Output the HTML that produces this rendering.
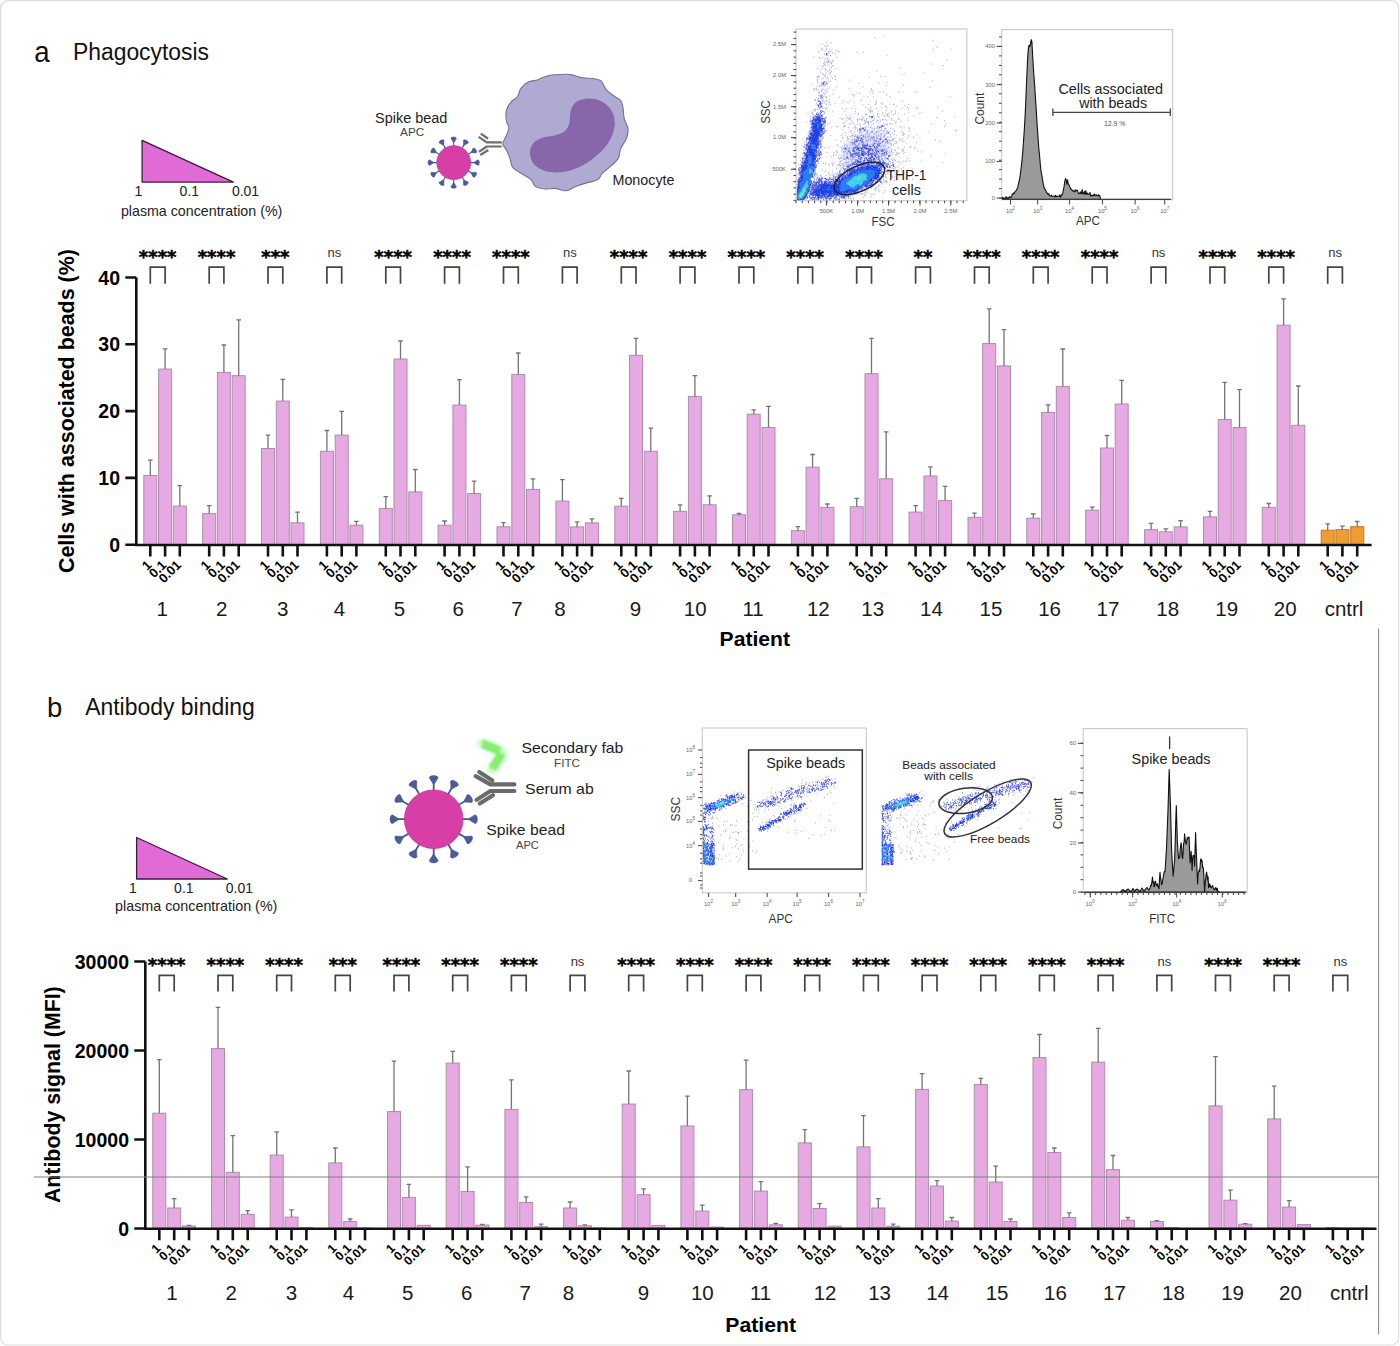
<!DOCTYPE html><html><head><meta charset="utf-8"><title>Figure</title><style>html,body{margin:0;padding:0;background:#fff;}svg{display:block;}text{font-family:"Liberation Sans", sans-serif;}</style></head><body>
<svg width="1400" height="1346" viewBox="0 0 1400 1346">
<rect x="0" y="0" width="1400" height="1346" fill="#fff"/>
<rect x="0.6" y="0.6" width="1398.2" height="1344.4" rx="7.5" fill="#fff" stroke="#dedede" stroke-width="1.2"/>
<text x="34.2" y="61.8" font-size="29.5" fill="#111" textLength="15.4" lengthAdjust="spacingAndGlyphs">a</text>
<text x="73" y="59.7" font-size="23.3" fill="#111" textLength="136" lengthAdjust="spacingAndGlyphs">Phagocytosis</text>
<text x="47" y="716.7" font-size="27.5" fill="#111">b</text>
<text x="85.2" y="715.1" font-size="23.3" fill="#111" textLength="169.6" lengthAdjust="spacingAndGlyphs">Antibody binding</text>
<path d="M142.1 140.3L233.4 182.1H142.1Z" fill="#e06ad6" stroke="#3c1a3c" stroke-width="1.3" stroke-linejoin="round"/>
<text x="134.6" y="196.4" font-size="14" fill="#222">1</text>
<text x="179.6" y="196.4" font-size="14" fill="#222">0.1</text>
<text x="231.9" y="196.4" font-size="14" fill="#222">0.01</text>
<text x="120.9" y="215.5" font-size="14.2" fill="#222" textLength="161.4" lengthAdjust="spacingAndGlyphs">plasma concentration (%)</text>
<path d="M136.6 837.5L227.3 879H136.6Z" fill="#e06ad6" stroke="#3c1a3c" stroke-width="1.3" stroke-linejoin="round"/>
<text x="129.1" y="892.9" font-size="14" fill="#222">1</text>
<text x="174.1" y="892.9" font-size="14" fill="#222">0.1</text>
<text x="225.8" y="892.9" font-size="14" fill="#222">0.01</text>
<text x="115.1" y="910.9" font-size="14.2" fill="#222" textLength="162.3" lengthAdjust="spacingAndGlyphs">plasma concentration (%)</text>
<rect x="143.8" y="475.5" width="13" height="69.2" fill="#e6a9e1" stroke="#ad8dad" stroke-width="1"/>
<path d="M150.3 475.5V460.1M148 460.1H152.6" stroke="#747474" stroke-width="1.3" fill="none"/>
<rect x="158.6" y="369.1" width="13" height="175.6" fill="#e6a9e1" stroke="#ad8dad" stroke-width="1"/>
<path d="M165.1 369.1V348.8M162.8 348.8H167.4" stroke="#747474" stroke-width="1.3" fill="none"/>
<rect x="173.3" y="506.1" width="13" height="38.6" fill="#e6a9e1" stroke="#ad8dad" stroke-width="1"/>
<path d="M179.8 506.1V485.7M177.5 485.7H182.1" stroke="#747474" stroke-width="1.3" fill="none"/>
<rect x="202.7" y="513.6" width="13" height="31.1" fill="#e6a9e1" stroke="#ad8dad" stroke-width="1"/>
<path d="M209.2 513.6V505.6M206.9 505.6H211.5" stroke="#747474" stroke-width="1.3" fill="none"/>
<rect x="217.4" y="372.4" width="13" height="172.3" fill="#e6a9e1" stroke="#ad8dad" stroke-width="1"/>
<path d="M223.9 372.4V345.0M221.6 345.0H226.2" stroke="#747474" stroke-width="1.3" fill="none"/>
<rect x="232.2" y="375.7" width="13" height="169.0" fill="#e6a9e1" stroke="#ad8dad" stroke-width="1"/>
<path d="M238.7 375.7V319.9M236.4 319.9H241" stroke="#747474" stroke-width="1.3" fill="none"/>
<rect x="261.5" y="448.5" width="13" height="96.2" fill="#e6a9e1" stroke="#ad8dad" stroke-width="1"/>
<path d="M268 448.5V435.1M265.7 435.1H270.3" stroke="#747474" stroke-width="1.3" fill="none"/>
<rect x="276.3" y="401.1" width="13" height="143.6" fill="#e6a9e1" stroke="#ad8dad" stroke-width="1"/>
<path d="M282.8 401.1V379.3M280.5 379.3H285.1" stroke="#747474" stroke-width="1.3" fill="none"/>
<rect x="291" y="522.8" width="13" height="21.9" fill="#e6a9e1" stroke="#ad8dad" stroke-width="1"/>
<path d="M297.5 522.8V512.1M295.2 512.1H299.8" stroke="#747474" stroke-width="1.3" fill="none"/>
<rect x="320.4" y="451.3" width="13" height="93.4" fill="#e6a9e1" stroke="#ad8dad" stroke-width="1"/>
<path d="M326.9 451.3V430.5M324.6 430.5H329.2" stroke="#747474" stroke-width="1.3" fill="none"/>
<rect x="335.2" y="435.1" width="13" height="109.6" fill="#e6a9e1" stroke="#ad8dad" stroke-width="1"/>
<path d="M341.7 435.1V411.4M339.4 411.4H344" stroke="#747474" stroke-width="1.3" fill="none"/>
<rect x="349.9" y="525.2" width="13" height="19.5" fill="#e6a9e1" stroke="#ad8dad" stroke-width="1"/>
<path d="M356.4 525.2V521.3M354.1 521.3H358.7" stroke="#747474" stroke-width="1.3" fill="none"/>
<rect x="379.3" y="508.4" width="13" height="36.3" fill="#e6a9e1" stroke="#ad8dad" stroke-width="1"/>
<path d="M385.8 508.4V496.6M383.5 496.6H388.1" stroke="#747474" stroke-width="1.3" fill="none"/>
<rect x="394" y="359.0" width="13" height="185.7" fill="#e6a9e1" stroke="#ad8dad" stroke-width="1"/>
<path d="M400.5 359.0V341.0M398.2 341.0H402.8" stroke="#747474" stroke-width="1.3" fill="none"/>
<rect x="408.8" y="491.9" width="13" height="52.8" fill="#e6a9e1" stroke="#ad8dad" stroke-width="1"/>
<path d="M415.3 491.9V469.5M413 469.5H417.6" stroke="#747474" stroke-width="1.3" fill="none"/>
<rect x="438.1" y="525.2" width="13" height="19.5" fill="#e6a9e1" stroke="#ad8dad" stroke-width="1"/>
<path d="M444.6 525.2V521.0M442.3 521.0H446.9" stroke="#747474" stroke-width="1.3" fill="none"/>
<rect x="452.9" y="405.1" width="13" height="139.6" fill="#e6a9e1" stroke="#ad8dad" stroke-width="1"/>
<path d="M459.4 405.1V379.7M457.1 379.7H461.7" stroke="#747474" stroke-width="1.3" fill="none"/>
<rect x="467.6" y="493.5" width="13" height="51.2" fill="#e6a9e1" stroke="#ad8dad" stroke-width="1"/>
<path d="M474.1 493.5V481.1M471.8 481.1H476.4" stroke="#747474" stroke-width="1.3" fill="none"/>
<rect x="497" y="526.8" width="13" height="17.9" fill="#e6a9e1" stroke="#ad8dad" stroke-width="1"/>
<path d="M503.5 526.8V522.6M501.2 522.6H505.8" stroke="#747474" stroke-width="1.3" fill="none"/>
<rect x="511.8" y="374.5" width="13" height="170.2" fill="#e6a9e1" stroke="#ad8dad" stroke-width="1"/>
<path d="M518.3 374.5V353.0M516 353.0H520.6" stroke="#747474" stroke-width="1.3" fill="none"/>
<rect x="526.5" y="489.4" width="13" height="55.3" fill="#e6a9e1" stroke="#ad8dad" stroke-width="1"/>
<path d="M533 489.4V478.8M530.7 478.8H535.3" stroke="#747474" stroke-width="1.3" fill="none"/>
<rect x="555.9" y="501.1" width="13" height="43.6" fill="#e6a9e1" stroke="#ad8dad" stroke-width="1"/>
<path d="M562.4 501.1V479.6M560.1 479.6H564.7" stroke="#747474" stroke-width="1.3" fill="none"/>
<rect x="570.6" y="526.9" width="13" height="17.8" fill="#e6a9e1" stroke="#ad8dad" stroke-width="1"/>
<path d="M577.1 526.9V521.9M574.8 521.9H579.4" stroke="#747474" stroke-width="1.3" fill="none"/>
<rect x="585.4" y="522.9" width="13" height="21.8" fill="#e6a9e1" stroke="#ad8dad" stroke-width="1"/>
<path d="M591.9 522.9V518.8M589.6 518.8H594.2" stroke="#747474" stroke-width="1.3" fill="none"/>
<rect x="614.8" y="506.2" width="13" height="38.5" fill="#e6a9e1" stroke="#ad8dad" stroke-width="1"/>
<path d="M621.3 506.2V498.3M619 498.3H623.6" stroke="#747474" stroke-width="1.3" fill="none"/>
<rect x="629.5" y="355.3" width="13" height="189.4" fill="#e6a9e1" stroke="#ad8dad" stroke-width="1"/>
<path d="M636 355.3V338.3M633.7 338.3H638.3" stroke="#747474" stroke-width="1.3" fill="none"/>
<rect x="644.3" y="451.3" width="13" height="93.4" fill="#e6a9e1" stroke="#ad8dad" stroke-width="1"/>
<path d="M650.8 451.3V428.1M648.5 428.1H653.1" stroke="#747474" stroke-width="1.3" fill="none"/>
<rect x="673.6" y="511.3" width="13" height="33.4" fill="#e6a9e1" stroke="#ad8dad" stroke-width="1"/>
<path d="M680.1 511.3V504.8M677.8 504.8H682.4" stroke="#747474" stroke-width="1.3" fill="none"/>
<rect x="688.4" y="396.4" width="13" height="148.3" fill="#e6a9e1" stroke="#ad8dad" stroke-width="1"/>
<path d="M694.9 396.4V375.7M692.6 375.7H697.2" stroke="#747474" stroke-width="1.3" fill="none"/>
<rect x="703.1" y="504.8" width="13" height="39.9" fill="#e6a9e1" stroke="#ad8dad" stroke-width="1"/>
<path d="M709.6 504.8V495.9M707.3 495.9H711.9" stroke="#747474" stroke-width="1.3" fill="none"/>
<rect x="732.5" y="514.8" width="13" height="29.9" fill="#e6a9e1" stroke="#ad8dad" stroke-width="1"/>
<path d="M739 514.8V513.5M736.7 513.5H741.3" stroke="#747474" stroke-width="1.3" fill="none"/>
<rect x="747.2" y="414.2" width="13" height="130.5" fill="#e6a9e1" stroke="#ad8dad" stroke-width="1"/>
<path d="M753.8 414.2V409.8M751.5 409.8H756" stroke="#747474" stroke-width="1.3" fill="none"/>
<rect x="762" y="427.4" width="13" height="117.3" fill="#e6a9e1" stroke="#ad8dad" stroke-width="1"/>
<path d="M768.5 427.4V406.4M766.2 406.4H770.8" stroke="#747474" stroke-width="1.3" fill="none"/>
<rect x="791.4" y="530.7" width="13" height="14.0" fill="#e6a9e1" stroke="#ad8dad" stroke-width="1"/>
<path d="M797.9 530.7V526.7M795.6 526.7H800.2" stroke="#747474" stroke-width="1.3" fill="none"/>
<rect x="806.1" y="467.2" width="13" height="77.5" fill="#e6a9e1" stroke="#ad8dad" stroke-width="1"/>
<path d="M812.6 467.2V454.5M810.3 454.5H814.9" stroke="#747474" stroke-width="1.3" fill="none"/>
<rect x="820.9" y="507.4" width="13" height="37.3" fill="#e6a9e1" stroke="#ad8dad" stroke-width="1"/>
<path d="M827.4 507.4V504.0M825.1 504.0H829.7" stroke="#747474" stroke-width="1.3" fill="none"/>
<rect x="850.2" y="506.7" width="13" height="38.0" fill="#e6a9e1" stroke="#ad8dad" stroke-width="1"/>
<path d="M856.7 506.7V498.3M854.4 498.3H859" stroke="#747474" stroke-width="1.3" fill="none"/>
<rect x="865" y="373.7" width="13" height="171.0" fill="#e6a9e1" stroke="#ad8dad" stroke-width="1"/>
<path d="M871.5 373.7V338.3M869.2 338.3H873.8" stroke="#747474" stroke-width="1.3" fill="none"/>
<rect x="879.7" y="478.8" width="13" height="65.9" fill="#e6a9e1" stroke="#ad8dad" stroke-width="1"/>
<path d="M886.2 478.8V431.8M883.9 431.8H888.5" stroke="#747474" stroke-width="1.3" fill="none"/>
<rect x="909.1" y="512.1" width="13" height="32.6" fill="#e6a9e1" stroke="#ad8dad" stroke-width="1"/>
<path d="M915.6 512.1V505.6M913.3 505.6H917.9" stroke="#747474" stroke-width="1.3" fill="none"/>
<rect x="923.9" y="476.0" width="13" height="68.7" fill="#e6a9e1" stroke="#ad8dad" stroke-width="1"/>
<path d="M930.4 476.0V466.8M928.1 466.8H932.7" stroke="#747474" stroke-width="1.3" fill="none"/>
<rect x="938.6" y="500.6" width="13" height="44.1" fill="#e6a9e1" stroke="#ad8dad" stroke-width="1"/>
<path d="M945.1 500.6V486.3M942.8 486.3H947.4" stroke="#747474" stroke-width="1.3" fill="none"/>
<rect x="968" y="517.3" width="13" height="27.4" fill="#e6a9e1" stroke="#ad8dad" stroke-width="1"/>
<path d="M974.5 517.3V513.2M972.2 513.2H976.8" stroke="#747474" stroke-width="1.3" fill="none"/>
<rect x="982.7" y="343.6" width="13" height="201.1" fill="#e6a9e1" stroke="#ad8dad" stroke-width="1"/>
<path d="M989.2 343.6V308.9M986.9 308.9H991.5" stroke="#747474" stroke-width="1.3" fill="none"/>
<rect x="997.5" y="365.9" width="13" height="178.8" fill="#e6a9e1" stroke="#ad8dad" stroke-width="1"/>
<path d="M1004 365.9V329.6M1001.7 329.6H1006.3" stroke="#747474" stroke-width="1.3" fill="none"/>
<rect x="1026.8" y="518.2" width="13" height="26.5" fill="#e6a9e1" stroke="#ad8dad" stroke-width="1"/>
<path d="M1033.3 518.2V514.0M1031 514.0H1035.6" stroke="#747474" stroke-width="1.3" fill="none"/>
<rect x="1041.6" y="412.4" width="13" height="132.3" fill="#e6a9e1" stroke="#ad8dad" stroke-width="1"/>
<path d="M1048.1 412.4V404.9M1045.8 404.9H1050.4" stroke="#747474" stroke-width="1.3" fill="none"/>
<rect x="1056.3" y="386.4" width="13" height="158.3" fill="#e6a9e1" stroke="#ad8dad" stroke-width="1"/>
<path d="M1062.8 386.4V349.0M1060.5 349.0H1065.1" stroke="#747474" stroke-width="1.3" fill="none"/>
<rect x="1085.7" y="510.2" width="13" height="34.5" fill="#e6a9e1" stroke="#ad8dad" stroke-width="1"/>
<path d="M1092.2 510.2V507.1M1089.9 507.1H1094.5" stroke="#747474" stroke-width="1.3" fill="none"/>
<rect x="1100.5" y="448.0" width="13" height="96.7" fill="#e6a9e1" stroke="#ad8dad" stroke-width="1"/>
<path d="M1107 448.0V435.5M1104.7 435.5H1109.3" stroke="#747474" stroke-width="1.3" fill="none"/>
<rect x="1115.2" y="404.0" width="13" height="140.7" fill="#e6a9e1" stroke="#ad8dad" stroke-width="1"/>
<path d="M1121.7 404.0V380.4M1119.4 380.4H1124" stroke="#747474" stroke-width="1.3" fill="none"/>
<rect x="1144.6" y="529.7" width="13" height="15.0" fill="#e6a9e1" stroke="#ad8dad" stroke-width="1"/>
<path d="M1151.1 529.7V523.4M1148.8 523.4H1153.4" stroke="#747474" stroke-width="1.3" fill="none"/>
<rect x="1159.3" y="531.8" width="13" height="12.9" fill="#e6a9e1" stroke="#ad8dad" stroke-width="1"/>
<path d="M1165.8 531.8V528.8M1163.5 528.8H1168.1" stroke="#747474" stroke-width="1.3" fill="none"/>
<rect x="1174.1" y="526.9" width="13" height="17.8" fill="#e6a9e1" stroke="#ad8dad" stroke-width="1"/>
<path d="M1180.6 526.9V520.7M1178.3 520.7H1182.9" stroke="#747474" stroke-width="1.3" fill="none"/>
<rect x="1203.5" y="516.9" width="13" height="27.8" fill="#e6a9e1" stroke="#ad8dad" stroke-width="1"/>
<path d="M1210 516.9V511.3M1207.7 511.3H1212.3" stroke="#747474" stroke-width="1.3" fill="none"/>
<rect x="1218.2" y="419.5" width="13" height="125.2" fill="#e6a9e1" stroke="#ad8dad" stroke-width="1"/>
<path d="M1224.7 419.5V382.4M1222.4 382.4H1227" stroke="#747474" stroke-width="1.3" fill="none"/>
<rect x="1233" y="427.6" width="13" height="117.1" fill="#e6a9e1" stroke="#ad8dad" stroke-width="1"/>
<path d="M1239.5 427.6V389.7M1237.2 389.7H1241.8" stroke="#747474" stroke-width="1.3" fill="none"/>
<rect x="1262.3" y="507.4" width="13" height="37.3" fill="#e6a9e1" stroke="#ad8dad" stroke-width="1"/>
<path d="M1268.8 507.4V503.5M1266.5 503.5H1271.1" stroke="#747474" stroke-width="1.3" fill="none"/>
<rect x="1277.1" y="325.2" width="13" height="219.5" fill="#e6a9e1" stroke="#ad8dad" stroke-width="1"/>
<path d="M1283.6 325.2V298.9M1281.3 298.9H1285.9" stroke="#747474" stroke-width="1.3" fill="none"/>
<rect x="1291.8" y="425.3" width="13" height="119.4" fill="#e6a9e1" stroke="#ad8dad" stroke-width="1"/>
<path d="M1298.3 425.3V386.0M1296 386.0H1300.6" stroke="#747474" stroke-width="1.3" fill="none"/>
<rect x="1321.2" y="530.2" width="13" height="14.5" fill="#ef9c33" stroke="#c47a22" stroke-width="1"/>
<path d="M1327.7 530.2V523.8M1325.4 523.8H1330" stroke="#747474" stroke-width="1.3" fill="none"/>
<rect x="1335.9" y="529.6" width="13" height="15.1" fill="#ef9c33" stroke="#c47a22" stroke-width="1"/>
<path d="M1342.4 529.6V526.1M1340.1 526.1H1344.7" stroke="#747474" stroke-width="1.3" fill="none"/>
<rect x="1350.7" y="526.7" width="13" height="18.0" fill="#ef9c33" stroke="#c47a22" stroke-width="1"/>
<path d="M1357.2 526.7V521.5M1354.9 521.5H1359.5" stroke="#747474" stroke-width="1.3" fill="none"/>
<path d="M136.3 277.5V546.2M135.1 545H1371.6" stroke="#111" stroke-width="2.6" fill="none"/>
<text x="120" y="551.7" font-size="19.5" font-weight="bold" text-anchor="end">0</text>
<text x="120" y="484.9" font-size="19.5" font-weight="bold" text-anchor="end">10</text>
<text x="120" y="418.1" font-size="19.5" font-weight="bold" text-anchor="end">20</text>
<text x="120" y="351.3" font-size="19.5" font-weight="bold" text-anchor="end">30</text>
<text x="120" y="284.5" font-size="19.5" font-weight="bold" text-anchor="end">40</text>
<path d="M125.3 544.7H136.3M125.3 477.9H136.3M125.3 411.1H136.3M125.3 344.3H136.3M125.3 277.5H136.3M150.3 544.7V556.5M165.1 544.7V556.5M179.8 544.7V556.5M209.2 544.7V556.5M223.9 544.7V556.5M238.7 544.7V556.5M268 544.7V556.5M282.8 544.7V556.5M297.5 544.7V556.5M326.9 544.7V556.5M341.7 544.7V556.5M356.4 544.7V556.5M385.8 544.7V556.5M400.5 544.7V556.5M415.3 544.7V556.5M444.6 544.7V556.5M459.4 544.7V556.5M474.1 544.7V556.5M503.5 544.7V556.5M518.3 544.7V556.5M533 544.7V556.5M562.4 544.7V556.5M577.1 544.7V556.5M591.9 544.7V556.5M621.3 544.7V556.5M636 544.7V556.5M650.8 544.7V556.5M680.1 544.7V556.5M694.9 544.7V556.5M709.6 544.7V556.5M739 544.7V556.5M753.8 544.7V556.5M768.5 544.7V556.5M797.9 544.7V556.5M812.6 544.7V556.5M827.4 544.7V556.5M856.7 544.7V556.5M871.5 544.7V556.5M886.2 544.7V556.5M915.6 544.7V556.5M930.4 544.7V556.5M945.1 544.7V556.5M974.5 544.7V556.5M989.2 544.7V556.5M1004 544.7V556.5M1033.3 544.7V556.5M1048.1 544.7V556.5M1062.8 544.7V556.5M1092.2 544.7V556.5M1107 544.7V556.5M1121.7 544.7V556.5M1151.1 544.7V556.5M1165.8 544.7V556.5M1180.6 544.7V556.5M1210 544.7V556.5M1224.7 544.7V556.5M1239.5 544.7V556.5M1268.8 544.7V556.5M1283.6 544.7V556.5M1298.3 544.7V556.5M1327.7 544.7V556.5M1342.4 544.7V556.5M1357.2 544.7V556.5" stroke="#111" stroke-width="2.6" fill="none"/>
<text transform="translate(152.3 565.8) rotate(-45)" font-size="13" font-weight="bold" text-anchor="end">1</text>
<text transform="translate(167.1 565.8) rotate(-45)" font-size="13" font-weight="bold" text-anchor="end">0.1</text>
<text transform="translate(181.8 565.8) rotate(-45)" font-size="13" font-weight="bold" text-anchor="end">0.01</text>
<text transform="translate(211.2 565.8) rotate(-45)" font-size="13" font-weight="bold" text-anchor="end">1</text>
<text transform="translate(225.9 565.8) rotate(-45)" font-size="13" font-weight="bold" text-anchor="end">0.1</text>
<text transform="translate(240.7 565.8) rotate(-45)" font-size="13" font-weight="bold" text-anchor="end">0.01</text>
<text transform="translate(270 565.8) rotate(-45)" font-size="13" font-weight="bold" text-anchor="end">1</text>
<text transform="translate(284.8 565.8) rotate(-45)" font-size="13" font-weight="bold" text-anchor="end">0.1</text>
<text transform="translate(299.5 565.8) rotate(-45)" font-size="13" font-weight="bold" text-anchor="end">0.01</text>
<text transform="translate(328.9 565.8) rotate(-45)" font-size="13" font-weight="bold" text-anchor="end">1</text>
<text transform="translate(343.7 565.8) rotate(-45)" font-size="13" font-weight="bold" text-anchor="end">0.1</text>
<text transform="translate(358.4 565.8) rotate(-45)" font-size="13" font-weight="bold" text-anchor="end">0.01</text>
<text transform="translate(387.8 565.8) rotate(-45)" font-size="13" font-weight="bold" text-anchor="end">1</text>
<text transform="translate(402.5 565.8) rotate(-45)" font-size="13" font-weight="bold" text-anchor="end">0.1</text>
<text transform="translate(417.3 565.8) rotate(-45)" font-size="13" font-weight="bold" text-anchor="end">0.01</text>
<text transform="translate(446.6 565.8) rotate(-45)" font-size="13" font-weight="bold" text-anchor="end">1</text>
<text transform="translate(461.4 565.8) rotate(-45)" font-size="13" font-weight="bold" text-anchor="end">0.1</text>
<text transform="translate(476.1 565.8) rotate(-45)" font-size="13" font-weight="bold" text-anchor="end">0.01</text>
<text transform="translate(505.5 565.8) rotate(-45)" font-size="13" font-weight="bold" text-anchor="end">1</text>
<text transform="translate(520.3 565.8) rotate(-45)" font-size="13" font-weight="bold" text-anchor="end">0.1</text>
<text transform="translate(535 565.8) rotate(-45)" font-size="13" font-weight="bold" text-anchor="end">0.01</text>
<text transform="translate(564.4 565.8) rotate(-45)" font-size="13" font-weight="bold" text-anchor="end">1</text>
<text transform="translate(579.1 565.8) rotate(-45)" font-size="13" font-weight="bold" text-anchor="end">0.1</text>
<text transform="translate(593.9 565.8) rotate(-45)" font-size="13" font-weight="bold" text-anchor="end">0.01</text>
<text transform="translate(623.3 565.8) rotate(-45)" font-size="13" font-weight="bold" text-anchor="end">1</text>
<text transform="translate(638 565.8) rotate(-45)" font-size="13" font-weight="bold" text-anchor="end">0.1</text>
<text transform="translate(652.8 565.8) rotate(-45)" font-size="13" font-weight="bold" text-anchor="end">0.01</text>
<text transform="translate(682.1 565.8) rotate(-45)" font-size="13" font-weight="bold" text-anchor="end">1</text>
<text transform="translate(696.9 565.8) rotate(-45)" font-size="13" font-weight="bold" text-anchor="end">0.1</text>
<text transform="translate(711.6 565.8) rotate(-45)" font-size="13" font-weight="bold" text-anchor="end">0.01</text>
<text transform="translate(741 565.8) rotate(-45)" font-size="13" font-weight="bold" text-anchor="end">1</text>
<text transform="translate(755.8 565.8) rotate(-45)" font-size="13" font-weight="bold" text-anchor="end">0.1</text>
<text transform="translate(770.5 565.8) rotate(-45)" font-size="13" font-weight="bold" text-anchor="end">0.01</text>
<text transform="translate(799.9 565.8) rotate(-45)" font-size="13" font-weight="bold" text-anchor="end">1</text>
<text transform="translate(814.6 565.8) rotate(-45)" font-size="13" font-weight="bold" text-anchor="end">0.1</text>
<text transform="translate(829.4 565.8) rotate(-45)" font-size="13" font-weight="bold" text-anchor="end">0.01</text>
<text transform="translate(858.7 565.8) rotate(-45)" font-size="13" font-weight="bold" text-anchor="end">1</text>
<text transform="translate(873.5 565.8) rotate(-45)" font-size="13" font-weight="bold" text-anchor="end">0.1</text>
<text transform="translate(888.2 565.8) rotate(-45)" font-size="13" font-weight="bold" text-anchor="end">0.01</text>
<text transform="translate(917.6 565.8) rotate(-45)" font-size="13" font-weight="bold" text-anchor="end">1</text>
<text transform="translate(932.4 565.8) rotate(-45)" font-size="13" font-weight="bold" text-anchor="end">0.1</text>
<text transform="translate(947.1 565.8) rotate(-45)" font-size="13" font-weight="bold" text-anchor="end">0.01</text>
<text transform="translate(976.5 565.8) rotate(-45)" font-size="13" font-weight="bold" text-anchor="end">1</text>
<text transform="translate(991.2 565.8) rotate(-45)" font-size="13" font-weight="bold" text-anchor="end">0.1</text>
<text transform="translate(1006 565.8) rotate(-45)" font-size="13" font-weight="bold" text-anchor="end">0.01</text>
<text transform="translate(1035.3 565.8) rotate(-45)" font-size="13" font-weight="bold" text-anchor="end">1</text>
<text transform="translate(1050.1 565.8) rotate(-45)" font-size="13" font-weight="bold" text-anchor="end">0.1</text>
<text transform="translate(1064.8 565.8) rotate(-45)" font-size="13" font-weight="bold" text-anchor="end">0.01</text>
<text transform="translate(1094.2 565.8) rotate(-45)" font-size="13" font-weight="bold" text-anchor="end">1</text>
<text transform="translate(1109 565.8) rotate(-45)" font-size="13" font-weight="bold" text-anchor="end">0.1</text>
<text transform="translate(1123.7 565.8) rotate(-45)" font-size="13" font-weight="bold" text-anchor="end">0.01</text>
<text transform="translate(1153.1 565.8) rotate(-45)" font-size="13" font-weight="bold" text-anchor="end">1</text>
<text transform="translate(1167.8 565.8) rotate(-45)" font-size="13" font-weight="bold" text-anchor="end">0.1</text>
<text transform="translate(1182.6 565.8) rotate(-45)" font-size="13" font-weight="bold" text-anchor="end">0.01</text>
<text transform="translate(1212 565.8) rotate(-45)" font-size="13" font-weight="bold" text-anchor="end">1</text>
<text transform="translate(1226.7 565.8) rotate(-45)" font-size="13" font-weight="bold" text-anchor="end">0.1</text>
<text transform="translate(1241.5 565.8) rotate(-45)" font-size="13" font-weight="bold" text-anchor="end">0.01</text>
<text transform="translate(1270.8 565.8) rotate(-45)" font-size="13" font-weight="bold" text-anchor="end">1</text>
<text transform="translate(1285.6 565.8) rotate(-45)" font-size="13" font-weight="bold" text-anchor="end">0.1</text>
<text transform="translate(1300.3 565.8) rotate(-45)" font-size="13" font-weight="bold" text-anchor="end">0.01</text>
<text transform="translate(1329.7 565.8) rotate(-45)" font-size="13" font-weight="bold" text-anchor="end">1</text>
<text transform="translate(1344.4 565.8) rotate(-45)" font-size="13" font-weight="bold" text-anchor="end">0.1</text>
<text transform="translate(1359.2 565.8) rotate(-45)" font-size="13" font-weight="bold" text-anchor="end">0.01</text>
<text x="162.3" y="616.3" font-size="20.5" text-anchor="middle" fill="#1a1a1a">1</text>
<text x="221.7" y="616.3" font-size="20.5" text-anchor="middle" fill="#1a1a1a">2</text>
<text x="282.6" y="616.3" font-size="20.5" text-anchor="middle" fill="#1a1a1a">3</text>
<text x="339.5" y="616.3" font-size="20.5" text-anchor="middle" fill="#1a1a1a">4</text>
<text x="399.4" y="616.3" font-size="20.5" text-anchor="middle" fill="#1a1a1a">5</text>
<text x="458.3" y="616.3" font-size="20.5" text-anchor="middle" fill="#1a1a1a">6</text>
<text x="516.9" y="616.3" font-size="20.5" text-anchor="middle" fill="#1a1a1a">7</text>
<text x="560" y="616.3" font-size="20.5" text-anchor="middle" fill="#1a1a1a">8</text>
<text x="635.4" y="616.3" font-size="20.5" text-anchor="middle" fill="#1a1a1a">9</text>
<text x="695.2" y="616.3" font-size="20.5" text-anchor="middle" fill="#1a1a1a">10</text>
<text x="753.1" y="616.3" font-size="20.5" text-anchor="middle" fill="#1a1a1a">11</text>
<text x="818.3" y="616.3" font-size="20.5" text-anchor="middle" fill="#1a1a1a">12</text>
<text x="872.7" y="616.3" font-size="20.5" text-anchor="middle" fill="#1a1a1a">13</text>
<text x="931.5" y="616.3" font-size="20.5" text-anchor="middle" fill="#1a1a1a">14</text>
<text x="990.9" y="616.3" font-size="20.5" text-anchor="middle" fill="#1a1a1a">15</text>
<text x="1049.6" y="616.3" font-size="20.5" text-anchor="middle" fill="#1a1a1a">16</text>
<text x="1108" y="616.3" font-size="20.5" text-anchor="middle" fill="#1a1a1a">17</text>
<text x="1167.7" y="616.3" font-size="20.5" text-anchor="middle" fill="#1a1a1a">18</text>
<text x="1226.7" y="616.3" font-size="20.5" text-anchor="middle" fill="#1a1a1a">19</text>
<text x="1285.2" y="616.3" font-size="20.5" text-anchor="middle" fill="#1a1a1a">20</text>
<text x="1344" y="616.3" font-size="20.5" text-anchor="middle" fill="#1a1a1a">cntrl</text>
<text x="157.7" y="262.6" font-size="18" font-weight="bold" text-anchor="middle" stroke="#000" stroke-width="0.5" style="font-family:&quot;DejaVu Sans&quot;,sans-serif">****</text>
<text x="216.5" y="262.6" font-size="18" font-weight="bold" text-anchor="middle" stroke="#000" stroke-width="0.5" style="font-family:&quot;DejaVu Sans&quot;,sans-serif">****</text>
<text x="275.4" y="262.6" font-size="18" font-weight="bold" text-anchor="middle" stroke="#000" stroke-width="0.5" style="font-family:&quot;DejaVu Sans&quot;,sans-serif">***</text>
<text x="334.3" y="257.4" font-size="13" text-anchor="middle" fill="#333">ns</text>
<text x="393.2" y="262.6" font-size="18" font-weight="bold" text-anchor="middle" stroke="#000" stroke-width="0.5" style="font-family:&quot;DejaVu Sans&quot;,sans-serif">****</text>
<text x="452" y="262.6" font-size="18" font-weight="bold" text-anchor="middle" stroke="#000" stroke-width="0.5" style="font-family:&quot;DejaVu Sans&quot;,sans-serif">****</text>
<text x="510.9" y="262.6" font-size="18" font-weight="bold" text-anchor="middle" stroke="#000" stroke-width="0.5" style="font-family:&quot;DejaVu Sans&quot;,sans-serif">****</text>
<text x="569.8" y="257.4" font-size="13" text-anchor="middle" fill="#333">ns</text>
<text x="628.6" y="262.6" font-size="18" font-weight="bold" text-anchor="middle" stroke="#000" stroke-width="0.5" style="font-family:&quot;DejaVu Sans&quot;,sans-serif">****</text>
<text x="687.5" y="262.6" font-size="18" font-weight="bold" text-anchor="middle" stroke="#000" stroke-width="0.5" style="font-family:&quot;DejaVu Sans&quot;,sans-serif">****</text>
<text x="746.4" y="262.6" font-size="18" font-weight="bold" text-anchor="middle" stroke="#000" stroke-width="0.5" style="font-family:&quot;DejaVu Sans&quot;,sans-serif">****</text>
<text x="805.2" y="262.6" font-size="18" font-weight="bold" text-anchor="middle" stroke="#000" stroke-width="0.5" style="font-family:&quot;DejaVu Sans&quot;,sans-serif">****</text>
<text x="864.1" y="262.6" font-size="18" font-weight="bold" text-anchor="middle" stroke="#000" stroke-width="0.5" style="font-family:&quot;DejaVu Sans&quot;,sans-serif">****</text>
<text x="923" y="262.6" font-size="18" font-weight="bold" text-anchor="middle" stroke="#000" stroke-width="0.5" style="font-family:&quot;DejaVu Sans&quot;,sans-serif">**</text>
<text x="981.9" y="262.6" font-size="18" font-weight="bold" text-anchor="middle" stroke="#000" stroke-width="0.5" style="font-family:&quot;DejaVu Sans&quot;,sans-serif">****</text>
<text x="1040.7" y="262.6" font-size="18" font-weight="bold" text-anchor="middle" stroke="#000" stroke-width="0.5" style="font-family:&quot;DejaVu Sans&quot;,sans-serif">****</text>
<text x="1099.6" y="262.6" font-size="18" font-weight="bold" text-anchor="middle" stroke="#000" stroke-width="0.5" style="font-family:&quot;DejaVu Sans&quot;,sans-serif">****</text>
<text x="1158.5" y="257.4" font-size="13" text-anchor="middle" fill="#333">ns</text>
<text x="1217.3" y="262.6" font-size="18" font-weight="bold" text-anchor="middle" stroke="#000" stroke-width="0.5" style="font-family:&quot;DejaVu Sans&quot;,sans-serif">****</text>
<text x="1276.2" y="262.6" font-size="18" font-weight="bold" text-anchor="middle" stroke="#000" stroke-width="0.5" style="font-family:&quot;DejaVu Sans&quot;,sans-serif">****</text>
<text x="1335.1" y="257.4" font-size="13" text-anchor="middle" fill="#333">ns</text>
<path d="M150.3 283.7V267.2H165.1V283.7M209.2 283.7V267.2H223.9V283.7M268 283.7V267.2H282.8V283.7M326.9 283.7V267.2H341.7V283.7M385.8 283.7V267.2H400.5V283.7M444.6 283.7V267.2H459.4V283.7M503.5 283.7V267.2H518.3V283.7M562.4 283.7V267.2H577.1V283.7M621.3 283.7V267.2H636V283.7M680.1 283.7V267.2H694.9V283.7M739 283.7V267.2H753.8V283.7M797.9 283.7V267.2H812.6V283.7M856.7 283.7V267.2H871.5V283.7M915.6 283.7V267.2H930.4V283.7M974.5 283.7V267.2H989.2V283.7M1033.3 283.7V267.2H1048.1V283.7M1092.2 283.7V267.2H1107V283.7M1151.1 283.7V267.2H1165.8V283.7M1210 283.7V267.2H1224.7V283.7M1268.8 283.7V267.2H1283.6V283.7M1327.7 283.7V267.2H1342.4V283.7" stroke="#444" stroke-width="1.7" fill="none"/>
<rect x="152.8" y="1113.2" width="13" height="115.3" fill="#e6a9e1" stroke="#ad8dad" stroke-width="1"/>
<path d="M159.3 1113.2V1059.7M157 1059.7H161.6" stroke="#747474" stroke-width="1.3" fill="none"/>
<rect x="167.7" y="1208.0" width="13" height="20.5" fill="#e6a9e1" stroke="#ad8dad" stroke-width="1"/>
<path d="M174.2 1208.0V1198.7M171.8 1198.7H176.5" stroke="#747474" stroke-width="1.3" fill="none"/>
<rect x="182.5" y="1226.0" width="13" height="2.5" fill="#e6a9e1" stroke="#ad8dad" stroke-width="1"/>
<path d="M189 1226.0V1225.3M186.7 1225.3H191.3" stroke="#747474" stroke-width="1.3" fill="none"/>
<rect x="211.5" y="1048.6" width="13" height="179.9" fill="#e6a9e1" stroke="#ad8dad" stroke-width="1"/>
<path d="M218 1048.6V1007.3M215.7 1007.3H220.3" stroke="#747474" stroke-width="1.3" fill="none"/>
<rect x="226.3" y="1172.3" width="13" height="56.2" fill="#e6a9e1" stroke="#ad8dad" stroke-width="1"/>
<path d="M232.8 1172.3V1135.6M230.5 1135.6H235.1" stroke="#747474" stroke-width="1.3" fill="none"/>
<rect x="241.2" y="1214.3" width="13" height="14.2" fill="#e6a9e1" stroke="#ad8dad" stroke-width="1"/>
<path d="M247.7 1214.3V1210.6M245.4 1210.6H250" stroke="#747474" stroke-width="1.3" fill="none"/>
<rect x="270.2" y="1155.1" width="13" height="73.4" fill="#e6a9e1" stroke="#ad8dad" stroke-width="1"/>
<path d="M276.7 1155.1V1131.9M274.4 1131.9H279" stroke="#747474" stroke-width="1.3" fill="none"/>
<rect x="285" y="1217.1" width="13" height="11.4" fill="#e6a9e1" stroke="#ad8dad" stroke-width="1"/>
<path d="M291.5 1217.1V1209.8M289.2 1209.8H293.8" stroke="#747474" stroke-width="1.3" fill="none"/>
<rect x="299.9" y="1227.6" width="13" height="0.9" fill="#e6a9e1" stroke="#ad8dad" stroke-width="1"/>
<rect x="328.8" y="1162.9" width="13" height="65.6" fill="#e6a9e1" stroke="#ad8dad" stroke-width="1"/>
<path d="M335.3 1162.9V1148.0M333 1148.0H337.6" stroke="#747474" stroke-width="1.3" fill="none"/>
<rect x="343.7" y="1221.5" width="13" height="7.0" fill="#e6a9e1" stroke="#ad8dad" stroke-width="1"/>
<path d="M350.2 1221.5V1219.0M347.9 1219.0H352.5" stroke="#747474" stroke-width="1.3" fill="none"/>
<rect x="358.5" y="1228.0" width="13" height="0.5" fill="#e6a9e1" stroke="#ad8dad" stroke-width="1"/>
<rect x="387.5" y="1111.6" width="13" height="116.9" fill="#e6a9e1" stroke="#ad8dad" stroke-width="1"/>
<path d="M394 1111.6V1061.2M391.7 1061.2H396.3" stroke="#747474" stroke-width="1.3" fill="none"/>
<rect x="402.4" y="1197.4" width="13" height="31.1" fill="#e6a9e1" stroke="#ad8dad" stroke-width="1"/>
<path d="M408.9 1197.4V1184.4M406.6 1184.4H411.2" stroke="#747474" stroke-width="1.3" fill="none"/>
<rect x="417.2" y="1225.3" width="13" height="3.2" fill="#e6a9e1" stroke="#ad8dad" stroke-width="1"/>
<rect x="446.2" y="1063.1" width="13" height="165.4" fill="#e6a9e1" stroke="#ad8dad" stroke-width="1"/>
<path d="M452.7 1063.1V1051.4M450.4 1051.4H455" stroke="#747474" stroke-width="1.3" fill="none"/>
<rect x="461.1" y="1191.4" width="13" height="37.1" fill="#e6a9e1" stroke="#ad8dad" stroke-width="1"/>
<path d="M467.6 1191.4V1166.8M465.2 1166.8H469.9" stroke="#747474" stroke-width="1.3" fill="none"/>
<rect x="475.9" y="1225.1" width="13" height="3.4" fill="#e6a9e1" stroke="#ad8dad" stroke-width="1"/>
<path d="M482.4 1225.1V1224.5M480.1 1224.5H484.7" stroke="#747474" stroke-width="1.3" fill="none"/>
<rect x="504.9" y="1109.4" width="13" height="119.1" fill="#e6a9e1" stroke="#ad8dad" stroke-width="1"/>
<path d="M511.4 1109.4V1079.9M509.1 1079.9H513.7" stroke="#747474" stroke-width="1.3" fill="none"/>
<rect x="519.7" y="1202.4" width="13" height="26.1" fill="#e6a9e1" stroke="#ad8dad" stroke-width="1"/>
<path d="M526.2 1202.4V1196.9M523.9 1196.9H528.5" stroke="#747474" stroke-width="1.3" fill="none"/>
<rect x="534.6" y="1226.7" width="13" height="1.8" fill="#e6a9e1" stroke="#ad8dad" stroke-width="1"/>
<path d="M541.1 1226.7V1224.2M538.8 1224.2H543.4" stroke="#747474" stroke-width="1.3" fill="none"/>
<rect x="563.6" y="1208.0" width="13" height="20.5" fill="#e6a9e1" stroke="#ad8dad" stroke-width="1"/>
<path d="M570.1 1208.0V1202.0M567.8 1202.0H572.4" stroke="#747474" stroke-width="1.3" fill="none"/>
<rect x="578.4" y="1225.8" width="13" height="2.7" fill="#e6a9e1" stroke="#ad8dad" stroke-width="1"/>
<path d="M584.9 1225.8V1224.9M582.6 1224.9H587.2" stroke="#747474" stroke-width="1.3" fill="none"/>
<rect x="593.3" y="1228.1" width="13" height="0.4" fill="#e6a9e1" stroke="#ad8dad" stroke-width="1"/>
<rect x="622.2" y="1104.1" width="13" height="124.4" fill="#e6a9e1" stroke="#ad8dad" stroke-width="1"/>
<path d="M628.7 1104.1V1071.0M626.4 1071.0H631" stroke="#747474" stroke-width="1.3" fill="none"/>
<rect x="637.1" y="1194.7" width="13" height="33.8" fill="#e6a9e1" stroke="#ad8dad" stroke-width="1"/>
<path d="M643.6 1194.7V1188.9M641.3 1188.9H645.9" stroke="#747474" stroke-width="1.3" fill="none"/>
<rect x="651.9" y="1225.4" width="13" height="3.1" fill="#e6a9e1" stroke="#ad8dad" stroke-width="1"/>
<rect x="680.9" y="1126.0" width="13" height="102.5" fill="#e6a9e1" stroke="#ad8dad" stroke-width="1"/>
<path d="M687.4 1126.0V1096.1M685.1 1096.1H689.7" stroke="#747474" stroke-width="1.3" fill="none"/>
<rect x="695.8" y="1211.1" width="13" height="17.4" fill="#e6a9e1" stroke="#ad8dad" stroke-width="1"/>
<path d="M702.3 1211.1V1205.1M700 1205.1H704.6" stroke="#747474" stroke-width="1.3" fill="none"/>
<rect x="710.6" y="1227.1" width="13" height="1.4" fill="#e6a9e1" stroke="#ad8dad" stroke-width="1"/>
<rect x="739.6" y="1089.7" width="13" height="138.8" fill="#e6a9e1" stroke="#ad8dad" stroke-width="1"/>
<path d="M746.1 1089.7V1060.1M743.8 1060.1H748.4" stroke="#747474" stroke-width="1.3" fill="none"/>
<rect x="754.4" y="1191.1" width="13" height="37.4" fill="#e6a9e1" stroke="#ad8dad" stroke-width="1"/>
<path d="M760.9 1191.1V1181.6M758.6 1181.6H763.2" stroke="#747474" stroke-width="1.3" fill="none"/>
<rect x="769.3" y="1224.8" width="13" height="3.7" fill="#e6a9e1" stroke="#ad8dad" stroke-width="1"/>
<path d="M775.8 1224.8V1223.3M773.5 1223.3H778.1" stroke="#747474" stroke-width="1.3" fill="none"/>
<rect x="798.3" y="1142.9" width="13" height="85.6" fill="#e6a9e1" stroke="#ad8dad" stroke-width="1"/>
<path d="M804.8 1142.9V1129.7M802.5 1129.7H807.1" stroke="#747474" stroke-width="1.3" fill="none"/>
<rect x="813.1" y="1208.5" width="13" height="20.0" fill="#e6a9e1" stroke="#ad8dad" stroke-width="1"/>
<path d="M819.6 1208.5V1203.6M817.3 1203.6H821.9" stroke="#747474" stroke-width="1.3" fill="none"/>
<rect x="828" y="1226.2" width="13" height="2.3" fill="#e6a9e1" stroke="#ad8dad" stroke-width="1"/>
<rect x="857" y="1146.9" width="13" height="81.6" fill="#e6a9e1" stroke="#ad8dad" stroke-width="1"/>
<path d="M863.5 1146.9V1115.6M861.2 1115.6H865.8" stroke="#747474" stroke-width="1.3" fill="none"/>
<rect x="871.8" y="1208.0" width="13" height="20.5" fill="#e6a9e1" stroke="#ad8dad" stroke-width="1"/>
<path d="M878.3 1208.0V1198.7M876 1198.7H880.6" stroke="#747474" stroke-width="1.3" fill="none"/>
<rect x="886.7" y="1226.2" width="13" height="2.3" fill="#e6a9e1" stroke="#ad8dad" stroke-width="1"/>
<path d="M893.2 1226.2V1224.2M890.9 1224.2H895.5" stroke="#747474" stroke-width="1.3" fill="none"/>
<rect x="915.6" y="1089.4" width="13" height="139.1" fill="#e6a9e1" stroke="#ad8dad" stroke-width="1"/>
<path d="M922.1 1089.4V1073.6M919.8 1073.6H924.4" stroke="#747474" stroke-width="1.3" fill="none"/>
<rect x="930.5" y="1186.0" width="13" height="42.5" fill="#e6a9e1" stroke="#ad8dad" stroke-width="1"/>
<path d="M937 1186.0V1180.7M934.7 1180.7H939.3" stroke="#747474" stroke-width="1.3" fill="none"/>
<rect x="945.3" y="1221.1" width="13" height="7.4" fill="#e6a9e1" stroke="#ad8dad" stroke-width="1"/>
<path d="M951.8 1221.1V1217.5M949.5 1217.5H954.1" stroke="#747474" stroke-width="1.3" fill="none"/>
<rect x="974.3" y="1084.6" width="13" height="143.9" fill="#e6a9e1" stroke="#ad8dad" stroke-width="1"/>
<path d="M980.8 1084.6V1078.3M978.5 1078.3H983.1" stroke="#747474" stroke-width="1.3" fill="none"/>
<rect x="989.2" y="1182.0" width="13" height="46.5" fill="#e6a9e1" stroke="#ad8dad" stroke-width="1"/>
<path d="M995.7 1182.0V1166.2M993.4 1166.2H998" stroke="#747474" stroke-width="1.3" fill="none"/>
<rect x="1004" y="1221.5" width="13" height="7.0" fill="#e6a9e1" stroke="#ad8dad" stroke-width="1"/>
<path d="M1010.5 1221.5V1219.0M1008.2 1219.0H1012.8" stroke="#747474" stroke-width="1.3" fill="none"/>
<rect x="1033" y="1057.6" width="13" height="170.9" fill="#e6a9e1" stroke="#ad8dad" stroke-width="1"/>
<path d="M1039.5 1057.6V1034.5M1037.2 1034.5H1041.8" stroke="#747474" stroke-width="1.3" fill="none"/>
<rect x="1047.8" y="1152.5" width="13" height="76.0" fill="#e6a9e1" stroke="#ad8dad" stroke-width="1"/>
<path d="M1054.3 1152.5V1148.0M1052 1148.0H1056.6" stroke="#747474" stroke-width="1.3" fill="none"/>
<rect x="1062.7" y="1217.5" width="13" height="11.0" fill="#e6a9e1" stroke="#ad8dad" stroke-width="1"/>
<path d="M1069.2 1217.5V1212.9M1066.9 1212.9H1071.5" stroke="#747474" stroke-width="1.3" fill="none"/>
<rect x="1091.7" y="1062.2" width="13" height="166.3" fill="#e6a9e1" stroke="#ad8dad" stroke-width="1"/>
<path d="M1098.2 1062.2V1028.4M1095.9 1028.4H1100.5" stroke="#747474" stroke-width="1.3" fill="none"/>
<rect x="1106.5" y="1169.6" width="13" height="58.9" fill="#e6a9e1" stroke="#ad8dad" stroke-width="1"/>
<path d="M1113 1169.6V1155.5M1110.7 1155.5H1115.3" stroke="#747474" stroke-width="1.3" fill="none"/>
<rect x="1121.4" y="1220.2" width="13" height="8.3" fill="#e6a9e1" stroke="#ad8dad" stroke-width="1"/>
<path d="M1127.9 1220.2V1217.5M1125.6 1217.5H1130.2" stroke="#747474" stroke-width="1.3" fill="none"/>
<rect x="1150.4" y="1221.5" width="13" height="7.0" fill="#e6a9e1" stroke="#ad8dad" stroke-width="1"/>
<path d="M1156.9 1221.5V1220.7M1154.6 1220.7H1159.2" stroke="#747474" stroke-width="1.3" fill="none"/>
<rect x="1165.2" y="1227.6" width="13" height="0.9" fill="#e6a9e1" stroke="#ad8dad" stroke-width="1"/>
<rect x="1209" y="1105.9" width="13" height="122.6" fill="#e6a9e1" stroke="#ad8dad" stroke-width="1"/>
<path d="M1215.5 1105.9V1056.7M1213.2 1056.7H1217.8" stroke="#747474" stroke-width="1.3" fill="none"/>
<rect x="1223.9" y="1200.2" width="13" height="28.3" fill="#e6a9e1" stroke="#ad8dad" stroke-width="1"/>
<path d="M1230.4 1200.2V1190.2M1228.1 1190.2H1232.7" stroke="#747474" stroke-width="1.3" fill="none"/>
<rect x="1238.7" y="1224.2" width="13" height="4.3" fill="#e6a9e1" stroke="#ad8dad" stroke-width="1"/>
<path d="M1245.2 1224.2V1223.6M1242.9 1223.6H1247.5" stroke="#747474" stroke-width="1.3" fill="none"/>
<rect x="1267.7" y="1118.9" width="13" height="109.6" fill="#e6a9e1" stroke="#ad8dad" stroke-width="1"/>
<path d="M1274.2 1118.9V1086.1M1271.9 1086.1H1276.5" stroke="#747474" stroke-width="1.3" fill="none"/>
<rect x="1282.6" y="1207.1" width="13" height="21.4" fill="#e6a9e1" stroke="#ad8dad" stroke-width="1"/>
<path d="M1289.1 1207.1V1200.6M1286.8 1200.6H1291.4" stroke="#747474" stroke-width="1.3" fill="none"/>
<rect x="1297.4" y="1224.6" width="13" height="3.9" fill="#e6a9e1" stroke="#ad8dad" stroke-width="1"/>
<rect x="1326.4" y="1227.6" width="13" height="0.9" fill="#e6a9e1" stroke="#ad8dad" stroke-width="1"/>
<rect x="1341.2" y="1228.1" width="13" height="0.4" fill="#e6a9e1" stroke="#ad8dad" stroke-width="1"/>
<rect x="1356.1" y="1228.1" width="13" height="0.4" fill="#e6a9e1" stroke="#ad8dad" stroke-width="1"/>
<path d="M145.3 961.5V1230M144.1 1228.8H1376.5" stroke="#111" stroke-width="2.6" fill="none"/>
<text x="129" y="1235.5" font-size="19.5" font-weight="bold" text-anchor="end">0</text>
<text x="129" y="1146.5" font-size="19.5" font-weight="bold" text-anchor="end">10000</text>
<text x="129" y="1057.5" font-size="19.5" font-weight="bold" text-anchor="end">20000</text>
<text x="129" y="968.5" font-size="19.5" font-weight="bold" text-anchor="end">30000</text>
<path d="M134.3 1228.5H145.3M134.3 1139.5H145.3M134.3 1050.5H145.3M134.3 961.5H145.3M159.3 1228.5V1240.3M174.2 1228.5V1240.3M189 1228.5V1240.3M218 1228.5V1240.3M232.8 1228.5V1240.3M247.7 1228.5V1240.3M276.7 1228.5V1240.3M291.5 1228.5V1240.3M306.4 1228.5V1240.3M335.3 1228.5V1240.3M350.2 1228.5V1240.3M365 1228.5V1240.3M394 1228.5V1240.3M408.9 1228.5V1240.3M423.7 1228.5V1240.3M452.7 1228.5V1240.3M467.6 1228.5V1240.3M482.4 1228.5V1240.3M511.4 1228.5V1240.3M526.2 1228.5V1240.3M541.1 1228.5V1240.3M570.1 1228.5V1240.3M584.9 1228.5V1240.3M599.8 1228.5V1240.3M628.7 1228.5V1240.3M643.6 1228.5V1240.3M658.4 1228.5V1240.3M687.4 1228.5V1240.3M702.3 1228.5V1240.3M717.1 1228.5V1240.3M746.1 1228.5V1240.3M760.9 1228.5V1240.3M775.8 1228.5V1240.3M804.8 1228.5V1240.3M819.6 1228.5V1240.3M834.5 1228.5V1240.3M863.5 1228.5V1240.3M878.3 1228.5V1240.3M893.2 1228.5V1240.3M922.1 1228.5V1240.3M937 1228.5V1240.3M951.8 1228.5V1240.3M980.8 1228.5V1240.3M995.7 1228.5V1240.3M1010.5 1228.5V1240.3M1039.5 1228.5V1240.3M1054.3 1228.5V1240.3M1069.2 1228.5V1240.3M1098.2 1228.5V1240.3M1113 1228.5V1240.3M1127.9 1228.5V1240.3M1156.9 1228.5V1240.3M1171.7 1228.5V1240.3M1186.6 1228.5V1240.3M1215.5 1228.5V1240.3M1230.4 1228.5V1240.3M1245.2 1228.5V1240.3M1274.2 1228.5V1240.3M1289.1 1228.5V1240.3M1303.9 1228.5V1240.3M1332.9 1228.5V1240.3M1347.7 1228.5V1240.3M1362.6 1228.5V1240.3" stroke="#111" stroke-width="2.6" fill="none"/>
<text transform="translate(161.3 1249) rotate(-45)" font-size="12.4" font-weight="bold" text-anchor="end">1</text>
<text transform="translate(176.2 1249) rotate(-45)" font-size="12.4" font-weight="bold" text-anchor="end">0.1</text>
<text transform="translate(191 1249) rotate(-45)" font-size="12.4" font-weight="bold" text-anchor="end">0.01</text>
<text transform="translate(220 1249) rotate(-45)" font-size="12.4" font-weight="bold" text-anchor="end">1</text>
<text transform="translate(234.8 1249) rotate(-45)" font-size="12.4" font-weight="bold" text-anchor="end">0.1</text>
<text transform="translate(249.7 1249) rotate(-45)" font-size="12.4" font-weight="bold" text-anchor="end">0.01</text>
<text transform="translate(278.7 1249) rotate(-45)" font-size="12.4" font-weight="bold" text-anchor="end">1</text>
<text transform="translate(293.5 1249) rotate(-45)" font-size="12.4" font-weight="bold" text-anchor="end">0.1</text>
<text transform="translate(308.4 1249) rotate(-45)" font-size="12.4" font-weight="bold" text-anchor="end">0.01</text>
<text transform="translate(337.3 1249) rotate(-45)" font-size="12.4" font-weight="bold" text-anchor="end">1</text>
<text transform="translate(352.2 1249) rotate(-45)" font-size="12.4" font-weight="bold" text-anchor="end">0.1</text>
<text transform="translate(367 1249) rotate(-45)" font-size="12.4" font-weight="bold" text-anchor="end">0.01</text>
<text transform="translate(396 1249) rotate(-45)" font-size="12.4" font-weight="bold" text-anchor="end">1</text>
<text transform="translate(410.9 1249) rotate(-45)" font-size="12.4" font-weight="bold" text-anchor="end">0.1</text>
<text transform="translate(425.7 1249) rotate(-45)" font-size="12.4" font-weight="bold" text-anchor="end">0.01</text>
<text transform="translate(454.7 1249) rotate(-45)" font-size="12.4" font-weight="bold" text-anchor="end">1</text>
<text transform="translate(469.6 1249) rotate(-45)" font-size="12.4" font-weight="bold" text-anchor="end">0.1</text>
<text transform="translate(484.4 1249) rotate(-45)" font-size="12.4" font-weight="bold" text-anchor="end">0.01</text>
<text transform="translate(513.4 1249) rotate(-45)" font-size="12.4" font-weight="bold" text-anchor="end">1</text>
<text transform="translate(528.2 1249) rotate(-45)" font-size="12.4" font-weight="bold" text-anchor="end">0.1</text>
<text transform="translate(543.1 1249) rotate(-45)" font-size="12.4" font-weight="bold" text-anchor="end">0.01</text>
<text transform="translate(572.1 1249) rotate(-45)" font-size="12.4" font-weight="bold" text-anchor="end">1</text>
<text transform="translate(586.9 1249) rotate(-45)" font-size="12.4" font-weight="bold" text-anchor="end">0.1</text>
<text transform="translate(601.8 1249) rotate(-45)" font-size="12.4" font-weight="bold" text-anchor="end">0.01</text>
<text transform="translate(630.7 1249) rotate(-45)" font-size="12.4" font-weight="bold" text-anchor="end">1</text>
<text transform="translate(645.6 1249) rotate(-45)" font-size="12.4" font-weight="bold" text-anchor="end">0.1</text>
<text transform="translate(660.4 1249) rotate(-45)" font-size="12.4" font-weight="bold" text-anchor="end">0.01</text>
<text transform="translate(689.4 1249) rotate(-45)" font-size="12.4" font-weight="bold" text-anchor="end">1</text>
<text transform="translate(704.3 1249) rotate(-45)" font-size="12.4" font-weight="bold" text-anchor="end">0.1</text>
<text transform="translate(719.1 1249) rotate(-45)" font-size="12.4" font-weight="bold" text-anchor="end">0.01</text>
<text transform="translate(748.1 1249) rotate(-45)" font-size="12.4" font-weight="bold" text-anchor="end">1</text>
<text transform="translate(762.9 1249) rotate(-45)" font-size="12.4" font-weight="bold" text-anchor="end">0.1</text>
<text transform="translate(777.8 1249) rotate(-45)" font-size="12.4" font-weight="bold" text-anchor="end">0.01</text>
<text transform="translate(806.8 1249) rotate(-45)" font-size="12.4" font-weight="bold" text-anchor="end">1</text>
<text transform="translate(821.6 1249) rotate(-45)" font-size="12.4" font-weight="bold" text-anchor="end">0.1</text>
<text transform="translate(836.5 1249) rotate(-45)" font-size="12.4" font-weight="bold" text-anchor="end">0.01</text>
<text transform="translate(865.5 1249) rotate(-45)" font-size="12.4" font-weight="bold" text-anchor="end">1</text>
<text transform="translate(880.3 1249) rotate(-45)" font-size="12.4" font-weight="bold" text-anchor="end">0.1</text>
<text transform="translate(895.2 1249) rotate(-45)" font-size="12.4" font-weight="bold" text-anchor="end">0.01</text>
<text transform="translate(924.1 1249) rotate(-45)" font-size="12.4" font-weight="bold" text-anchor="end">1</text>
<text transform="translate(939 1249) rotate(-45)" font-size="12.4" font-weight="bold" text-anchor="end">0.1</text>
<text transform="translate(953.8 1249) rotate(-45)" font-size="12.4" font-weight="bold" text-anchor="end">0.01</text>
<text transform="translate(982.8 1249) rotate(-45)" font-size="12.4" font-weight="bold" text-anchor="end">1</text>
<text transform="translate(997.7 1249) rotate(-45)" font-size="12.4" font-weight="bold" text-anchor="end">0.1</text>
<text transform="translate(1012.5 1249) rotate(-45)" font-size="12.4" font-weight="bold" text-anchor="end">0.01</text>
<text transform="translate(1041.5 1249) rotate(-45)" font-size="12.4" font-weight="bold" text-anchor="end">1</text>
<text transform="translate(1056.3 1249) rotate(-45)" font-size="12.4" font-weight="bold" text-anchor="end">0.1</text>
<text transform="translate(1071.2 1249) rotate(-45)" font-size="12.4" font-weight="bold" text-anchor="end">0.01</text>
<text transform="translate(1100.2 1249) rotate(-45)" font-size="12.4" font-weight="bold" text-anchor="end">1</text>
<text transform="translate(1115 1249) rotate(-45)" font-size="12.4" font-weight="bold" text-anchor="end">0.1</text>
<text transform="translate(1129.9 1249) rotate(-45)" font-size="12.4" font-weight="bold" text-anchor="end">0.01</text>
<text transform="translate(1158.9 1249) rotate(-45)" font-size="12.4" font-weight="bold" text-anchor="end">1</text>
<text transform="translate(1173.7 1249) rotate(-45)" font-size="12.4" font-weight="bold" text-anchor="end">0.1</text>
<text transform="translate(1188.6 1249) rotate(-45)" font-size="12.4" font-weight="bold" text-anchor="end">0.01</text>
<text transform="translate(1217.5 1249) rotate(-45)" font-size="12.4" font-weight="bold" text-anchor="end">1</text>
<text transform="translate(1232.4 1249) rotate(-45)" font-size="12.4" font-weight="bold" text-anchor="end">0.1</text>
<text transform="translate(1247.2 1249) rotate(-45)" font-size="12.4" font-weight="bold" text-anchor="end">0.01</text>
<text transform="translate(1276.2 1249) rotate(-45)" font-size="12.4" font-weight="bold" text-anchor="end">1</text>
<text transform="translate(1291.1 1249) rotate(-45)" font-size="12.4" font-weight="bold" text-anchor="end">0.1</text>
<text transform="translate(1305.9 1249) rotate(-45)" font-size="12.4" font-weight="bold" text-anchor="end">0.01</text>
<text transform="translate(1334.9 1249) rotate(-45)" font-size="12.4" font-weight="bold" text-anchor="end">1</text>
<text transform="translate(1349.7 1249) rotate(-45)" font-size="12.4" font-weight="bold" text-anchor="end">0.1</text>
<text transform="translate(1364.6 1249) rotate(-45)" font-size="12.4" font-weight="bold" text-anchor="end">0.01</text>
<text x="172" y="1299.5" font-size="20.5" text-anchor="middle" fill="#1a1a1a">1</text>
<text x="231.1" y="1299.5" font-size="20.5" text-anchor="middle" fill="#1a1a1a">2</text>
<text x="291.4" y="1299.5" font-size="20.5" text-anchor="middle" fill="#1a1a1a">3</text>
<text x="348.4" y="1299.5" font-size="20.5" text-anchor="middle" fill="#1a1a1a">4</text>
<text x="407.7" y="1299.5" font-size="20.5" text-anchor="middle" fill="#1a1a1a">5</text>
<text x="466.8" y="1299.5" font-size="20.5" text-anchor="middle" fill="#1a1a1a">6</text>
<text x="525.1" y="1299.5" font-size="20.5" text-anchor="middle" fill="#1a1a1a">7</text>
<text x="568.4" y="1299.5" font-size="20.5" text-anchor="middle" fill="#1a1a1a">8</text>
<text x="643.4" y="1299.5" font-size="20.5" text-anchor="middle" fill="#1a1a1a">9</text>
<text x="702.3" y="1299.5" font-size="20.5" text-anchor="middle" fill="#1a1a1a">10</text>
<text x="760.6" y="1299.5" font-size="20.5" text-anchor="middle" fill="#1a1a1a">11</text>
<text x="825.1" y="1299.5" font-size="20.5" text-anchor="middle" fill="#1a1a1a">12</text>
<text x="879.6" y="1299.5" font-size="20.5" text-anchor="middle" fill="#1a1a1a">13</text>
<text x="937.6" y="1299.5" font-size="20.5" text-anchor="middle" fill="#1a1a1a">14</text>
<text x="997.1" y="1299.5" font-size="20.5" text-anchor="middle" fill="#1a1a1a">15</text>
<text x="1055.4" y="1299.5" font-size="20.5" text-anchor="middle" fill="#1a1a1a">16</text>
<text x="1114.4" y="1299.5" font-size="20.5" text-anchor="middle" fill="#1a1a1a">17</text>
<text x="1173.5" y="1299.5" font-size="20.5" text-anchor="middle" fill="#1a1a1a">18</text>
<text x="1232.6" y="1299.5" font-size="20.5" text-anchor="middle" fill="#1a1a1a">19</text>
<text x="1290.5" y="1299.5" font-size="20.5" text-anchor="middle" fill="#1a1a1a">20</text>
<text x="1349.3" y="1299.5" font-size="20.5" text-anchor="middle" fill="#1a1a1a">cntrl</text>
<text x="166.7" y="971" font-size="18" font-weight="bold" text-anchor="middle" stroke="#000" stroke-width="0.5" style="font-family:&quot;DejaVu Sans&quot;,sans-serif">****</text>
<text x="225.4" y="971" font-size="18" font-weight="bold" text-anchor="middle" stroke="#000" stroke-width="0.5" style="font-family:&quot;DejaVu Sans&quot;,sans-serif">****</text>
<text x="284.1" y="971" font-size="18" font-weight="bold" text-anchor="middle" stroke="#000" stroke-width="0.5" style="font-family:&quot;DejaVu Sans&quot;,sans-serif">****</text>
<text x="342.8" y="971" font-size="18" font-weight="bold" text-anchor="middle" stroke="#000" stroke-width="0.5" style="font-family:&quot;DejaVu Sans&quot;,sans-serif">***</text>
<text x="401.4" y="971" font-size="18" font-weight="bold" text-anchor="middle" stroke="#000" stroke-width="0.5" style="font-family:&quot;DejaVu Sans&quot;,sans-serif">****</text>
<text x="460.1" y="971" font-size="18" font-weight="bold" text-anchor="middle" stroke="#000" stroke-width="0.5" style="font-family:&quot;DejaVu Sans&quot;,sans-serif">****</text>
<text x="518.8" y="971" font-size="18" font-weight="bold" text-anchor="middle" stroke="#000" stroke-width="0.5" style="font-family:&quot;DejaVu Sans&quot;,sans-serif">****</text>
<text x="577.5" y="965.8" font-size="13" text-anchor="middle" fill="#333">ns</text>
<text x="636.2" y="971" font-size="18" font-weight="bold" text-anchor="middle" stroke="#000" stroke-width="0.5" style="font-family:&quot;DejaVu Sans&quot;,sans-serif">****</text>
<text x="694.8" y="971" font-size="18" font-weight="bold" text-anchor="middle" stroke="#000" stroke-width="0.5" style="font-family:&quot;DejaVu Sans&quot;,sans-serif">****</text>
<text x="753.5" y="971" font-size="18" font-weight="bold" text-anchor="middle" stroke="#000" stroke-width="0.5" style="font-family:&quot;DejaVu Sans&quot;,sans-serif">****</text>
<text x="812.2" y="971" font-size="18" font-weight="bold" text-anchor="middle" stroke="#000" stroke-width="0.5" style="font-family:&quot;DejaVu Sans&quot;,sans-serif">****</text>
<text x="870.9" y="971" font-size="18" font-weight="bold" text-anchor="middle" stroke="#000" stroke-width="0.5" style="font-family:&quot;DejaVu Sans&quot;,sans-serif">****</text>
<text x="929.6" y="971" font-size="18" font-weight="bold" text-anchor="middle" stroke="#000" stroke-width="0.5" style="font-family:&quot;DejaVu Sans&quot;,sans-serif">****</text>
<text x="988.2" y="971" font-size="18" font-weight="bold" text-anchor="middle" stroke="#000" stroke-width="0.5" style="font-family:&quot;DejaVu Sans&quot;,sans-serif">****</text>
<text x="1046.9" y="971" font-size="18" font-weight="bold" text-anchor="middle" stroke="#000" stroke-width="0.5" style="font-family:&quot;DejaVu Sans&quot;,sans-serif">****</text>
<text x="1105.6" y="971" font-size="18" font-weight="bold" text-anchor="middle" stroke="#000" stroke-width="0.5" style="font-family:&quot;DejaVu Sans&quot;,sans-serif">****</text>
<text x="1164.3" y="965.8" font-size="13" text-anchor="middle" fill="#333">ns</text>
<text x="1223" y="971" font-size="18" font-weight="bold" text-anchor="middle" stroke="#000" stroke-width="0.5" style="font-family:&quot;DejaVu Sans&quot;,sans-serif">****</text>
<text x="1281.6" y="971" font-size="18" font-weight="bold" text-anchor="middle" stroke="#000" stroke-width="0.5" style="font-family:&quot;DejaVu Sans&quot;,sans-serif">****</text>
<text x="1340.3" y="965.8" font-size="13" text-anchor="middle" fill="#333">ns</text>
<path d="M159.3 991.5V975.4H174.2V991.5M218 991.5V975.4H232.8V991.5M276.7 991.5V975.4H291.5V991.5M335.3 991.5V975.4H350.2V991.5M394 991.5V975.4H408.9V991.5M452.7 991.5V975.4H467.6V991.5M511.4 991.5V975.4H526.2V991.5M570.1 991.5V975.4H584.9V991.5M628.7 991.5V975.4H643.6V991.5M687.4 991.5V975.4H702.3V991.5M746.1 991.5V975.4H760.9V991.5M804.8 991.5V975.4H819.6V991.5M863.5 991.5V975.4H878.3V991.5M922.1 991.5V975.4H937V991.5M980.8 991.5V975.4H995.7V991.5M1039.5 991.5V975.4H1054.3V991.5M1098.2 991.5V975.4H1113V991.5M1156.9 991.5V975.4H1171.7V991.5M1215.5 991.5V975.4H1230.4V991.5M1274.2 991.5V975.4H1289.1V991.5M1332.9 991.5V975.4H1347.7V991.5" stroke="#444" stroke-width="1.7" fill="none"/>
<text transform="translate(74 573.1) rotate(-90)" font-size="21.5" font-weight="bold" textLength="324" lengthAdjust="spacingAndGlyphs">Cells with associated beads (%)</text>
<text transform="translate(60 1203.1) rotate(-90)" font-size="21.5" font-weight="bold" textLength="216.8" lengthAdjust="spacingAndGlyphs">Antibody signal (MFI)</text>
<text x="719.6" y="646" font-size="21" font-weight="bold" textLength="70.4" lengthAdjust="spacingAndGlyphs">Patient</text>
<text x="725.3" y="1332.2" font-size="21" font-weight="bold" textLength="70.8" lengthAdjust="spacingAndGlyphs">Patient</text>
<path d="M34 1177H1378.6M1378.6 628.5V1334.4" stroke="#808080" stroke-width="1" fill="none"/>
<text x="375" y="122.7" font-size="14.5" fill="#222" textLength="72.4" lengthAdjust="spacingAndGlyphs">Spike bead</text>
<text x="400" y="135.8" font-size="11.5" fill="#444" textLength="24.4" lengthAdjust="spacingAndGlyphs">APC</text>
<path d="M453.7 146.2L453.7 140.4M461.9 148.4L464.8 143.4M467.9 154.4L472.9 151.5M470.1 162.6L475.9 162.6M467.9 170.8L472.9 173.7M461.9 176.8L464.8 181.8M453.7 179.0L453.7 184.8M445.5 176.8L442.6 181.8M439.5 170.8L434.5 173.7M437.3 162.6L431.5 162.6M439.5 154.4L434.5 151.5M445.5 148.4L442.6 143.4" stroke="#48598f" stroke-width="1.1" fill="none"/>
<path d="M454.3 142.0L456.5 138.3Q456.2 136.9 453.7 136.9Q451.2 136.9 450.9 138.3L453.1 142.0ZM464.5 145.1L468.3 143.0Q468.7 141.6 466.6 140.3Q464.4 139.1 463.4 140.2L463.5 144.5ZM471.8 152.8L476.1 152.9Q477.2 151.9 476.0 149.8Q474.7 147.6 473.3 148.0L471.2 151.8ZM474.3 163.2L478.0 165.4Q479.4 165.1 479.4 162.6Q479.4 160.1 478.0 159.8L474.3 162.0ZM471.2 173.4L473.3 177.2Q474.7 177.6 476.0 175.4Q477.2 173.3 476.1 172.3L471.8 172.4ZM463.5 180.7L463.4 185.0Q464.4 186.1 466.6 184.9Q468.7 183.6 468.3 182.2L464.5 180.1ZM453.1 183.2L450.9 186.9Q451.2 188.3 453.7 188.3Q456.2 188.3 456.5 186.9L454.3 183.2ZM442.9 180.1L439.1 182.2Q438.7 183.6 440.8 184.9Q443.0 186.1 444.0 185.0L443.9 180.7ZM435.6 172.4L431.3 172.3Q430.2 173.3 431.4 175.5Q432.7 177.6 434.1 177.2L436.2 173.4ZM433.1 162.0L429.4 159.8Q428.0 160.1 428.0 162.6Q428.0 165.1 429.4 165.4L433.1 163.2ZM436.2 151.8L434.1 148.0Q432.7 147.6 431.4 149.8Q430.2 151.9 431.3 152.9L435.6 152.8ZM443.9 144.5L444.0 140.2Q443.0 139.1 440.8 140.3Q438.7 141.6 439.1 143.0L442.9 145.1Z" fill="#4a5c9a" stroke="#43558e" stroke-width="0.5" stroke-linejoin="round"/>
<circle cx="453.7" cy="162.6" r="16.9" fill="#d73fa7" stroke="#c2338f" stroke-width="0.8"/>
<path d="M501.8 142.3H486.8L478.6 136.8M501.8 146.5H486.8L478.9 151.8" stroke="#6e6e6e" stroke-width="2.2" fill="none" stroke-linejoin="round"/>
<path d="M480.8 133.6L488.1 138.7M480.3 154.9L488.3 149.9" stroke="#6e6e6e" stroke-width="2.3" fill="none"/>
<path d="M566.1 74.3C562.2 74.4 553.6 74.6 548.9 75.5C544.2 76.4 541.4 78.6 538.0 79.7C534.6 80.8 531.1 80.7 528.3 82.1C525.5 83.5 522.8 85.8 521.0 88.2C519.2 90.6 519.0 94.5 517.4 96.7C515.8 98.9 513.1 99.4 511.3 101.6C509.5 103.8 507.2 106.9 506.4 110.1C505.6 113.3 506.0 118.0 506.4 121.0C506.8 124.0 509.1 125.5 508.9 128.3C508.7 131.1 506.2 135.4 505.2 138.0C504.2 140.6 502.6 142.1 502.8 144.1C503.0 146.1 505.2 147.7 506.4 150.1C507.6 152.5 509.0 155.8 510.0 158.6C511.0 161.4 510.7 164.7 512.5 167.1C514.3 169.5 518.0 171.2 521.0 173.2C524.0 175.2 528.3 177.1 530.7 179.3C533.1 181.5 533.2 185.0 535.6 186.6C538.0 188.2 542.1 188.7 545.3 189.0C548.5 189.3 551.6 188.1 555.0 188.4C558.4 188.7 562.5 191.1 565.9 190.8C569.3 190.5 572.1 187.9 575.6 186.6C579.1 185.3 583.0 184.0 586.6 182.9C590.2 181.8 594.9 181.5 597.5 179.9C600.1 178.3 600.4 175.3 602.4 173.2C604.4 171.1 607.0 169.5 609.6 167.1C612.2 164.7 616.3 161.6 618.1 158.6C619.9 155.6 619.2 152.3 620.6 148.9C622.0 145.5 625.4 141.4 626.6 138.0C627.8 134.6 628.3 131.5 627.9 128.3C627.5 125.1 625.0 122.0 624.2 118.6C623.4 115.1 623.6 110.6 623.0 107.6C622.4 104.6 622.2 102.4 620.6 100.4C619.0 98.4 615.7 97.3 613.3 95.5C610.9 93.7 608.0 91.8 606.0 89.4C604.0 87.0 603.3 82.7 601.1 80.9C598.9 79.1 595.6 79.0 592.6 78.5C589.6 78.0 586.3 78.5 582.9 77.9C579.5 77.3 574.8 75.5 572.0 74.9C569.2 74.3 570.0 74.2 566.1 74.3Z" fill="#aeaad2" stroke="#776e9c" stroke-width="1.1"/>
<path d="M589.6 98.5C604 98.3 615.5 110 614.8 124C614 138 605 149 595 157C584 166 571 172.3 557 172.4C542 172.5 530.5 166 530 153.5C529.6 143 537 137.8 549.5 136.2C559.5 135 566.5 132.5 569 124.5C571 117 568.5 110 574.5 103.5C578.5 99.8 584 98.6 589.6 98.5Z" fill="#8767a9"/>
<text x="612.5" y="185" font-size="14.3" fill="#222" textLength="62" lengthAdjust="spacingAndGlyphs">Monocyte</text>
<path d="M433.7 790.8L433.7 781.3M447.9 794.6L452.7 786.3M458.3 805.0L466.6 800.2M462.1 819.2L471.6 819.2M458.3 833.4L466.6 838.2M447.9 843.8L452.7 852.1M433.7 847.6L433.7 857.1M419.5 843.8L414.7 852.1M409.1 833.4L400.8 838.2M405.3 819.2L395.8 819.2M409.1 805.0L400.8 800.2M419.5 794.6L414.7 786.3" stroke="#48598f" stroke-width="1.8" fill="none"/>
<path d="M434.3 783.9L438.2 777.8Q437.7 775.5 433.7 775.5Q429.7 775.5 429.2 777.8L433.1 783.9ZM451.9 788.9L458.3 785.6Q459.0 783.4 455.6 781.4Q452.1 779.3 450.5 781.1L450.9 788.3ZM464.6 802.0L471.8 802.4Q473.6 800.8 471.5 797.4Q469.5 793.9 467.3 794.6L464.0 801.0ZM469.0 819.8L475.1 823.7Q477.4 823.2 477.4 819.2Q477.4 815.2 475.1 814.7L469.0 818.6ZM464.0 837.4L467.3 843.8Q469.5 844.5 471.5 841.1Q473.6 837.6 471.8 836.0L464.6 836.4ZM450.9 850.1L450.5 857.3Q452.1 859.1 455.6 857.0Q459.0 855.0 458.3 852.8L451.9 849.5ZM433.1 854.5L429.2 860.6Q429.7 862.9 433.7 862.9Q437.7 862.9 438.2 860.6L434.3 854.5ZM415.5 849.5L409.1 852.8Q408.4 855.0 411.8 857.0Q415.3 859.1 416.9 857.3L416.5 850.1ZM402.8 836.4L395.6 836.0Q393.8 837.6 395.9 841.1Q397.9 844.5 400.1 843.8L403.4 837.4ZM398.4 818.6L392.3 814.7Q390.0 815.2 390.0 819.2Q390.0 823.2 392.3 823.7L398.4 819.8ZM403.4 801.0L400.1 794.6Q397.9 793.9 395.9 797.4Q393.8 800.8 395.6 802.4L402.8 802.0ZM416.5 788.3L416.9 781.1Q415.3 779.3 411.8 781.4Q408.4 783.4 409.1 785.6L415.5 788.9Z" fill="#4a5c9a" stroke="#43558e" stroke-width="0.5" stroke-linejoin="round"/>
<circle cx="433.7" cy="819.2" r="29.3" fill="#d73fa7" stroke="#c2338f" stroke-width="0.8"/>
<path d="M514.4 784.4H490.3L475.7 776.1M514.4 791H490.3L476.6 799.9" stroke="#6b6b6b" stroke-width="4.1" fill="none" stroke-linejoin="round" stroke-linecap="round"/>
<path d="M479.2 772L492.4 780.5M479.8 803.6L493 795.2" stroke="#6b6b6b" stroke-width="4.1" fill="none" stroke-linecap="round"/>
<g filter="url(#glow2)" opacity="0.55"><path d="M482 743.5L500.5 751M502.5 755L492 769.5" stroke="#8ff27f" stroke-width="9" stroke-linecap="round" fill="none"/></g>
<g filter="url(#glow)"><path d="M482.5 741.5L500.5 748.8M482 746L499.5 753M503.3 754.5L494.3 769.5M499.5 753L490.5 767.5" stroke="#7eee66" stroke-width="3.8" stroke-linecap="butt" fill="none"/></g>
<text x="521.5" y="753.1" font-size="14.5" fill="#222" textLength="101.9" lengthAdjust="spacingAndGlyphs">Secondary fab</text>
<text x="554" y="766.9" font-size="10.5" fill="#444" textLength="26" lengthAdjust="spacingAndGlyphs">FITC</text>
<text x="525.1" y="794.3" font-size="14.5" fill="#222" textLength="68.6" lengthAdjust="spacingAndGlyphs">Serum ab</text>
<text x="486.3" y="835.4" font-size="14.5" fill="#222" textLength="78.6" lengthAdjust="spacingAndGlyphs">Spike bead</text>
<text x="516" y="849.1" font-size="10.5" fill="#444" textLength="22.9" lengthAdjust="spacingAndGlyphs">APC</text>
<rect x="796" y="29" width="170.9" height="171.7" fill="#fff" stroke="#c4c4c4" stroke-width="1"/>
<clipPath id="cp1"><rect x="796.5" y="29.5" width="170" height="170.8"/></clipPath>
<g clip-path="url(#cp1)"><g filter="url(#bl3)"><ellipse cx="866" cy="152" rx="26" ry="20" transform="rotate(-35 866 152)" fill="#6f7ae6" opacity="0.22"/><path d="M799 198.5L804.5 180L810 158L814.5 138L818 120" stroke="#2447e6" stroke-width="7" stroke-linecap="round" fill="none" opacity="0.75"/><ellipse cx="824" cy="190" rx="15" ry="6.5" transform="rotate(-8 824 190)" fill="#2447e6" opacity="0.6"/><ellipse cx="857" cy="180" rx="22" ry="9" transform="rotate(-26 857 180)" fill="#2447e6" opacity="0.8"/></g><g filter="url(#bl2)"><ellipse cx="855.5" cy="181" rx="11" ry="4" transform="rotate(-26 855.5 181)" fill="#4fd6f4" opacity="0.85"/><path d="M798.5 197.5L803 186L807.5 171" stroke="#4fe0d8" stroke-width="2.2" stroke-linecap="round" fill="none" opacity="0.8"/></g></g>
<path d="M820.4 157.8h.9M816.3 165.2h.9M818.2 163.1h.9M817.6 163.4h.9M820.2 157.4h.9M797.6 174.3h.9M824.5 124.4h.9M823.2 137.6h.9M802.4 139.0h.9M805.9 140.5h.9M820.7 155.7h.9M821.2 153.7h.9M802.2 153.5h.9M798.3 164.7h.9M804.5 141.9h.9M822.5 138.3h.9M810.2 118.7h.9M827.4 123.9h.9M819.3 148.4h.9M808.6 132.0h.9M821.4 146.6h.9M809.8 131.0h.9M821.0 147.6h.9M821.3 141.7h.9M807.8 135.6h.9M806.4 122.0h.9M798.9 175.5h.9M801.3 158.1h.9M800.1 160.4h.9M805.8 143.9h.9M824.2 130.5h.9M814.5 176.4h.9M803.4 150.1h.9M810.9 126.3h.9M821.4 146.9h.9M822.2 136.4h.9M806.1 142.8h.9M821.3 140.1h.9M825.3 130.6h.9M803.9 144.5h.9M815.7 174.5h.9M810.1 120.9h.9M809.2 130.3h.9M803.0 146.9h.9M822.1 139.2h.9M821.8 149.6h.9M825.0 125.3h.9M816.0 113.6h.9M827.8 59.8h.9M822.7 93.6h.9M828.3 61.1h.9M830.3 51.5h.9M824.4 89.8h.9M823.1 65.5h.9M828.2 102.5h.9M826.0 104.4h.9M819.5 95.6h.9M821.7 74.2h.9M816.6 78.0h.9M814.6 99.6h.9M827.5 60.8h.9M825.8 100.6h.9M819.0 107.4h.9M817.4 112.0h.9M832.9 60.6h.9M819.9 85.7h.9M814.2 100.0h.9M817.6 100.0h.9M830.1 55.4h.9M811.9 112.1h.9M811.9 116.8h.9M818.7 86.7h.9M825.3 69.9h.9M827.2 58.4h.9M830.1 72.8h.9M823.9 54.3h.9M821.8 44.5h.9M824.7 103.7h.9M826.9 76.8h.9M819.5 96.7h.9M826.4 58.6h.9M822.8 92.7h.9M817.3 109.5h.9M824.0 113.6h.9M835.0 53.5h.9M822.6 86.0h.9M830.2 104.6h.9M826.2 42.5h.9M834.8 76.6h.9M820.6 90.9h.9M818.2 95.3h.9M822.8 78.1h.9M814.4 115.8h.9M822.2 89.0h.9M825.5 108.6h.9M824.3 60.0h.9M829.3 74.1h.9M829.1 68.0h.9M827.0 83.4h.9M822.2 108.5h.9M820.9 82.9h.9M822.1 100.4h.9M824.4 51.0h.9M827.9 51.9h.9M824.7 108.0h.9M829.6 51.4h.9M825.7 61.6h.9M818.7 112.7h.9M816.6 112.9h.9M825.7 73.0h.9M832.3 61.1h.9M818.4 92.1h.9M815.6 88.6h.9M813.5 57.0h.9M835.4 68.5h.9M822.5 110.7h.9M816.9 76.8h.9M828.4 61.8h.9M825.0 69.1h.9M826.8 62.8h.9M829.1 102.7h.9M833.7 90.0h.9M825.4 117.4h.9M830.9 67.1h.9M838.1 51.6h.9M830.4 62.2h.9M829.6 72.4h.9M826.8 83.3h.9M835.4 50.7h.9M821.6 48.2h.9M810.0 116.6h.9M815.7 105.0h.9M815.1 100.4h.9M822.6 73.7h.9M823.2 63.5h.9M830.4 61.1h.9M827.5 45.3h.9M821.1 110.6h.9M813.0 115.2h.9M832.2 78.3h.9M825.5 117.7h.9M826.1 108.0h.9M820.7 102.0h.9M826.1 97.0h.9M824.3 45.8h.9M820.0 110.5h.9M826.5 90.5h.9M822.8 96.4h.9M826.1 97.8h.9M807.5 113.8h.9M825.0 65.3h.9M821.1 98.9h.9M832.2 65.5h.9M824.6 58.0h.9M818.9 57.9h.9M829.9 55.4h.9M820.7 69.5h.9M836.7 51.0h.9M822.1 66.6h.9M832.9 65.9h.9M825.9 54.9h.9M824.8 74.9h.9M825.5 61.5h.9M811.6 83.7h.9M816.8 68.2h.9M822.1 57.5h.9M827.8 78.5h.9M826.8 89.1h.9M821.9 84.0h.9M823.4 74.7h.9M826.0 81.8h.9M830.6 76.5h.9M822.4 101.5h.9M818.9 84.8h.9M826.8 71.2h.9M817.1 99.0h.9M824.2 86.0h.9M817.8 92.6h.9M821.0 85.6h.9M829.6 70.0h.9M819.1 92.2h.9M828.8 95.9h.9M825.9 101.3h.9M816.8 81.1h.9M826.8 78.7h.9M824.8 77.4h.9M824.5 64.7h.9M811.9 114.1h.9M820.3 58.7h.9M817.9 76.5h.9M830.7 63.9h.9M827.5 54.9h.9M824.0 93.8h.9M826.4 92.6h.9M832.0 53.1h.9M817.7 109.7h.9M822.4 99.8h.9M822.6 98.5h.9M819.4 109.6h.9M828.9 49.4h.9M825.2 84.6h.9M816.1 103.2h.9M821.3 91.2h.9M826.1 48.2h.9M809.6 121.1h.9M825.9 49.9h.9M830.9 71.3h.9M814.0 110.9h.9M818.8 76.3h.9M817.3 79.6h.9M827.7 81.1h.9M814.3 89.6h.9M812.7 109.6h.9M821.8 49.6h.9M836.3 87.1h.9M831.3 63.1h.9M834.4 75.9h.9M831.6 49.9h.9M831.0 67.5h.9M830.0 81.1h.9M832.6 93.9h.9M824.0 62.4h.9M816.0 89.7h.9M826.1 46.4h.9M812.9 90.0h.9M815.0 110.1h.9M816.6 86.7h.9M822.5 114.2h.9M821.4 90.3h.9M828.4 105.6h.9M824.4 85.8h.9M822.3 103.4h.9M817.5 89.3h.9M824.3 81.6h.9M811.8 112.9h.9M823.6 68.5h.9M830.7 42.8h.9M821.5 79.0h.9M824.8 91.5h.9M821.5 82.2h.9M822.4 100.4h.9M836.5 57.1h.9M820.0 72.2h.9M818.2 98.3h.9M824.7 96.9h.9M815.3 109.1h.9M829.1 88.1h.9M827.6 65.1h.9M820.7 49.2h.9M822.5 89.4h.9M824.1 112.1h.9M820.2 94.9h.9M817.4 82.3h.9M818.1 51.6h.9M824.5 75.9h.9M828.8 100.0h.9M828.5 70.5h.9M823.7 102.1h.9M825.6 81.7h.9M825.2 118.4h.9M819.3 108.6h.9M823.9 64.1h.9M827.8 62.3h.9M813.7 88.3h.9M828.6 52.9h.9M815.8 199.3h.9M816.5 178.4h.9M817.3 176.7h.9M806.3 199.0h.9M834.3 174.6h.9M817.5 177.7h.9M813.8 179.3h.9M833.4 199.3h.9M815.7 179.4h.9M817.2 175.1h.9M836.5 199.1h.9M810.5 199.4h.9M830.7 177.5h.9M832.7 173.1h.9M809.7 198.8h.9M815.7 173.3h.9M826.4 199.6h.9M828.2 172.2h.9M816.7 177.2h.9M823.4 199.6h.9M821.5 176.8h.9M829.0 177.1h.9M820.8 176.2h.9M813.9 178.1h.9M862.4 189.2h.9M879.4 185.4h.9M885.4 176.6h.9M849.8 197.9h.9M837.2 199.1h.9M880.5 179.6h.9M839.1 199.1h.9M828.2 199.2h.9M864.2 189.2h.9M890.5 174.2h.9M885.8 158.2h.9M872.2 186.3h.9M867.6 189.5h.9M829.8 199.5h.9M827.3 178.0h.9M841.4 167.8h.9M842.0 170.7h.9M856.3 194.3h.9M831.8 175.1h.9M854.4 194.5h.9M864.6 190.0h.9M883.3 180.5h.9M836.2 168.9h.9M853.0 198.7h.9M878.0 186.9h.9M841.4 199.0h.9M847.7 164.2h.9M871.1 187.6h.9M905.0 161.1h.9M848.1 198.2h.9M860.0 191.1h.9M894.5 176.9h.9M845.6 199.3h.9M841.4 158.5h.9M878.0 185.0h.9M894.5 150.2h.9M864.3 192.9h.9M878.1 155.5h.9M822.9 199.4h.9M880.3 178.1h.9M891.5 171.1h.9M878.5 191.6h.9M891.6 176.0h.9M881.5 159.0h.9M883.3 179.1h.9M870.4 196.9h.9M898.5 170.4h.9M823.2 163.5h.9M852.2 159.4h.9M886.3 172.0h.9M847.7 198.3h.9M877.0 182.6h.9M840.2 166.1h.9M875.4 188.3h.9M885.8 180.5h.9M889.8 181.1h.9M870.7 194.0h.9M875.7 187.3h.9M873.1 184.2h.9M897.0 166.9h.9M861.3 190.2h.9M886.4 178.1h.9M878.8 153.5h.9M886.1 171.0h.9M825.6 175.6h.9M871.7 195.0h.9M863.9 195.3h.9M837.0 174.9h.9M890.6 165.2h.9M829.6 174.4h.9M835.9 168.0h.9M842.8 167.6h.9M879.2 158.3h.9M859.7 194.3h.9M837.1 165.0h.9M850.6 198.7h.9M885.2 174.9h.9M877.9 186.9h.9M883.6 182.4h.9M894.8 167.4h.9M878.5 189.6h.9M887.1 172.0h.9M885.4 181.3h.9M889.3 161.2h.9M887.3 169.5h.9M898.7 179.0h.9M906.7 161.4h.9M850.3 198.9h.9M899.6 163.6h.9M892.5 161.8h.9M893.8 180.6h.9M841.2 173.6h.9M839.1 164.6h.9M839.5 170.5h.9M858.0 191.2h.9M873.7 193.6h.9M865.3 193.0h.9M901.7 162.2h.9M889.4 169.9h.9M832.0 178.0h.9M898.6 161.7h.9M892.3 167.6h.9M886.0 182.7h.9M875.2 182.7h.9M897.3 161.8h.9M835.4 199.3h.9M894.0 170.4h.9M896.3 172.4h.9M893.0 158.2h.9M889.4 154.9h.9M897.3 153.3h.9M888.3 160.1h.9M833.6 152.8h.9M891.6 137.5h.9M846.8 154.6h.9M861.8 144.0h.9M841.7 119.1h.9M844.9 162.1h.9M848.2 138.9h.9M893.9 159.9h.9M890.9 145.3h.9M843.3 159.4h.9M837.0 126.6h.9M836.9 173.3h.9M894.6 174.2h.9M910.3 146.4h.9M890.8 144.2h.9M887.1 140.9h.9M900.8 169.8h.9M911.7 168.2h.9M873.2 137.0h.9M851.0 161.1h.9M846.2 162.6h.9M883.6 140.3h.9M888.4 162.2h.9M861.5 193.5h.9M825.0 163.9h.9M887.1 151.5h.9M872.1 143.8h.9M892.7 114.6h.9M884.8 159.0h.9M884.3 149.5h.9M852.5 145.6h.9M866.5 134.1h.9M871.6 132.1h.9M845.2 159.3h.9M864.9 137.3h.9M879.3 131.7h.9M850.3 144.0h.9M884.7 155.2h.9M896.0 152.7h.9M862.9 139.9h.9M881.1 142.5h.9M844.5 151.9h.9M843.9 165.3h.9M860.1 132.1h.9M876.9 131.3h.9M869.5 137.4h.9M866.7 192.7h.9M846.2 149.5h.9M889.7 191.6h.9M866.8 137.1h.9M846.7 139.8h.9M881.4 182.1h.9M864.7 143.1h.9M828.0 174.0h.9M880.5 183.1h.9M874.9 187.9h.9M841.0 164.9h.9M879.6 125.2h.9M879.4 156.8h.9M883.6 156.1h.9M836.0 173.5h.9M881.2 128.9h.9M897.5 148.0h.9M887.2 171.5h.9M902.7 153.2h.9M845.3 151.1h.9M889.3 184.9h.9M903.2 161.2h.9M851.2 142.3h.9M889.2 140.3h.9M851.8 144.7h.9M892.3 139.7h.9M837.5 165.4h.9M865.8 140.9h.9M846.2 144.8h.9M841.3 151.3h.9M891.3 170.9h.9M847.5 162.4h.9M899.0 153.0h.9M897.9 153.7h.9M840.0 161.4h.9M906.9 158.4h.9M851.7 147.8h.9M869.8 127.4h.9M895.4 143.8h.9M842.3 138.8h.9M899.0 175.8h.9M871.7 139.9h.9M832.8 154.7h.9M857.4 131.1h.9M846.8 137.9h.9M843.4 172.0h.9M890.2 143.1h.9M881.4 146.1h.9M842.5 146.6h.9M887.6 139.5h.9M843.8 154.6h.9M889.7 123.8h.9M884.2 190.5h.9M854.5 136.3h.9M881.9 119.6h.9M880.7 135.2h.9M839.8 163.4h.9M895.5 155.5h.9M881.6 155.2h.9M862.9 197.3h.9M841.6 158.4h.9M880.3 179.8h.9M878.4 149.1h.9M899.3 156.7h.9M885.6 132.7h.9M895.0 160.4h.9M902.8 135.4h.9M893.8 131.3h.9M852.7 197.2h.9M885.1 128.6h.9M856.8 138.6h.9M858.0 158.1h.9M854.2 156.9h.9M884.6 157.1h.9M861.7 135.6h.9M843.1 127.0h.9M887.5 136.9h.9M889.3 147.3h.9M890.1 128.2h.9M842.4 149.3h.9M849.3 163.8h.9M880.5 134.2h.9M843.1 155.0h.9M844.4 158.2h.9M866.0 131.1h.9M864.5 157.6h.9M888.2 147.7h.9M878.1 141.4h.9M885.4 176.2h.9M860.8 143.8h.9M888.3 132.6h.9M854.9 159.7h.9M867.5 140.3h.9M891.1 151.1h.9M842.4 118.9h.9M842.6 163.3h.9M867.8 135.7h.9M883.0 155.6h.9M884.7 180.9h.9M873.2 142.0h.9M895.4 154.6h.9M887.5 133.4h.9M891.3 154.2h.9M896.2 142.4h.9M873.2 123.9h.9M841.8 149.0h.9M877.1 120.4h.9M859.0 144.4h.9M845.9 156.8h.9M851.4 161.2h.9M842.5 166.2h.9M861.4 194.5h.9M890.9 150.6h.9M879.7 153.7h.9M844.2 158.8h.9M831.4 127.6h.9M868.3 139.9h.9M839.7 158.7h.9M899.5 138.8h.9M896.1 135.7h.9M866.6 140.6h.9M865.1 191.2h.9M884.3 128.8h.9M892.4 160.3h.9M868.8 124.6h.9M855.0 127.4h.9M886.4 148.9h.9M860.0 125.3h.9M847.0 154.2h.9M909.1 130.8h.9M864.0 120.4h.9M894.4 138.4h.9M847.3 150.9h.9M888.2 163.7h.9M888.8 131.7h.9M890.7 168.2h.9M912.1 178.8h.9M876.1 131.7h.9M883.2 160.6h.9M875.4 190.5h.9M860.7 134.6h.9M860.6 134.9h.9M844.1 146.3h.9M878.0 111.0h.9M858.5 136.7h.9M859.4 147.0h.9M865.6 126.8h.9M829.0 164.6h.9M871.4 122.6h.9M868.9 117.6h.9M886.0 151.2h.9M836.9 144.4h.9M895.5 141.3h.9M824.8 171.3h.9M832.0 165.3h.9M829.7 175.7h.9M882.6 134.0h.9M900.6 168.2h.9M872.5 128.7h.9M876.9 126.2h.9M868.4 138.6h.9M840.7 155.7h.9M885.5 173.7h.9M831.9 165.7h.9M851.6 135.6h.9M838.6 172.5h.9M872.5 186.2h.9M839.2 166.2h.9M863.6 131.1h.9M880.7 144.0h.9M857.2 129.9h.9M826.6 152.3h.9M828.5 164.7h.9M850.8 136.7h.9M862.9 136.2h.9M885.0 119.5h.9M855.0 144.8h.9M849.5 147.9h.9M831.6 163.2h.9M892.1 163.1h.9M870.6 132.3h.9M836.2 151.9h.9M869.1 133.6h.9M874.0 129.3h.9M848.0 161.8h.9M867.5 121.5h.9M871.5 130.9h.9M899.5 141.0h.9M893.6 120.7h.9M892.9 168.7h.9M832.1 163.0h.9M876.9 126.6h.9M883.8 147.4h.9M879.6 146.6h.9M846.8 146.6h.9M844.7 125.5h.9M852.5 159.3h.9M840.9 141.2h.9M865.0 195.1h.9M867.9 121.7h.9M867.6 126.6h.9M880.7 133.5h.9M847.0 137.3h.9M886.9 181.9h.9M887.3 174.1h.9M880.4 130.1h.9M886.4 149.9h.9M889.9 161.2h.9M835.8 154.5h.9M887.5 142.1h.9M840.7 147.3h.9M832.2 171.0h.9M902.9 149.2h.9M883.3 136.5h.9M868.6 110.4h.9M835.5 140.0h.9M898.6 171.5h.9M875.9 188.0h.9M893.9 171.0h.9M867.0 142.8h.9M850.3 142.6h.9M880.1 138.0h.9M850.8 131.4h.9M859.6 135.9h.9M866.1 114.4h.9M841.5 119.0h.9M843.9 150.1h.9M879.8 149.4h.9M846.1 152.6h.9M891.5 149.6h.9M857.7 119.0h.9M865.8 141.4h.9M890.0 136.7h.9M878.3 135.1h.9M888.5 172.5h.9M866.6 188.5h.9M882.2 184.0h.9M897.4 147.2h.9M837.5 164.3h.9M840.5 141.4h.9M842.4 164.6h.9M821.3 169.2h.9M843.4 172.6h.9M833.1 155.6h.9M850.7 160.0h.9M865.5 136.8h.9M848.0 158.8h.9M870.7 127.8h.9M884.9 134.8h.9M894.2 150.2h.9M854.9 111.6h.9M847.4 136.7h.9M890.0 134.6h.9M845.6 164.5h.9M865.0 138.8h.9M849.5 147.7h.9M866.4 190.9h.9M886.7 154.1h.9M820.1 175.3h.9M847.5 148.9h.9M834.5 163.0h.9M837.2 152.3h.9M840.3 168.9h.9M894.0 134.5h.9M836.3 151.0h.9M849.9 159.2h.9M892.0 162.0h.9M853.4 158.2h.9M852.7 157.3h.9M904.5 152.5h.9M901.7 135.2h.9M890.2 162.9h.9M839.2 159.0h.9M869.7 109.2h.9M851.8 166.4h.9M878.8 141.4h.9M840.4 135.2h.9M882.8 192.9h.9M859.6 93.3h.9M852.7 135.5h.9M895.9 186.9h.9M854.5 125.6h.9M878.6 116.9h.9M843.0 152.5h.9M843.2 166.4h.9M873.7 134.2h.9M908.5 127.6h.9M851.9 148.6h.9M862.3 193.6h.9M842.1 134.7h.9M843.6 126.1h.9M883.7 130.6h.9M885.6 155.1h.9M891.5 140.2h.9M846.9 153.3h.9M854.1 139.6h.9M878.3 122.7h.9M890.6 171.6h.9M900.3 139.8h.9M855.3 129.4h.9M853.6 134.0h.9M847.8 141.7h.9M863.6 127.6h.9M885.0 150.9h.9M843.8 143.7h.9M828.4 147.9h.9M840.3 157.5h.9M886.6 142.2h.9M881.8 141.3h.9M880.8 130.5h.9M903.6 141.1h.9M901.5 149.3h.9M884.9 146.2h.9M859.6 142.0h.9M870.7 144.7h.9M884.9 176.6h.9M892.2 177.1h.9M837.9 157.9h.9M902.1 141.2h.9M899.3 118.9h.9M895.8 180.5h.9M851.9 150.0h.9M870.2 121.5h.9M839.4 158.3h.9M880.4 148.7h.9M894.5 168.9h.9M838.8 161.8h.9M885.4 138.6h.9M874.9 182.2h.9M865.3 128.0h.9M885.0 143.2h.9M896.6 154.4h.9M875.8 135.9h.9M895.4 150.6h.9M876.8 137.8h.9M892.4 128.8h.9M850.8 131.7h.9M869.9 140.9h.9M854.4 144.1h.9M877.2 148.1h.9M888.9 152.1h.9M848.4 148.4h.9M888.1 159.2h.9M858.2 143.8h.9M855.1 156.6h.9M857.7 193.1h.9M861.0 137.9h.9M844.8 135.2h.9M850.4 136.5h.9M876.0 138.3h.9M838.7 155.0h.9M876.7 141.3h.9M870.0 139.1h.9M886.2 94.8h.9M886.4 120.4h.9M849.2 117.7h.9M858.1 113.9h.9M884.3 126.1h.9M849.6 80.1h.9M879.7 120.1h.9M880.1 138.5h.9M878.5 82.8h.9M882.8 131.2h.9M898.3 92.5h.9M883.0 123.0h.9M870.0 111.2h.9M874.8 132.8h.9M852.6 123.0h.9M885.3 106.1h.9M864.9 123.1h.9M830.4 135.6h.9M842.5 100.5h.9M870.1 112.1h.9M876.0 101.1h.9M920.7 112.2h.9M860.6 132.6h.9M890.6 110.9h.9M878.0 116.8h.9M903.6 140.7h.9M869.5 111.3h.9M870.4 120.0h.9M885.7 110.6h.9M862.9 135.2h.9M876.2 121.9h.9M858.9 123.6h.9M914.2 147.2h.9M867.2 130.5h.9M895.6 121.5h.9M891.5 123.9h.9M869.1 77.2h.9M881.3 158.2h.9M852.1 133.5h.9M878.4 129.7h.9M888.9 117.6h.9M853.5 127.9h.9M876.9 114.2h.9M888.6 142.9h.9M883.3 132.0h.9M871.5 111.0h.9M874.6 104.4h.9M884.2 144.9h.9M853.7 102.7h.9M861.5 99.2h.9M862.3 120.0h.9M895.0 113.3h.9M887.1 143.2h.9M856.8 124.3h.9M873.3 116.0h.9M884.1 135.1h.9M874.3 128.2h.9M892.7 105.0h.9M857.2 114.7h.9M869.8 100.7h.9M893.7 104.4h.9M894.1 130.8h.9M870.6 118.0h.9M899.8 126.7h.9M882.6 145.7h.9M873.9 137.0h.9M895.8 106.1h.9M880.5 102.9h.9M897.3 118.1h.9M842.3 137.3h.9M868.9 117.1h.9M859.8 125.7h.9M894.9 110.9h.9M856.8 119.2h.9M845.6 115.1h.9M885.5 113.3h.9M826.2 130.9h.9M859.3 130.6h.9M882.6 113.8h.9M893.7 143.2h.9M887.1 115.8h.9M864.5 121.1h.9M824.4 147.6h.9M904.2 146.8h.9M838.5 97.3h.9M895.9 142.5h.9M875.6 103.8h.9M871.3 125.2h.9M855.8 128.0h.9M878.3 131.2h.9M920.8 151.8h.9M891.2 159.3h.9M883.3 115.6h.9M886.8 131.3h.9M901.6 131.1h.9M874.1 189.5h.9M891.9 139.3h.9M895.4 123.0h.9M829.4 122.7h.9M870.5 107.3h.9M886.7 82.5h.9M876.8 115.7h.9M850.0 118.3h.9M885.6 128.3h.9M843.1 123.4h.9M893.0 144.9h.9M894.9 123.0h.9M884.5 116.0h.9M862.4 104.6h.9M881.1 107.5h.9M851.4 140.0h.9M850.9 122.3h.9M886.3 124.2h.9M931.0 124.1h.9M867.4 96.7h.9M866.4 118.5h.9M877.5 120.6h.9M853.8 123.6h.9M885.9 133.4h.9M857.0 121.4h.9M862.3 130.5h.9M839.6 118.1h.9M855.3 135.1h.9M877.8 135.8h.9M884.9 171.2h.9M851.5 120.1h.9M890.7 119.9h.9M877.6 127.2h.9M887.2 114.4h.9M878.9 139.0h.9M865.1 107.4h.9M866.7 115.0h.9M871.8 120.7h.9M907.4 137.8h.9M879.5 92.0h.9M886.4 115.2h.9M895.1 113.2h.9M869.2 135.6h.9M903.3 85.4h.9M882.4 112.3h.9M908.3 112.5h.9M867.5 108.6h.9M859.3 119.0h.9M885.7 141.8h.9M883.2 91.9h.9M859.8 131.4h.9M900.4 121.4h.9M862.3 117.1h.9M904.5 114.0h.9M853.4 96.2h.9M927.7 131.2h.9M887.3 154.2h.9M881.7 104.4h.9M844.3 122.1h.9M869.6 116.4h.9M854.0 136.6h.9M872.7 116.2h.9M902.1 138.6h.9M852.0 139.5h.9M883.7 141.5h.9M876.6 139.4h.9M859.2 119.6h.9M851.3 108.2h.9M854.0 139.3h.9M848.7 132.2h.9M889.4 96.6h.9M883.9 129.0h.9M865.4 122.4h.9M849.4 119.8h.9M913.5 115.9h.9M844.4 144.9h.9M873.0 120.3h.9M903.0 133.0h.9M876.5 136.8h.9M859.0 132.6h.9M872.0 91.5h.9M877.1 113.6h.9M876.4 128.1h.9M875.7 102.6h.9M849.7 100.7h.9M886.2 107.7h.9M884.2 136.7h.9M835.6 126.5h.9M907.4 120.7h.9M850.3 130.9h.9M862.2 86.8h.9M902.7 167.7h.9M852.1 94.7h.9M901.6 151.4h.9M875.9 132.9h.9M868.0 123.5h.9M870.3 144.5h.9M868.0 136.6h.9M872.8 93.5h.9M856.6 93.0h.9M902.9 150.8h.9M871.2 110.3h.9M860.4 100.8h.9M908.5 135.8h.9M891.5 154.1h.9M863.5 96.2h.9M875.8 108.6h.9M844.4 126.6h.9M854.0 131.5h.9M878.1 126.3h.9M865.8 119.9h.9M866.9 132.9h.9M854.3 113.9h.9M868.7 116.4h.9M910.0 147.3h.9M897.8 119.5h.9M882.6 119.6h.9M887.0 124.6h.9M861.8 119.2h.9M872.1 131.6h.9M849.2 118.8h.9M891.3 118.7h.9M830.5 156.6h.9M842.5 129.5h.9M888.9 124.0h.9M865.1 114.3h.9M884.7 124.4h.9M853.8 106.2h.9M860.9 119.9h.9M844.4 111.2h.9M841.2 160.6h.9M901.2 127.9h.9M901.9 132.8h.9M909.0 128.4h.9M846.2 118.5h.9M879.8 120.8h.9M844.8 132.9h.9M861.5 127.5h.9M903.7 126.8h.9M846.1 120.7h.9M916.1 108.5h.9M866.7 131.9h.9M864.3 123.1h.9M890.8 112.2h.9M857.4 120.2h.9M855.3 108.9h.9M890.1 140.9h.9M872.8 96.8h.9M864.7 134.9h.9M892.0 133.5h.9M841.8 103.0h.9M886.2 130.6h.9M844.6 102.0h.9M876.3 143.2h.9M881.1 156.2h.9M907.2 119.0h.9M880.4 136.8h.9M940.1 141.1h.9M893.2 104.2h.9M849.1 123.7h.9M865.6 121.4h.9M873.8 118.7h.9M885.6 85.3h.9M862.7 117.9h.9M849.7 115.8h.9M888.4 113.4h.9M871.9 111.1h.9M847.6 102.3h.9M901.8 108.2h.9M863.5 124.4h.9M881.9 103.2h.9M843.5 151.5h.9M873.8 118.9h.9M868.3 104.4h.9M848.2 127.6h.9M846.2 108.9h.9M849.7 124.7h.9M849.3 149.3h.9M867.6 131.0h.9M901.2 75.0h.9M846.9 117.3h.9M888.4 115.8h.9M861.4 119.4h.9M887.1 124.2h.9M833.1 152.2h.9M949.9 96.5h.9M889.5 104.2h.9M905.4 143.0h.9M932.2 80.8h.9M851.2 136.0h.9M899.9 68.0h.9M862.8 52.4h.9M907.1 107.5h.9M842.2 108.1h.9M845.7 163.2h.9M943.0 65.5h.9M916.2 91.5h.9M848.0 118.7h.9M956.2 129.6h.9M954.6 116.8h.9M932.5 49.4h.9M839.4 52.2h.9M930.2 155.8h.9M853.6 94.6h.9M943.8 126.3h.9M932.5 40.3h.9M908.0 104.3h.9M907.8 109.4h.9M934.8 139.6h.9M843.6 156.5h.9M893.1 139.0h.9M858.5 83.3h.9M887.6 169.5h.9M954.8 131.0h.9M870.9 90.1h.9M858.8 143.4h.9M913.0 137.1h.9M883.7 35.7h.9M876.4 71.1h.9M880.6 76.6h.9M835.1 79.3h.9M903.7 73.9h.9M916.7 135.0h.9M877.1 128.2h.9M869.7 92.0h.9M937.0 47.5h.9M901.7 101.4h.9M930.7 64.1h.9M916.9 107.6h.9M944.8 153.2h.9M937.5 107.1h.9M884.3 76.5h.9M919.5 138.2h.9M914.4 148.6h.9M834.9 103.4h.9M923.7 73.1h.9M950.5 49.4h.9M886.4 55.2h.9M915.9 142.4h.9M890.3 152.1h.9M903.7 134.1h.9M871.2 88.8h.9M881.2 159.6h.9M921.0 161.0h.9M942.1 111.4h.9M833.1 164.1h.9M945.3 123.9h.9M874.5 37.6h.9M909.4 160.6h.9M856.8 52.1h.9M942.4 162.5h.9M918.6 113.3h.9M904.6 105.6h.9M892.4 152.5h.9M847.3 145.7h.9M892.7 140.3h.9M946.5 59.9h.9M837.8 146.5h.9M832.0 111.7h.9M849.0 88.2h.9M917.6 151.1h.9M929.5 87.3h.9M944.0 120.6h.9M936.3 117.6h.9" stroke="#7c80dc" stroke-width="1.15" stroke-opacity="0.7" fill="none"/>
<path d="M799.2 167.8h.9M806.3 196.6h.9M800.6 170.3h.9M824.5 120.1h.9M821.1 130.3h.9M805.2 197.7h.9M804.7 154.6h.9M811.0 141.3h.9M815.2 158.2h.9M821.9 118.4h.9M818.2 144.5h.9M801.6 162.6h.9M814.1 170.1h.9M798.8 173.7h.9M818.0 138.7h.9M810.9 134.8h.9M811.6 121.4h.9M803.6 153.3h.9M813.9 122.8h.9M816.3 150.4h.9M814.4 171.4h.9M809.7 131.7h.9M815.0 165.0h.9M813.9 117.6h.9M819.1 158.4h.9M806.0 196.4h.9M814.2 162.4h.9M814.3 167.8h.9M803.9 160.8h.9M804.8 158.5h.9M823.7 119.9h.9M806.5 149.6h.9M799.2 170.8h.9M798.9 178.4h.9M823.7 126.3h.9M797.7 183.0h.9M807.3 138.5h.9M813.7 120.3h.9M820.2 123.6h.9M811.8 124.1h.9M813.6 175.4h.9M813.0 128.9h.9M812.3 121.0h.9M814.5 173.0h.9M822.8 128.7h.9M815.4 160.2h.9M816.6 154.5h.9M815.0 166.8h.9M801.0 165.7h.9M805.5 145.1h.9M812.2 128.0h.9M816.1 160.6h.9M812.4 131.6h.9M797.3 186.8h.9M804.3 153.0h.9M818.9 150.2h.9M806.6 147.2h.9M800.4 164.6h.9M809.5 141.8h.9M807.2 144.8h.9M805.5 147.8h.9M824.2 120.9h.9M807.6 143.6h.9M817.8 151.3h.9M798.3 169.1h.9M815.7 164.8h.9M807.1 145.3h.9M814.8 168.8h.9M820.8 137.1h.9M800.6 170.4h.9M813.2 120.2h.9M801.7 165.6h.9M819.8 154.7h.9M808.0 142.4h.9M799.5 171.7h.9M806.9 152.0h.9M817.7 160.0h.9M820.6 135.6h.9M819.6 141.0h.9M815.1 159.2h.9M816.9 155.7h.9M805.8 153.7h.9M804.3 155.5h.9M804.2 158.5h.9M812.8 129.0h.9M823.4 128.1h.9M818.7 154.5h.9M825.0 120.9h.9M803.6 152.7h.9M803.4 199.5h.9M814.6 173.6h.9M806.1 145.3h.9M812.3 130.8h.9M808.8 139.4h.9M812.5 130.3h.9M815.0 163.5h.9M798.1 169.9h.9M819.8 147.7h.9M810.6 121.1h.9M811.4 132.8h.9M803.5 156.9h.9M800.0 175.7h.9M799.5 170.2h.9M817.9 145.3h.9M806.4 152.6h.9M821.7 124.0h.9M809.9 136.9h.9M816.4 160.5h.9M818.1 147.8h.9M823.7 131.4h.9M813.5 122.2h.9M811.4 127.4h.9M811.9 129.3h.9M807.1 197.5h.9M801.6 165.7h.9M810.6 132.7h.9M812.8 129.9h.9M818.3 155.6h.9M820.8 153.8h.9M818.1 142.3h.9M802.5 159.0h.9M818.5 149.8h.9M807.7 142.0h.9M809.0 187.6h.9M818.9 158.6h.9M818.4 140.4h.9M809.4 136.9h.9M807.6 139.2h.9M812.5 126.3h.9M818.4 140.1h.9M804.5 154.0h.9M800.5 172.4h.9M805.8 147.7h.9M808.9 140.4h.9M798.8 177.9h.9M819.1 155.8h.9M809.4 141.7h.9M799.5 168.0h.9M822.2 124.6h.9M810.4 187.1h.9M824.7 122.5h.9M815.1 161.9h.9M806.0 148.8h.9M821.3 118.1h.9M812.2 176.7h.9M821.3 135.3h.9M817.0 161.5h.9M823.6 129.0h.9M818.0 146.0h.9M815.4 167.3h.9M821.4 132.3h.9M815.9 157.2h.9M813.1 171.9h.9M809.1 133.9h.9M810.4 134.0h.9M801.8 163.7h.9M797.5 182.1h.9M812.2 128.6h.9M798.9 178.0h.9M815.2 158.1h.9M816.3 151.9h.9M808.8 142.7h.9M823.7 122.5h.9M820.5 133.8h.9M813.4 119.8h.9M804.7 159.0h.9M817.7 152.9h.9M805.7 152.9h.9M822.4 131.3h.9M822.4 128.9h.9M820.5 151.9h.9M812.1 127.6h.9M821.4 120.3h.9M822.2 132.8h.9M799.4 172.4h.9M806.8 146.5h.9M809.4 140.6h.9M812.2 176.5h.9M812.7 119.1h.9M815.0 151.6h.9M809.8 133.4h.9M823.1 133.3h.9M814.9 162.2h.9M812.0 122.8h.9M797.9 186.1h.9M806.2 138.4h.9M813.9 181.7h.9M819.6 154.0h.9M800.1 173.6h.9M797.0 184.7h.9M812.1 126.2h.9M816.3 152.4h.9M818.7 153.1h.9M812.8 177.4h.9M808.7 137.4h.9M797.6 180.1h.9M801.4 162.4h.9M799.9 174.3h.9M820.5 146.3h.9M820.9 134.6h.9M823.5 118.7h.9M814.3 174.4h.9M808.3 143.8h.9M808.6 191.4h.9M819.7 151.9h.9M824.3 122.9h.9M798.8 169.7h.9M810.6 127.9h.9M820.6 144.7h.9M804.1 146.8h.9M808.4 135.8h.9M799.2 173.1h.9M821.1 131.0h.9M819.4 142.1h.9M816.1 160.8h.9M802.3 161.6h.9M812.4 131.0h.9M797.4 181.0h.9M823.1 133.5h.9M818.2 141.5h.9M800.2 171.7h.9M802.8 159.0h.9M805.5 145.3h.9M811.6 130.2h.9M818.3 154.5h.9M822.2 130.4h.9M819.2 158.4h.9M801.0 175.0h.9M823.5 122.4h.9M818.5 145.0h.9M805.5 148.8h.9M815.7 167.5h.9M822.9 127.7h.9M818.5 153.9h.9M806.6 146.1h.9M806.2 138.0h.9M802.2 159.3h.9M810.6 122.7h.9M820.4 143.5h.9M819.3 136.4h.9M802.8 160.8h.9M812.3 121.9h.9M813.5 184.1h.9M818.8 159.0h.9M819.8 151.6h.9M821.6 177.6h.9M799.1 167.8h.9M820.0 141.6h.9M800.3 168.1h.9M806.2 195.2h.9M823.7 121.9h.9M802.5 163.5h.9M815.6 166.3h.9M815.9 151.1h.9M812.0 120.2h.9M820.4 152.4h.9M816.2 155.8h.9M811.0 132.6h.9M800.0 178.1h.9M823.7 128.3h.9M812.9 120.6h.9M806.3 144.6h.9M812.0 126.7h.9M804.2 154.1h.9M798.6 173.3h.9M820.1 152.4h.9M820.0 136.4h.9M806.6 153.2h.9M807.3 137.9h.9M801.4 165.5h.9M823.2 123.7h.9M804.1 153.0h.9M819.1 143.8h.9M817.9 145.6h.9M811.9 128.6h.9M811.8 123.2h.9M817.7 158.2h.9M815.4 161.5h.9M803.0 199.4h.9M821.4 134.9h.9M800.3 172.2h.9M817.4 161.4h.9M811.3 130.4h.9M806.2 147.7h.9M815.1 157.5h.9M815.2 152.0h.9M816.5 180.1h.9M806.5 196.5h.9M807.9 138.7h.9M806.9 152.5h.9M800.9 167.2h.9M820.6 135.6h.9M806.8 151.5h.9M805.5 149.6h.9M824.8 121.8h.9M822.2 134.2h.9M806.2 139.7h.9M802.8 162.7h.9M820.2 144.1h.9M798.0 179.1h.9M820.8 135.5h.9M803.4 152.2h.9M814.9 167.3h.9M816.7 152.7h.9M809.9 134.3h.9M819.6 139.7h.9M802.3 158.0h.9M797.9 183.4h.9M821.2 135.2h.9M818.0 105.9h.9M817.9 101.1h.9M826.7 53.7h.9M813.1 117.3h.9M820.6 116.5h.9M820.6 112.4h.9M822.2 83.9h.9M819.2 117.8h.9M817.5 104.8h.9M820.2 114.4h.9M821.3 115.2h.9M823.3 84.0h.9M816.4 116.9h.9M819.9 103.8h.9M820.3 118.0h.9M815.2 116.1h.9M822.6 118.5h.9M820.5 105.9h.9M818.2 114.4h.9M820.4 104.3h.9M818.9 115.8h.9M813.4 118.7h.9M822.9 82.3h.9M821.4 95.5h.9M822.2 111.4h.9M823.4 82.7h.9M816.2 114.0h.9M821.8 119.3h.9M817.3 116.7h.9M820.4 97.8h.9M821.2 106.6h.9M817.8 116.9h.9M821.3 121.2h.9M820.3 104.7h.9M822.6 111.7h.9M826.3 55.0h.9M823.4 85.0h.9M813.4 118.0h.9M820.1 102.3h.9M826.3 53.8h.9M820.5 103.3h.9M818.2 106.8h.9M817.0 115.0h.9M819.8 113.6h.9M818.9 101.1h.9M817.5 114.2h.9M817.6 104.9h.9M813.8 119.2h.9M823.2 83.5h.9M821.6 95.2h.9M820.1 107.1h.9M820.7 118.4h.9M824.3 82.0h.9M821.4 106.8h.9M822.9 121.4h.9M818.6 105.0h.9M815.7 116.9h.9M816.5 116.5h.9M825.8 53.6h.9M820.6 106.4h.9M821.0 112.2h.9M819.4 116.8h.9M825.7 53.4h.9M819.5 101.6h.9M824.7 118.0h.9M817.8 105.5h.9M822.3 121.3h.9M819.0 103.7h.9M816.2 114.3h.9M821.8 97.4h.9M820.7 96.4h.9M819.6 103.5h.9M820.3 111.2h.9M817.8 101.4h.9M823.1 123.4h.9M821.3 106.3h.9M818.2 115.0h.9M822.0 115.8h.9M820.5 112.2h.9M820.6 115.4h.9M820.1 117.5h.9M825.9 83.6h.9M826.0 179.6h.9M818.2 179.8h.9M819.7 184.3h.9M813.9 190.5h.9M816.6 187.3h.9M811.7 195.2h.9M820.2 184.6h.9M828.0 182.6h.9M835.4 195.3h.9M813.7 185.3h.9M815.0 195.7h.9M831.6 179.8h.9M826.3 195.7h.9M823.8 181.6h.9M823.1 197.1h.9M820.9 197.1h.9M817.5 185.2h.9M825.0 196.7h.9M820.5 179.2h.9M810.3 194.1h.9M817.1 197.8h.9M814.1 185.8h.9M833.3 178.2h.9M832.7 196.6h.9M818.1 198.2h.9M831.8 196.6h.9M834.3 197.3h.9M814.8 182.8h.9M821.3 183.8h.9M806.2 196.7h.9M834.3 197.3h.9M846.3 174.6h.9M829.7 179.1h.9M808.9 195.8h.9M809.7 197.6h.9M818.5 184.5h.9M807.0 197.8h.9M814.5 187.7h.9M833.1 195.6h.9M844.7 195.4h.9M829.6 183.3h.9M807.3 193.2h.9M821.0 182.6h.9M835.6 178.7h.9M812.6 192.3h.9M816.1 187.1h.9M827.5 197.1h.9M817.0 187.8h.9M811.6 189.3h.9M828.9 198.5h.9M820.9 179.4h.9M816.4 188.8h.9M820.8 184.5h.9M810.7 193.5h.9M824.2 196.6h.9M811.2 188.6h.9M806.5 194.7h.9M820.4 198.2h.9M812.5 189.4h.9M809.8 192.1h.9M816.1 184.6h.9M818.4 182.6h.9M812.5 195.7h.9M818.0 199.5h.9M811.5 185.9h.9M820.3 179.3h.9M813.6 181.0h.9M820.2 196.4h.9M832.1 195.8h.9M820.4 196.0h.9M813.0 185.7h.9M808.4 193.0h.9M810.6 193.9h.9M822.3 182.1h.9M816.0 183.7h.9M821.4 196.9h.9M836.2 197.0h.9M828.9 182.1h.9M814.3 194.7h.9M818.9 181.2h.9M821.0 180.6h.9M830.4 197.4h.9M838.8 199.0h.9M816.7 182.0h.9M827.5 197.3h.9M849.7 193.7h.9M809.6 193.9h.9M813.0 181.6h.9M820.8 183.5h.9M814.6 185.9h.9M833.8 198.6h.9M819.1 180.1h.9M816.5 181.7h.9M831.1 198.2h.9M813.2 188.1h.9M813.5 181.8h.9M821.5 196.6h.9M813.7 185.3h.9M830.1 182.0h.9M821.3 195.8h.9M810.9 194.5h.9M840.5 196.6h.9M810.9 193.1h.9M811.7 186.2h.9M821.8 196.1h.9M812.3 186.4h.9M824.8 197.9h.9M841.7 197.3h.9M809.3 196.8h.9M814.4 194.2h.9M838.9 175.3h.9M812.8 182.2h.9M830.5 198.0h.9M828.9 182.7h.9M815.8 195.3h.9M812.2 199.3h.9M821.7 195.4h.9M831.1 181.6h.9M811.8 187.1h.9M815.8 187.3h.9M810.6 193.4h.9M813.7 199.6h.9M820.7 179.0h.9M820.6 180.5h.9M829.4 183.7h.9M814.5 187.7h.9M814.0 197.9h.9M819.1 180.6h.9M810.4 187.5h.9M810.2 187.3h.9M820.7 194.8h.9M825.2 197.0h.9M813.9 198.9h.9M819.9 181.1h.9M812.1 197.6h.9M812.1 190.0h.9M834.5 177.1h.9M830.0 198.6h.9M814.7 185.0h.9M829.4 178.2h.9M826.1 179.3h.9M818.3 181.5h.9M812.0 195.2h.9M815.7 187.9h.9M807.1 193.6h.9M819.0 179.1h.9M830.4 182.5h.9M811.3 190.9h.9M835.5 197.5h.9M833.2 176.1h.9M817.6 198.8h.9M818.1 183.7h.9M812.3 187.9h.9M821.7 183.3h.9M821.8 178.5h.9M832.4 182.1h.9M840.9 196.1h.9M815.5 182.8h.9M812.2 192.5h.9M836.1 195.0h.9M816.5 182.4h.9M833.1 176.0h.9M810.8 197.8h.9M814.3 183.0h.9M819.3 197.1h.9M812.4 187.7h.9M823.9 196.7h.9M813.7 190.5h.9M815.0 197.6h.9M839.8 174.4h.9M813.3 194.2h.9M811.3 189.0h.9M830.2 182.5h.9M819.2 178.3h.9M825.3 182.5h.9M819.5 184.5h.9M832.3 179.5h.9M818.5 178.4h.9M818.1 180.6h.9M812.9 187.6h.9M832.4 181.5h.9M815.1 184.3h.9M824.7 178.8h.9M824.7 196.7h.9M825.3 181.1h.9M830.9 179.4h.9M824.2 181.6h.9M842.3 196.3h.9M831.9 183.5h.9M815.7 184.6h.9M817.8 199.1h.9M813.5 199.4h.9M822.7 199.0h.9M826.6 198.7h.9M820.7 198.4h.9M813.7 190.2h.9M825.0 198.0h.9M808.6 191.1h.9M818.9 180.3h.9M812.8 197.4h.9M826.0 197.2h.9M815.8 198.9h.9M817.8 182.7h.9M809.2 196.7h.9M819.7 197.3h.9M816.1 183.6h.9M811.7 187.1h.9M824.8 178.3h.9M815.3 184.8h.9M812.9 184.7h.9M814.7 195.3h.9M818.7 182.7h.9M815.7 182.1h.9M839.0 199.0h.9M818.3 199.0h.9M821.0 181.8h.9M816.0 187.4h.9M814.7 187.0h.9M810.3 191.1h.9M818.9 182.4h.9M834.7 179.3h.9M826.2 181.5h.9M813.4 195.5h.9M813.5 197.7h.9M825.0 182.2h.9M809.2 189.4h.9M812.2 197.5h.9M813.1 181.6h.9M816.2 185.3h.9M827.7 180.4h.9M812.1 183.5h.9M820.7 178.7h.9M813.5 188.8h.9M811.1 182.5h.9M833.2 182.8h.9M810.4 194.6h.9M833.3 182.6h.9M814.2 186.3h.9M819.1 181.8h.9M819.0 182.3h.9M821.7 179.0h.9M815.3 196.2h.9M831.7 183.7h.9M811.0 198.4h.9M824.3 178.2h.9M851.1 192.5h.9M871.5 183.1h.9M834.7 180.6h.9M851.1 192.0h.9M882.2 163.8h.9M877.4 168.0h.9M838.3 174.8h.9M857.9 165.7h.9M821.9 197.5h.9M882.3 175.7h.9M839.2 196.8h.9M865.1 167.0h.9M843.9 175.6h.9M872.8 181.3h.9M855.9 192.5h.9M848.9 170.5h.9M857.6 166.4h.9M836.6 176.9h.9M882.7 165.4h.9M880.4 164.3h.9M853.0 193.5h.9M869.5 183.2h.9M839.5 195.2h.9M882.2 176.3h.9M847.0 172.0h.9M875.3 179.3h.9M850.5 170.3h.9M880.6 173.5h.9M849.9 192.7h.9M861.6 166.3h.9M861.6 188.0h.9M852.9 192.6h.9M873.5 180.2h.9M843.5 197.4h.9M844.0 198.1h.9M883.4 172.5h.9M880.3 167.6h.9M880.0 170.0h.9M870.4 184.1h.9M871.9 165.9h.9M872.1 182.3h.9M848.4 195.3h.9M827.7 197.7h.9M841.1 195.6h.9M843.0 175.5h.9M858.9 167.8h.9M838.4 199.5h.9M862.1 186.3h.9M879.7 162.0h.9M850.3 192.9h.9M880.2 166.3h.9M868.1 186.1h.9M866.9 165.5h.9M862.3 186.7h.9M879.7 167.3h.9M847.6 174.4h.9M873.6 179.2h.9M848.4 193.5h.9M860.6 188.7h.9M835.7 179.8h.9M857.5 189.6h.9M836.0 195.8h.9M842.9 196.3h.9M848.3 193.6h.9M834.2 182.8h.9M881.4 166.6h.9M849.8 195.1h.9M878.5 166.0h.9M855.1 192.1h.9M864.0 186.0h.9M871.0 183.5h.9M893.0 166.3h.9M880.1 170.8h.9M868.9 185.3h.9M870.7 184.6h.9M874.6 161.5h.9M870.7 163.5h.9M880.5 176.0h.9M832.6 196.4h.9M853.8 192.0h.9M842.0 178.0h.9M877.0 181.4h.9M864.1 167.8h.9M865.4 186.8h.9M866.1 186.1h.9M866.4 163.7h.9M870.7 165.9h.9M841.8 177.0h.9M877.1 179.5h.9M849.7 194.2h.9M881.0 164.7h.9M849.4 193.2h.9M878.0 167.7h.9M870.8 183.3h.9M848.2 192.1h.9M888.7 167.7h.9M843.8 195.2h.9M853.6 193.2h.9M845.2 175.9h.9M851.6 169.9h.9M850.1 193.0h.9M869.2 164.4h.9M843.0 196.9h.9M883.2 167.6h.9M820.2 196.3h.9M872.5 165.7h.9M861.2 188.0h.9M848.7 193.1h.9M846.7 171.1h.9M872.5 165.4h.9M875.4 165.5h.9M858.4 189.3h.9M844.3 195.3h.9M846.7 175.3h.9M887.5 164.1h.9M879.5 167.0h.9M835.4 196.2h.9M869.8 184.9h.9M842.6 174.3h.9M854.4 192.1h.9M840.7 196.1h.9M856.3 163.7h.9M854.6 192.6h.9M878.3 161.9h.9M847.0 169.3h.9M882.1 163.4h.9M875.1 150.3h.9M873.0 145.5h.9M854.1 164.1h.9M867.0 164.8h.9M857.2 168.9h.9M839.5 178.2h.9M860.1 161.5h.9M882.6 172.1h.9M846.2 171.0h.9M871.9 184.5h.9M883.8 163.8h.9M836.6 179.9h.9M879.2 177.8h.9M876.6 147.7h.9M879.4 181.7h.9M825.0 178.5h.9M872.3 165.9h.9M833.9 198.2h.9M880.7 165.1h.9M849.4 194.1h.9M881.4 154.9h.9M881.2 171.9h.9M861.5 164.4h.9M877.8 179.7h.9M887.1 165.8h.9M855.0 162.6h.9M849.9 165.7h.9M887.1 158.9h.9M833.3 177.8h.9M817.2 197.6h.9M868.7 185.1h.9M855.2 169.4h.9M843.7 174.7h.9M842.2 196.1h.9M838.0 175.3h.9M867.7 186.0h.9M826.7 179.9h.9M866.3 187.1h.9M844.9 173.0h.9M817.5 182.6h.9M834.6 179.3h.9M880.3 162.3h.9M841.6 174.8h.9M831.0 196.1h.9M870.3 157.1h.9M848.7 169.7h.9M863.6 164.8h.9M837.9 176.3h.9M837.1 195.3h.9M847.2 167.1h.9M839.6 173.3h.9M855.6 164.8h.9M860.7 165.6h.9M866.9 162.4h.9M832.1 184.4h.9M871.5 185.9h.9M850.2 164.7h.9M848.3 196.9h.9M871.9 157.3h.9M847.2 195.8h.9M844.4 196.0h.9M863.9 160.8h.9M885.1 162.8h.9M829.1 198.8h.9M846.1 170.3h.9M857.3 191.9h.9M883.0 176.3h.9M846.4 166.4h.9M881.9 176.8h.9M846.3 166.6h.9M878.8 178.3h.9M827.6 182.1h.9M833.1 179.8h.9M848.2 196.6h.9M853.3 168.9h.9M873.3 160.4h.9M866.8 159.5h.9M877.6 178.1h.9M844.5 170.1h.9M812.1 184.7h.9M870.5 160.4h.9M842.7 198.4h.9M846.6 195.4h.9M893.0 164.3h.9M848.3 171.7h.9M850.9 170.5h.9M884.1 168.7h.9M880.0 164.2h.9M844.5 197.8h.9M829.3 181.2h.9M880.9 174.1h.9M873.7 163.8h.9M882.7 174.1h.9M883.2 165.1h.9M886.1 166.0h.9M875.0 181.9h.9M850.6 165.2h.9M857.7 168.7h.9M852.5 169.9h.9M829.7 196.6h.9M845.4 173.4h.9M862.6 164.1h.9M879.8 161.2h.9M880.0 181.5h.9M856.5 161.6h.9M847.0 173.8h.9M872.1 163.0h.9M872.4 162.8h.9M871.3 184.2h.9M850.0 171.1h.9M878.2 177.2h.9M859.9 159.9h.9M863.1 162.9h.9M860.4 157.5h.9M860.3 164.7h.9M840.7 174.3h.9M866.9 155.2h.9M878.6 156.1h.9M852.7 169.3h.9M830.0 183.1h.9M868.1 149.7h.9M868.3 160.8h.9M863.2 165.3h.9M844.2 196.4h.9M883.7 162.5h.9M866.8 159.6h.9M880.6 182.4h.9M844.3 197.6h.9M825.3 198.4h.9M867.9 163.3h.9M844.1 171.0h.9M835.6 176.2h.9M847.3 174.7h.9M854.0 168.2h.9M857.5 168.4h.9M829.2 178.7h.9M871.8 184.7h.9M869.6 146.6h.9M886.4 163.5h.9M839.6 171.4h.9M884.4 167.7h.9M821.4 181.3h.9M853.7 163.3h.9M856.9 168.4h.9M876.1 164.6h.9M851.4 192.1h.9M837.5 178.0h.9M817.8 197.5h.9M855.1 154.7h.9M844.3 169.1h.9M840.8 197.5h.9M833.4 181.0h.9M835.5 198.9h.9M884.1 168.9h.9M849.6 171.3h.9M863.5 160.5h.9M859.9 167.7h.9M867.3 164.9h.9M870.6 164.9h.9M841.4 176.4h.9M875.6 179.1h.9M845.4 168.9h.9M843.3 176.2h.9M870.1 158.2h.9M829.3 196.5h.9M885.1 168.1h.9M878.1 177.1h.9M856.0 163.5h.9M842.6 176.1h.9M833.5 181.9h.9M843.0 168.8h.9M882.9 174.2h.9M849.3 171.7h.9M825.7 198.9h.9M867.3 186.5h.9M866.1 162.5h.9M838.8 177.6h.9M876.1 165.7h.9M851.8 194.6h.9M867.9 161.6h.9M846.6 158.1h.9M844.2 172.9h.9M885.6 165.8h.9M883.5 163.5h.9M883.1 164.2h.9M881.4 169.9h.9M884.2 172.2h.9M885.9 166.7h.9M862.6 151.6h.9M871.7 163.4h.9M835.4 179.7h.9M846.1 196.7h.9M829.9 182.6h.9M868.3 185.7h.9M883.0 172.8h.9M889.3 167.2h.9M851.1 193.9h.9M847.1 193.0h.9M839.1 175.1h.9M877.4 179.7h.9M875.9 179.3h.9M877.8 158.6h.9M847.3 173.0h.9M876.8 180.8h.9M852.8 192.8h.9M867.0 160.3h.9M866.7 151.7h.9M850.0 153.3h.9M852.8 154.8h.9M888.3 155.7h.9M874.0 152.8h.9M874.2 155.9h.9M873.8 154.9h.9M878.4 163.1h.9M851.6 168.1h.9M879.0 160.0h.9M862.1 163.3h.9M855.8 139.6h.9M862.2 163.5h.9M850.4 156.8h.9M875.9 157.1h.9M868.3 154.6h.9M857.6 160.7h.9M853.3 153.3h.9M867.9 160.3h.9M868.3 150.9h.9M854.4 153.3h.9M858.2 148.9h.9M855.8 153.9h.9M858.4 161.9h.9M852.1 164.7h.9M868.0 163.8h.9M859.1 152.7h.9M876.2 146.6h.9M880.7 150.6h.9M859.3 128.5h.9M871.3 156.8h.9M866.5 162.0h.9M861.2 141.9h.9M857.9 150.4h.9M853.6 156.7h.9M882.5 126.1h.9M857.6 156.1h.9M876.0 162.8h.9M873.3 164.2h.9M871.7 138.2h.9M855.3 152.7h.9M868.6 148.9h.9M856.0 160.1h.9M864.9 153.2h.9M882.6 162.6h.9M867.6 154.2h.9M859.1 162.0h.9M864.2 130.2h.9M848.8 168.1h.9M854.2 154.3h.9M876.8 154.8h.9M860.4 162.4h.9M860.3 130.0h.9M863.3 145.4h.9M863.3 155.9h.9M847.5 157.9h.9M857.0 162.1h.9M875.9 148.6h.9M889.5 155.9h.9M871.6 137.8h.9M856.5 146.9h.9M869.0 164.7h.9M875.5 140.9h.9M882.9 162.3h.9M863.4 153.4h.9M873.2 157.7h.9M852.5 169.5h.9M878.0 151.1h.9M870.2 154.1h.9M868.0 156.1h.9M874.1 147.0h.9M875.1 161.2h.9M871.5 153.3h.9M857.8 148.6h.9M858.4 165.7h.9M851.7 163.1h.9M866.2 159.7h.9M878.3 143.7h.9M878.4 145.3h.9M869.3 146.1h.9M863.2 147.4h.9M882.9 162.3h.9M858.2 158.2h.9M869.8 185.3h.9M863.5 163.8h.9M855.5 145.4h.9M852.5 143.7h.9M862.8 145.6h.9M847.5 168.8h.9M861.9 155.2h.9M877.6 159.7h.9M859.3 155.7h.9M892.9 165.2h.9M883.6 149.3h.9M886.3 163.8h.9M864.4 147.9h.9M865.7 145.1h.9M856.5 137.4h.9M864.0 152.3h.9M871.5 153.2h.9M854.6 169.4h.9M870.1 149.2h.9M858.2 162.9h.9M860.9 138.1h.9M884.2 154.5h.9M866.2 158.5h.9M858.7 157.0h.9M857.9 153.2h.9M868.9 160.5h.9M877.4 157.4h.9M854.0 149.8h.9M882.3 153.6h.9M848.0 166.8h.9M860.5 164.1h.9M867.8 152.5h.9M858.1 165.1h.9M860.3 139.8h.9M872.2 162.5h.9M885.8 152.4h.9M859.3 155.8h.9M872.7 151.0h.9M872.8 159.5h.9M876.8 163.8h.9M876.8 151.5h.9M858.1 167.2h.9M871.8 155.4h.9M858.0 156.3h.9M880.1 161.4h.9M873.8 143.1h.9M864.4 145.4h.9M868.7 158.4h.9M864.1 148.3h.9M880.5 166.5h.9M871.6 160.1h.9M868.8 149.6h.9M877.0 178.2h.9M850.1 155.4h.9M860.4 147.8h.9M860.7 157.8h.9M859.4 129.0h.9M878.5 156.9h.9M852.0 163.9h.9M839.5 171.8h.9M856.0 152.7h.9M867.9 151.0h.9M875.3 155.4h.9M859.3 129.9h.9M867.3 144.7h.9M866.2 157.7h.9M866.9 144.4h.9M872.4 153.9h.9M865.1 165.1h.9M878.2 152.2h.9M871.0 160.7h.9M874.8 161.1h.9M862.2 148.3h.9M844.5 169.0h.9M862.4 153.5h.9M877.1 165.8h.9M868.3 162.6h.9M881.2 125.8h.9M859.0 150.6h.9M876.6 153.4h.9M854.4 151.3h.9M868.6 152.0h.9M882.4 141.4h.9M876.1 162.6h.9M864.3 159.2h.9M844.5 169.1h.9M873.5 139.0h.9M857.7 153.7h.9M860.0 160.0h.9M880.1 163.7h.9M887.9 164.5h.9M881.5 126.2h.9M882.0 160.0h.9M872.6 149.6h.9M876.8 150.4h.9M850.4 171.7h.9M851.9 169.0h.9M859.6 156.0h.9M880.5 181.7h.9M883.2 150.9h.9M865.8 153.3h.9M862.2 162.6h.9M868.4 164.2h.9M870.5 159.7h.9M887.9 132.9h.9M844.8 148.7h.9M875.5 153.7h.9M855.1 147.8h.9M882.2 150.1h.9M852.5 150.1h.9M885.4 165.1h.9M853.6 153.4h.9M858.7 148.7h.9M866.8 148.2h.9M871.4 150.0h.9M849.5 152.8h.9M845.6 195.2h.9M849.9 153.2h.9M877.4 166.6h.9M862.1 166.3h.9M876.5 153.1h.9M876.7 166.6h.9M880.7 169.4h.9M857.2 140.3h.9M847.1 157.0h.9M874.6 165.8h.9M857.4 162.3h.9M865.8 148.8h.9M860.7 161.3h.9M871.2 157.1h.9M853.7 161.7h.9M876.0 148.9h.9M856.4 146.8h.9M868.3 151.8h.9M872.7 154.0h.9M874.8 162.3h.9M865.5 146.6h.9M869.6 152.8h.9M861.3 142.2h.9M886.8 167.3h.9M862.7 149.7h.9M852.4 168.9h.9M872.8 153.2h.9M857.9 161.9h.9M883.0 162.6h.9M863.1 128.3h.9M869.4 158.1h.9M853.1 167.5h.9M881.9 175.7h.9M860.6 165.5h.9M875.8 148.6h.9M874.3 146.2h.9M856.6 149.3h.9M863.3 164.6h.9M874.6 161.9h.9M857.4 136.2h.9M874.1 158.6h.9M874.6 147.6h.9M889.1 166.1h.9M851.4 164.7h.9M825.3 178.9h.9M882.7 153.4h.9M881.7 153.5h.9M856.2 141.2h.9M874.5 159.3h.9M863.7 165.9h.9M855.9 166.7h.9M857.2 160.0h.9M859.0 154.2h.9M863.5 136.7h.9M859.1 156.5h.9M846.2 170.8h.9M892.7 165.5h.9M845.7 148.4h.9M862.8 142.2h.9M844.9 149.0h.9M856.5 150.7h.9M847.7 165.0h.9M864.8 167.1h.9M865.2 145.3h.9M872.2 145.6h.9M867.3 161.7h.9M853.3 162.9h.9M877.9 161.5h.9M871.7 182.4h.9M861.6 157.7h.9M852.6 142.2h.9M889.0 155.2h.9M857.5 165.7h.9M880.9 168.1h.9M874.5 149.5h.9M862.0 152.8h.9M862.7 155.4h.9M852.5 151.4h.9M851.9 154.5h.9M864.6 186.1h.9M854.2 147.6h.9M870.8 153.6h.9M857.7 152.3h.9M859.5 158.7h.9M861.9 147.5h.9M865.9 147.8h.9M856.6 154.1h.9M848.4 166.9h.9M861.5 139.7h.9M868.7 146.3h.9M865.0 154.4h.9M892.6 164.5h.9M854.6 142.0h.9M885.8 153.6h.9M860.4 155.7h.9M871.2 161.0h.9M857.2 148.5h.9M859.1 162.6h.9M877.2 146.8h.9M854.1 141.2h.9M850.5 154.2h.9M856.4 155.5h.9M864.0 164.2h.9M880.0 143.2h.9M885.4 164.8h.9M873.4 159.3h.9M859.3 138.1h.9M862.7 149.3h.9M863.5 151.1h.9M853.9 147.2h.9M861.5 189.2h.9M846.5 171.4h.9M862.1 153.8h.9M834.4 181.7h.9M866.2 145.7h.9M863.6 151.8h.9M875.4 141.0h.9M871.9 156.4h.9M880.4 139.5h.9M857.7 153.5h.9M863.8 146.1h.9M861.0 153.2h.9M853.1 163.8h.9M865.7 164.0h.9M861.0 163.9h.9M878.3 151.9h.9M865.5 146.0h.9M867.7 151.8h.9M851.6 155.7h.9M867.7 122.4h.9M871.4 137.1h.9M888.1 156.6h.9M863.9 162.2h.9M872.4 146.0h.9M839.2 171.7h.9M852.7 151.3h.9M869.7 153.3h.9M867.6 154.6h.9M870.7 159.8h.9M860.6 159.2h.9M849.8 169.9h.9M865.6 157.7h.9M863.7 130.0h.9M878.4 150.9h.9M854.4 164.6h.9M847.6 174.5h.9M863.3 153.3h.9M857.9 140.0h.9M856.2 164.2h.9M861.9 148.1h.9M880.2 173.0h.9M857.0 164.3h.9M854.9 162.1h.9M869.6 160.0h.9M861.0 151.9h.9M864.1 145.0h.9M854.3 151.6h.9M858.8 147.7h.9M887.2 166.3h.9M871.2 148.6h.9M859.3 159.0h.9M884.4 152.4h.9M851.2 169.9h.9M872.0 156.2h.9M861.3 153.5h.9M870.5 146.5h.9M857.1 167.2h.9M857.5 136.1h.9M859.8 150.5h.9M882.8 161.8h.9M857.9 147.8h.9M864.8 153.2h.9M869.5 161.5h.9M873.0 144.9h.9M865.7 162.7h.9M856.7 147.1h.9M893.4 166.4h.9M862.1 141.1h.9M844.9 148.1h.9M872.5 152.0h.9M870.2 147.8h.9M886.3 158.5h.9M881.5 149.7h.9M854.9 160.1h.9M879.8 181.4h.9M870.8 158.7h.9M882.0 162.5h.9M850.4 156.9h.9M883.9 152.9h.9M882.3 171.5h.9M864.5 154.3h.9M849.6 151.9h.9M852.9 164.2h.9M835.0 177.7h.9M866.7 159.6h.9M862.2 146.4h.9M857.8 160.9h.9M858.0 138.7h.9M866.9 155.2h.9M873.7 139.0h.9M876.4 162.6h.9M876.7 164.4h.9M852.1 156.8h.9M868.7 151.4h.9M862.0 144.7h.9M864.7 147.6h.9M854.6 167.1h.9M865.4 153.9h.9M857.0 166.9h.9M877.6 158.1h.9M860.7 162.7h.9M853.6 150.8h.9M871.3 154.5h.9M860.8 149.8h.9M873.8 140.7h.9M891.2 165.5h.9M871.7 150.3h.9M850.5 170.1h.9M856.9 146.2h.9M846.5 157.2h.9M876.0 152.2h.9M859.2 152.4h.9M861.8 150.0h.9M880.6 173.4h.9M859.9 162.1h.9M858.7 165.4h.9M857.8 145.2h.9M828.3 179.3h.9M877.7 145.3h.9M881.1 168.1h.9M861.0 163.6h.9M876.7 151.5h.9M871.5 165.6h.9M851.5 167.5h.9M847.6 166.1h.9M862.8 143.9h.9M882.2 166.8h.9M854.3 144.0h.9M867.0 152.4h.9M872.0 157.0h.9M861.4 164.8h.9M877.8 163.7h.9M860.9 149.4h.9M875.1 156.3h.9M839.8 176.6h.9M855.0 147.2h.9M870.0 149.7h.9M869.3 150.9h.9M823.8 132.6h.9M864.9 148.9h.9M883.2 165.7h.9M849.1 166.0h.9M858.1 149.3h.9M870.8 161.8h.9M855.0 160.2h.9M855.1 162.6h.9M888.5 156.5h.9M817.2 159.2h.9M861.4 187.4h.9M875.2 154.3h.9M874.3 143.9h.9M861.7 147.5h.9M883.9 152.2h.9M883.9 173.2h.9M869.3 149.6h.9M850.7 155.7h.9M877.2 181.6h.9M880.0 139.4h.9M859.0 154.4h.9M865.2 147.6h.9M861.8 151.3h.9M861.1 148.3h.9M850.8 170.2h.9M856.5 161.9h.9M875.8 141.4h.9M848.6 150.5h.9M861.9 155.3h.9M849.9 169.4h.9M857.7 154.9h.9M877.9 159.1h.9M853.5 150.1h.9M847.3 157.9h.9M863.6 155.5h.9M879.8 163.1h.9M886.0 139.0h.9M861.8 138.4h.9M887.0 158.6h.9M868.6 155.2h.9M867.0 160.1h.9M873.7 161.4h.9M856.4 153.1h.9M863.6 151.8h.9M876.0 163.3h.9M878.6 142.2h.9M881.2 166.5h.9M861.7 141.8h.9M857.2 160.9h.9M869.0 158.6h.9M871.2 155.3h.9M873.1 158.2h.9M841.7 177.4h.9M856.9 147.5h.9M877.1 145.0h.9M867.2 144.0h.9M864.0 147.0h.9M872.4 182.8h.9M849.0 172.9h.9M868.0 158.7h.9M863.9 166.7h.9M872.7 153.4h.9M867.6 148.4h.9M853.1 148.3h.9M863.0 161.2h.9M870.4 186.4h.9M873.2 158.1h.9M889.7 166.8h.9M875.9 164.3h.9M876.9 144.1h.9M873.7 147.6h.9M870.5 158.3h.9M864.8 154.2h.9M856.4 147.6h.9M855.6 169.6h.9M871.1 160.6h.9M865.0 153.7h.9M866.7 149.0h.9M866.8 149.6h.9M857.2 141.5h.9M872.1 149.6h.9M852.5 142.9h.9M875.8 158.1h.9M874.7 143.5h.9M882.1 150.6h.9M885.7 139.6h.9M882.3 126.4h.9M866.9 145.8h.9M864.8 129.3h.9M864.2 158.4h.9M855.9 141.8h.9M878.8 161.3h.9M864.2 130.5h.9M870.5 161.1h.9M857.0 149.1h.9M851.7 155.0h.9M882.4 125.2h.9M885.7 139.2h.9M884.1 162.7h.9M871.9 117.6h.9M860.8 128.8h.9M862.0 128.3h.9M881.5 166.3h.9M871.1 117.2h.9M871.0 156.2h.9M881.9 150.8h.9M856.0 149.1h.9M879.3 145.9h.9M873.7 140.7h.9M886.8 141.4h.9M867.6 122.3h.9M887.6 132.6h.9M857.4 137.5h.9M854.1 142.7h.9M846.9 158.0h.9M843.5 148.5h.9M873.0 137.1h.9M871.5 137.8h.9M860.6 140.4h.9M881.7 165.4h.9M879.5 139.4h.9M864.5 160.6h.9M849.7 168.8h.9M849.2 152.0h.9M882.1 141.9h.9M878.3 145.3h.9M871.0 116.5h.9M879.0 127.8h.9M872.4 153.7h.9M879.1 144.0h.9M863.0 128.6h.9M869.5 154.5h.9M880.5 127.5h.9M881.2 151.5h.9M859.6 140.6h.9M868.7 148.5h.9M879.6 127.0h.9M810.7 124.1h.9M884.8 139.2h.9M869.8 150.6h.9M887.6 158.7h.9M855.4 140.9h.9M881.8 125.7h.9M859.3 150.3h.9M872.0 116.6h.9M858.3 161.1h.9M883.5 162.1h.9M875.6 151.4h.9M867.1 145.6h.9M874.5 155.1h.9M848.2 151.3h.9M851.7 153.8h.9M863.3 136.3h.9M868.1 153.5h.9" stroke="#4a55e0" stroke-width="1.15" stroke-opacity="1" fill="none"/>
<path d="M802.4 168.4h.9M797.4 188.9h.9M816.7 141.0h.9M809.5 151.7h.9M805.6 162.1h.9M808.4 152.3h.9M811.2 149.3h.9M809.3 183.6h.9M816.6 122.4h.9M811.3 152.9h.9M815.4 144.3h.9M805.0 195.2h.9M798.5 188.8h.9M814.0 155.1h.9M811.7 143.3h.9M797.3 189.8h.9M812.7 124.3h.9M816.3 134.2h.9M808.2 187.2h.9M811.9 152.3h.9M815.0 147.3h.9M812.5 158.2h.9M812.1 161.3h.9M810.2 148.6h.9M813.2 130.9h.9M818.7 128.1h.9M817.2 138.0h.9M806.9 157.2h.9M812.4 151.8h.9M814.1 127.3h.9M813.5 133.4h.9M818.9 127.0h.9M811.8 162.3h.9M815.3 146.9h.9M798.5 188.6h.9M816.4 122.0h.9M809.4 146.9h.9M816.0 140.2h.9M805.6 155.9h.9M813.2 152.3h.9M810.6 153.7h.9M815.4 139.5h.9M816.4 125.5h.9M801.3 166.0h.9M812.9 156.4h.9M809.6 184.1h.9M815.8 141.1h.9M815.3 141.4h.9M807.2 160.1h.9M816.1 148.5h.9M819.1 125.8h.9M807.9 162.8h.9M817.1 134.2h.9M819.5 134.0h.9M811.0 162.4h.9M807.4 165.2h.9M810.2 138.2h.9M812.3 155.2h.9M816.2 141.4h.9M816.0 147.6h.9M810.1 164.6h.9M807.7 152.4h.9M814.9 131.2h.9M819.0 135.0h.9M817.6 132.2h.9M809.1 138.1h.9M818.0 128.5h.9M812.4 150.6h.9M806.4 164.0h.9M819.2 120.6h.9M803.7 165.8h.9M812.2 134.9h.9M806.4 156.5h.9M815.3 139.2h.9M820.0 127.9h.9M813.9 140.1h.9M815.7 147.3h.9M808.9 152.8h.9M815.3 123.8h.9M807.0 150.9h.9M811.1 174.6h.9M813.0 142.0h.9M813.0 164.5h.9M801.5 171.7h.9M801.9 199.2h.9M814.3 159.2h.9M811.6 165.2h.9M808.6 151.8h.9M803.6 197.6h.9M810.9 153.7h.9M813.4 128.7h.9M809.9 153.6h.9M811.6 150.3h.9M816.0 132.3h.9M803.0 178.1h.9M812.3 164.0h.9M815.6 132.1h.9M803.6 163.7h.9M804.0 196.3h.9M820.4 131.4h.9M802.0 165.4h.9M815.7 146.5h.9M811.1 133.1h.9M818.2 134.7h.9M814.5 122.2h.9M797.6 190.9h.9M818.1 123.2h.9M805.6 163.3h.9M816.4 119.7h.9M813.0 136.6h.9M813.9 154.0h.9M812.6 166.1h.9M817.2 138.1h.9M816.0 148.5h.9M813.2 137.5h.9M815.9 139.5h.9M798.7 181.6h.9M814.5 136.2h.9M818.5 119.5h.9M814.0 149.8h.9M813.6 135.3h.9M801.2 171.4h.9M815.1 140.4h.9M802.8 167.8h.9M811.3 137.7h.9M798.0 199.2h.9M814.1 154.3h.9M814.0 159.7h.9M817.8 141.0h.9M811.2 155.9h.9M798.4 183.8h.9M806.5 160.0h.9M809.0 189.1h.9M809.3 155.4h.9M809.2 147.1h.9M816.7 139.1h.9M811.7 162.4h.9M803.0 169.9h.9M812.0 135.4h.9M813.4 158.6h.9M810.0 181.0h.9M815.6 126.9h.9M807.1 166.0h.9M809.3 148.7h.9M805.9 193.5h.9M814.1 149.8h.9M815.4 142.4h.9M817.3 142.0h.9M819.7 124.8h.9M817.4 128.3h.9M818.4 126.8h.9M812.4 137.7h.9M817.3 132.0h.9M809.5 150.6h.9M815.1 131.6h.9M815.9 147.9h.9M799.8 182.8h.9M801.5 172.0h.9M815.2 125.7h.9M802.3 170.1h.9M817.0 130.0h.9M807.3 166.7h.9M814.4 127.0h.9M807.0 159.4h.9M812.3 149.5h.9M811.4 162.4h.9M810.7 163.6h.9M816.4 143.8h.9M797.5 187.0h.9M814.6 139.0h.9M813.0 166.5h.9M804.2 167.1h.9M814.2 141.3h.9M807.6 155.2h.9M815.2 145.8h.9M818.4 117.1h.9M800.0 181.8h.9M814.2 157.0h.9M814.4 153.7h.9M815.4 146.7h.9M810.4 137.8h.9M799.7 187.5h.9M812.6 169.9h.9M816.4 135.4h.9M812.0 149.2h.9M812.1 137.7h.9M798.0 199.3h.9M812.3 141.9h.9M800.4 181.7h.9M800.6 176.3h.9M816.0 125.3h.9M817.6 131.1h.9M804.3 164.8h.9M810.0 139.7h.9M817.4 135.0h.9M818.1 129.1h.9M806.9 167.2h.9M818.9 123.4h.9M798.1 185.6h.9M805.6 159.7h.9M818.1 136.0h.9M810.5 143.8h.9M818.2 122.5h.9M805.6 155.6h.9M809.0 164.7h.9M811.3 135.7h.9M816.8 140.7h.9M811.8 152.7h.9M820.9 125.3h.9M803.9 170.6h.9M802.5 175.7h.9M805.3 162.5h.9M817.2 142.2h.9M816.7 129.0h.9M812.8 162.8h.9M820.0 124.2h.9M801.8 169.2h.9M809.1 151.0h.9M813.7 137.8h.9M817.2 135.7h.9M820.9 129.3h.9M812.6 150.3h.9M809.0 155.5h.9M815.5 130.1h.9M805.4 166.7h.9M811.3 162.2h.9M813.1 134.9h.9M813.6 149.6h.9M814.9 149.9h.9M812.3 156.6h.9M819.0 128.6h.9M806.5 164.9h.9M813.4 133.5h.9M808.1 152.7h.9M813.6 165.1h.9M802.8 168.4h.9M819.0 128.7h.9M817.6 118.9h.9M816.7 145.0h.9M816.2 141.3h.9M816.3 132.2h.9M797.1 191.6h.9M811.7 155.3h.9M819.1 124.0h.9M815.3 130.6h.9M810.9 151.5h.9M799.4 180.9h.9M814.3 124.5h.9M810.8 146.7h.9M809.7 143.1h.9M810.7 147.4h.9M811.6 176.4h.9M817.5 135.0h.9M810.9 144.6h.9M816.8 129.8h.9M807.2 154.9h.9M812.8 123.1h.9M813.6 159.2h.9M798.9 188.2h.9M813.1 144.5h.9M800.7 176.9h.9M803.2 168.8h.9M816.9 123.7h.9M815.0 149.7h.9M809.1 187.0h.9M799.5 179.4h.9M820.2 130.2h.9M811.2 164.4h.9M801.7 177.3h.9M801.6 178.0h.9M804.9 162.8h.9M801.8 180.4h.9M812.7 144.0h.9M813.6 157.3h.9M807.5 155.4h.9M812.9 134.7h.9M813.3 138.0h.9M815.9 134.4h.9M812.9 143.6h.9M807.9 146.8h.9M818.9 121.2h.9M801.9 176.3h.9M803.7 197.7h.9M809.7 151.2h.9M811.7 160.0h.9M815.6 149.6h.9M804.7 166.0h.9M812.0 137.6h.9M812.4 150.5h.9M810.2 144.9h.9M807.7 148.3h.9M804.5 169.5h.9M815.8 144.8h.9M806.2 159.4h.9M810.6 151.1h.9M813.6 142.4h.9M799.7 186.5h.9M816.9 144.9h.9M807.8 161.6h.9M815.3 125.0h.9M816.0 146.6h.9M812.6 165.3h.9M798.9 188.8h.9M811.5 162.1h.9M802.3 173.8h.9M816.0 133.6h.9M803.0 164.7h.9M813.1 134.0h.9M810.1 154.8h.9M819.3 120.6h.9M805.7 166.6h.9M812.5 140.0h.9M813.5 144.3h.9M810.4 144.3h.9M799.4 187.6h.9M814.5 126.3h.9M803.8 162.8h.9M812.9 123.4h.9M812.8 135.3h.9M812.4 143.2h.9M807.5 157.6h.9M805.5 162.9h.9M817.2 133.4h.9M816.8 133.4h.9M811.4 164.8h.9M801.1 176.9h.9M813.1 127.4h.9M806.7 157.6h.9M814.0 153.4h.9M812.7 172.4h.9M804.7 166.8h.9M811.7 135.4h.9M815.1 137.1h.9M813.6 139.5h.9M820.7 128.3h.9M821.0 127.5h.9M819.7 120.5h.9M816.4 120.7h.9M815.2 137.8h.9M814.7 158.8h.9M805.3 167.8h.9M808.7 148.8h.9M815.1 149.0h.9M819.1 126.2h.9M812.2 143.3h.9M813.8 162.5h.9M804.2 167.7h.9M816.1 132.2h.9M815.8 120.0h.9M815.5 142.9h.9M810.0 149.6h.9M809.9 150.7h.9M808.9 150.1h.9M805.0 165.8h.9M819.8 122.8h.9M801.4 172.8h.9M818.3 120.3h.9M811.4 149.1h.9M814.7 124.7h.9M820.7 129.6h.9M816.6 135.4h.9M808.4 154.3h.9M810.6 143.4h.9M807.8 146.9h.9M799.7 182.1h.9M814.4 128.9h.9M812.5 139.3h.9M805.6 157.5h.9M802.2 178.2h.9M812.6 137.8h.9M798.1 184.0h.9M818.2 122.7h.9M801.4 179.1h.9M819.5 135.0h.9M816.9 133.8h.9M800.9 180.5h.9M801.7 180.0h.9M807.1 162.4h.9M808.5 186.1h.9M804.2 168.1h.9M816.0 128.0h.9M809.7 149.6h.9M802.9 174.4h.9M802.9 167.8h.9M816.0 139.4h.9M811.9 138.4h.9M809.6 146.4h.9M803.3 171.2h.9M817.4 136.7h.9M800.7 199.4h.9M814.7 155.8h.9M807.9 157.3h.9M798.6 187.8h.9M800.3 177.2h.9M807.2 188.6h.9M813.5 134.3h.9M804.4 197.0h.9M798.9 187.2h.9M821.1 127.1h.9M814.2 149.6h.9M815.8 127.4h.9M808.9 149.6h.9M804.4 168.3h.9M812.1 157.2h.9M800.4 199.1h.9M813.2 142.2h.9M816.0 138.0h.9M804.8 197.8h.9M812.1 155.0h.9M805.7 159.9h.9M811.2 135.9h.9M797.0 191.3h.9M815.3 143.2h.9M797.9 193.0h.9M810.1 156.8h.9M811.8 159.1h.9M818.1 133.8h.9M816.6 137.3h.9M798.0 199.6h.9M817.0 120.3h.9M812.9 149.6h.9M815.7 153.0h.9M818.8 126.0h.9M812.9 150.6h.9M812.8 134.5h.9M814.0 134.8h.9M813.7 153.9h.9M812.3 165.4h.9M813.6 138.0h.9M810.5 146.3h.9M814.8 150.2h.9M810.9 139.8h.9M805.5 157.0h.9M799.9 182.7h.9M804.3 168.6h.9M810.6 154.6h.9M815.9 129.9h.9M812.6 153.1h.9M812.8 165.9h.9M821.2 126.6h.9M815.5 135.9h.9M807.9 146.4h.9M813.3 124.7h.9M802.6 176.9h.9M808.9 154.9h.9M816.8 131.8h.9M811.1 137.3h.9M817.0 138.5h.9M812.2 153.4h.9M813.2 133.9h.9M812.0 152.0h.9M813.5 139.8h.9M804.4 168.4h.9M813.8 132.4h.9M821.8 129.1h.9M814.1 153.6h.9M816.4 137.6h.9M800.6 181.5h.9M818.4 132.1h.9M819.5 119.5h.9M814.5 129.0h.9M813.2 144.3h.9M803.7 169.7h.9M804.8 166.2h.9M802.8 178.9h.9M816.6 140.2h.9M811.2 165.5h.9M810.7 156.9h.9M802.7 172.2h.9M809.3 153.1h.9M813.2 133.6h.9M810.3 163.8h.9M809.8 139.8h.9M818.1 136.0h.9M810.7 143.9h.9M804.6 161.6h.9M815.4 136.9h.9M820.1 129.7h.9M813.4 163.5h.9M818.3 131.5h.9M817.6 142.7h.9M812.9 164.0h.9M810.8 181.3h.9M819.5 128.0h.9M801.3 180.2h.9M808.2 152.2h.9M817.6 135.9h.9M816.6 120.5h.9M813.6 141.5h.9M798.5 182.9h.9M818.9 132.1h.9M815.5 135.4h.9M819.9 130.3h.9M808.7 147.6h.9M815.0 126.0h.9M810.0 149.9h.9M797.5 199.1h.9M816.9 147.1h.9M810.1 144.2h.9M797.1 193.2h.9M812.4 169.3h.9M814.4 151.5h.9M815.8 154.9h.9M816.8 127.7h.9M798.0 199.5h.9M815.7 121.8h.9M814.6 150.4h.9M814.9 132.6h.9M815.2 134.4h.9M814.3 154.9h.9M802.7 198.4h.9M797.4 189.8h.9M816.4 131.7h.9M810.6 137.6h.9M813.7 162.0h.9M812.0 143.1h.9M803.2 197.9h.9M813.7 154.9h.9M813.1 136.5h.9M807.8 189.5h.9M820.3 127.0h.9M814.8 132.4h.9M809.5 155.0h.9M812.7 163.8h.9M813.8 142.7h.9M798.3 187.4h.9M811.0 149.4h.9M813.3 149.4h.9M819.7 125.2h.9M815.1 140.8h.9M816.8 123.5h.9M818.3 130.7h.9M815.1 124.6h.9M813.5 161.0h.9M815.5 142.9h.9M807.7 160.6h.9M813.3 154.9h.9M811.6 174.9h.9M819.8 135.7h.9M813.4 124.4h.9M798.8 181.9h.9M803.8 161.5h.9M813.7 167.1h.9M800.2 180.6h.9M807.0 155.4h.9M813.3 153.1h.9M800.1 177.4h.9M811.3 153.5h.9M806.6 159.2h.9M814.6 149.8h.9M804.7 197.9h.9M804.3 168.1h.9M818.9 134.5h.9M801.2 166.8h.9M805.8 162.6h.9M799.5 186.8h.9M809.4 164.0h.9M805.6 169.3h.9M814.7 138.0h.9M802.8 172.5h.9M803.9 163.0h.9M817.0 124.0h.9M818.9 121.3h.9M814.4 138.1h.9M814.9 156.2h.9M812.7 153.0h.9M809.9 150.8h.9M811.9 153.7h.9M806.1 156.4h.9M815.7 144.8h.9M807.4 166.1h.9M815.3 126.0h.9M806.2 165.5h.9M817.9 141.9h.9M815.9 147.6h.9M804.9 195.5h.9M811.4 176.5h.9M810.6 137.6h.9M805.1 162.3h.9M811.9 139.2h.9M807.7 157.4h.9M801.8 176.9h.9M802.4 168.7h.9M815.7 138.9h.9M813.9 123.5h.9M802.2 171.4h.9M810.7 183.3h.9M797.9 199.5h.9M816.0 123.5h.9M816.9 134.0h.9M813.7 152.5h.9M815.4 140.4h.9M814.5 153.3h.9M811.5 176.0h.9M803.0 179.2h.9M814.2 157.2h.9M814.5 124.9h.9M798.1 184.6h.9M819.6 126.7h.9M812.7 151.2h.9M804.6 170.9h.9M805.9 194.0h.9M807.8 157.4h.9M805.5 154.9h.9M810.4 143.0h.9M810.8 140.8h.9M804.7 196.5h.9M813.4 161.0h.9M805.6 158.2h.9M803.7 167.8h.9M799.8 199.0h.9M809.7 152.5h.9M814.8 124.5h.9M817.4 143.9h.9M798.3 182.2h.9M805.8 156.2h.9M813.1 139.7h.9M813.2 153.1h.9M806.0 165.4h.9M809.5 182.2h.9M811.6 143.4h.9M816.1 148.0h.9M809.6 154.7h.9M810.9 155.7h.9M818.1 133.0h.9M801.7 199.5h.9M813.3 143.7h.9M814.3 149.6h.9M812.3 165.2h.9M802.7 167.1h.9M812.8 157.7h.9M818.4 128.8h.9M816.1 146.0h.9M810.5 181.1h.9M816.7 140.2h.9M813.4 163.5h.9M807.6 165.4h.9M818.6 119.5h.9M806.9 164.8h.9M803.8 198.7h.9M820.8 124.3h.9M804.1 196.8h.9M820.6 124.4h.9M810.6 138.8h.9M806.7 156.6h.9M815.0 125.7h.9M810.0 165.6h.9M812.9 135.8h.9M817.0 130.7h.9M812.6 155.1h.9M810.3 157.5h.9M816.7 145.9h.9M816.0 135.9h.9M806.1 155.1h.9M797.2 199.4h.9M813.8 141.6h.9M815.4 155.4h.9M797.6 189.2h.9M797.3 193.0h.9M805.8 156.1h.9M820.3 119.5h.9M811.2 134.6h.9M820.1 120.8h.9M799.5 179.6h.9M815.7 140.0h.9M810.0 149.2h.9M811.9 164.4h.9M816.5 128.9h.9M803.1 197.3h.9M818.4 125.8h.9M813.8 152.6h.9M819.9 130.0h.9M810.3 164.3h.9M811.3 164.3h.9M801.8 168.9h.9M814.9 128.9h.9M805.0 167.2h.9M817.4 132.0h.9M815.3 135.7h.9M797.8 199.1h.9M798.2 199.0h.9M816.4 134.1h.9M816.7 117.3h.9M811.0 154.9h.9M819.0 118.8h.9M815.0 129.7h.9M804.2 162.7h.9M818.2 126.2h.9M816.7 136.2h.9M803.7 197.9h.9M813.2 142.8h.9M812.3 165.8h.9M813.4 126.9h.9M809.1 145.7h.9M821.1 126.5h.9M798.6 180.4h.9M817.1 133.4h.9M798.1 181.9h.9M817.0 119.1h.9M808.5 147.8h.9M801.2 167.9h.9M800.2 199.3h.9M809.5 148.3h.9M816.4 128.7h.9M817.3 130.8h.9M808.5 152.2h.9M807.7 151.8h.9M818.7 128.7h.9M808.5 155.7h.9M818.8 118.0h.9M817.9 129.5h.9M817.7 131.9h.9M812.6 138.4h.9M814.8 139.4h.9M813.7 160.1h.9M814.5 130.2h.9M816.8 125.0h.9M798.1 199.4h.9M812.7 152.3h.9M798.8 184.4h.9M805.3 160.0h.9M815.3 136.8h.9M815.3 133.2h.9M798.9 188.9h.9M816.6 135.8h.9M811.7 139.3h.9M815.8 145.7h.9M815.3 137.8h.9M800.3 178.3h.9M815.7 137.3h.9M801.8 167.9h.9M812.5 151.4h.9M812.1 124.7h.9M810.2 148.8h.9M804.2 161.6h.9M814.6 143.8h.9M813.4 169.0h.9M813.4 133.7h.9M810.0 164.3h.9M807.8 150.1h.9M803.1 168.1h.9M814.4 158.8h.9M808.6 155.7h.9M802.6 173.3h.9M820.3 125.7h.9M807.2 156.3h.9M805.6 160.8h.9M814.6 127.8h.9M808.0 146.0h.9M807.0 150.6h.9M801.1 175.9h.9M804.3 162.1h.9M811.5 152.2h.9M812.1 154.5h.9M805.9 168.1h.9M816.2 126.3h.9M810.4 181.7h.9M804.4 169.7h.9M821.0 128.3h.9M801.8 176.3h.9M800.3 181.3h.9M797.7 189.0h.9M807.5 161.1h.9M818.8 133.6h.9M815.6 131.5h.9M810.5 147.6h.9M820.3 126.1h.9M806.6 168.3h.9M802.0 174.4h.9M811.7 141.6h.9M817.5 123.5h.9M813.9 164.4h.9M812.7 142.9h.9M817.1 132.7h.9M809.6 148.7h.9M812.4 141.0h.9M805.2 161.5h.9M813.9 158.5h.9M810.4 142.1h.9M809.1 165.6h.9M806.0 164.8h.9M814.7 129.9h.9M808.1 155.7h.9M798.8 182.3h.9M814.9 137.8h.9M812.6 158.2h.9M818.7 132.2h.9M806.8 162.8h.9M811.5 175.7h.9M813.8 131.2h.9M815.9 144.6h.9M815.7 140.8h.9M812.6 163.0h.9M800.0 181.0h.9M811.5 162.0h.9M815.4 147.2h.9M815.0 127.3h.9M807.2 156.2h.9M798.5 189.0h.9M816.9 120.9h.9M807.1 152.3h.9M810.1 153.1h.9M805.1 154.2h.9M813.1 137.8h.9M798.8 189.9h.9M802.0 178.0h.9M811.1 137.6h.9M810.4 144.8h.9M810.5 135.0h.9M815.4 145.8h.9M801.4 180.1h.9M810.6 143.6h.9M817.4 129.4h.9M819.5 135.5h.9M804.2 162.1h.9M819.3 124.5h.9M799.7 182.5h.9M818.1 133.8h.9M817.9 143.8h.9M798.3 186.5h.9M815.3 127.1h.9M817.5 137.9h.9M822.0 128.6h.9M812.5 160.8h.9M799.8 186.6h.9M810.1 137.3h.9M810.9 150.0h.9M809.9 165.9h.9M798.8 184.0h.9M814.5 131.3h.9M812.5 136.5h.9M815.7 143.1h.9M802.7 165.6h.9M819.2 120.9h.9M815.1 140.7h.9M814.3 135.4h.9M815.1 145.7h.9M818.9 131.4h.9M806.9 157.2h.9M811.2 143.3h.9M811.0 160.9h.9M814.6 133.8h.9M813.9 165.9h.9M813.4 164.8h.9M812.3 154.1h.9M816.5 135.0h.9M819.0 131.4h.9M806.7 154.2h.9M807.1 161.0h.9M811.3 137.5h.9M810.4 151.6h.9M816.3 140.0h.9M812.8 152.7h.9M798.1 184.4h.9M814.7 156.4h.9M810.3 147.7h.9M812.3 154.2h.9M810.7 146.7h.9M815.8 142.0h.9M812.4 161.3h.9M813.1 142.2h.9M819.7 134.2h.9M812.4 173.6h.9M817.6 120.9h.9M821.1 126.1h.9M814.9 158.9h.9M810.5 139.1h.9M820.2 119.5h.9M815.7 121.2h.9M800.5 199.2h.9M820.2 119.9h.9M814.3 150.9h.9M805.4 169.4h.9M812.5 155.3h.9M817.0 138.3h.9M808.3 151.8h.9M817.0 134.4h.9M802.7 169.6h.9M801.0 172.6h.9M809.7 148.1h.9M805.1 169.3h.9M805.8 166.6h.9M815.1 149.1h.9M811.8 160.9h.9M809.8 145.9h.9M802.1 177.2h.9M812.1 164.9h.9M797.0 193.6h.9M821.5 125.5h.9M814.2 133.0h.9M801.7 175.7h.9M818.3 127.9h.9M808.1 149.7h.9M810.3 184.2h.9M811.7 154.1h.9M811.1 134.5h.9M815.7 136.6h.9M815.2 133.8h.9M818.8 132.1h.9M809.6 139.1h.9M810.9 147.2h.9M821.7 125.1h.9M815.5 135.6h.9M812.6 159.8h.9M813.8 153.1h.9M808.9 155.5h.9M799.4 181.4h.9M799.0 185.6h.9M817.4 138.6h.9M809.4 147.2h.9M797.1 191.4h.9M820.9 130.1h.9M806.0 157.9h.9M806.5 160.7h.9M804.8 163.0h.9M815.9 144.1h.9M811.3 160.2h.9M802.6 176.2h.9M814.0 150.6h.9M811.5 158.6h.9M811.6 155.7h.9M816.7 123.8h.9M815.2 143.6h.9M805.6 164.7h.9M819.3 122.3h.9M817.6 134.7h.9M804.8 164.5h.9M802.5 170.7h.9M816.8 146.3h.9M810.6 148.7h.9M813.8 136.0h.9M806.0 166.6h.9M805.8 166.4h.9M810.9 152.1h.9M815.7 138.8h.9M815.7 136.6h.9M816.7 130.9h.9M819.4 124.3h.9M817.9 130.7h.9M815.9 140.6h.9M815.8 138.3h.9M802.2 165.9h.9M798.0 187.0h.9M805.6 159.3h.9M821.0 130.5h.9M818.7 123.3h.9M803.4 197.3h.9M805.5 165.0h.9M812.2 158.8h.9M815.7 131.3h.9M798.0 189.8h.9M814.8 137.8h.9M806.5 158.5h.9M816.5 129.1h.9M818.8 132.4h.9M807.9 149.4h.9M801.4 176.6h.9M801.5 177.2h.9M815.1 133.6h.9M819.5 128.4h.9M812.2 138.9h.9M800.9 199.3h.9M813.1 149.4h.9M816.6 128.3h.9M801.5 169.8h.9M812.7 141.3h.9M812.2 151.7h.9M802.5 179.9h.9M797.4 188.2h.9M809.5 146.3h.9M813.0 159.5h.9M815.4 156.0h.9M816.1 119.7h.9M812.2 125.0h.9M811.6 133.5h.9M805.5 167.3h.9M804.3 169.4h.9M813.9 139.1h.9M814.9 142.8h.9M798.0 192.4h.9M802.3 169.0h.9M805.8 195.2h.9M805.2 167.2h.9M818.0 125.8h.9M815.1 122.0h.9M814.9 138.2h.9M802.4 179.9h.9M815.3 137.5h.9M819.8 119.9h.9M802.4 171.7h.9M813.8 155.9h.9M805.8 162.3h.9M815.0 121.1h.9M813.1 126.2h.9M811.8 158.9h.9M813.2 132.0h.9M814.4 135.7h.9M815.7 139.2h.9M818.3 123.3h.9M804.0 163.5h.9M807.9 166.7h.9M803.2 166.8h.9M806.7 167.6h.9M811.2 159.8h.9M801.4 180.7h.9M815.8 143.0h.9M810.0 138.7h.9M821.3 125.3h.9M811.0 164.3h.9M817.6 129.9h.9M802.6 168.4h.9M812.2 138.0h.9M811.0 144.3h.9M808.7 149.1h.9M807.5 189.4h.9M807.2 190.2h.9M813.7 143.4h.9M818.4 122.2h.9M800.8 199.2h.9M817.3 122.6h.9M803.1 169.2h.9M816.4 127.0h.9M813.6 130.4h.9M813.9 124.5h.9M813.3 143.5h.9M801.5 177.2h.9M801.7 166.5h.9M797.1 188.8h.9M815.4 120.2h.9M805.9 196.0h.9M798.2 181.7h.9M811.4 175.5h.9M813.1 163.8h.9M811.4 133.9h.9M806.2 163.4h.9M812.9 149.0h.9M815.9 121.6h.9M807.3 192.0h.9M818.6 121.4h.9M811.8 157.0h.9M814.5 140.0h.9M812.4 137.9h.9M811.5 137.1h.9M802.7 175.4h.9M801.5 175.0h.9M816.5 148.4h.9M804.5 162.8h.9M811.6 159.8h.9M802.2 179.8h.9M811.9 175.0h.9M813.5 125.7h.9M819.3 129.3h.9M805.7 155.9h.9M813.1 168.8h.9M811.3 149.2h.9M812.7 123.9h.9M813.5 142.1h.9M805.7 170.0h.9M797.7 190.9h.9M813.4 156.9h.9M806.8 160.3h.9M807.7 188.3h.9M813.4 135.6h.9M800.7 178.4h.9M820.2 126.7h.9M813.7 144.1h.9M813.4 158.8h.9M805.3 160.2h.9M812.5 123.4h.9M807.5 160.7h.9M814.1 154.8h.9M816.7 144.5h.9M813.4 133.9h.9M805.6 165.5h.9M814.3 139.5h.9M814.9 132.7h.9M812.8 154.2h.9M812.9 135.0h.9M817.2 143.5h.9M815.5 120.5h.9M797.7 192.9h.9M808.9 150.5h.9M815.0 144.4h.9M800.4 180.4h.9M817.2 138.5h.9M809.2 139.3h.9M811.2 155.5h.9M800.8 199.4h.9M809.0 152.6h.9M805.8 168.8h.9M817.7 138.1h.9M816.3 134.5h.9M802.7 174.0h.9M814.8 155.2h.9M799.7 187.7h.9M816.8 127.9h.9M807.0 149.9h.9M813.9 165.1h.9M801.0 170.2h.9M806.9 163.4h.9M813.6 157.5h.9M810.0 146.4h.9M820.8 131.8h.9M809.6 137.9h.9M804.4 169.8h.9M811.1 164.7h.9M817.8 122.5h.9M799.8 185.9h.9M813.0 143.9h.9M810.3 138.7h.9M812.3 139.9h.9M813.0 140.6h.9M815.0 147.1h.9M809.7 143.1h.9M808.8 146.7h.9M815.4 123.9h.9M804.5 166.1h.9M811.9 138.4h.9M813.1 163.8h.9M815.2 127.9h.9M810.1 149.2h.9M815.5 126.9h.9M819.1 128.4h.9M812.6 139.1h.9M802.2 173.9h.9M812.9 159.6h.9M817.2 136.9h.9M817.7 117.4h.9M817.8 120.6h.9M818.7 119.0h.9M815.2 118.7h.9M816.0 119.2h.9M817.7 119.6h.9M816.4 117.2h.9M816.5 124.3h.9M818.4 123.2h.9M815.6 119.0h.9M818.6 121.0h.9M818.4 117.5h.9M817.0 118.6h.9M814.4 119.5h.9M817.9 122.5h.9M816.8 118.2h.9M817.7 119.1h.9M817.5 118.0h.9M815.3 120.4h.9M817.3 119.5h.9M819.8 121.9h.9M817.4 118.5h.9M818.4 119.4h.9M814.3 119.9h.9M817.9 117.3h.9M811.2 176.3h.9M813.6 168.9h.9M813.0 170.9h.9M809.3 184.1h.9M811.8 176.2h.9M809.2 185.1h.9M812.4 171.7h.9M809.2 181.1h.9M811.5 175.1h.9M808.5 186.4h.9M812.2 169.7h.9M823.6 186.2h.9M837.8 181.5h.9M825.0 191.0h.9M819.7 190.5h.9M818.7 185.2h.9M806.6 192.9h.9M816.7 195.3h.9M807.9 191.3h.9M830.0 193.5h.9M813.3 191.1h.9M818.5 188.1h.9M829.9 187.9h.9M822.9 185.0h.9M819.4 190.3h.9M822.4 185.7h.9M821.7 188.2h.9M830.3 185.3h.9M816.6 190.2h.9M823.4 193.4h.9M822.2 191.6h.9M822.5 190.1h.9M836.4 189.1h.9M838.9 191.2h.9M825.9 185.3h.9M826.6 196.3h.9M836.0 189.7h.9M835.0 193.5h.9M827.2 184.7h.9M819.5 189.2h.9M837.3 190.2h.9M825.8 194.1h.9M817.8 194.6h.9M834.5 189.4h.9M822.4 193.7h.9M830.3 194.8h.9M824.5 191.7h.9M819.0 192.9h.9M832.6 188.1h.9M820.2 187.2h.9M828.4 187.9h.9M823.8 194.6h.9M822.4 191.2h.9M831.1 190.7h.9M838.6 190.7h.9M818.9 191.9h.9M811.7 193.2h.9M808.4 186.8h.9M821.3 192.3h.9M820.8 192.1h.9M844.7 194.2h.9M826.6 190.7h.9M833.6 189.1h.9M820.7 189.4h.9M816.0 195.0h.9M816.2 192.7h.9M834.0 186.0h.9M817.5 187.2h.9M815.9 189.2h.9M817.8 195.4h.9M831.5 193.7h.9M819.2 195.2h.9M818.2 190.3h.9M828.2 191.2h.9M831.3 192.1h.9M825.0 192.1h.9M829.2 189.0h.9M811.1 194.2h.9M830.5 191.4h.9M824.2 195.2h.9M819.9 188.0h.9M810.5 184.9h.9M828.5 195.9h.9M846.0 192.8h.9M823.5 194.8h.9M836.4 181.1h.9M828.9 188.2h.9M815.9 193.2h.9M825.0 182.2h.9M819.1 191.7h.9M816.1 195.1h.9M818.3 186.0h.9M839.9 192.1h.9M830.2 190.5h.9M837.4 187.7h.9M839.7 183.9h.9M837.3 186.5h.9M835.4 191.2h.9M822.3 189.1h.9M814.2 191.6h.9M827.4 187.6h.9M827.2 192.2h.9M826.1 190.2h.9M827.9 187.7h.9M822.7 190.5h.9M823.8 192.7h.9M828.6 190.2h.9M825.5 192.4h.9M827.5 192.6h.9M818.4 194.2h.9M827.9 187.7h.9M820.0 190.1h.9M816.3 192.8h.9M836.3 181.1h.9M824.0 190.0h.9M834.9 187.2h.9M815.1 192.4h.9M832.9 192.0h.9M820.2 186.3h.9M813.0 193.3h.9M821.3 190.4h.9M827.5 187.9h.9M818.2 196.7h.9M834.5 189.5h.9M831.0 186.8h.9M825.7 188.4h.9M813.3 192.4h.9M820.5 189.5h.9M831.6 185.8h.9M829.8 193.9h.9M825.0 190.3h.9M823.1 189.0h.9M831.7 185.2h.9M824.8 187.5h.9M842.8 179.3h.9M827.9 186.9h.9M819.2 194.7h.9M836.5 180.3h.9M821.1 193.2h.9M818.5 190.2h.9M822.7 191.6h.9M820.8 188.4h.9M827.9 187.0h.9M821.9 192.1h.9M831.0 187.1h.9M823.0 191.2h.9M832.9 189.0h.9M824.0 194.4h.9M820.0 191.2h.9M805.3 194.0h.9M816.2 191.2h.9M826.3 183.6h.9M821.7 190.9h.9M830.0 189.5h.9M822.1 195.6h.9M835.3 180.4h.9M823.1 193.5h.9M831.4 187.8h.9M829.8 186.9h.9M814.8 189.2h.9M818.1 193.6h.9M828.4 188.9h.9M830.5 192.1h.9M834.6 186.5h.9M825.9 189.4h.9M826.9 184.3h.9M809.2 185.7h.9M809.8 185.5h.9M830.1 195.4h.9M818.9 191.5h.9M832.8 187.8h.9M815.4 191.5h.9M823.0 193.1h.9M833.3 186.0h.9M835.3 192.5h.9M816.0 191.7h.9M822.9 193.2h.9M834.3 192.9h.9M814.1 189.7h.9M817.5 189.4h.9M809.4 185.0h.9M813.3 192.0h.9M834.7 191.0h.9M832.1 190.7h.9M821.6 192.9h.9M818.9 197.5h.9M826.7 186.0h.9M829.9 192.2h.9M817.7 186.2h.9M833.8 194.0h.9M837.2 193.1h.9M826.6 184.9h.9M823.5 184.5h.9M829.1 193.0h.9M834.1 190.4h.9M831.3 191.2h.9M821.0 191.8h.9M823.9 195.5h.9M818.2 195.6h.9M819.1 189.4h.9M821.2 191.0h.9M826.1 189.7h.9M829.5 195.7h.9M816.7 194.1h.9M817.4 195.1h.9M834.0 186.1h.9M822.9 192.6h.9M822.7 184.4h.9M835.4 187.6h.9M812.0 193.8h.9M826.7 196.7h.9M810.1 184.1h.9M822.8 191.4h.9M834.3 188.6h.9M821.5 192.4h.9M832.7 193.6h.9M825.0 188.4h.9M817.3 196.2h.9M828.0 191.5h.9M823.7 185.2h.9M817.7 194.0h.9M826.9 187.4h.9M819.2 190.6h.9M821.6 192.3h.9M818.0 193.7h.9M826.7 189.6h.9M816.3 192.1h.9M838.7 193.2h.9M823.6 184.0h.9M839.4 186.9h.9M835.0 183.2h.9M830.0 190.5h.9M831.2 189.0h.9M824.4 184.5h.9M826.1 184.8h.9M820.6 189.1h.9M822.2 194.7h.9M838.1 181.0h.9M835.3 181.1h.9M824.2 194.2h.9M817.6 192.6h.9M830.7 188.0h.9M835.1 194.6h.9M828.9 193.9h.9M818.9 195.0h.9M817.6 193.2h.9M811.2 194.5h.9M827.0 190.6h.9M818.6 189.9h.9M817.7 192.7h.9M811.9 193.6h.9M829.8 185.8h.9M815.2 193.3h.9M838.3 194.8h.9M826.7 186.7h.9M824.6 190.3h.9M808.5 190.0h.9M828.9 193.8h.9M840.7 194.3h.9M816.5 193.0h.9M836.9 191.1h.9M829.7 193.9h.9M824.5 186.4h.9M820.6 190.5h.9M845.7 190.8h.9M834.1 185.5h.9M813.9 192.6h.9M820.1 193.6h.9M808.0 191.4h.9M835.2 183.8h.9M830.8 195.6h.9M821.0 186.4h.9M825.6 194.2h.9M829.6 188.3h.9M835.2 180.1h.9M840.6 193.4h.9M819.9 188.5h.9M821.5 184.5h.9M819.2 192.2h.9M831.0 190.7h.9M832.5 193.4h.9M827.5 195.5h.9M802.9 179.4h.9M823.7 185.6h.9M823.0 194.6h.9M810.2 184.5h.9M820.8 186.5h.9M824.4 185.2h.9M824.4 183.5h.9M822.8 186.6h.9M831.7 186.8h.9M823.7 187.3h.9M834.6 183.1h.9M830.9 193.9h.9M829.8 194.8h.9M830.6 188.5h.9M833.2 186.0h.9M828.6 196.1h.9M822.2 188.1h.9M821.9 184.2h.9M805.7 193.5h.9M823.8 183.8h.9M834.9 183.8h.9M816.1 194.5h.9M824.0 190.8h.9M807.6 188.2h.9M824.8 182.8h.9M832.5 191.5h.9M824.6 186.6h.9M821.2 189.9h.9M828.6 192.3h.9M818.9 195.6h.9M815.8 188.2h.9M830.0 192.7h.9M822.5 192.5h.9M816.0 190.7h.9M831.6 184.1h.9M830.4 190.2h.9M833.0 193.4h.9M838.8 183.5h.9M814.9 189.6h.9M839.8 191.2h.9M836.2 183.7h.9M820.1 190.5h.9M830.5 193.0h.9M818.6 185.9h.9M807.3 190.2h.9M826.8 192.3h.9M824.0 188.0h.9M838.2 195.1h.9M823.2 190.8h.9M819.5 192.6h.9M826.4 188.1h.9M823.9 195.6h.9M817.0 194.7h.9M819.3 192.9h.9M807.1 188.8h.9M829.9 195.1h.9M817.0 194.5h.9M823.0 184.8h.9M829.6 191.7h.9M815.0 191.3h.9M821.2 191.4h.9M829.1 192.7h.9M815.2 190.0h.9M836.8 193.9h.9M827.0 190.7h.9M827.4 196.8h.9M825.0 183.7h.9M831.9 193.2h.9M826.7 196.3h.9M821.4 189.1h.9M824.7 184.2h.9M833.8 192.7h.9M832.5 185.6h.9M825.9 186.5h.9M825.3 185.6h.9M797.8 191.1h.9M818.5 191.9h.9M817.8 191.5h.9M838.7 191.8h.9M817.8 186.7h.9M821.5 186.3h.9M818.5 186.4h.9M822.2 187.7h.9M821.7 186.9h.9M807.4 190.3h.9M824.1 186.2h.9M829.8 188.0h.9M825.5 191.9h.9M824.1 187.4h.9M815.6 190.8h.9M834.3 191.9h.9M837.6 185.5h.9M819.0 195.1h.9M833.3 191.4h.9M835.2 190.6h.9M819.6 190.6h.9M817.8 192.2h.9M813.4 192.9h.9M828.0 187.2h.9M829.2 191.8h.9M823.9 184.8h.9M826.4 188.6h.9M831.4 186.9h.9M823.3 187.3h.9M828.6 194.7h.9M824.0 184.6h.9M829.4 185.1h.9M824.4 192.7h.9M810.2 184.5h.9M821.0 185.2h.9M818.3 186.1h.9M820.4 189.4h.9M823.2 188.1h.9M833.4 188.5h.9M838.2 194.7h.9M828.0 186.2h.9M833.8 187.5h.9M831.8 190.3h.9M819.5 190.6h.9M818.8 186.1h.9M826.9 187.2h.9M828.1 185.4h.9M809.1 181.3h.9M814.6 192.4h.9M836.7 184.7h.9M832.9 187.9h.9M825.0 190.8h.9M827.6 190.8h.9M815.2 194.7h.9M824.1 189.1h.9M814.4 191.2h.9M825.3 194.9h.9M833.8 190.5h.9M828.3 194.4h.9M827.7 185.3h.9M833.4 194.9h.9M832.3 188.5h.9M834.5 194.8h.9M818.4 194.7h.9M797.3 192.3h.9M827.5 184.1h.9M824.2 189.3h.9M817.1 191.4h.9M823.9 193.0h.9M824.9 184.4h.9M829.3 190.2h.9M823.3 193.7h.9M826.3 186.7h.9M818.1 186.9h.9M824.2 182.7h.9M816.4 191.9h.9M835.9 185.6h.9M826.8 187.7h.9M824.4 190.2h.9M830.4 188.1h.9M831.0 191.8h.9M824.3 192.7h.9M833.1 189.6h.9M829.8 191.2h.9M825.7 193.7h.9M822.7 187.6h.9M824.6 188.7h.9M836.9 191.2h.9M823.3 192.7h.9M823.2 194.8h.9M822.1 185.9h.9M815.4 192.0h.9M826.4 183.0h.9M828.9 185.2h.9M830.7 187.5h.9M831.3 185.7h.9M836.1 186.1h.9M807.2 191.7h.9M824.0 182.2h.9M826.5 191.4h.9M818.6 197.5h.9M835.2 186.6h.9M825.5 191.3h.9M823.5 191.1h.9M835.4 194.1h.9M818.3 197.8h.9M835.5 180.8h.9M815.2 189.3h.9M822.6 186.1h.9M835.1 190.6h.9M825.6 186.3h.9M825.0 190.1h.9M817.2 190.4h.9M829.1 189.1h.9M818.3 195.6h.9M824.1 186.0h.9M823.1 185.8h.9M824.7 184.8h.9M826.5 189.2h.9M836.6 192.0h.9M823.2 184.7h.9M827.7 196.7h.9M811.6 193.2h.9M819.9 188.4h.9M818.0 189.6h.9M834.3 186.6h.9M824.0 184.1h.9M853.3 191.4h.9M819.7 185.5h.9M830.8 185.5h.9M827.7 196.3h.9M833.0 188.5h.9M831.8 188.5h.9M835.8 184.1h.9M831.5 193.7h.9M824.9 184.4h.9M822.1 193.6h.9M841.8 192.2h.9M838.0 183.7h.9M815.9 190.9h.9M835.1 188.0h.9M836.9 192.8h.9M825.9 186.7h.9M831.6 194.8h.9M825.2 192.3h.9M822.5 192.7h.9M813.0 193.7h.9M823.3 191.1h.9M839.2 179.7h.9M821.2 189.8h.9M828.2 192.7h.9M828.5 184.1h.9M826.8 189.0h.9M839.6 194.0h.9M820.7 186.3h.9M826.5 186.8h.9M826.3 186.0h.9M823.0 193.0h.9M832.6 189.3h.9M822.8 191.4h.9M840.0 188.6h.9M820.7 191.1h.9M833.6 191.6h.9M835.4 190.9h.9M831.4 187.1h.9M828.3 195.7h.9M824.2 185.4h.9M835.5 187.6h.9M837.8 181.1h.9M817.7 196.6h.9M829.7 191.1h.9M833.1 190.9h.9M826.1 183.4h.9M817.2 186.9h.9M818.6 186.4h.9M865.3 185.8h.9M871.7 168.4h.9M876.4 168.2h.9M846.8 192.3h.9M873.6 167.6h.9M867.1 169.5h.9M838.1 184.8h.9M845.5 192.9h.9M861.3 170.8h.9M879.1 169.0h.9M841.6 193.3h.9M844.2 178.8h.9M849.6 174.2h.9M842.0 178.8h.9M876.8 167.8h.9M839.7 186.0h.9M856.4 170.1h.9M843.5 192.1h.9M867.6 167.1h.9M853.7 172.4h.9M856.9 189.2h.9M841.6 193.0h.9M840.4 180.0h.9M839.3 181.2h.9M833.3 189.2h.9M840.6 181.3h.9M859.7 169.5h.9M835.2 190.1h.9M872.7 169.8h.9M873.5 170.7h.9M835.2 192.5h.9M840.5 191.8h.9M865.3 169.1h.9M842.4 178.0h.9M842.5 194.3h.9M856.3 190.4h.9M874.6 175.5h.9M837.5 188.4h.9M839.9 190.9h.9M842.1 191.9h.9M878.1 173.1h.9M849.7 174.7h.9M842.4 180.4h.9M835.8 193.2h.9M871.1 179.5h.9M870.1 179.8h.9M837.2 179.4h.9M868.6 169.5h.9M857.7 172.0h.9M836.2 184.6h.9M837.6 186.1h.9M839.0 190.1h.9M837.7 179.5h.9M850.5 189.4h.9M856.8 170.7h.9M836.6 194.9h.9M850.0 189.8h.9M838.1 187.5h.9M855.8 172.1h.9M845.0 177.9h.9M834.1 193.0h.9M844.4 191.5h.9M849.4 174.8h.9M833.6 191.3h.9M872.5 169.5h.9M868.3 169.5h.9M877.0 177.4h.9M843.0 179.8h.9M864.5 168.6h.9M849.1 176.7h.9M871.5 180.5h.9M875.8 172.7h.9M844.7 176.9h.9M843.1 178.8h.9M842.6 194.7h.9M830.1 190.7h.9M873.2 173.8h.9M837.7 188.2h.9M874.3 172.1h.9M869.4 180.2h.9M850.3 174.4h.9M851.4 189.1h.9M846.7 191.0h.9M845.1 177.7h.9M869.7 166.4h.9M870.3 178.9h.9M844.0 192.1h.9M875.3 175.5h.9M839.7 185.9h.9M849.7 176.4h.9M876.4 177.6h.9M845.9 192.2h.9M854.5 172.7h.9M836.6 192.3h.9M853.1 171.1h.9M873.4 176.6h.9M839.5 185.2h.9M844.7 193.7h.9M840.1 180.7h.9M878.4 173.5h.9M871.1 169.1h.9M827.9 187.5h.9M854.0 172.6h.9M856.1 189.1h.9M839.1 184.5h.9M861.8 168.5h.9M848.5 191.6h.9M856.9 171.6h.9M833.8 190.7h.9M872.8 180.8h.9M839.2 180.0h.9M848.6 191.0h.9M865.2 169.4h.9M874.2 176.3h.9M872.3 177.2h.9M833.7 191.4h.9M868.1 169.0h.9M856.2 189.4h.9M838.7 193.1h.9M872.0 166.6h.9M846.6 189.2h.9M837.0 182.2h.9M843.6 193.2h.9M838.9 187.9h.9M866.5 183.8h.9M852.0 174.5h.9M875.1 176.1h.9M837.8 188.2h.9M866.5 185.6h.9M838.8 181.6h.9M851.0 189.1h.9M873.1 176.6h.9M834.8 186.9h.9M877.5 172.4h.9M867.1 168.7h.9M852.7 174.5h.9M876.6 173.3h.9M841.4 179.2h.9M859.3 171.0h.9M837.0 187.9h.9M837.2 179.5h.9M867.4 168.7h.9M847.7 177.5h.9M870.1 167.9h.9M838.8 189.8h.9M874.1 170.3h.9M863.2 184.5h.9M866.0 168.0h.9M874.1 171.6h.9M839.9 187.6h.9M854.4 172.4h.9M865.4 169.4h.9M836.2 191.5h.9M874.1 174.6h.9M863.5 169.7h.9M864.5 169.6h.9M842.3 191.4h.9M845.0 190.8h.9M858.5 187.8h.9M844.3 193.8h.9M838.4 194.6h.9M859.6 169.7h.9M837.0 191.1h.9M839.3 184.6h.9M875.3 167.1h.9M844.9 193.2h.9M879.8 173.0h.9M834.6 194.8h.9M853.7 171.9h.9M835.9 192.4h.9M833.3 188.8h.9M828.9 188.3h.9M838.5 192.0h.9M839.4 183.2h.9M850.1 175.6h.9M878.4 170.4h.9M874.8 176.1h.9M855.6 191.4h.9M872.5 178.3h.9M871.5 180.7h.9M864.9 185.1h.9M845.6 191.2h.9M836.6 182.8h.9M841.2 180.0h.9M874.5 177.4h.9M857.4 171.7h.9M847.3 190.3h.9M837.7 194.1h.9M875.7 175.2h.9M863.6 184.0h.9M837.3 186.1h.9M849.9 189.2h.9M851.0 174.0h.9M835.2 189.7h.9M865.1 184.5h.9M844.4 193.1h.9M833.0 192.8h.9M847.0 189.4h.9M833.9 195.0h.9M831.7 190.7h.9M859.2 169.3h.9M836.4 189.4h.9M837.3 179.4h.9M849.1 176.4h.9M841.3 192.5h.9M840.6 192.3h.9M850.1 191.8h.9M848.3 189.9h.9M873.4 166.6h.9M839.7 190.0h.9M829.3 191.7h.9M863.0 169.3h.9M868.3 167.8h.9M872.1 180.5h.9M870.9 181.1h.9M868.6 167.9h.9M857.3 171.8h.9M869.0 181.7h.9M875.5 177.9h.9M836.6 190.6h.9M872.5 168.1h.9M857.2 170.5h.9M874.3 176.6h.9M872.0 169.7h.9M836.2 191.4h.9M834.8 193.7h.9M851.4 191.0h.9M851.7 191.0h.9M841.8 192.6h.9M840.5 183.6h.9M840.9 182.3h.9M851.5 191.9h.9M851.5 190.4h.9M839.9 184.2h.9M874.6 170.2h.9M879.4 171.9h.9M850.9 173.4h.9M844.2 192.1h.9M834.8 184.7h.9M874.3 168.1h.9M835.7 193.2h.9M879.1 171.8h.9M879.1 169.9h.9M840.6 182.4h.9M840.9 181.5h.9M867.2 169.8h.9M854.1 172.7h.9M877.8 176.8h.9M864.8 169.2h.9M836.2 188.6h.9M837.7 190.3h.9M860.2 169.5h.9M848.9 174.4h.9M845.5 190.8h.9M878.7 165.2h.9M874.6 169.1h.9M836.6 190.1h.9M838.1 189.5h.9M845.5 178.0h.9M876.2 174.9h.9M878.2 175.2h.9M867.8 170.0h.9M871.5 168.7h.9M875.1 178.8h.9M872.5 177.7h.9M838.0 194.0h.9M849.1 189.2h.9M827.4 191.5h.9M868.3 169.2h.9M851.7 174.8h.9M870.1 178.5h.9M859.8 170.2h.9M862.6 167.6h.9M866.1 169.4h.9M858.9 187.6h.9M855.2 189.7h.9M879.0 173.0h.9M852.4 172.9h.9M877.2 170.6h.9M838.1 187.7h.9M832.2 190.7h.9M876.6 171.5h.9M877.3 174.1h.9M868.0 183.0h.9M857.0 190.3h.9M839.6 184.6h.9M875.0 172.0h.9M842.2 194.9h.9M849.2 190.7h.9M838.4 191.2h.9M870.2 180.0h.9M830.8 190.9h.9M831.7 194.3h.9M866.2 167.1h.9M876.0 178.4h.9M879.5 171.8h.9M873.3 170.4h.9M869.3 166.8h.9M856.9 189.6h.9M835.0 190.1h.9M864.9 184.1h.9M844.3 190.2h.9M866.1 185.3h.9M873.9 169.9h.9M850.1 173.8h.9M869.9 179.1h.9M865.5 167.6h.9M875.8 173.8h.9M844.2 176.9h.9M848.8 190.5h.9M847.5 177.3h.9M847.2 192.5h.9M876.8 169.8h.9M860.2 167.1h.9M830.3 194.8h.9M843.9 192.3h.9M855.2 191.2h.9M870.3 169.2h.9M834.2 192.0h.9M876.5 176.4h.9M847.8 177.0h.9M829.5 194.1h.9M871.2 180.2h.9M874.0 178.1h.9M856.6 189.8h.9M838.2 184.3h.9M869.3 182.0h.9M833.2 194.4h.9M867.2 168.0h.9M847.4 190.9h.9M848.0 190.5h.9M878.6 170.4h.9M838.2 187.0h.9M850.8 174.7h.9M872.1 169.3h.9M833.0 190.5h.9M847.7 177.1h.9M838.1 186.0h.9M837.7 192.4h.9M841.3 194.7h.9M836.0 186.2h.9M873.4 170.8h.9M842.9 191.1h.9M875.3 172.0h.9M876.8 175.2h.9M874.6 169.7h.9M853.9 171.0h.9M864.7 184.9h.9M856.4 188.5h.9M859.8 169.0h.9M853.7 171.4h.9M856.7 171.1h.9M865.5 169.4h.9M876.4 171.6h.9M851.5 174.7h.9M860.8 170.1h.9M847.1 177.6h.9M837.7 191.6h.9M855.1 191.6h.9M868.8 182.7h.9M871.2 179.3h.9M875.2 174.3h.9M867.1 167.6h.9M874.7 172.1h.9M826.6 192.5h.9M837.8 189.0h.9M876.0 167.5h.9M877.9 175.4h.9M876.5 176.2h.9M837.4 188.4h.9M853.6 172.2h.9M857.9 187.2h.9M862.6 169.8h.9M866.9 168.8h.9M870.2 181.2h.9M839.4 184.9h.9M848.6 190.4h.9M850.0 190.1h.9M844.3 191.9h.9M876.3 176.1h.9M852.8 189.1h.9M826.8 193.9h.9M840.9 180.0h.9M877.9 172.6h.9M849.5 189.8h.9M873.6 168.0h.9M844.8 177.8h.9M878.2 168.7h.9M866.7 169.3h.9M847.2 190.6h.9M844.0 193.2h.9M839.9 190.5h.9M873.6 173.4h.9M853.5 190.8h.9M876.2 171.3h.9M859.1 169.7h.9M876.7 170.4h.9M873.0 180.7h.9M878.2 171.1h.9M860.2 170.9h.9M838.0 181.5h.9M870.8 178.1h.9M823.4 194.2h.9M834.7 188.1h.9M879.0 170.3h.9M851.4 189.9h.9M866.1 183.1h.9M836.1 190.6h.9M878.4 175.7h.9M844.6 178.5h.9M848.1 189.7h.9M842.4 179.6h.9M878.4 174.1h.9M856.2 171.8h.9M846.1 190.1h.9M871.0 179.6h.9M837.4 191.5h.9M836.0 183.5h.9M875.1 175.0h.9M844.2 192.8h.9M837.7 184.9h.9M846.2 192.4h.9M839.4 193.4h.9M848.0 176.0h.9M850.0 189.3h.9M840.9 192.3h.9M874.5 174.6h.9M866.5 166.4h.9M869.9 168.6h.9M874.5 167.1h.9M857.5 187.5h.9M853.0 190.4h.9M846.5 189.1h.9M839.6 181.6h.9M850.0 190.2h.9M841.9 192.4h.9M839.1 194.0h.9M854.3 172.6h.9M872.7 177.1h.9M876.2 170.3h.9M837.5 184.9h.9M841.3 194.0h.9M840.2 192.9h.9M866.1 183.5h.9M839.9 180.8h.9M841.6 191.8h.9M839.6 188.3h.9M870.3 168.8h.9M852.2 191.5h.9M876.1 178.3h.9M866.0 168.4h.9M879.4 169.0h.9M852.1 190.5h.9M855.1 189.6h.9M837.9 185.4h.9M837.8 188.5h.9M867.0 182.3h.9M859.0 170.2h.9M839.3 188.3h.9M834.6 189.5h.9M870.9 168.1h.9M863.4 184.0h.9M843.1 193.0h.9M848.1 190.2h.9M878.4 168.7h.9M853.5 172.1h.9M867.0 185.8h.9M854.2 190.1h.9M841.4 180.5h.9M847.5 190.9h.9M833.6 192.6h.9M866.6 184.4h.9M869.9 181.4h.9M870.4 178.3h.9M844.6 176.9h.9M855.7 172.4h.9M832.7 186.0h.9M865.2 185.9h.9M876.5 171.2h.9M828.2 195.4h.9M867.1 169.2h.9M858.2 188.6h.9M839.2 193.0h.9M854.1 170.5h.9M846.5 191.3h.9M861.9 169.0h.9M822.2 184.9h.9M869.9 166.2h.9M830.0 185.9h.9M876.8 175.5h.9M878.3 175.9h.9M838.0 194.1h.9M822.7 190.9h.9M835.0 185.4h.9M870.3 179.6h.9M858.8 168.7h.9M825.1 190.8h.9M873.5 178.8h.9M869.0 181.9h.9M856.6 171.7h.9M835.3 186.0h.9M859.8 170.0h.9M871.0 167.8h.9M834.9 183.3h.9M839.0 179.9h.9M853.5 190.3h.9M828.7 185.6h.9M879.0 168.3h.9M857.4 169.2h.9M840.0 187.4h.9M874.2 175.5h.9M871.0 181.1h.9M876.3 168.3h.9M861.9 167.2h.9M844.4 178.3h.9M868.7 167.0h.9M874.3 171.3h.9M838.6 183.9h.9M862.0 168.4h.9M866.7 183.2h.9M870.0 167.5h.9M836.7 186.6h.9M875.4 175.8h.9M839.3 192.2h.9M857.2 187.9h.9M808.1 190.5h.9M860.3 187.6h.9M875.8 170.4h.9M847.8 175.7h.9M849.4 175.2h.9M862.8 167.5h.9M877.1 173.0h.9M833.8 194.5h.9M836.6 186.5h.9M872.3 169.9h.9M832.5 186.5h.9M861.3 167.6h.9M841.5 191.6h.9M845.5 191.3h.9M847.0 192.1h.9M878.4 164.7h.9M841.0 181.0h.9M836.2 188.9h.9M837.3 191.6h.9M840.8 192.2h.9M855.1 172.2h.9M837.2 185.7h.9M871.0 180.3h.9M836.3 187.4h.9M874.8 168.4h.9M835.9 195.0h.9M849.7 174.7h.9M874.8 177.3h.9M875.0 176.9h.9M839.8 192.3h.9M825.3 194.1h.9M869.8 181.3h.9M838.8 189.0h.9M836.7 194.3h.9M877.5 170.4h.9M860.9 167.6h.9M877.5 175.9h.9M844.1 178.3h.9M877.8 171.5h.9M854.1 170.4h.9M834.1 192.2h.9M834.2 184.9h.9M835.0 182.7h.9M839.1 179.3h.9M840.4 181.9h.9M854.6 191.4h.9M836.0 188.2h.9M839.5 187.6h.9M876.5 176.5h.9M861.0 168.0h.9M859.0 188.6h.9M877.4 177.5h.9M868.6 166.5h.9M862.8 168.7h.9M826.4 186.6h.9M838.2 193.1h.9M879.6 172.8h.9M875.3 172.2h.9M839.6 186.7h.9M836.4 194.1h.9M831.4 188.7h.9M843.8 191.7h.9M878.5 171.2h.9M839.0 182.7h.9M837.2 191.6h.9M859.4 170.1h.9M868.2 169.5h.9M852.8 171.2h.9M854.6 170.6h.9M832.6 188.6h.9M875.7 167.4h.9M869.8 181.5h.9M872.2 180.6h.9M875.5 175.2h.9M844.0 193.6h.9M874.8 178.0h.9M849.2 176.2h.9M840.0 193.6h.9M833.3 187.6h.9M843.9 178.7h.9M873.3 178.1h.9M836.0 191.8h.9M835.1 186.4h.9M833.2 194.8h.9M846.5 177.9h.9M855.1 190.4h.9M838.1 190.4h.9M845.8 177.0h.9M838.2 195.7h.9M839.3 193.0h.9M832.4 191.2h.9M873.9 178.3h.9M838.2 193.9h.9M831.3 187.1h.9M839.4 190.2h.9M869.5 169.0h.9M837.6 190.9h.9M823.9 194.4h.9M864.9 169.3h.9M822.9 193.2h.9M854.9 172.0h.9M856.2 170.8h.9M840.9 194.0h.9M846.3 189.6h.9M829.0 191.0h.9M841.7 193.1h.9M874.8 168.6h.9M849.2 173.5h.9M876.1 167.1h.9M879.6 170.3h.9M841.5 193.5h.9M857.2 170.2h.9M873.5 167.0h.9M872.5 166.5h.9M879.4 165.0h.9M827.5 186.0h.9M824.9 188.4h.9M830.5 184.9h.9M874.8 177.1h.9M876.5 167.2h.9M879.8 170.5h.9M838.6 182.7h.9M866.5 184.8h.9M850.5 173.3h.9M841.0 178.4h.9M851.1 172.0h.9M871.3 169.7h.9M823.1 191.7h.9M862.2 168.5h.9M853.2 191.7h.9M870.5 179.6h.9M870.0 166.0h.9M843.6 194.6h.9M860.8 168.5h.9M874.6 173.1h.9M879.9 164.9h.9M849.8 191.3h.9M858.2 169.1h.9M836.4 181.4h.9M837.5 182.1h.9M830.8 185.8h.9M826.7 188.3h.9M837.5 185.6h.9M837.3 191.5h.9M842.7 177.2h.9M879.1 165.4h.9M874.2 169.6h.9M871.9 169.5h.9M876.9 174.9h.9M866.0 185.9h.9M837.5 179.6h.9M835.7 186.8h.9M842.8 179.9h.9M839.5 188.0h.9M825.2 193.7h.9M875.7 175.4h.9M874.4 166.3h.9M861.9 168.1h.9M842.1 180.3h.9M820.8 187.7h.9M878.2 170.8h.9M866.1 166.4h.9M851.5 173.6h.9M868.3 165.0h.9M879.3 173.3h.9M837.4 180.7h.9M869.4 179.3h.9M862.9 167.1h.9M878.4 172.8h.9M862.7 154.8h.9M875.4 168.8h.9M838.4 180.8h.9M878.4 169.7h.9M865.8 185.3h.9M867.9 183.7h.9M828.2 185.0h.9M878.8 164.7h.9M864.6 169.7h.9M872.9 167.5h.9M879.0 165.9h.9M860.2 170.3h.9M875.7 170.3h.9M874.0 166.9h.9M876.3 170.1h.9M851.3 171.4h.9M877.5 174.0h.9M874.5 168.2h.9M873.4 166.1h.9M871.4 168.9h.9M868.3 168.1h.9M829.8 188.2h.9M859.0 169.9h.9M858.3 169.4h.9M853.4 170.2h.9M869.1 179.5h.9M872.0 166.2h.9M868.1 166.3h.9M877.4 174.5h.9M842.3 178.4h.9M874.0 168.0h.9M852.0 170.3h.9M860.5 169.7h.9M869.0 168.9h.9M861.4 154.8h.9M851.9 172.3h.9M864.8 169.6h.9M878.0 165.1h.9M862.0 154.7h.9M840.0 182.5h.9M871.2 166.1h.9M855.0 190.1h.9M871.0 168.3h.9M867.3 166.0h.9M872.8 167.8h.9M848.2 175.4h.9M847.8 176.0h.9M861.3 154.4h.9M833.2 185.1h.9M876.6 169.2h.9M867.2 168.7h.9M862.8 154.6h.9M870.6 166.2h.9M831.2 186.5h.9M852.2 174.4h.9M873.9 168.6h.9M875.5 175.8h.9M850.2 172.4h.9M868.3 166.4h.9M845.0 176.0h.9M859.7 170.2h.9M867.8 166.9h.9M863.8 170.0h.9M877.0 168.8h.9M879.2 168.5h.9M878.5 164.1h.9M862.3 154.1h.9M878.3 170.5h.9M875.6 167.0h.9M860.8 170.2h.9M854.0 171.7h.9M852.5 174.4h.9M850.9 174.2h.9M878.7 175.9h.9M876.3 174.7h.9M839.9 181.3h.9M861.2 154.5h.9M867.3 169.8h.9M879.7 173.2h.9M867.1 165.2h.9M866.1 167.8h.9M878.7 165.8h.9M876.3 176.0h.9M879.5 169.0h.9M869.0 167.2h.9M873.8 170.4h.9M867.9 165.0h.9M868.6 166.8h.9M820.2 131.9h.9M867.2 165.5h.9M876.9 176.3h.9" stroke="#1f3fe6" stroke-width="1.15" stroke-opacity="1" fill="none"/>
<path d="M798.2 198.0h.9M801.9 189.2h.9M808.1 172.0h.9M817.3 124.1h.9M801.7 187.8h.9M804.3 180.0h.9M798.3 194.1h.9M807.2 159.1h.9M817.4 127.5h.9M801.4 184.4h.9M808.6 157.5h.9M809.4 159.0h.9M805.7 182.0h.9M812.9 148.3h.9M805.9 179.9h.9M808.3 157.0h.9M805.4 171.8h.9M807.7 169.8h.9M808.4 170.8h.9M809.0 159.9h.9M799.2 190.5h.9M805.0 170.2h.9M803.5 186.1h.9M814.7 147.0h.9M805.2 189.6h.9M813.7 148.8h.9M803.6 175.4h.9M810.5 177.5h.9M808.5 178.9h.9M809.6 158.9h.9M807.1 167.1h.9M801.7 183.7h.9M809.9 166.7h.9M806.6 169.0h.9M801.5 184.8h.9M803.9 176.5h.9M804.0 172.5h.9M802.4 182.4h.9M812.6 147.1h.9M797.1 194.2h.9M808.4 162.6h.9M803.9 194.3h.9M811.5 144.8h.9M797.6 195.3h.9M806.9 174.6h.9M808.0 182.5h.9M810.9 168.4h.9M802.3 184.7h.9M801.0 189.0h.9M804.2 179.6h.9M808.0 164.3h.9M810.7 172.4h.9M810.4 167.3h.9M807.5 170.1h.9M813.0 146.5h.9M817.0 127.6h.9M804.5 180.2h.9M814.3 145.2h.9M801.4 197.6h.9M805.3 171.1h.9M810.4 162.7h.9M803.0 176.1h.9M804.8 173.9h.9M806.2 175.9h.9M797.1 194.3h.9M798.5 197.6h.9M804.7 175.0h.9M799.6 191.0h.9M807.8 169.0h.9M807.4 177.4h.9M800.9 189.1h.9M808.9 161.7h.9M810.2 177.9h.9M813.6 145.3h.9M810.2 175.1h.9M816.4 121.8h.9M799.8 188.6h.9M810.7 158.3h.9M801.9 183.2h.9M801.7 188.3h.9M810.9 159.3h.9M809.0 181.2h.9M807.9 167.9h.9M812.2 167.5h.9M807.8 172.0h.9M812.6 167.3h.9M803.8 181.3h.9M804.6 175.9h.9M804.9 174.0h.9M808.9 160.5h.9M809.5 158.1h.9M807.8 164.4h.9M804.5 172.9h.9M801.8 186.5h.9M805.5 178.1h.9M804.7 193.3h.9M804.2 179.2h.9M810.0 160.8h.9M811.8 168.5h.9M807.8 178.3h.9M805.9 181.2h.9M810.8 158.3h.9M809.9 162.0h.9M800.6 183.1h.9M812.2 145.6h.9M811.5 146.6h.9M802.2 181.8h.9M810.9 159.6h.9M803.5 182.0h.9M804.3 176.8h.9M808.4 169.8h.9M808.9 185.8h.9M800.7 187.1h.9M813.1 148.9h.9M810.4 160.2h.9M797.7 196.1h.9M803.6 183.9h.9M803.9 180.8h.9M801.6 182.4h.9M808.7 169.6h.9M803.7 183.2h.9M807.3 181.0h.9M797.5 197.0h.9M803.3 187.0h.9M808.6 160.0h.9M799.0 192.7h.9M807.4 172.1h.9M801.2 188.1h.9M810.4 163.0h.9M798.9 194.1h.9M806.0 174.9h.9M800.5 191.0h.9M800.3 190.8h.9M811.6 145.1h.9M801.8 188.2h.9M801.8 185.2h.9M805.6 172.1h.9M803.7 177.3h.9M809.4 174.4h.9M797.3 198.8h.9M804.6 179.9h.9M808.7 176.1h.9M802.2 182.9h.9M803.7 173.8h.9M801.6 185.0h.9M807.4 176.6h.9M804.1 179.7h.9M807.7 167.2h.9M799.5 198.4h.9M802.5 182.9h.9M805.2 174.7h.9M817.8 126.5h.9M813.2 147.7h.9M806.4 176.8h.9M800.0 184.3h.9M805.3 177.1h.9M801.3 197.0h.9M810.3 175.1h.9M809.9 167.3h.9M811.6 146.1h.9M805.3 172.0h.9M800.2 187.6h.9M804.7 177.3h.9M804.6 177.7h.9M818.0 125.8h.9M799.2 190.1h.9M799.2 184.6h.9M808.6 170.8h.9M804.4 182.7h.9M810.5 161.6h.9M802.8 182.1h.9M810.2 158.6h.9M804.9 181.7h.9M802.9 181.2h.9M805.0 191.4h.9M808.7 169.3h.9M806.8 188.3h.9M809.4 175.6h.9M808.2 169.8h.9M804.3 176.4h.9M808.0 163.7h.9M807.0 179.8h.9M810.5 168.5h.9M797.8 196.6h.9M800.4 185.6h.9M805.1 171.7h.9M797.1 196.3h.9M801.0 188.3h.9M805.9 173.3h.9M812.9 148.8h.9M817.6 125.2h.9M811.7 167.2h.9M804.4 180.2h.9M808.8 173.2h.9M801.0 198.5h.9M798.6 197.2h.9M803.9 179.7h.9M806.6 173.2h.9M807.9 158.9h.9M801.3 197.2h.9M804.5 181.3h.9M798.0 197.1h.9M810.9 160.6h.9M799.0 192.4h.9M811.0 167.1h.9M806.0 190.2h.9M812.4 147.7h.9M797.2 197.6h.9M803.9 182.9h.9M807.3 168.8h.9M804.9 172.5h.9M818.1 124.3h.9M804.5 179.0h.9M813.2 145.0h.9M807.9 174.1h.9M808.3 165.5h.9M801.4 184.3h.9M808.3 168.6h.9M803.9 175.9h.9M810.1 177.7h.9M804.5 178.2h.9M808.0 184.4h.9M805.0 190.7h.9M805.8 170.3h.9M804.8 182.9h.9M801.2 189.6h.9M805.0 181.8h.9M804.9 175.8h.9M810.0 167.2h.9M807.6 164.0h.9M817.7 125.4h.9M807.6 169.0h.9M809.1 157.2h.9M801.2 188.7h.9M808.1 184.3h.9M805.6 182.8h.9M813.6 146.4h.9M806.3 175.2h.9M800.0 186.1h.9M799.4 183.5h.9M807.5 163.9h.9M813.1 145.9h.9M809.9 161.0h.9M802.3 196.2h.9M804.1 173.6h.9M809.4 167.6h.9M808.3 165.1h.9M810.0 172.8h.9M818.0 124.0h.9M799.3 198.2h.9M809.5 157.3h.9M797.5 196.7h.9M805.7 192.9h.9M804.6 181.2h.9M804.3 171.8h.9M805.0 172.5h.9M804.2 176.5h.9M803.1 184.0h.9M801.5 183.2h.9M808.5 173.9h.9M803.3 174.3h.9M810.6 168.9h.9M805.2 176.6h.9M804.5 176.9h.9M804.4 174.7h.9M810.1 176.9h.9M803.8 185.7h.9M800.9 184.6h.9M806.7 177.5h.9M805.9 170.1h.9M798.6 192.2h.9M807.2 184.5h.9M801.1 187.5h.9M810.8 159.2h.9M810.1 177.1h.9M802.4 186.4h.9M799.0 198.2h.9M807.1 178.6h.9M811.9 166.7h.9M809.3 178.1h.9M798.9 193.1h.9M804.2 183.8h.9M807.0 173.6h.9M817.6 124.8h.9M811.2 146.9h.9M804.5 177.1h.9M809.6 161.8h.9M806.7 175.6h.9M801.0 198.1h.9M807.2 163.7h.9M812.6 168.6h.9M801.7 188.8h.9M810.8 161.8h.9M804.8 173.0h.9M813.2 147.5h.9M802.2 185.7h.9M804.6 175.1h.9M805.1 178.4h.9M804.9 174.2h.9M804.2 178.0h.9M801.3 186.8h.9M803.3 194.7h.9M799.8 198.0h.9M797.1 198.4h.9M802.2 197.9h.9M806.4 177.1h.9M810.9 175.4h.9M799.0 184.9h.9M809.1 168.1h.9M808.7 181.7h.9M804.5 194.2h.9M806.4 188.4h.9M804.8 173.0h.9M801.5 187.0h.9M803.3 175.2h.9M807.4 183.1h.9M811.3 145.1h.9M811.5 146.3h.9M803.8 177.5h.9M816.1 121.8h.9M802.5 185.6h.9M807.1 176.3h.9M803.3 183.1h.9M801.3 190.0h.9M803.5 182.3h.9M797.2 198.0h.9M805.2 190.8h.9M808.2 164.3h.9M808.4 175.8h.9M797.9 198.3h.9M803.8 172.6h.9M807.0 172.2h.9M808.5 162.9h.9M801.9 186.1h.9M817.3 127.2h.9M805.4 180.6h.9M797.6 197.9h.9M801.8 198.2h.9M817.3 125.2h.9M802.4 181.5h.9M806.5 176.1h.9M813.0 145.4h.9M799.7 191.8h.9M811.5 147.5h.9M806.1 179.8h.9M809.9 167.6h.9M807.2 185.6h.9M802.6 183.3h.9M803.6 186.6h.9M809.2 160.7h.9M805.5 176.2h.9M803.5 182.5h.9M798.8 197.6h.9M805.0 175.5h.9M807.7 175.3h.9M807.5 164.7h.9M808.3 184.6h.9M802.8 182.3h.9M817.6 121.2h.9M801.3 197.3h.9M804.5 181.2h.9M803.3 178.6h.9M818.0 124.3h.9M804.6 175.7h.9M808.4 171.2h.9M809.7 179.8h.9M810.3 167.5h.9M809.5 176.3h.9M807.6 170.1h.9M819.0 124.6h.9M808.1 166.6h.9M798.5 197.0h.9M807.0 171.3h.9M810.7 176.4h.9M803.8 185.8h.9M807.9 159.8h.9M812.3 146.9h.9M799.8 190.6h.9M805.3 176.3h.9M803.4 172.4h.9M806.3 181.0h.9M816.6 121.4h.9M805.4 191.2h.9M808.5 175.7h.9M814.9 146.4h.9M806.3 179.4h.9M802.3 182.3h.9M805.8 191.7h.9M800.4 185.7h.9M811.6 169.8h.9M813.4 147.6h.9M809.0 169.6h.9M810.8 162.9h.9M811.6 166.9h.9M809.9 158.8h.9M805.1 191.3h.9M812.1 147.2h.9M804.1 180.4h.9M809.6 177.1h.9M801.5 182.9h.9M804.3 194.0h.9M807.5 187.4h.9M801.2 181.5h.9M812.7 147.2h.9M807.0 158.7h.9M809.3 162.5h.9M810.0 173.1h.9M811.1 166.7h.9M809.2 158.7h.9M809.4 159.8h.9M809.3 156.1h.9M798.2 192.3h.9M798.6 190.1h.9M799.4 192.0h.9M809.5 160.3h.9M807.3 168.1h.9M809.5 160.4h.9M804.6 182.2h.9M799.4 198.1h.9M798.3 198.2h.9M800.2 187.1h.9M802.3 182.7h.9M808.8 178.8h.9M809.0 165.8h.9M798.3 194.7h.9M803.7 181.7h.9M803.3 184.0h.9M798.9 192.5h.9M810.3 166.2h.9M807.6 167.0h.9M809.9 176.1h.9M812.0 167.7h.9M801.1 185.4h.9M807.5 169.1h.9M798.2 193.9h.9M807.9 180.7h.9M800.3 198.7h.9M814.0 145.0h.9M808.8 170.6h.9M799.8 183.3h.9M803.0 182.1h.9M808.3 156.8h.9M808.3 176.7h.9M809.5 167.3h.9M814.9 146.9h.9M800.3 189.5h.9M802.9 181.1h.9M807.3 185.3h.9M808.9 156.1h.9M799.5 184.8h.9M803.3 176.9h.9M803.7 184.9h.9M808.3 161.3h.9M799.0 192.1h.9M803.4 179.7h.9M804.3 175.1h.9M805.1 172.3h.9M800.3 184.5h.9M807.5 180.1h.9M801.0 190.7h.9M804.4 182.6h.9M808.7 162.4h.9M798.5 191.9h.9M806.7 173.7h.9M807.2 174.4h.9M803.6 176.9h.9M807.3 174.2h.9M804.2 184.8h.9M797.0 195.2h.9M812.0 167.9h.9M807.2 164.9h.9M805.2 175.4h.9M802.2 187.4h.9M798.3 194.1h.9M807.4 172.5h.9M804.9 173.9h.9M805.1 180.2h.9M798.3 198.3h.9M798.4 191.1h.9M808.4 156.9h.9M810.0 160.5h.9M802.2 182.9h.9M805.3 191.1h.9M811.7 172.9h.9M806.3 172.9h.9M804.2 177.7h.9M804.4 176.6h.9M808.7 180.2h.9M797.6 196.1h.9M811.7 169.4h.9M801.9 197.2h.9M804.0 179.8h.9M802.8 181.3h.9M809.5 163.0h.9M803.5 195.7h.9M805.1 191.9h.9M805.2 191.0h.9M808.8 184.2h.9M809.2 163.8h.9M811.6 145.9h.9M810.9 174.6h.9M811.7 145.6h.9M803.2 177.5h.9M804.2 171.8h.9M805.8 182.0h.9M801.3 186.0h.9M812.3 147.2h.9M805.5 180.4h.9M812.6 148.7h.9M809.1 162.4h.9M808.4 166.2h.9M809.6 157.5h.9M805.5 179.6h.9M808.2 174.1h.9M799.8 192.3h.9M799.5 192.6h.9M802.0 185.7h.9M806.0 172.1h.9M807.1 171.4h.9M799.6 198.3h.9M807.4 172.3h.9M817.0 121.2h.9M807.7 186.8h.9M812.5 144.4h.9M808.0 180.4h.9M810.4 168.1h.9M804.9 171.1h.9M809.0 173.1h.9M806.9 176.9h.9M812.4 148.4h.9M817.1 127.1h.9M799.4 191.9h.9M812.4 167.9h.9M797.4 195.7h.9M809.7 177.6h.9M807.3 172.0h.9M802.6 182.2h.9M804.1 180.6h.9M808.4 159.0h.9M809.3 156.5h.9M810.9 161.1h.9M800.6 186.6h.9M803.9 195.1h.9M808.1 167.0h.9M806.1 175.6h.9M803.1 184.0h.9M808.2 156.5h.9M802.6 196.1h.9M814.2 147.3h.9M798.5 198.0h.9M807.9 168.7h.9M812.5 148.1h.9M799.3 184.1h.9M808.2 159.0h.9M813.3 146.5h.9M804.6 171.2h.9M808.7 158.5h.9M800.4 198.3h.9M805.8 173.9h.9M805.3 173.6h.9M808.7 177.1h.9M799.8 183.7h.9M814.0 147.8h.9M809.1 163.3h.9M809.8 161.8h.9M805.2 171.3h.9M808.2 166.4h.9M806.2 187.6h.9M817.3 128.0h.9M811.6 146.2h.9M807.2 168.2h.9M800.8 191.6h.9M802.4 183.4h.9M807.2 180.6h.9M814.3 145.7h.9M809.6 168.1h.9M801.0 183.3h.9M797.4 195.6h.9M808.2 176.5h.9M809.3 157.0h.9M803.8 187.0h.9M801.0 182.1h.9M809.8 173.4h.9M809.6 174.9h.9M814.4 146.5h.9M802.9 185.3h.9M808.9 175.0h.9M800.7 198.7h.9M808.4 178.9h.9M810.0 160.3h.9M803.7 180.6h.9M813.2 147.5h.9M809.1 180.9h.9M808.4 162.4h.9M811.2 170.0h.9M801.0 184.0h.9M803.9 182.8h.9M803.4 180.1h.9M817.7 127.9h.9M810.9 172.8h.9M809.6 160.1h.9M812.3 145.1h.9M811.5 167.5h.9M803.6 196.4h.9M808.6 172.9h.9M806.0 190.0h.9M803.1 173.1h.9M802.9 182.5h.9M809.9 156.7h.9M817.8 124.2h.9M808.7 172.0h.9M811.5 144.1h.9M811.1 168.9h.9M809.1 160.9h.9M810.6 172.0h.9M804.7 183.3h.9M801.3 188.5h.9M805.3 177.0h.9M818.0 127.6h.9M804.5 177.2h.9M813.0 167.4h.9M810.4 177.8h.9M811.3 167.5h.9M807.0 164.3h.9M807.7 180.3h.9M804.2 176.8h.9M809.4 166.6h.9M807.7 163.3h.9M804.3 181.7h.9M801.3 186.6h.9M803.3 184.0h.9M810.0 174.6h.9M806.0 170.2h.9M807.0 185.7h.9M803.7 182.9h.9M809.6 158.4h.9M803.5 176.0h.9M797.2 194.9h.9M817.3 126.1h.9M798.7 192.4h.9M807.8 158.8h.9M800.8 198.6h.9M799.9 190.7h.9M811.0 167.0h.9M803.3 184.1h.9M807.1 178.0h.9M805.3 172.4h.9M808.5 179.6h.9M802.7 182.9h.9M805.3 178.0h.9M799.9 183.0h.9M808.0 161.6h.9M803.3 196.6h.9M804.2 182.1h.9M804.3 183.7h.9M811.9 146.8h.9M799.9 189.3h.9M801.2 188.9h.9M799.7 188.4h.9M807.2 178.0h.9M808.0 187.2h.9M802.6 197.9h.9M808.8 163.9h.9M804.9 171.1h.9M798.7 198.8h.9M800.0 183.4h.9M806.5 170.2h.9M803.0 184.5h.9M804.9 174.4h.9M803.2 179.2h.9M811.1 144.9h.9M807.2 179.3h.9M817.1 127.9h.9M807.9 173.0h.9M809.2 163.1h.9M800.7 198.6h.9M809.0 158.5h.9M809.9 167.9h.9M800.9 182.4h.9M809.2 167.2h.9M809.5 175.7h.9M807.4 174.9h.9M807.3 172.4h.9M817.1 124.3h.9M799.7 192.2h.9M812.3 147.7h.9M803.6 194.0h.9M807.6 168.2h.9M804.7 179.1h.9M801.1 188.9h.9M808.4 157.3h.9M809.0 165.6h.9M798.7 197.2h.9M808.2 184.0h.9M801.6 186.8h.9M801.5 197.6h.9M805.3 179.0h.9M817.1 124.8h.9M809.8 163.3h.9M803.9 184.4h.9M811.5 147.6h.9M811.7 146.8h.9M809.1 156.3h.9M802.4 184.0h.9M813.1 146.5h.9M809.3 160.3h.9M817.1 126.2h.9M807.3 158.8h.9M808.3 163.2h.9M797.1 197.2h.9M802.0 187.8h.9M804.0 180.8h.9M804.0 184.1h.9M806.6 170.0h.9M800.6 184.3h.9M810.0 162.4h.9M808.5 156.4h.9M812.5 146.8h.9M806.8 173.1h.9M807.8 182.8h.9M809.9 156.2h.9M802.1 183.3h.9M803.0 181.1h.9M798.7 191.7h.9M808.0 165.5h.9M811.2 172.5h.9M803.0 181.5h.9M808.4 170.3h.9M802.8 185.5h.9M807.7 176.3h.9M800.8 186.3h.9M804.1 183.4h.9M809.9 157.7h.9M813.5 147.3h.9M808.2 170.9h.9M797.2 196.4h.9M805.9 174.5h.9M801.8 184.0h.9M800.8 190.2h.9M808.7 167.5h.9M797.9 195.3h.9M805.7 172.6h.9M805.0 181.4h.9M803.9 173.7h.9M807.3 164.8h.9M804.6 172.9h.9M811.5 144.5h.9M810.8 169.3h.9M804.3 179.8h.9M808.1 163.1h.9M805.1 177.4h.9M804.1 172.4h.9M804.0 181.1h.9M807.3 159.4h.9M808.0 186.8h.9M803.0 182.3h.9M807.3 159.6h.9M800.1 183.4h.9M801.7 186.9h.9M806.7 177.3h.9M812.7 145.2h.9M801.2 189.4h.9M808.3 159.9h.9M798.2 193.8h.9M806.3 179.6h.9M808.9 174.3h.9M811.2 170.9h.9M817.1 121.8h.9M805.3 191.8h.9M809.6 159.8h.9M803.6 185.7h.9M803.1 183.6h.9M811.7 172.5h.9M801.2 186.8h.9M811.6 144.1h.9M807.4 186.3h.9M800.8 185.2h.9M801.5 185.0h.9M805.1 191.4h.9M809.0 182.1h.9M800.1 186.3h.9M809.4 156.1h.9M802.7 181.0h.9M804.2 184.0h.9M808.5 168.2h.9M805.4 172.6h.9M797.9 196.9h.9M813.4 146.1h.9M800.6 189.5h.9M808.7 159.2h.9M806.8 188.5h.9M807.3 186.9h.9M805.4 174.9h.9M802.8 187.0h.9M805.1 192.7h.9M802.1 185.7h.9M805.1 182.8h.9M809.4 178.8h.9M798.2 193.8h.9M804.5 194.2h.9M805.0 177.9h.9M799.3 189.0h.9M804.7 175.5h.9M803.6 194.6h.9M817.2 127.1h.9M809.4 167.6h.9M806.2 177.5h.9M799.8 191.1h.9M804.3 173.3h.9M804.4 173.0h.9M798.0 196.9h.9M798.8 190.3h.9M798.3 190.9h.9M798.7 192.4h.9M805.0 171.9h.9M803.5 185.5h.9M809.5 158.8h.9M809.8 177.4h.9M811.7 173.7h.9M809.7 176.8h.9M808.9 161.5h.9M802.7 186.7h.9M802.9 186.8h.9M804.6 181.4h.9M818.5 124.2h.9M799.8 192.1h.9M799.7 190.6h.9M803.8 173.3h.9M803.5 173.7h.9M804.5 192.9h.9M801.4 187.2h.9M817.4 121.4h.9M816.5 121.8h.9M816.9 121.8h.9M816.8 121.7h.9M817.4 121.1h.9M807.9 182.6h.9M810.4 169.9h.9M809.6 168.8h.9M808.7 170.1h.9M807.8 181.0h.9M809.9 177.3h.9M807.2 181.5h.9M808.2 181.3h.9M809.0 179.6h.9M808.6 176.1h.9M808.4 178.8h.9M807.6 176.0h.9M807.6 178.2h.9M808.4 176.8h.9M807.8 175.8h.9M811.9 168.1h.9M811.3 172.8h.9M809.9 173.9h.9M810.1 169.8h.9M808.9 171.5h.9M809.0 174.4h.9M810.5 175.5h.9M806.6 180.6h.9M807.9 179.1h.9M806.7 191.2h.9M805.2 189.9h.9M812.5 168.5h.9M809.0 173.2h.9M807.5 184.3h.9M808.8 170.5h.9M806.5 178.4h.9M809.6 179.8h.9M811.2 171.6h.9M808.6 172.2h.9M808.5 180.4h.9M808.1 175.5h.9M808.4 175.6h.9M805.1 189.6h.9M809.5 173.5h.9M807.1 179.9h.9M807.7 176.2h.9M806.2 188.9h.9M808.8 181.8h.9M809.0 180.5h.9M809.7 180.0h.9M809.2 177.5h.9M808.0 178.9h.9M807.9 178.8h.9M811.4 171.5h.9M808.9 177.0h.9M808.4 179.2h.9M808.7 174.7h.9M808.4 177.2h.9M808.5 184.6h.9M803.2 195.9h.9M807.4 170.2h.9M807.2 184.8h.9M810.9 172.2h.9M808.6 167.6h.9M808.1 176.2h.9M805.8 189.4h.9M809.1 177.8h.9M805.0 184.2h.9M807.9 175.7h.9M808.7 171.7h.9M807.1 184.9h.9M808.0 179.7h.9M809.1 178.3h.9M808.5 170.9h.9M808.4 184.8h.9M804.4 192.0h.9M809.1 176.5h.9M810.9 169.8h.9M810.5 173.4h.9M808.8 170.7h.9M807.9 178.7h.9M808.8 176.8h.9M805.7 178.5h.9M809.7 173.8h.9M810.9 172.9h.9M810.6 169.7h.9M807.6 181.3h.9M807.3 187.6h.9M808.7 185.0h.9M809.9 168.5h.9M805.8 180.0h.9M808.3 179.4h.9M809.8 174.0h.9M806.6 178.8h.9M807.3 178.0h.9M807.1 185.3h.9M807.1 182.0h.9M807.6 183.2h.9M808.2 181.5h.9M807.9 183.9h.9M807.0 180.0h.9M808.6 171.9h.9M804.7 183.6h.9M807.1 181.5h.9M807.2 185.4h.9M804.9 181.4h.9M811.7 168.8h.9M808.5 176.4h.9M807.8 180.9h.9M808.7 173.1h.9M807.9 178.1h.9M809.6 177.0h.9M807.3 181.1h.9M807.4 178.1h.9M811.2 170.8h.9M802.7 188.0h.9M807.6 182.2h.9M809.7 173.5h.9M810.9 167.8h.9M811.1 168.7h.9M807.4 182.2h.9M811.2 168.5h.9M811.3 168.1h.9M807.9 179.1h.9M807.0 181.5h.9M807.9 183.4h.9M807.0 178.1h.9M807.0 178.4h.9M810.5 169.7h.9M808.9 183.6h.9M805.8 179.7h.9M807.7 181.8h.9M810.5 169.0h.9M810.8 173.2h.9M802.3 196.4h.9M810.4 172.1h.9M808.6 179.7h.9M810.1 169.8h.9M801.3 197.2h.9M810.3 173.2h.9M806.7 179.8h.9M809.5 180.2h.9M809.0 174.0h.9M811.3 172.7h.9M809.1 174.5h.9M806.3 179.7h.9M807.3 180.1h.9M807.8 174.3h.9M811.2 170.6h.9M798.8 194.6h.9M809.7 173.4h.9M810.9 174.3h.9M807.9 182.4h.9M811.9 170.6h.9M807.2 184.2h.9M810.5 169.2h.9M809.3 178.6h.9M808.6 177.9h.9M809.7 176.0h.9M808.9 177.1h.9M809.1 173.4h.9M807.5 174.0h.9M805.5 178.3h.9M807.2 180.3h.9M808.6 170.0h.9M808.6 177.0h.9M807.9 181.6h.9M808.5 173.2h.9M807.1 182.8h.9M806.7 180.6h.9M809.4 173.7h.9M807.2 178.1h.9M807.7 182.1h.9M810.3 173.2h.9M809.2 177.6h.9M807.9 175.7h.9M805.3 181.4h.9M810.6 175.9h.9M809.4 173.6h.9M809.2 175.0h.9M808.1 176.8h.9M809.5 167.2h.9M807.3 179.2h.9M808.9 169.6h.9M808.8 179.3h.9M810.6 172.5h.9M804.8 183.0h.9M808.4 168.8h.9M812.2 167.8h.9M808.2 176.8h.9M803.7 185.9h.9M810.2 175.6h.9M811.8 168.0h.9M807.4 175.8h.9M809.4 177.1h.9M805.5 179.3h.9M809.7 168.8h.9M810.3 172.6h.9M808.3 178.8h.9M808.4 181.0h.9M802.3 187.2h.9M806.5 179.7h.9M807.0 182.8h.9M808.1 177.9h.9M807.8 169.0h.9M808.4 173.9h.9M811.7 167.4h.9M808.3 180.7h.9M846.3 180.8h.9M841.5 188.4h.9M845.0 183.9h.9M804.4 192.2h.9M841.0 187.3h.9M828.0 190.0h.9M828.0 189.4h.9M808.4 179.6h.9M844.0 179.1h.9M828.0 189.9h.9M827.3 188.8h.9M805.1 192.6h.9M827.8 188.1h.9M805.8 189.7h.9M843.5 184.7h.9M843.5 187.6h.9M841.8 190.2h.9M806.8 191.8h.9M845.5 182.4h.9M842.9 190.9h.9M843.4 179.1h.9M827.4 189.0h.9M800.5 192.0h.9M804.4 193.8h.9M845.5 183.2h.9M828.8 189.4h.9M803.5 195.4h.9M805.5 191.0h.9M844.9 188.9h.9M807.3 183.6h.9M805.7 190.0h.9M798.9 190.8h.9M800.9 185.9h.9M804.7 177.7h.9M827.3 189.6h.9M806.6 189.3h.9M805.2 191.4h.9M844.1 179.7h.9M828.4 189.9h.9M844.8 179.1h.9M844.4 180.8h.9M827.9 188.3h.9M801.7 197.8h.9M828.3 189.5h.9M843.3 183.9h.9M804.3 182.6h.9M844.7 189.9h.9M847.2 186.0h.9M846.1 188.1h.9M841.0 188.4h.9M828.0 189.7h.9M843.0 185.4h.9M846.5 180.3h.9M842.2 182.5h.9M858.2 174.3h.9M869.4 174.1h.9M872.1 176.8h.9M868.8 177.6h.9M871.3 171.6h.9M850.5 188.2h.9M846.5 181.2h.9M846.4 181.5h.9M843.3 179.3h.9M862.1 171.3h.9M844.9 180.1h.9M848.9 180.9h.9M864.8 180.9h.9M851.4 187.5h.9M854.4 189.3h.9M843.3 190.0h.9M862.1 171.9h.9M851.6 188.5h.9M864.6 182.2h.9M871.5 174.0h.9M870.6 176.9h.9M850.4 186.2h.9M851.6 177.2h.9M860.4 172.8h.9M853.6 175.8h.9M846.5 186.7h.9M867.9 179.9h.9M853.8 176.5h.9M849.2 186.8h.9M872.6 170.1h.9M862.5 172.1h.9M861.8 171.1h.9M866.4 175.7h.9M868.2 173.6h.9M866.2 178.2h.9M866.4 181.8h.9M847.3 185.2h.9M842.5 184.5h.9M858.4 186.7h.9M869.1 170.8h.9M858.1 184.4h.9M859.0 186.8h.9M862.0 182.2h.9M867.2 175.2h.9M854.3 188.8h.9M866.7 178.7h.9M851.6 178.8h.9M873.3 174.5h.9M846.2 187.1h.9M855.4 173.7h.9M865.0 173.3h.9M865.4 172.1h.9M841.7 186.0h.9M855.3 175.9h.9M846.8 178.8h.9M845.8 180.9h.9M872.1 171.6h.9M854.6 187.4h.9M848.6 186.4h.9M841.6 187.4h.9M842.2 183.9h.9M872.2 172.1h.9M843.8 182.5h.9M861.7 171.3h.9M843.5 187.2h.9M869.5 177.4h.9M847.3 180.5h.9M852.9 187.1h.9M872.4 173.1h.9M845.1 184.1h.9M868.5 178.4h.9M868.3 174.5h.9M846.1 182.1h.9M864.5 183.1h.9M845.5 185.1h.9M866.5 173.8h.9M845.6 188.7h.9M847.3 186.9h.9M869.8 172.9h.9M843.0 182.6h.9M867.2 178.7h.9M860.4 173.2h.9M843.6 187.1h.9M846.6 186.9h.9M862.2 173.2h.9M845.0 185.4h.9M849.9 179.0h.9M868.4 174.2h.9M856.9 175.5h.9M843.7 183.4h.9M841.5 181.9h.9M862.4 171.9h.9M839.5 189.3h.9M842.6 182.8h.9M864.1 170.9h.9M856.9 186.5h.9M850.1 177.8h.9M864.4 172.5h.9M859.6 186.8h.9M841.9 181.4h.9M864.9 182.4h.9M864.2 180.7h.9M859.1 172.4h.9M864.1 173.2h.9M858.5 186.1h.9M846.0 185.3h.9M870.3 173.6h.9M868.4 172.2h.9M842.4 190.1h.9M864.8 182.3h.9M850.9 188.5h.9M862.1 181.8h.9M852.1 177.4h.9M859.9 173.6h.9M862.2 183.1h.9M866.4 178.3h.9M854.4 186.2h.9M851.4 178.3h.9M869.4 177.3h.9M846.8 180.3h.9M853.4 175.7h.9M841.8 188.7h.9M843.6 186.0h.9M845.9 184.9h.9M866.7 174.5h.9M854.4 188.2h.9M857.8 184.5h.9M865.4 180.7h.9M865.3 181.3h.9M848.2 188.2h.9M844.9 189.8h.9M847.9 179.2h.9M843.4 184.3h.9M850.3 177.0h.9M852.7 189.0h.9M849.9 189.0h.9M851.5 175.1h.9M850.1 178.1h.9M869.9 171.3h.9M846.9 182.2h.9M860.2 171.5h.9M864.5 180.5h.9M845.5 187.8h.9M841.7 188.3h.9M846.8 179.5h.9M845.9 180.5h.9M847.5 180.0h.9M862.5 185.0h.9M847.9 184.2h.9M852.2 177.1h.9M846.0 187.0h.9M848.5 177.4h.9M852.8 176.7h.9M867.0 172.3h.9M855.0 175.2h.9M864.2 183.6h.9M842.2 189.2h.9M856.7 174.8h.9M856.3 186.8h.9M848.3 186.6h.9M847.8 186.3h.9M864.2 173.3h.9M850.5 177.8h.9M863.7 182.5h.9M858.0 185.4h.9M850.1 188.7h.9M853.0 188.7h.9M865.0 182.5h.9M858.9 171.4h.9M848.3 179.4h.9M871.5 172.1h.9M866.7 171.5h.9M865.2 180.5h.9M844.8 182.9h.9M865.4 173.5h.9M870.1 175.6h.9M844.2 187.5h.9M845.4 184.8h.9M863.2 182.2h.9M850.8 186.4h.9M843.3 189.1h.9M843.8 182.2h.9M873.0 174.1h.9M864.3 183.9h.9M841.4 185.4h.9M843.8 180.3h.9M847.2 181.5h.9M852.6 176.5h.9M864.1 180.9h.9M855.7 173.9h.9M866.5 172.4h.9M867.1 176.9h.9M845.1 188.0h.9M840.4 186.1h.9M859.8 185.9h.9M841.1 189.4h.9M840.7 186.9h.9M868.2 175.3h.9M846.6 186.1h.9M854.2 187.5h.9M856.5 174.2h.9M860.1 186.1h.9M846.8 188.9h.9M846.1 181.0h.9M873.0 172.8h.9M848.8 179.9h.9M856.0 173.2h.9M845.1 182.0h.9M847.7 181.5h.9M863.6 172.2h.9M866.1 173.5h.9M850.5 187.0h.9M870.2 174.3h.9M841.4 186.2h.9M867.1 175.1h.9M852.7 188.5h.9M844.3 186.0h.9M858.5 173.6h.9M843.0 182.6h.9M849.5 179.4h.9M857.4 173.3h.9M844.3 179.2h.9M844.0 187.5h.9M851.8 179.0h.9M866.1 180.2h.9M870.6 177.0h.9M863.6 181.5h.9M862.1 172.1h.9M848.3 187.1h.9M851.9 188.0h.9M844.6 187.6h.9M852.5 188.7h.9M867.9 174.7h.9M856.6 173.6h.9M859.0 186.0h.9M855.8 174.6h.9M850.3 187.3h.9M867.8 173.2h.9M855.6 185.4h.9M847.3 188.7h.9M844.0 183.1h.9M848.3 180.6h.9M863.8 173.9h.9M863.8 172.3h.9M870.7 177.4h.9M844.4 188.6h.9M856.4 184.4h.9M843.4 188.4h.9M867.7 172.0h.9M866.0 171.0h.9M846.2 186.1h.9M854.1 189.1h.9M871.1 172.1h.9M868.6 172.9h.9M851.6 178.7h.9M846.2 180.6h.9M859.5 186.2h.9M866.3 174.0h.9M849.9 177.0h.9M842.0 182.9h.9M865.8 180.2h.9M857.2 173.3h.9M857.2 175.0h.9M870.6 170.8h.9M873.0 174.3h.9M866.6 179.4h.9M854.1 174.6h.9M857.4 174.1h.9M866.9 181.6h.9M844.9 184.5h.9M852.3 175.3h.9M843.8 187.0h.9M865.1 183.0h.9M867.5 176.8h.9M870.5 172.4h.9M858.3 186.1h.9M873.4 172.4h.9M864.8 171.1h.9M850.9 178.5h.9M869.9 170.8h.9M866.2 180.0h.9M864.3 182.9h.9M866.9 181.1h.9M854.1 173.7h.9M869.6 173.4h.9M855.8 175.7h.9M851.0 176.3h.9M851.1 176.5h.9M853.7 188.2h.9M849.7 187.8h.9M870.7 174.2h.9M846.5 184.3h.9M841.7 188.0h.9M867.6 177.9h.9M864.2 182.5h.9M845.9 183.4h.9M865.6 183.5h.9M840.1 190.6h.9M850.4 186.8h.9M859.3 173.8h.9M841.8 183.5h.9M840.5 185.9h.9M848.1 177.2h.9M871.6 172.0h.9M854.2 187.8h.9M862.4 171.9h.9M847.4 185.3h.9M869.3 176.7h.9M846.3 179.4h.9M864.8 170.8h.9M870.3 172.9h.9M869.8 174.9h.9M846.6 186.7h.9M867.2 173.9h.9M857.4 174.0h.9M873.7 171.1h.9M865.5 181.4h.9M843.2 181.6h.9M864.9 173.2h.9M841.4 181.4h.9M864.5 182.6h.9M865.7 183.6h.9M866.8 174.8h.9M869.4 170.4h.9M847.0 178.0h.9M867.5 172.4h.9M856.2 184.8h.9M846.1 184.7h.9M862.0 181.1h.9M858.6 186.6h.9M850.5 187.6h.9M866.9 180.6h.9M841.6 190.3h.9M845.8 189.7h.9M862.2 184.7h.9M849.3 179.9h.9M843.5 181.1h.9M843.2 187.7h.9M865.3 170.7h.9M869.6 172.0h.9M841.2 189.1h.9M866.2 179.7h.9M845.5 186.1h.9M853.1 176.2h.9M843.1 182.6h.9M854.8 189.7h.9M863.4 181.0h.9M859.7 173.5h.9M856.6 184.1h.9M858.7 174.4h.9M853.1 177.0h.9M867.6 174.9h.9M872.0 171.7h.9M840.1 189.4h.9M867.8 175.1h.9M844.1 186.5h.9M865.9 170.1h.9M870.6 176.4h.9M848.8 187.7h.9M864.9 170.3h.9M845.2 184.8h.9M856.0 174.4h.9M869.3 171.4h.9M856.2 185.9h.9M872.4 172.6h.9M867.2 180.9h.9M868.0 173.1h.9M848.3 185.7h.9M863.0 171.5h.9M843.5 187.1h.9M842.8 181.2h.9M867.9 178.8h.9M856.2 184.3h.9M858.9 174.2h.9M842.8 189.1h.9M845.4 182.4h.9M843.1 186.4h.9M844.6 189.7h.9M861.1 184.5h.9M854.0 186.6h.9M865.2 182.0h.9M865.1 181.9h.9M866.3 174.2h.9M848.2 179.5h.9M850.9 176.1h.9M856.3 186.5h.9M849.1 177.6h.9M859.9 185.4h.9M858.8 185.9h.9M845.9 189.3h.9M863.1 172.6h.9M856.4 174.0h.9M848.7 187.5h.9M873.1 171.8h.9M844.0 186.5h.9M852.3 188.2h.9M847.9 187.7h.9M856.8 175.9h.9M857.8 185.9h.9M868.1 173.3h.9M868.1 171.3h.9M848.0 188.8h.9M868.7 175.8h.9M867.4 177.9h.9M872.4 174.5h.9M847.9 186.1h.9M868.4 172.0h.9M868.8 175.0h.9M866.0 180.0h.9M864.1 182.4h.9M847.4 185.7h.9M865.9 170.0h.9M841.2 183.7h.9M869.6 173.3h.9M847.2 181.8h.9M842.6 187.6h.9M847.5 180.7h.9M873.2 174.8h.9M841.2 184.8h.9M873.0 176.9h.9M852.9 177.0h.9M846.7 178.5h.9M864.6 181.0h.9M852.3 177.1h.9M866.8 171.2h.9M869.0 179.3h.9M868.1 174.1h.9M863.9 183.8h.9M870.3 176.1h.9M842.2 185.6h.9M859.0 173.2h.9M864.1 172.8h.9M842.3 185.0h.9M853.3 175.7h.9M852.1 176.1h.9M870.7 170.4h.9M863.9 171.9h.9M863.1 184.0h.9M869.2 174.5h.9M872.7 174.8h.9M869.9 172.1h.9M866.1 176.3h.9M862.8 173.6h.9M859.2 186.2h.9M846.9 180.5h.9M867.9 178.7h.9M863.6 170.2h.9M844.6 185.0h.9M842.4 189.3h.9M847.3 188.3h.9M841.4 184.0h.9M845.8 184.9h.9M872.8 171.2h.9M842.4 189.4h.9M857.1 186.6h.9M853.1 188.6h.9M851.7 178.5h.9M852.5 177.1h.9M844.3 190.0h.9M871.9 174.9h.9M866.4 181.0h.9M845.9 182.7h.9M843.5 187.8h.9M849.9 188.0h.9M840.7 186.7h.9M857.9 184.4h.9M840.9 188.1h.9M869.3 175.7h.9M858.9 174.4h.9M872.0 172.5h.9M859.3 186.6h.9M864.5 173.7h.9M853.5 187.1h.9M861.9 185.1h.9M872.6 176.8h.9M859.9 186.1h.9M843.0 185.1h.9M866.4 173.6h.9M858.7 186.5h.9M845.8 181.1h.9M873.5 172.6h.9M863.6 173.7h.9M843.6 181.5h.9M868.6 177.9h.9M848.0 186.1h.9M870.3 170.7h.9M858.8 171.1h.9M843.7 182.2h.9M871.5 173.3h.9M854.9 188.7h.9M857.3 174.9h.9M847.5 184.5h.9M845.0 185.2h.9M856.4 185.3h.9M867.9 177.7h.9M867.2 175.2h.9M868.2 176.5h.9M867.1 175.7h.9M868.7 176.2h.9M842.9 182.2h.9M860.2 173.7h.9M841.9 182.0h.9M853.4 175.5h.9M844.6 183.4h.9M870.0 170.6h.9M841.8 190.6h.9M845.0 187.4h.9M869.5 172.3h.9M844.4 187.9h.9M845.3 185.4h.9M867.6 174.7h.9M847.0 188.9h.9M846.8 187.9h.9M860.3 172.4h.9M841.6 183.4h.9M860.1 173.2h.9M867.9 179.1h.9M856.6 185.5h.9M861.6 185.1h.9M843.0 185.4h.9M870.6 171.2h.9M867.7 173.6h.9M844.6 183.7h.9M845.4 189.6h.9M861.1 173.7h.9M854.7 176.0h.9M864.2 182.5h.9M851.9 178.2h.9M857.5 173.7h.9M846.8 178.8h.9M866.1 178.9h.9M846.1 182.0h.9M858.4 185.1h.9M847.8 181.0h.9M841.2 188.4h.9M845.4 185.5h.9M848.8 180.6h.9M860.7 187.0h.9M844.0 183.3h.9M858.7 172.2h.9M846.0 180.1h.9M852.3 187.4h.9M840.1 189.6h.9M869.7 177.4h.9M862.2 181.7h.9M842.5 189.1h.9M863.1 180.7h.9M867.0 174.7h.9M847.1 185.2h.9M864.4 173.5h.9M845.0 188.4h.9M847.0 182.9h.9M854.5 186.1h.9M867.8 176.4h.9M847.5 186.6h.9M854.7 186.0h.9M857.0 184.4h.9M871.0 177.2h.9M866.9 178.0h.9M847.6 180.6h.9M840.0 189.2h.9M864.5 181.2h.9M853.9 176.5h.9M868.6 173.7h.9M849.0 185.2h.9M867.4 172.8h.9M868.1 171.4h.9M869.3 177.0h.9M847.8 181.6h.9M847.8 185.3h.9M841.8 185.0h.9M868.8 175.1h.9M845.1 183.6h.9M872.9 175.1h.9M871.0 175.4h.9M846.2 182.8h.9M846.1 184.4h.9M869.5 177.0h.9M850.2 187.6h.9M849.3 186.6h.9M868.7 173.1h.9M853.7 176.7h.9M859.7 172.7h.9M844.4 185.1h.9M850.3 176.2h.9M863.2 173.3h.9M843.1 183.8h.9M854.6 188.6h.9M866.5 179.4h.9M866.2 171.6h.9M866.9 176.6h.9M856.3 185.9h.9M845.2 179.8h.9M856.6 184.8h.9M849.9 179.4h.9M842.4 189.8h.9M870.6 173.2h.9M871.0 173.0h.9M853.7 175.9h.9M845.7 185.2h.9M853.0 176.4h.9M849.1 178.5h.9M857.0 174.9h.9M863.9 183.2h.9M852.9 187.5h.9M868.0 174.4h.9M866.0 170.4h.9M872.1 171.1h.9M871.0 173.7h.9M858.2 184.7h.9M862.1 184.5h.9M844.3 182.1h.9M846.9 182.8h.9M850.5 179.5h.9M854.1 189.3h.9M865.3 181.0h.9M853.9 188.8h.9M848.0 188.1h.9M839.2 189.1h.9M865.4 170.7h.9M862.8 172.1h.9M843.1 190.4h.9M846.8 185.7h.9M854.0 174.0h.9M871.0 177.2h.9M846.2 184.2h.9M863.0 181.4h.9M858.6 185.8h.9M871.7 172.0h.9M847.9 186.2h.9M873.9 171.7h.9M865.2 183.8h.9M868.2 176.4h.9M850.3 187.9h.9M842.1 186.8h.9M849.7 179.9h.9M869.8 177.4h.9M871.2 176.8h.9M855.7 173.8h.9M873.9 172.3h.9M841.4 183.9h.9M866.5 172.4h.9M845.5 185.0h.9M871.1 176.6h.9M857.5 174.2h.9M848.5 188.0h.9M851.3 176.3h.9M846.4 182.7h.9M846.2 184.5h.9M845.9 186.0h.9M856.5 186.1h.9M841.1 187.0h.9M849.4 179.8h.9M858.8 172.6h.9M857.4 185.8h.9M841.4 185.3h.9M849.6 189.0h.9M865.4 181.8h.9M846.8 181.4h.9M852.3 187.3h.9M856.7 185.1h.9M859.6 185.1h.9M841.3 186.8h.9M843.5 181.6h.9M857.8 173.7h.9M866.8 173.3h.9M846.0 184.2h.9M851.1 176.2h.9M863.9 182.7h.9M866.2 179.2h.9M870.5 174.2h.9M865.8 180.1h.9M871.9 172.5h.9M842.7 183.9h.9M872.0 176.4h.9M857.8 174.1h.9M865.7 170.1h.9M847.5 187.6h.9M863.1 173.7h.9M842.4 188.6h.9M867.5 176.5h.9M846.7 182.5h.9M858.1 186.6h.9M844.0 179.4h.9M844.1 187.3h.9M848.4 179.6h.9M866.8 179.4h.9M866.5 175.0h.9M850.8 177.9h.9M858.8 184.7h.9M866.9 175.9h.9M847.6 180.1h.9M859.8 172.0h.9M839.2 189.6h.9M858.3 185.0h.9M866.6 172.1h.9M866.0 177.0h.9M871.9 175.4h.9M868.7 176.3h.9M846.8 180.3h.9M846.0 182.6h.9M871.8 171.3h.9M843.0 184.4h.9M866.7 170.3h.9M869.5 169.1h.9M861.7 184.6h.9M850.3 178.2h.9M869.8 173.2h.9M846.2 185.8h.9M845.0 184.0h.9M850.4 177.4h.9M854.2 174.0h.9M849.1 187.3h.9M848.6 179.2h.9M858.1 174.9h.9M851.9 176.1h.9M845.3 178.3h.9M853.8 176.0h.9M865.5 172.6h.9M870.0 175.4h.9M850.2 178.1h.9M857.0 184.1h.9M842.8 184.0h.9M872.4 170.4h.9M854.3 175.6h.9M873.8 175.1h.9M868.0 171.1h.9M866.5 171.0h.9M855.4 187.3h.9M845.2 184.6h.9M867.6 175.3h.9M847.8 179.1h.9M866.8 178.5h.9M861.5 172.9h.9M854.3 188.4h.9M869.9 171.1h.9M841.8 188.4h.9M866.6 175.1h.9M869.2 177.7h.9M861.9 185.1h.9M869.4 173.7h.9M870.7 173.2h.9M845.7 182.0h.9M864.4 182.1h.9M859.0 186.5h.9M865.8 170.9h.9M868.7 179.5h.9M843.0 187.3h.9M844.9 188.3h.9M855.6 185.1h.9M851.8 189.0h.9M868.9 179.3h.9M856.0 185.1h.9M865.2 180.9h.9M850.1 188.6h.9M841.0 189.7h.9M867.0 180.6h.9M854.6 187.1h.9M846.6 188.5h.9M858.0 184.1h.9M853.9 176.1h.9M843.3 185.8h.9M845.9 183.0h.9M853.7 189.6h.9M862.3 173.5h.9M866.8 174.3h.9M865.9 170.9h.9M862.5 170.2h.9M846.0 187.2h.9M861.6 184.3h.9M872.3 170.3h.9M852.8 177.2h.9M854.2 186.6h.9M848.7 179.3h.9M855.7 174.5h.9M868.4 171.0h.9M865.5 181.4h.9M862.1 183.5h.9M862.2 172.2h.9M871.4 176.0h.9M865.9 181.2h.9M869.3 174.6h.9M861.8 172.7h.9M845.6 185.5h.9M860.9 184.9h.9M863.4 172.2h.9M862.1 172.2h.9M873.1 174.9h.9M866.9 179.7h.9M867.4 180.4h.9M868.0 172.4h.9M843.4 186.8h.9M842.4 184.7h.9M860.9 184.4h.9M862.0 184.0h.9M866.2 178.9h.9M867.1 175.7h.9M870.5 171.3h.9M857.7 184.6h.9M849.1 178.7h.9M841.3 189.4h.9M841.5 183.2h.9M868.9 175.5h.9M859.2 173.8h.9M851.5 188.5h.9M847.6 179.0h.9M866.6 174.9h.9M865.2 172.6h.9M845.0 185.9h.9M855.7 175.4h.9M848.7 186.2h.9M846.3 184.9h.9M847.4 184.7h.9M868.2 176.9h.9M868.9 175.3h.9M853.0 177.4h.9M862.6 171.2h.9M849.0 180.2h.9M858.8 172.9h.9M873.6 171.5h.9M842.0 185.7h.9M851.8 176.8h.9M844.2 185.1h.9M865.3 181.7h.9M866.7 174.2h.9M859.4 187.0h.9M861.7 185.5h.9M856.4 187.4h.9M871.4 170.2h.9M870.8 173.4h.9M851.9 177.1h.9M866.4 172.6h.9M864.6 173.0h.9M869.5 177.0h.9M855.9 187.6h.9M858.6 172.8h.9M844.7 187.9h.9M862.1 182.8h.9M842.1 190.0h.9M861.8 173.5h.9M872.7 172.2h.9M860.8 171.9h.9M862.0 185.4h.9M855.4 188.0h.9M850.0 187.1h.9M848.2 180.7h.9M867.5 175.8h.9M846.1 184.9h.9M842.4 188.0h.9M860.8 184.4h.9M848.1 179.7h.9M843.3 183.1h.9M868.2 174.8h.9M868.8 180.4h.9M840.8 184.2h.9M843.0 183.8h.9M856.5 174.2h.9M859.9 173.9h.9M853.6 187.7h.9M872.1 175.5h.9M868.7 170.8h.9M850.9 180.0h.9M852.9 175.0h.9M844.7 182.0h.9M842.5 190.1h.9M845.1 183.6h.9M862.7 173.4h.9M867.3 172.0h.9M866.8 174.2h.9M848.7 185.3h.9M843.1 186.0h.9M851.0 187.1h.9M869.2 172.9h.9M867.4 178.3h.9M869.5 170.5h.9M858.4 173.8h.9M859.4 186.0h.9M850.0 179.7h.9M854.6 175.8h.9M843.2 183.3h.9M853.1 187.9h.9M847.1 180.1h.9M846.4 187.5h.9M863.9 181.5h.9M868.9 177.5h.9M860.4 173.8h.9M844.9 189.4h.9M843.2 190.5h.9M859.3 186.4h.9M870.0 173.5h.9M843.9 190.0h.9M842.9 188.0h.9M846.4 178.0h.9M840.7 188.6h.9M862.8 173.0h.9M857.8 172.7h.9M843.7 185.0h.9M852.9 188.2h.9M850.2 179.2h.9M864.8 180.9h.9M847.7 179.9h.9M846.5 182.5h.9M848.4 185.6h.9M862.3 183.1h.9M854.0 174.7h.9M866.2 172.1h.9M845.4 188.2h.9M850.8 187.0h.9M854.6 187.3h.9M864.4 173.5h.9M870.3 173.0h.9M872.0 177.5h.9M850.4 187.2h.9M846.7 179.2h.9M863.5 171.1h.9M862.2 173.2h.9M854.4 186.4h.9M845.5 188.3h.9M840.5 185.1h.9M848.2 185.9h.9M843.7 187.1h.9M862.4 170.4h.9M846.2 187.5h.9M847.5 180.3h.9M870.1 175.1h.9M866.1 178.2h.9M869.8 175.9h.9M842.4 190.5h.9M852.1 176.0h.9M843.6 187.5h.9M853.4 176.5h.9M845.3 184.4h.9M868.3 180.7h.9M846.9 186.1h.9M854.9 175.5h.9M866.0 174.5h.9M868.5 178.8h.9M865.8 181.3h.9M872.1 172.3h.9M847.0 178.2h.9M845.9 186.7h.9M857.2 174.4h.9M866.0 180.3h.9M860.6 186.7h.9M840.7 189.3h.9M855.7 186.0h.9M856.3 172.0h.9M873.3 175.8h.9M840.5 187.7h.9M870.4 176.1h.9M856.9 184.8h.9M872.4 175.6h.9M863.9 172.6h.9M842.7 187.8h.9M869.1 170.5h.9M855.1 186.8h.9M840.0 189.1h.9M856.9 185.6h.9M860.9 171.8h.9M860.5 185.8h.9M854.4 186.9h.9M841.9 190.9h.9M852.0 178.2h.9M872.8 174.9h.9M869.6 172.4h.9M868.9 175.0h.9M845.9 180.6h.9M854.9 186.9h.9M862.3 183.1h.9M867.4 173.7h.9M864.8 171.6h.9M843.6 184.3h.9M840.2 190.6h.9M846.7 188.5h.9M852.1 176.6h.9M865.0 174.3h.9M870.4 172.7h.9M871.3 174.7h.9M844.3 179.3h.9M841.5 186.4h.9M849.0 179.0h.9M867.8 181.4h.9M867.3 180.3h.9M871.0 174.0h.9M843.7 186.0h.9M856.4 173.3h.9M866.3 178.1h.9M843.0 183.7h.9M855.2 185.0h.9M842.9 183.8h.9M854.9 174.5h.9M843.4 185.0h.9M842.6 186.7h.9M849.5 186.8h.9M862.5 172.0h.9M848.8 186.2h.9M855.5 186.6h.9M866.9 174.8h.9M828.9 189.9h.9M856.3 186.4h.9M848.8 185.1h.9M854.7 188.3h.9M868.4 174.2h.9M866.7 174.1h.9M849.1 188.9h.9M846.9 179.7h.9M828.1 189.2h.9M843.9 179.7h.9M855.3 187.2h.9M868.4 171.4h.9M871.3 174.8h.9M841.9 182.8h.9M854.0 175.6h.9M858.1 172.1h.9M858.9 173.1h.9M869.8 173.8h.9M844.9 188.2h.9M848.8 186.9h.9M843.8 189.6h.9M871.1 177.2h.9M842.6 182.3h.9M862.4 173.4h.9M858.2 185.7h.9M860.8 186.7h.9M841.4 184.1h.9M843.7 179.6h.9M844.3 182.6h.9M846.6 182.1h.9M870.6 177.8h.9M842.3 186.9h.9M868.4 170.9h.9M863.5 173.6h.9M856.6 185.2h.9M853.1 176.3h.9M870.6 175.8h.9M856.6 186.0h.9M845.2 178.5h.9M867.3 179.1h.9M863.1 181.8h.9M843.3 181.0h.9M864.1 181.2h.9M847.9 186.8h.9M842.9 188.7h.9M872.6 171.3h.9M852.0 178.4h.9M849.2 186.7h.9M855.5 175.9h.9M865.0 182.3h.9M852.2 176.6h.9M855.8 188.7h.9M868.3 175.1h.9M843.9 188.8h.9M848.2 188.4h.9M847.9 181.1h.9M855.9 174.7h.9M844.6 182.4h.9M862.1 172.0h.9M844.7 187.0h.9M870.0 170.8h.9M841.6 184.7h.9M863.5 171.5h.9M855.5 174.6h.9M858.0 174.4h.9M844.1 180.2h.9M845.1 181.3h.9M847.2 178.6h.9M868.0 179.3h.9M861.9 173.9h.9M854.4 189.0h.9M848.4 179.3h.9M868.6 178.7h.9M871.1 177.9h.9M842.1 188.2h.9M844.0 185.8h.9M865.4 182.8h.9M864.5 173.4h.9M868.1 176.4h.9M860.6 184.1h.9M871.4 172.2h.9M859.4 173.3h.9M868.6 178.2h.9M856.0 186.1h.9M854.2 175.7h.9M842.4 185.2h.9M858.0 175.5h.9M864.0 181.5h.9M841.8 182.5h.9M867.8 179.7h.9M870.2 176.5h.9M872.4 175.3h.9M845.6 182.1h.9M863.1 172.7h.9M860.8 184.6h.9M869.1 174.8h.9M856.9 174.5h.9M857.2 186.7h.9M849.9 186.6h.9M845.5 186.0h.9M860.3 184.8h.9M872.2 175.8h.9M864.7 171.9h.9M868.6 175.5h.9M866.6 179.2h.9M863.3 170.1h.9M847.1 184.3h.9M845.6 183.6h.9M858.7 173.8h.9M851.6 176.2h.9M870.3 176.2h.9M873.7 175.0h.9M870.0 171.4h.9M856.9 173.5h.9M844.3 179.8h.9M845.2 179.2h.9M861.8 171.5h.9M858.5 173.6h.9M868.9 174.0h.9M862.4 172.5h.9M843.3 183.9h.9M842.8 186.9h.9M844.8 184.8h.9M858.0 186.8h.9M853.1 174.2h.9M847.3 178.6h.9M867.2 179.1h.9M847.6 187.4h.9M846.3 181.6h.9M847.6 178.5h.9M870.5 176.8h.9M859.6 186.4h.9M848.4 178.7h.9M847.6 182.0h.9M852.2 187.7h.9M870.6 175.5h.9M870.4 176.2h.9M849.9 188.2h.9M842.9 189.4h.9M867.0 181.0h.9M843.1 180.2h.9M845.4 183.4h.9M844.0 182.2h.9M866.1 172.6h.9M858.4 171.4h.9M869.2 169.1h.9M847.2 179.9h.9M862.1 181.6h.9M841.0 182.7h.9M844.5 183.6h.9M840.3 190.8h.9M853.7 188.7h.9M847.4 188.6h.9M863.7 173.9h.9M853.5 187.5h.9M845.7 181.2h.9M867.1 176.5h.9M873.8 175.6h.9M849.2 177.8h.9M870.0 178.2h.9M856.3 186.2h.9M860.9 184.0h.9M867.9 176.5h.9M844.3 180.3h.9M848.6 178.0h.9M843.1 186.1h.9M868.4 174.4h.9M853.0 187.3h.9M866.7 179.9h.9M867.8 176.1h.9M841.8 182.7h.9M856.3 174.2h.9M861.6 173.4h.9M847.4 185.5h.9M858.8 172.7h.9M866.8 180.6h.9M864.4 173.3h.9M868.7 174.7h.9M847.0 187.7h.9M866.6 181.0h.9M856.5 187.6h.9M841.9 186.1h.9M848.7 177.5h.9M827.7 189.8h.9M845.4 185.1h.9M872.0 170.1h.9M846.3 182.3h.9M844.5 181.5h.9M866.9 181.2h.9M872.1 173.9h.9M858.0 185.5h.9M853.8 189.7h.9M853.8 187.2h.9M843.6 188.4h.9M855.6 185.5h.9M858.7 172.9h.9M864.5 183.2h.9M858.4 172.9h.9M847.2 185.4h.9M868.0 180.5h.9M871.0 170.2h.9M869.3 176.2h.9M860.2 173.3h.9M848.6 186.5h.9M860.9 185.6h.9M857.7 185.6h.9M866.2 182.2h.9M852.7 175.9h.9M858.0 173.1h.9M863.2 183.9h.9M872.7 176.9h.9M868.8 175.7h.9M869.6 174.9h.9M842.5 185.4h.9M870.2 170.2h.9M866.2 175.6h.9M871.5 171.7h.9M873.9 174.2h.9M862.2 171.5h.9M857.2 172.9h.9M849.1 178.5h.9M867.3 179.1h.9M865.3 182.0h.9M863.0 171.6h.9M863.7 172.5h.9M863.5 181.5h.9M840.2 186.3h.9M860.1 173.5h.9M849.2 179.4h.9M864.7 181.2h.9M845.6 178.0h.9M858.0 172.5h.9M869.7 171.9h.9M869.6 169.0h.9M872.7 171.7h.9M856.2 185.6h.9M856.4 172.9h.9M857.1 174.3h.9M869.3 173.2h.9M868.0 173.6h.9M856.1 173.9h.9M864.7 173.5h.9M862.5 171.9h.9M867.0 181.5h.9M859.8 171.4h.9M865.8 171.3h.9M855.8 188.7h.9M861.2 172.2h.9M841.3 184.8h.9M867.5 173.1h.9M847.9 186.1h.9M870.5 174.5h.9M856.1 175.7h.9M866.4 176.7h.9M861.7 172.3h.9" stroke="#2a7cf2" stroke-width="1.15" stroke-opacity="1" fill="none"/>
<path d="M801.7 192.2h.9M805.3 186.4h.9M801.3 192.4h.9M802.1 190.6h.9M801.3 196.9h.9M800.9 197.6h.9M806.0 184.5h.9M799.8 197.1h.9M799.6 197.1h.9M804.4 187.1h.9M803.5 192.6h.9M802.6 195.6h.9M806.6 183.3h.9M809.6 170.4h.9M806.7 181.7h.9M802.3 194.6h.9M800.9 197.8h.9M804.0 188.5h.9M804.9 190.2h.9M803.6 188.0h.9M806.0 182.4h.9M803.5 187.2h.9M809.7 170.1h.9M805.0 191.0h.9M802.0 197.0h.9M801.1 196.7h.9M802.0 189.7h.9M801.5 191.0h.9M802.6 188.7h.9M805.7 183.3h.9M801.2 190.8h.9M803.1 187.2h.9M805.6 184.5h.9M810.3 170.7h.9M805.4 186.5h.9M799.0 196.4h.9M806.5 181.8h.9M801.7 192.9h.9M799.9 193.2h.9M805.5 187.8h.9M800.3 193.4h.9M801.7 192.2h.9M800.4 193.3h.9M804.1 185.5h.9M803.0 193.8h.9M803.0 190.2h.9M803.5 193.5h.9M802.7 194.1h.9M802.8 194.5h.9M809.8 170.0h.9M798.3 196.0h.9M801.1 192.1h.9M803.8 193.6h.9M804.8 190.6h.9M803.3 188.4h.9M805.1 187.7h.9M799.7 195.8h.9M798.6 195.7h.9M803.0 191.4h.9M800.3 192.8h.9M805.1 187.9h.9M799.0 193.7h.9M799.2 195.6h.9M810.0 169.2h.9M802.1 190.7h.9M809.9 172.5h.9M803.7 193.1h.9M804.5 187.5h.9M806.9 181.4h.9M806.4 183.1h.9M803.3 191.9h.9M799.1 195.3h.9M805.4 186.0h.9M809.5 172.5h.9M799.1 196.0h.9M799.1 196.5h.9M805.1 185.0h.9M801.3 192.3h.9M798.6 197.0h.9M805.9 186.1h.9M801.2 192.3h.9M802.0 190.5h.9M801.0 191.7h.9M804.4 190.9h.9M803.0 192.7h.9M802.8 189.2h.9M802.7 195.3h.9M805.1 186.3h.9M802.2 194.3h.9M799.3 197.0h.9M802.8 188.4h.9M799.3 194.3h.9M803.2 188.4h.9M801.6 196.3h.9M805.3 186.6h.9M799.2 194.4h.9M799.0 197.2h.9M803.1 187.0h.9M799.0 195.5h.9M799.6 196.3h.9M803.7 188.7h.9M803.9 187.6h.9M801.3 192.9h.9M803.6 193.8h.9M800.4 193.0h.9M799.9 194.5h.9M798.6 195.7h.9M802.4 188.0h.9M801.1 190.3h.9M802.6 188.7h.9M810.8 171.1h.9M802.9 189.6h.9M806.9 185.3h.9M803.4 192.7h.9M804.4 187.6h.9M806.9 186.7h.9M809.1 172.1h.9M806.4 181.1h.9M799.1 197.7h.9M800.0 193.8h.9M799.1 197.8h.9M806.5 184.1h.9M799.1 197.8h.9M800.7 192.6h.9M802.3 190.6h.9M799.6 195.9h.9M803.5 191.1h.9M806.7 181.3h.9M805.6 183.6h.9M801.3 192.2h.9M799.0 196.3h.9M800.2 193.8h.9M806.4 181.2h.9M804.1 186.9h.9M802.5 189.0h.9M806.5 186.5h.9M798.8 196.0h.9M799.2 195.7h.9M804.7 185.1h.9M802.5 194.4h.9M799.7 197.1h.9M806.7 182.7h.9M807.0 183.8h.9M805.6 188.5h.9M804.0 186.2h.9M802.3 189.9h.9M799.5 195.7h.9M799.5 197.4h.9M809.9 170.5h.9M805.9 187.4h.9M798.3 196.2h.9M809.7 171.4h.9M799.9 193.6h.9M809.5 171.3h.9M804.4 191.7h.9M810.5 170.3h.9M799.8 196.7h.9M800.6 197.6h.9M801.1 190.7h.9M802.0 191.9h.9M802.6 190.1h.9M801.3 196.6h.9M806.8 186.0h.9M809.3 171.1h.9M799.5 193.1h.9M804.4 190.0h.9M801.2 192.7h.9M802.1 188.1h.9M806.2 182.6h.9M809.4 170.0h.9M805.2 188.2h.9M803.9 187.0h.9M806.3 184.3h.9M799.9 193.5h.9M804.3 186.6h.9M802.6 191.2h.9M803.9 188.0h.9M804.3 186.7h.9M798.1 195.6h.9M803.0 194.8h.9M809.3 169.1h.9M804.3 185.8h.9M800.1 192.2h.9M805.9 184.1h.9M804.2 190.3h.9M799.9 194.9h.9M801.3 190.8h.9M799.3 194.7h.9M803.7 194.0h.9M804.5 186.4h.9M803.4 192.5h.9M804.3 191.4h.9M803.7 188.7h.9M804.1 187.1h.9M803.3 192.4h.9M799.6 194.3h.9M803.0 188.8h.9M802.0 192.6h.9M806.1 182.3h.9M805.9 186.4h.9M806.1 186.0h.9M803.0 191.9h.9M805.7 184.6h.9M804.1 186.5h.9M800.5 197.6h.9M801.4 192.6h.9M806.0 183.2h.9M800.1 192.9h.9M806.3 185.9h.9M801.4 191.1h.9M805.0 188.5h.9M799.4 196.1h.9M800.4 192.2h.9M799.6 193.2h.9M806.9 181.7h.9M804.6 188.2h.9M804.0 187.9h.9M802.4 191.7h.9M806.2 182.9h.9M801.9 192.8h.9M810.7 170.3h.9M799.1 197.3h.9M805.1 186.3h.9M806.7 181.8h.9M802.1 188.1h.9M803.5 188.3h.9M806.3 184.4h.9M805.4 187.6h.9M810.5 170.6h.9M805.9 183.4h.9M806.7 183.9h.9M803.0 191.3h.9M810.0 170.7h.9M805.0 188.1h.9M804.1 186.9h.9M801.0 193.4h.9M806.8 183.8h.9M806.9 185.9h.9M803.0 189.2h.9M809.8 171.5h.9M810.6 170.8h.9M809.9 170.9h.9M809.5 170.9h.9M810.4 170.4h.9M803.9 188.1h.9M804.7 189.8h.9M805.9 187.5h.9M803.9 191.3h.9M802.3 194.7h.9M805.3 186.3h.9M802.4 191.8h.9M804.8 188.0h.9M809.5 169.7h.9M805.6 185.8h.9M809.8 169.4h.9M809.8 171.9h.9M801.4 196.4h.9M800.8 197.3h.9M806.5 182.9h.9M806.1 184.4h.9M802.1 190.3h.9M804.4 189.5h.9M809.5 171.5h.9M804.5 190.8h.9M805.1 187.7h.9M803.2 191.1h.9M801.0 192.7h.9M809.8 169.4h.9M803.3 188.2h.9M809.5 171.3h.9M801.5 190.3h.9M806.8 186.8h.9M810.7 170.2h.9M800.0 196.2h.9M801.8 191.6h.9M801.2 196.0h.9M799.7 195.9h.9M805.4 186.1h.9M803.3 191.5h.9M804.7 190.1h.9M809.3 172.3h.9M802.4 190.8h.9M804.2 190.1h.9M806.1 185.1h.9M802.8 191.2h.9M807.0 184.8h.9M809.2 172.9h.9M810.8 171.7h.9M806.6 185.7h.9M806.6 181.8h.9M806.2 181.8h.9M805.4 185.8h.9M804.2 190.8h.9M810.1 171.5h.9M804.0 187.0h.9M810.1 171.2h.9M804.9 189.3h.9M801.0 196.6h.9M806.8 184.0h.9M810.9 171.5h.9M799.5 194.0h.9M806.7 184.9h.9M806.7 183.4h.9M805.5 186.4h.9M801.5 196.2h.9M804.5 188.0h.9M805.6 186.3h.9M804.8 191.5h.9M806.7 184.8h.9M806.4 185.7h.9M805.9 187.4h.9M804.6 190.4h.9M802.7 190.9h.9M801.1 196.4h.9M804.0 191.1h.9M804.4 190.3h.9M802.0 196.1h.9M804.9 189.4h.9M801.8 190.6h.9M806.9 182.1h.9M803.1 193.4h.9M805.2 187.0h.9M803.2 191.3h.9M804.3 189.8h.9M802.6 191.3h.9M804.1 188.4h.9M810.9 171.5h.9M804.7 189.2h.9M802.4 191.3h.9M803.2 191.1h.9M805.9 187.3h.9M809.9 171.6h.9M809.5 170.1h.9M802.3 189.6h.9M810.4 170.3h.9M810.7 171.1h.9M805.5 187.8h.9M804.1 190.2h.9M799.6 195.9h.9M802.8 190.5h.9M805.1 189.0h.9M803.1 188.5h.9M802.1 195.2h.9M805.2 183.8h.9M806.0 185.1h.9M805.6 185.3h.9M801.2 196.5h.9M803.1 193.7h.9M809.1 172.1h.9M805.1 187.6h.9M805.3 185.4h.9M810.3 172.0h.9M799.7 196.2h.9M809.6 172.6h.9M809.8 173.0h.9M806.8 182.2h.9M802.5 191.4h.9M798.5 196.7h.9M809.2 170.3h.9M810.6 170.2h.9M806.2 185.0h.9M805.5 188.8h.9M809.2 169.5h.9M806.4 181.8h.9M806.1 186.8h.9M804.4 186.5h.9M799.5 194.5h.9M809.6 170.6h.9M803.1 192.3h.9M799.4 196.1h.9M809.1 171.3h.9M801.1 196.2h.9M799.0 195.3h.9M800.0 197.3h.9M805.7 184.0h.9M805.9 187.1h.9M805.3 186.3h.9M806.1 185.5h.9M810.7 171.6h.9M804.1 187.4h.9M804.4 189.5h.9M807.0 186.6h.9M806.9 185.4h.9M806.4 185.4h.9M806.1 183.9h.9M799.2 197.0h.9M806.0 185.3h.9M802.4 189.4h.9M809.8 172.1h.9M802.5 191.7h.9M810.1 171.8h.9M802.7 190.7h.9M806.4 183.4h.9M802.1 194.3h.9M809.3 171.9h.9M805.2 184.3h.9M806.8 185.6h.9M799.7 197.3h.9M802.9 190.2h.9M805.1 188.3h.9M803.0 188.1h.9M802.0 192.0h.9M804.4 189.6h.9M799.5 197.4h.9M805.4 185.2h.9M799.1 196.7h.9M809.6 173.0h.9M806.6 183.5h.9M803.1 191.3h.9M802.3 191.4h.9M802.1 194.3h.9M802.2 194.6h.9M806.4 185.4h.9M799.9 196.3h.9M799.8 194.9h.9M804.4 185.1h.9M802.5 191.2h.9M804.8 188.3h.9M806.1 185.2h.9M809.0 172.1h.9M803.0 192.1h.9M806.4 184.4h.9M806.2 184.6h.9M804.1 191.7h.9M810.4 171.5h.9M802.9 189.4h.9M805.3 185.7h.9M800.7 193.6h.9M806.8 183.7h.9M806.1 184.9h.9M809.5 169.5h.9M806.3 182.9h.9M804.4 186.0h.9M803.1 193.0h.9M799.7 196.3h.9M809.3 169.2h.9M800.0 193.9h.9M800.7 193.2h.9M849.0 185.0h.9M805.3 188.2h.9M802.4 190.6h.9M802.2 190.6h.9M799.5 195.2h.9M853.6 180.9h.9M865.9 177.7h.9M855.1 184.2h.9M850.6 182.5h.9M848.9 183.8h.9M857.5 176.7h.9M854.8 181.0h.9M861.0 182.0h.9M861.2 182.6h.9M863.5 176.7h.9M854.1 177.8h.9M857.3 180.5h.9M856.1 177.3h.9M865.5 176.0h.9M853.0 184.8h.9M851.7 182.2h.9M860.0 175.5h.9M854.4 184.8h.9M852.4 183.4h.9M855.0 179.1h.9M854.7 184.2h.9M860.5 176.7h.9M861.5 178.5h.9M858.5 183.9h.9M860.4 182.4h.9M857.1 181.9h.9M865.4 179.5h.9M860.0 178.4h.9M857.4 183.6h.9M853.1 184.1h.9M859.9 174.8h.9M861.0 182.8h.9M850.0 181.3h.9M853.3 181.3h.9M856.9 177.6h.9M862.4 179.6h.9M853.2 185.8h.9M862.3 178.2h.9M850.3 181.5h.9M860.7 179.1h.9M860.1 177.0h.9M860.9 177.4h.9M851.7 186.3h.9M857.3 177.4h.9M850.9 185.8h.9M853.3 177.1h.9M856.0 181.9h.9M863.9 176.6h.9M850.8 180.4h.9M855.9 180.7h.9M862.0 177.4h.9M854.8 184.3h.9M850.3 182.9h.9M852.5 183.7h.9M851.1 186.9h.9M855.7 184.6h.9M862.8 177.1h.9M853.9 180.1h.9M857.6 182.7h.9M851.2 186.8h.9M864.3 176.9h.9M856.9 179.6h.9M853.8 181.3h.9M860.3 182.5h.9M860.3 180.1h.9M860.6 179.7h.9M860.5 176.1h.9M859.2 184.0h.9M863.0 179.1h.9M849.2 182.3h.9M850.5 181.2h.9M858.5 182.6h.9M853.6 180.2h.9M859.3 179.6h.9M863.2 178.4h.9M849.7 182.0h.9M862.4 177.0h.9M861.1 180.6h.9M861.0 182.5h.9M860.0 184.7h.9M858.7 179.9h.9M849.3 185.6h.9M861.7 177.8h.9M852.6 179.2h.9M853.9 182.8h.9M855.9 178.8h.9M861.5 182.3h.9M852.0 184.2h.9M859.8 180.6h.9M851.2 179.3h.9M861.7 179.7h.9M862.6 179.2h.9M854.4 180.5h.9M863.7 175.7h.9M851.6 185.1h.9M864.1 175.5h.9M853.5 186.4h.9M854.6 177.2h.9M854.2 179.8h.9M857.0 179.9h.9M858.8 182.8h.9M850.6 182.5h.9M862.8 175.2h.9M851.5 179.1h.9M853.3 179.6h.9M861.3 179.2h.9M853.0 183.0h.9M853.0 180.6h.9M864.7 177.7h.9M857.4 179.4h.9M855.9 179.7h.9M852.9 179.3h.9M862.9 180.7h.9M863.5 177.7h.9M863.0 177.6h.9M855.4 181.3h.9M864.8 176.8h.9M854.6 178.3h.9M860.3 175.7h.9M855.9 179.5h.9M854.0 178.4h.9M854.5 182.4h.9M854.4 176.0h.9M856.2 179.9h.9M849.7 185.5h.9M852.7 181.8h.9M851.7 179.9h.9M861.3 180.4h.9M852.5 185.9h.9M856.5 182.1h.9M857.1 176.1h.9M854.0 185.7h.9M854.2 178.2h.9M856.6 176.1h.9M861.7 182.9h.9M861.7 174.9h.9M864.5 175.7h.9M854.7 177.4h.9M851.5 186.3h.9M861.2 179.9h.9M860.8 182.1h.9M852.8 186.9h.9M855.0 181.2h.9M865.6 177.0h.9M848.3 183.3h.9M849.5 183.9h.9M863.1 177.5h.9M864.1 174.5h.9M851.5 182.1h.9M851.9 184.0h.9M850.4 182.0h.9M859.1 182.0h.9M860.8 176.1h.9M860.9 180.7h.9M865.0 178.2h.9M852.8 180.5h.9M855.1 180.1h.9M860.3 183.1h.9M849.1 180.8h.9M851.4 182.1h.9M860.6 175.9h.9M865.3 178.7h.9M859.7 175.4h.9M853.4 180.9h.9M851.7 183.5h.9M859.3 181.6h.9M852.7 180.5h.9M847.2 182.8h.9M850.1 181.4h.9M856.3 183.6h.9M862.6 176.0h.9M852.8 184.2h.9M858.6 179.7h.9M846.8 183.8h.9M856.4 176.5h.9M864.1 178.1h.9M848.5 182.0h.9M850.9 184.6h.9M857.0 179.5h.9M854.1 183.5h.9M865.0 177.4h.9M850.2 181.2h.9M856.1 181.8h.9M852.0 185.5h.9M854.8 176.5h.9M852.8 186.0h.9M860.8 183.8h.9M853.1 178.4h.9M863.4 179.4h.9M859.0 182.4h.9M853.4 184.4h.9M859.9 176.8h.9M858.2 181.9h.9M864.1 179.8h.9M863.7 179.3h.9M852.5 185.7h.9M852.3 184.8h.9M855.6 176.3h.9M853.2 180.6h.9M855.1 182.3h.9M853.0 180.7h.9M856.1 177.8h.9M851.2 179.1h.9M855.9 177.8h.9M847.1 183.1h.9M854.9 183.1h.9M849.0 181.8h.9M862.0 177.4h.9M851.3 186.5h.9M851.8 180.1h.9M850.2 183.1h.9M853.8 178.4h.9M852.4 185.8h.9M855.0 184.5h.9M850.5 185.8h.9M854.7 181.6h.9M860.5 174.9h.9M850.0 184.1h.9M860.7 178.2h.9M858.9 179.4h.9M860.4 174.5h.9M861.3 174.9h.9M858.3 181.1h.9M861.2 176.9h.9M856.7 181.3h.9M859.1 176.5h.9M852.2 186.2h.9M858.4 181.4h.9M860.9 176.1h.9M865.9 177.8h.9M857.4 176.5h.9M859.3 184.1h.9M858.5 176.3h.9M855.1 178.0h.9M859.2 181.9h.9M847.0 183.7h.9M848.7 182.0h.9M849.0 184.0h.9M850.1 185.4h.9M860.5 181.8h.9M859.3 175.9h.9M853.7 186.3h.9M860.6 177.8h.9M859.9 184.5h.9M854.1 185.8h.9M855.7 181.0h.9M860.9 177.3h.9M863.0 177.6h.9M856.8 181.9h.9M863.8 175.7h.9M851.5 179.4h.9M859.8 176.5h.9M854.9 176.7h.9M850.3 185.0h.9M851.4 179.8h.9M858.7 180.6h.9M863.9 177.3h.9M860.2 178.5h.9M860.3 174.8h.9M854.0 185.5h.9M858.9 176.1h.9M862.1 179.0h.9M862.0 182.2h.9M858.0 175.6h.9M865.5 175.1h.9M857.7 183.3h.9M853.3 181.8h.9M863.4 179.3h.9M861.3 178.6h.9M852.4 186.2h.9M847.6 183.1h.9M859.3 179.4h.9M850.9 180.8h.9M858.1 180.3h.9M861.4 176.9h.9M854.3 177.0h.9M854.1 182.9h.9M860.6 174.9h.9M850.4 180.8h.9M858.5 180.5h.9M863.2 177.6h.9M857.2 179.8h.9M858.4 179.8h.9M855.6 177.0h.9M861.0 183.6h.9M865.3 179.5h.9M859.5 182.6h.9M858.8 183.6h.9M846.4 183.9h.9M855.8 177.8h.9M850.5 182.6h.9M854.3 178.3h.9M861.4 177.7h.9M862.1 176.6h.9M848.2 181.9h.9M855.3 179.7h.9M852.4 180.3h.9M849.4 180.2h.9M847.6 182.5h.9M863.1 174.9h.9M864.3 176.9h.9M856.4 181.7h.9M853.7 179.4h.9M846.8 183.2h.9M855.0 180.1h.9M846.5 183.1h.9M864.0 178.7h.9M860.6 181.5h.9M854.9 177.5h.9M853.7 186.4h.9M852.4 179.3h.9M853.1 179.7h.9M854.4 186.0h.9M853.6 181.4h.9M860.6 178.1h.9M858.7 180.6h.9M848.3 182.0h.9M861.7 179.6h.9M849.0 185.3h.9M861.0 182.9h.9M851.3 182.5h.9M858.7 175.2h.9M853.0 184.0h.9M857.7 184.0h.9M858.3 183.8h.9M858.2 175.2h.9M864.8 177.8h.9M865.4 179.5h.9M865.2 179.8h.9M852.9 185.4h.9M848.8 181.7h.9M857.2 179.6h.9M857.5 181.5h.9M858.8 180.7h.9M854.4 181.8h.9M854.4 176.6h.9M858.3 181.2h.9M852.1 186.2h.9M859.3 179.9h.9M853.3 178.7h.9M854.0 176.9h.9M855.2 181.7h.9M850.8 180.9h.9M858.7 175.8h.9M859.3 180.2h.9M861.0 178.2h.9M853.6 181.9h.9M859.6 175.0h.9M860.6 178.3h.9M861.5 178.3h.9M861.0 181.2h.9M851.4 185.7h.9M857.1 177.2h.9M861.0 180.3h.9M865.7 175.8h.9M851.4 183.2h.9M853.5 185.3h.9M856.7 182.5h.9M861.3 178.8h.9M865.0 176.0h.9M857.6 181.6h.9M852.7 181.7h.9M860.3 183.7h.9M852.1 186.9h.9M850.1 183.4h.9M852.5 181.2h.9M855.7 179.6h.9M865.3 175.7h.9M860.1 182.8h.9M857.2 183.6h.9M852.1 185.0h.9M858.7 181.5h.9M855.1 184.2h.9M865.1 178.1h.9M849.2 185.6h.9M851.4 183.6h.9M865.7 177.1h.9M859.3 179.0h.9M857.2 177.0h.9M849.5 181.2h.9M859.8 184.6h.9M855.9 178.9h.9M855.2 183.9h.9M862.9 179.4h.9M852.4 185.3h.9M851.5 181.1h.9M848.5 182.1h.9M865.2 178.5h.9M854.8 176.4h.9M861.4 178.3h.9M861.8 174.1h.9M853.2 184.4h.9M865.8 175.3h.9M860.5 175.3h.9M861.1 180.0h.9M855.9 177.1h.9M857.1 177.6h.9M852.9 181.1h.9M860.6 181.7h.9M855.7 183.3h.9M853.7 181.5h.9M862.0 180.0h.9M861.5 180.6h.9M853.0 180.5h.9M852.2 183.2h.9M854.3 177.3h.9M849.0 183.1h.9M857.2 182.5h.9M859.1 181.4h.9M859.0 182.8h.9M858.9 179.2h.9M856.8 177.7h.9M861.3 177.3h.9M851.9 181.8h.9M863.2 175.1h.9M850.8 182.4h.9M857.9 181.9h.9M852.9 181.3h.9M852.8 179.8h.9M850.9 180.6h.9M861.3 179.9h.9M857.1 179.6h.9M849.7 183.6h.9M857.8 176.3h.9M849.6 182.6h.9M858.9 175.5h.9M857.1 176.1h.9M852.1 185.1h.9M860.1 184.0h.9M854.2 178.4h.9M863.5 178.7h.9M854.7 184.4h.9M858.4 176.1h.9M860.4 182.8h.9M852.5 181.0h.9M862.6 175.6h.9M854.8 183.4h.9M854.4 180.6h.9M860.6 182.0h.9M854.8 181.0h.9M862.3 174.1h.9M851.9 179.5h.9M857.6 177.5h.9M858.8 180.9h.9M856.6 176.9h.9M857.7 179.9h.9M853.4 183.7h.9M864.5 174.8h.9M857.9 182.6h.9M851.1 180.9h.9M856.9 177.4h.9M865.5 177.4h.9M849.6 182.2h.9M861.5 177.1h.9M862.1 179.7h.9M864.0 179.2h.9M859.1 174.6h.9M857.7 177.0h.9M860.1 182.9h.9M859.3 182.8h.9M851.7 186.9h.9M858.2 184.0h.9M865.6 177.3h.9M855.2 182.4h.9M860.9 176.3h.9M854.3 178.9h.9M863.9 174.3h.9M850.0 183.5h.9M846.5 183.7h.9M848.4 182.5h.9M855.6 179.4h.9M856.5 178.7h.9M862.3 178.7h.9M857.0 181.5h.9M862.8 180.0h.9M859.0 182.3h.9M859.1 182.3h.9M860.4 184.0h.9M862.8 180.3h.9M854.3 181.4h.9M861.4 180.5h.9M853.4 186.2h.9M856.0 177.8h.9M857.8 184.0h.9M865.8 178.6h.9M856.0 183.8h.9M852.1 180.5h.9M855.9 181.5h.9M849.3 183.0h.9M854.5 177.2h.9M861.7 180.6h.9M863.0 176.0h.9M855.8 179.9h.9M865.4 177.1h.9M851.9 184.9h.9M855.3 178.2h.9M855.2 184.2h.9M863.2 176.7h.9M859.4 176.0h.9M858.9 176.2h.9M854.9 178.9h.9M864.7 176.2h.9M860.2 175.5h.9M855.6 180.2h.9M863.5 177.0h.9M855.7 182.9h.9M864.6 177.1h.9M854.7 179.4h.9M855.7 180.0h.9M849.4 185.5h.9M859.4 175.4h.9M859.7 180.3h.9M863.4 177.0h.9M854.3 182.7h.9M848.9 182.9h.9M853.0 179.7h.9M854.0 184.7h.9M856.3 178.8h.9M861.7 181.3h.9M860.4 177.4h.9M863.1 177.7h.9M850.5 184.5h.9M859.3 184.4h.9M855.3 183.8h.9M860.5 182.1h.9M853.8 186.3h.9M851.0 181.7h.9M862.7 178.9h.9M858.6 180.5h.9M858.3 176.5h.9M853.4 183.8h.9M857.1 182.1h.9M852.7 182.2h.9M855.5 176.6h.9M862.1 176.2h.9M862.1 178.6h.9M862.8 180.9h.9M849.3 184.3h.9M852.7 180.1h.9M859.9 175.2h.9M862.1 180.1h.9M854.1 185.0h.9M862.4 179.0h.9M863.8 175.2h.9M863.8 179.1h.9M852.7 181.9h.9M849.9 185.4h.9M849.9 181.9h.9M849.1 183.0h.9M852.7 186.6h.9M856.7 179.2h.9M862.9 177.4h.9M856.8 182.1h.9M855.6 177.1h.9M863.6 179.7h.9M863.0 175.7h.9M860.3 175.5h.9M855.5 184.1h.9M861.7 176.9h.9M860.4 181.2h.9M852.5 185.0h.9M861.2 176.3h.9M864.1 179.1h.9M855.4 180.5h.9M856.3 179.0h.9M860.8 183.0h.9M855.6 184.8h.9M860.9 177.2h.9M858.6 183.4h.9M854.7 184.2h.9M850.6 180.4h.9M851.5 186.0h.9M858.8 175.2h.9M860.2 179.9h.9M855.7 179.5h.9M861.9 176.6h.9M851.4 183.3h.9M864.8 177.3h.9M864.7 178.1h.9M856.9 178.6h.9M853.1 183.7h.9M851.0 180.3h.9M851.9 181.9h.9M857.8 179.4h.9M848.9 183.4h.9M855.4 182.8h.9M863.9 174.8h.9M861.7 179.6h.9M848.2 181.6h.9M864.4 179.0h.9M860.2 180.2h.9M864.0 175.9h.9M861.3 180.6h.9M857.8 182.1h.9M852.9 178.6h.9M851.8 180.5h.9M852.4 179.2h.9M855.5 179.8h.9M853.5 178.0h.9M850.0 182.7h.9M859.5 179.7h.9M853.8 182.7h.9M847.8 183.1h.9M860.1 180.5h.9M862.3 180.8h.9M861.6 183.1h.9M854.5 180.1h.9M861.3 176.4h.9M852.4 182.4h.9M856.2 176.5h.9M853.1 179.3h.9M850.9 184.0h.9M865.0 177.5h.9M861.5 180.0h.9M855.0 183.1h.9M854.4 178.8h.9M855.8 176.9h.9M853.8 185.2h.9M849.8 182.9h.9M857.6 177.4h.9M852.1 178.3h.9M860.3 176.7h.9M851.7 180.5h.9M865.4 177.3h.9M854.6 177.5h.9M857.2 182.3h.9M851.7 185.5h.9M862.0 176.1h.9M850.3 185.5h.9M849.6 182.0h.9M854.7 179.7h.9M859.2 184.4h.9M858.2 182.5h.9M852.4 178.0h.9M851.8 183.6h.9M848.0 184.3h.9M856.7 176.7h.9M851.8 183.7h.9M857.5 177.4h.9M863.1 176.5h.9M862.7 180.7h.9M853.9 183.8h.9M857.8 179.0h.9M862.3 179.8h.9M861.1 181.7h.9M856.5 184.0h.9M857.7 182.5h.9M857.6 179.1h.9M861.1 176.8h.9M863.1 178.9h.9M861.4 174.1h.9M853.2 182.6h.9M859.2 182.3h.9M859.3 183.5h.9M864.5 175.4h.9M861.2 176.9h.9M846.5 183.4h.9M861.5 183.5h.9M853.7 186.6h.9M860.3 175.1h.9M857.7 181.0h.9M855.1 182.8h.9M861.4 177.4h.9M854.6 181.2h.9M852.8 184.1h.9M860.9 183.0h.9M859.9 174.9h.9M852.7 185.4h.9M861.2 182.4h.9M855.0 182.5h.9M863.0 175.0h.9M855.8 178.9h.9M853.4 181.3h.9M859.2 176.2h.9M859.5 180.0h.9M849.6 184.1h.9M858.7 182.1h.9M849.5 182.8h.9M856.8 176.8h.9M850.8 181.8h.9M859.7 180.5h.9M861.6 174.8h.9M861.4 181.9h.9M852.7 186.2h.9M852.4 179.8h.9M848.3 184.0h.9M850.6 181.9h.9M865.3 177.6h.9M860.1 178.6h.9M854.0 185.0h.9M856.4 182.6h.9M858.9 181.2h.9M854.4 181.1h.9M859.4 180.1h.9M857.8 181.8h.9M852.9 178.4h.9M861.8 175.3h.9M857.3 179.5h.9M854.6 177.8h.9M852.4 182.4h.9M864.1 176.6h.9M861.5 174.9h.9M860.3 176.5h.9M857.1 182.3h.9M848.5 183.9h.9M852.7 183.9h.9M855.7 183.9h.9M861.7 182.6h.9M863.3 179.8h.9M862.4 177.8h.9M860.2 180.8h.9M863.5 175.0h.9M854.1 181.7h.9M856.5 182.0h.9M861.1 175.2h.9M849.9 185.0h.9M854.0 180.4h.9M865.8 179.0h.9M852.6 183.4h.9M859.4 174.6h.9M858.4 182.7h.9M854.4 179.6h.9M851.9 183.5h.9M852.1 186.6h.9M854.1 179.6h.9M859.0 181.0h.9M862.2 174.3h.9M861.7 177.1h.9M852.4 182.7h.9M860.3 176.5h.9M861.1 183.6h.9M853.6 186.4h.9M851.6 182.8h.9M853.2 182.7h.9M865.5 179.2h.9M850.4 180.9h.9M854.0 180.3h.9M860.1 183.7h.9M855.8 177.9h.9M854.3 185.0h.9M864.3 178.7h.9M850.1 184.1h.9M865.4 175.2h.9M855.3 181.2h.9M863.6 175.4h.9M851.8 181.4h.9M865.9 175.4h.9M860.9 174.2h.9M861.8 182.1h.9M856.2 181.4h.9M846.6 183.3h.9M864.4 176.1h.9M858.1 176.1h.9M849.2 183.8h.9M849.6 183.3h.9M860.5 179.7h.9M863.8 177.9h.9M855.8 179.6h.9M858.2 175.4h.9M862.2 175.6h.9M856.5 177.8h.9M863.4 174.1h.9M850.1 184.8h.9M861.1 174.7h.9M853.3 187.0h.9M859.3 175.8h.9M865.0 176.9h.9M861.3 182.6h.9M862.6 177.4h.9M852.2 182.8h.9M855.5 182.8h.9M851.2 186.4h.9M859.4 180.3h.9M860.4 183.3h.9M855.1 181.6h.9M855.2 183.3h.9M858.4 183.4h.9M857.6 177.8h.9M859.4 174.1h.9M854.1 179.8h.9M860.0 182.2h.9M851.7 179.8h.9M849.3 184.0h.9M851.6 179.7h.9M855.6 177.9h.9M848.9 185.0h.9M849.8 183.0h.9M861.6 182.6h.9M855.3 176.6h.9M862.0 178.3h.9M859.6 179.9h.9M857.1 176.4h.9M861.3 177.1h.9M858.2 182.3h.9M855.4 183.8h.9M857.4 177.6h.9M864.1 178.9h.9M851.4 180.4h.9M857.0 177.4h.9M852.8 184.7h.9M861.7 182.9h.9M861.0 182.8h.9M858.9 182.7h.9M860.8 180.0h.9M858.7 179.6h.9M858.5 175.6h.9M848.7 184.4h.9M854.0 179.1h.9M864.2 176.5h.9M851.7 183.6h.9M857.2 179.2h.9M851.6 186.8h.9M851.8 182.4h.9M858.6 175.2h.9M854.6 179.8h.9M850.8 180.9h.9M849.8 182.9h.9M854.4 176.6h.9M853.0 184.9h.9M861.4 175.3h.9M864.8 174.3h.9M859.2 183.2h.9M860.6 177.0h.9M856.2 176.4h.9M865.3 178.9h.9M851.0 185.9h.9M848.9 182.6h.9M853.6 180.3h.9M850.9 180.7h.9M861.0 178.5h.9M846.0 183.9h.9M862.2 177.0h.9M862.4 176.8h.9M859.4 180.1h.9M855.6 183.8h.9M848.8 182.7h.9M849.3 185.3h.9M859.8 181.1h.9M859.7 179.1h.9M860.5 183.8h.9M863.7 175.1h.9M855.5 179.2h.9M861.6 177.9h.9M851.1 181.9h.9M860.1 176.1h.9M849.8 183.0h.9M863.5 177.8h.9M860.7 174.4h.9M859.6 181.6h.9M855.8 179.8h.9M857.6 176.8h.9M856.2 176.3h.9M856.8 177.1h.9M860.4 176.1h.9M860.1 182.0h.9M846.1 183.7h.9M855.4 176.6h.9M859.3 179.2h.9M853.0 180.3h.9M859.1 181.4h.9M864.0 177.4h.9M864.2 175.2h.9M862.3 178.9h.9M854.2 178.4h.9M865.0 174.7h.9M854.2 179.8h.9M851.1 186.7h.9M859.9 182.7h.9M863.2 179.4h.9M854.3 182.5h.9M860.4 181.9h.9M860.9 183.1h.9M853.2 186.9h.9M856.1 183.5h.9M858.5 180.3h.9M861.0 177.3h.9M860.1 180.0h.9M846.7 183.8h.9M849.1 183.1h.9M857.8 182.1h.9M861.1 177.3h.9M855.5 178.5h.9M860.2 175.5h.9M849.6 181.7h.9M858.7 182.1h.9M849.3 184.6h.9M855.0 181.7h.9M860.3 175.0h.9M858.0 176.2h.9M860.8 177.2h.9M859.4 183.1h.9M859.0 179.5h.9M849.1 182.6h.9M854.1 181.7h.9M849.6 182.8h.9M860.0 175.2h.9M860.5 181.4h.9M863.1 178.2h.9M857.2 179.1h.9M859.2 183.4h.9M861.3 176.8h.9M860.7 177.4h.9M851.9 184.6h.9M847.0 183.1h.9M852.3 184.5h.9M852.5 186.2h.9M856.7 182.4h.9M857.4 183.2h.9M857.5 183.0h.9M862.6 174.0h.9M849.9 183.0h.9M860.6 181.9h.9M853.7 185.0h.9M860.0 181.8h.9M865.7 179.6h.9M853.2 177.5h.9M855.6 179.8h.9M860.2 180.4h.9M852.3 178.3h.9M849.5 181.6h.9M863.7 175.7h.9M859.0 175.5h.9M852.9 182.6h.9M860.1 180.7h.9M854.3 177.0h.9M862.9 175.4h.9M853.3 177.4h.9M853.1 184.6h.9M854.1 177.9h.9M855.8 179.5h.9M863.7 176.1h.9M861.9 178.4h.9M854.1 182.9h.9M863.5 174.8h.9M849.7 183.2h.9M859.6 176.6h.9M852.5 178.2h.9M864.1 175.0h.9M850.1 183.2h.9M858.3 180.3h.9M848.5 181.7h.9M859.1 174.7h.9M853.7 181.4h.9M860.0 182.9h.9M858.8 181.4h.9M854.7 184.4h.9M857.4 180.1h.9M863.7 179.1h.9M856.1 177.3h.9M863.4 178.7h.9M860.9 178.0h.9M861.6 182.5h.9M855.8 178.5h.9M860.9 175.5h.9M852.8 180.0h.9M851.9 186.6h.9M854.0 182.9h.9M857.0 180.7h.9M858.3 182.3h.9M860.5 181.6h.9M862.8 176.6h.9M857.0 181.7h.9M853.7 183.3h.9M860.5 177.4h.9M856.8 178.1h.9M854.6 178.0h.9M857.3 177.0h.9M852.3 184.7h.9M851.4 181.0h.9M852.7 183.9h.9M851.6 182.2h.9M854.9 183.1h.9M864.6 179.9h.9M857.0 181.6h.9M851.0 179.6h.9M859.4 180.7h.9M861.1 178.9h.9M865.9 176.9h.9M851.2 184.7h.9M858.5 183.1h.9M852.4 181.5h.9M854.4 182.4h.9M856.3 178.8h.9M851.9 185.9h.9M861.4 180.2h.9M849.7 185.9h.9M855.1 183.5h.9M854.3 178.7h.9M860.6 174.2h.9M854.3 178.5h.9M850.6 184.9h.9M858.7 182.4h.9M850.6 180.6h.9M852.7 184.4h.9M855.1 180.0h.9M849.1 182.1h.9M862.0 183.0h.9M859.0 184.4h.9M856.7 179.2h.9M861.8 177.4h.9M865.4 175.8h.9M863.9 177.2h.9M859.0 183.7h.9M862.7 174.5h.9M857.7 179.9h.9M851.8 187.0h.9M850.5 183.5h.9M851.6 185.8h.9M853.9 183.9h.9M860.4 182.8h.9M849.2 185.3h.9M861.3 180.3h.9M852.2 182.1h.9M864.0 175.3h.9M859.2 175.4h.9M860.2 183.1h.9M859.4 174.8h.9M864.4 175.2h.9M852.4 186.9h.9M858.3 183.5h.9M853.1 182.2h.9M865.4 175.5h.9M855.2 181.4h.9M863.7 175.7h.9M865.7 176.0h.9M848.7 183.1h.9M849.3 183.3h.9M864.7 175.5h.9M849.6 182.5h.9M861.4 174.0h.9M863.1 175.9h.9M849.8 184.5h.9M853.9 178.1h.9M864.8 178.0h.9M853.1 181.8h.9M865.7 177.1h.9M857.1 176.7h.9M855.0 182.9h.9M863.0 177.3h.9M857.6 181.2h.9M854.3 183.9h.9M859.4 184.4h.9M863.6 176.9h.9M855.0 178.3h.9M856.9 177.5h.9M860.4 175.2h.9M863.5 179.0h.9M865.8 179.5h.9M852.5 178.5h.9M852.5 186.8h.9M860.1 176.4h.9M855.2 184.6h.9M860.7 177.3h.9M860.4 176.7h.9M864.5 178.2h.9M866.0 176.3h.9M848.7 183.7h.9M851.3 186.5h.9M854.3 184.6h.9M861.5 183.1h.9M850.9 183.0h.9M854.5 183.4h.9M851.0 185.6h.9M865.3 177.6h.9M854.8 182.3h.9M864.0 174.3h.9M854.3 182.1h.9M859.9 183.6h.9M854.7 177.9h.9M855.0 181.4h.9M853.3 179.5h.9M857.7 179.9h.9M859.4 182.3h.9M858.3 181.2h.9M857.1 179.0h.9M864.1 174.4h.9M861.7 181.2h.9M865.2 179.4h.9M856.7 181.1h.9M854.5 184.5h.9M854.7 181.8h.9M865.5 177.2h.9M849.0 180.1h.9M849.7 182.0h.9M858.9 179.9h.9M850.1 185.7h.9M858.4 182.9h.9M850.6 180.5h.9M863.1 179.0h.9M849.7 181.8h.9M847.2 182.1h.9M865.0 177.5h.9M863.3 178.9h.9M864.9 176.6h.9M860.0 179.5h.9M861.7 179.1h.9M854.7 181.2h.9M860.2 175.8h.9M857.9 183.7h.9M851.4 185.0h.9M864.3 175.9h.9M864.2 177.1h.9M861.3 182.7h.9M856.5 183.9h.9M862.9 175.7h.9M855.1 176.6h.9M851.5 182.2h.9M851.5 186.6h.9M852.6 178.2h.9M849.7 184.2h.9M852.7 178.3h.9M854.5 176.3h.9M863.7 175.0h.9M865.3 177.8h.9M863.2 175.7h.9M851.1 182.4h.9M862.9 176.2h.9M856.3 176.7h.9M856.8 180.1h.9M864.9 179.4h.9M851.0 181.4h.9M862.4 174.2h.9M860.9 182.2h.9" stroke="#45cdf3" stroke-width="1.15" stroke-opacity="1" fill="none"/>
<path d="M800.9 196.5h.9M801.1 193.8h.9M801.2 194.8h.9M802.7 192.2h.9M801.2 195.8h.9M803.9 190.9h.9M800.4 196.7h.9M803.8 190.4h.9M801.9 194.0h.9M801.6 195.1h.9M803.5 189.9h.9M800.0 196.2h.9M801.0 194.6h.9M803.7 189.2h.9M803.0 190.8h.9M801.1 195.5h.9M800.2 195.8h.9M801.5 194.8h.9M801.6 194.3h.9M803.5 189.5h.9M802.0 193.7h.9M801.6 194.6h.9M803.6 189.9h.9M801.7 193.9h.9M801.2 194.6h.9M800.4 196.3h.9M800.9 194.0h.9M803.6 189.6h.9M803.6 189.1h.9M802.1 193.4h.9M800.3 194.8h.9M803.5 189.2h.9M802.6 192.9h.9M803.1 190.0h.9M802.9 192.0h.9M800.6 196.9h.9M803.2 189.7h.9M801.9 195.6h.9M802.2 193.3h.9M801.1 194.1h.9M802.0 193.5h.9M802.9 192.1h.9M802.0 193.9h.9M803.3 189.2h.9M801.0 195.4h.9M800.4 195.0h.9M801.0 193.7h.9M800.8 194.3h.9M800.6 195.8h.9M800.2 196.9h.9M800.1 195.5h.9M803.9 189.8h.9M803.7 189.7h.9M800.8 195.1h.9M800.4 195.3h.9M801.8 194.7h.9M802.6 193.6h.9M801.1 194.6h.9M801.7 193.9h.9M801.5 195.2h.9M801.5 194.9h.9M802.1 192.7h.9M800.4 196.3h.9M800.9 196.3h.9M801.4 195.7h.9M803.7 190.1h.9M802.1 193.0h.9M802.1 193.5h.9M801.4 194.0h.9M803.0 190.9h.9M801.9 193.5h.9M801.3 194.1h.9M800.7 194.8h.9M802.8 193.4h.9M803.6 189.8h.9M803.1 189.7h.9M800.4 194.4h.9M800.3 195.7h.9M800.5 196.5h.9M803.4 190.6h.9M802.1 193.8h.9M800.2 196.1h.9M800.1 196.7h.9M801.8 194.6h.9M801.2 195.5h.9M801.9 194.5h.9M802.5 193.2h.9M802.4 193.7h.9M802.9 193.6h.9M800.0 196.8h.9M802.0 193.6h.9M801.1 195.1h.9M803.9 190.9h.9M802.4 193.9h.9M801.9 194.5h.9M800.7 196.9h.9M803.8 190.6h.9M802.3 193.8h.9M803.4 189.0h.9M801.3 193.4h.9M800.6 196.0h.9M801.7 195.0h.9M802.3 193.7h.9M800.3 194.7h.9M802.5 192.2h.9M801.8 193.2h.9M804.0 189.2h.9M800.4 196.2h.9M800.1 194.5h.9M802.2 193.7h.9M802.4 192.4h.9M801.2 193.4h.9M801.1 194.1h.9M802.9 192.6h.9M803.5 189.5h.9M800.1 195.7h.9M803.8 190.8h.9M801.0 195.1h.9M800.4 196.6h.9M801.5 193.5h.9M801.6 193.0h.9M803.7 189.7h.9M801.7 193.6h.9M800.3 196.4h.9M803.1 190.6h.9M801.6 193.0h.9M800.8 194.9h.9M803.8 189.5h.9M802.3 192.7h.9M800.2 196.2h.9M800.0 195.0h.9M802.3 193.0h.9M802.1 193.9h.9M801.4 193.1h.9M803.9 190.0h.9M800.8 195.7h.9M859.1 178.7h.9M857.9 178.6h.9M858.2 178.8h.9M859.6 178.8h.9M858.5 178.5h.9M858.4 178.4h.9M858.4 178.5h.9M859.6 178.4h.9M857.4 178.5h.9M859.0 178.5h.9M859.2 177.9h.9M857.7 178.5h.9M858.8 178.0h.9M858.1 178.7h.9M858.7 178.7h.9M858.5 178.4h.9M858.5 177.1h.9M859.8 177.6h.9M858.4 177.1h.9M857.0 178.2h.9M858.0 178.5h.9M859.9 177.3h.9M859.3 177.9h.9M858.1 178.9h.9M858.8 177.8h.9M857.0 178.9h.9M858.9 178.0h.9M857.2 178.4h.9M858.4 178.9h.9M859.8 177.5h.9M859.5 178.4h.9M859.6 178.9h.9M858.4 177.1h.9M859.2 177.9h.9M857.2 178.3h.9M858.0 178.1h.9M858.8 178.0h.9M858.2 178.9h.9M859.0 177.1h.9M858.4 177.8h.9M859.8 177.8h.9M859.6 177.7h.9M858.9 178.3h.9M859.1 178.9h.9M859.2 178.4h.9M858.4 177.0h.9M858.3 177.7h.9M859.6 177.9h.9M857.7 179.0h.9M858.9 177.3h.9M858.2 178.9h.9M858.1 178.9h.9M860.0 177.3h.9" stroke="#62ee9a" stroke-width="1.15" stroke-opacity="1" fill="none"/>
<ellipse cx="859.4" cy="178.5" rx="27.3" ry="12.6" transform="rotate(-25 859.4 178.5)" fill="none" stroke="#1f2233" stroke-width="1.5"/>
<path d="M791 44.6H796M791 75.5H796M791 106.7H796M791 137.6H796M791 169.2H796M793.5 200.4H796M793.5 194.2H796M793.5 187.9H796M793.5 181.7H796M793.5 175.5H796M793.5 169.2H796M793.5 163.0H796M793.5 156.8H796M793.5 150.5H796M793.5 144.3H796M793.5 138.1H796M793.5 131.8H796M793.5 125.6H796M793.5 119.4H796M793.5 113.2H796M793.5 106.9H796M793.5 100.7H796M793.5 94.5H796M793.5 88.2H796M793.5 82.0H796M793.5 75.8H796M793.5 69.5H796M793.5 63.3H796M793.5 57.1H796M793.5 50.8H796M793.5 44.6H796M793.5 38.4H796M793.5 32.1H796M826.4 200.7V205.5M857.6 200.7V205.5M888.5 200.7V205.5M920 200.7V205.5M950.8 200.7V205.5M796.0 200.7V203.2M802.2 200.7V203.2M808.4 200.7V203.2M814.6 200.7V203.2M820.8 200.7V203.2M827.0 200.7V203.2M833.2 200.7V203.2M839.3 200.7V203.2M845.5 200.7V203.2M851.7 200.7V203.2M857.9 200.7V203.2M864.1 200.7V203.2M870.3 200.7V203.2M876.5 200.7V203.2M882.7 200.7V203.2M888.9 200.7V203.2M895.1 200.7V203.2M901.3 200.7V203.2M907.5 200.7V203.2M913.6 200.7V203.2M919.8 200.7V203.2M926.0 200.7V203.2M932.2 200.7V203.2M938.4 200.7V203.2M944.6 200.7V203.2M950.8 200.7V203.2M957.0 200.7V203.2M963.2 200.7V203.2" stroke="#444" stroke-width="1" fill="none"/>
<text x="786" y="46.4" font-size="5.8" fill="#666" text-anchor="end">2.5M</text>
<text x="786" y="77.3" font-size="5.8" fill="#666" text-anchor="end">2.0M</text>
<text x="786" y="108.5" font-size="5.8" fill="#666" text-anchor="end">1.5M</text>
<text x="786" y="139.4" font-size="5.8" fill="#666" text-anchor="end">1.0M</text>
<text x="786" y="171.0" font-size="5.8" fill="#666" text-anchor="end">500K</text>
<text x="826.4" y="212.5" font-size="5.8" fill="#666" text-anchor="middle">500K</text>
<text x="857.6" y="212.5" font-size="5.8" fill="#666" text-anchor="middle">1.0M</text>
<text x="888.5" y="212.5" font-size="5.8" fill="#666" text-anchor="middle">1.5M</text>
<text x="920" y="212.5" font-size="5.8" fill="#666" text-anchor="middle">2.0M</text>
<text x="950.8" y="212.5" font-size="5.8" fill="#666" text-anchor="middle">2.5M</text>
<text transform="translate(769.5 123.5) rotate(-90)" font-size="12.5" fill="#333" textLength="23" lengthAdjust="spacingAndGlyphs">SSC</text>
<text x="871.6" y="226.2" font-size="12.5" fill="#333" textLength="23" lengthAdjust="spacingAndGlyphs">FSC</text>
<text x="886.4" y="180.2" font-size="14" fill="#222" textLength="40.2" lengthAdjust="spacingAndGlyphs">THP-1</text>
<text x="892.1" y="194.5" font-size="14" fill="#222" textLength="28.8" lengthAdjust="spacingAndGlyphs">cells</text>
<rect x="1001.7" y="29.6" width="171.0" height="170.1" fill="#fff" stroke="#c4c4c4" stroke-width="1"/>
<path d="M1002.5 199.2L1002.5 197.3L1003.2 198.9L1003.9 197.9L1004.6 199.0L1005.3 198.8L1006.0 196.6L1006.7 197.7L1007.4 198.3L1008.1 197.7L1008.8 198.0L1009.5 196.8L1010.2 196.8L1010.9 197.5L1011.6 196.9L1012.3 193.9L1013.0 194.5L1013.7 192.9L1014.4 193.4L1015.1 191.5L1015.8 190.9L1016.5 190.2L1017.2 188.5L1017.9 186.4L1018.6 183.2L1019.3 180.5L1020.0 176.6L1020.7 171.4L1021.4 165.8L1022.1 159.3L1022.8 151.4L1023.5 141.6L1024.2 131.5L1024.9 119.7L1025.6 105.8L1026.3 88.2L1027.0 71.9L1027.7 57.1L1028.4 47.9L1029.1 45.1L1029.8 46.7L1030.5 44.3L1031.2 39.6L1031.9 41.5L1032.6 54.8L1033.3 66.8L1034.0 76.8L1034.7 86.4L1035.4 97.0L1036.1 108.1L1036.8 119.4L1037.5 130.2L1038.2 140.1L1038.9 149.6L1039.6 156.0L1040.3 164.5L1041.0 170.8L1041.7 174.6L1042.4 178.9L1043.1 183.1L1043.8 186.5L1044.5 188.8L1045.2 189.3L1045.9 190.7L1046.6 192.7L1047.3 193.1L1048.0 194.3L1048.7 193.5L1049.4 195.5L1050.1 196.1L1050.8 195.9L1051.5 195.1L1052.2 196.4L1052.9 196.3L1053.6 196.2L1054.3 196.1L1055.0 197.0L1055.7 195.2L1056.4 196.8L1057.1 196.4L1057.8 196.3L1058.5 196.2L1059.2 196.5L1059.9 194.9L1060.6 197.3L1061.3 194.8L1062.0 195.1L1062.7 193.2L1063.4 190.0L1064.1 186.4L1064.8 181.3L1065.5 178.5L1066.2 179.8L1066.9 184.3L1067.6 179.9L1068.3 184.0L1069.0 184.9L1069.7 186.7L1070.4 187.9L1071.1 189.5L1071.8 189.4L1072.5 190.9L1073.2 190.7L1073.9 191.3L1074.6 191.7L1075.3 189.8L1076.0 191.1L1076.7 190.2L1077.4 190.2L1078.1 192.4L1078.8 193.7L1079.5 193.0L1080.2 193.6L1080.9 191.8L1081.6 193.8L1082.3 189.5L1083.0 193.9L1083.7 193.6L1084.4 191.6L1085.1 194.5L1085.8 190.6L1086.5 194.3L1087.2 193.1L1087.9 194.1L1088.6 194.0L1089.3 194.1L1090.0 192.5L1090.7 196.1L1091.4 195.5L1092.1 195.1L1092.8 195.9L1093.5 195.8L1094.2 194.0L1094.9 195.8L1095.6 195.1L1096.3 194.8L1097.0 195.6L1097.7 195.7L1098.4 194.9L1099.1 195.8L1099.8 195.6L1100.5 199.2L1101.2 199.2L1101.9 199.2L1102.6 199.2L1103.3 199.2L1104.0 199.2L1104.7 199.2L1105.4 199.2L1106.1 199.2L1106.8 199.2L1107.5 199.2L1108.2 199.2L1108.9 199.2L1109.6 199.2L1110.3 199.2L1111.0 199.2L1111.7 199.2L1112.4 199.2L1113.1 199.2L1113.8 199.2L1114.5 199.2L1115.2 199.2L1115.9 199.2L1116.6 199.2L1117.3 199.2L1118.0 199.2L1118.7 199.2L1119.4 199.2L1120.1 199.2L1120.8 199.2L1121.5 199.2L1122.2 199.2L1122.9 199.2L1123.6 199.2L1124.3 199.2L1125.0 199.2L1125.7 199.2L1126.4 199.2L1127.1 199.2L1127.8 199.2L1128.5 199.2L1129.2 199.2L1129.9 199.2L1130.6 199.2L1131.3 199.2L1132.0 199.2L1132.7 199.2L1133.4 199.2L1134.1 199.2L1134.8 199.2L1135.5 199.2L1136.2 199.2L1136.9 199.2L1137.6 199.2L1138.3 199.2L1139.0 199.2L1139.7 199.2L1140.4 199.2L1141.1 199.2L1141.8 199.2L1142.5 199.2L1143.2 199.2L1143.9 199.2L1144.6 199.2L1145.3 199.2L1146.0 199.2L1146.7 199.2L1147.4 199.2L1148.1 199.2L1148.8 199.2L1149.5 199.2L1150.2 199.2L1150.9 199.2L1151.6 199.2L1152.3 199.2L1153.0 199.2L1153.7 199.2L1154.4 199.2L1155.1 199.2L1155.8 199.2L1156.5 199.2L1157.2 199.2L1157.9 199.2L1158.6 199.2L1159.3 199.2L1160.0 199.2L1160.7 199.2L1161.4 199.2L1162.1 199.2L1162.8 199.2L1163.5 199.2L1164.2 199.2L1164.9 199.2L1165.6 199.2L1166.3 199.2L1167.0 199.2L1167.7 199.2L1168.4 199.2L1169.1 199.2L1169.8 199.2L1170.5 199.2L1170.5 199.2Z" fill="#9a9a9a" stroke="#111" stroke-width="1.1" stroke-linejoin="round"/>
<path d="M996.5 46.4H1001.7M996.5 84.7H1001.7M996.5 123H1001.7M996.5 161.4H1001.7M996.5 198.1H1001.7M999 198.1H1001.7M999 188.6H1001.7M999 179.1H1001.7M999 169.7H1001.7M999 160.2H1001.7M999 150.7H1001.7M999 141.2H1001.7M999 131.7H1001.7M999 122.2H1001.7M999 112.8H1001.7M999 103.3H1001.7M999 93.8H1001.7M999 84.3H1001.7M999 74.8H1001.7M999 65.4H1001.7M999 55.9H1001.7M999 46.4H1001.7M999 36.9H1001.7M1010.5 199.7V204.5M1037.7 199.7V204.5M1069.6 199.7V204.5M1102.4 199.7V204.5M1135.1 199.7V204.5M1164.7 199.7V204.5" stroke="#444" stroke-width="1" fill="none"/>
<text x="995" y="48.2" font-size="5.8" fill="#666" text-anchor="end">400</text>
<text x="995" y="86.5" font-size="5.8" fill="#666" text-anchor="end">300</text>
<text x="995" y="124.8" font-size="5.8" fill="#666" text-anchor="end">200</text>
<text x="995" y="163.2" font-size="5.8" fill="#666" text-anchor="end">100</text>
<text x="995" y="199.9" font-size="5.8" fill="#666" text-anchor="end">0</text>
<text x="1010.5" y="213" font-size="5.8" fill="#666" text-anchor="middle">10<tspan dy="-3" font-size="4.5">2</tspan></text>
<text x="1037.7" y="213" font-size="5.8" fill="#666" text-anchor="middle">10<tspan dy="-3" font-size="4.5">3</tspan></text>
<text x="1069.6" y="213" font-size="5.8" fill="#666" text-anchor="middle">10<tspan dy="-3" font-size="4.5">4</tspan></text>
<text x="1102.4" y="213" font-size="5.8" fill="#666" text-anchor="middle">10<tspan dy="-3" font-size="4.5">5</tspan></text>
<text x="1135.1" y="213" font-size="5.8" fill="#666" text-anchor="middle">10<tspan dy="-3" font-size="4.5">6</tspan></text>
<text x="1164.7" y="213" font-size="5.8" fill="#666" text-anchor="middle">10<tspan dy="-3" font-size="4.5">7</tspan></text>
<text transform="translate(984.2 124.6) rotate(-90)" font-size="12.5" fill="#333" textLength="31.9" lengthAdjust="spacingAndGlyphs">Count</text>
<text x="1076" y="225.3" font-size="12.5" fill="#333" textLength="24" lengthAdjust="spacingAndGlyphs">APC</text>
<text x="1058.5" y="93.8" font-size="14" fill="#222" textLength="104.6" lengthAdjust="spacingAndGlyphs">Cells associated</text>
<text x="1079.2" y="107.5" font-size="14" fill="#222" textLength="67.9" lengthAdjust="spacingAndGlyphs">with beads</text>
<path d="M1052.9 112.3H1170.3M1052.9 108.5V116.1M1170.3 108.5V116.1" stroke="#444" stroke-width="1.3" fill="none"/>
<text x="1104" y="126.2" font-size="7" fill="#555" textLength="21.5" lengthAdjust="spacingAndGlyphs">12.9 %</text>
<rect x="702.3" y="728" width="164.0" height="164.9" fill="#fff" stroke="#c4c4c4" stroke-width="1"/>
<path d="M705.3 802.7h.9M744.9 796.1h.9M742.0 803.7h.9M738.7 802.0h.9M720.0 795.4h.9M740.5 792.1h.9M734.2 792.0h.9M740.9 793.7h.9M725.3 808.4h.9M712.8 818.5h.9M711.3 817.8h.9M712.2 825.5h.9M710.7 819.1h.9M712.7 818.0h.9M709.4 815.3h.9M707.5 818.4h.9M712.1 816.8h.9M707.9 821.1h.9M743.5 839.0h.9M721.2 859.1h.9M743.3 849.5h.9M718.5 826.6h.9M732.6 832.3h.9M725.2 829.9h.9M740.9 831.7h.9M726.6 821.3h.9M736.5 856.6h.9M735.1 846.4h.9M737.9 833.6h.9M740.0 844.8h.9M718.3 842.9h.9M737.4 832.3h.9M718.7 854.9h.9M736.5 840.4h.9M747.9 839.6h.9M731.8 847.7h.9M742.7 851.7h.9M722.9 845.4h.9M736.4 843.8h.9M720.0 834.9h.9M725.5 855.8h.9M716.4 818.1h.9M747.1 821.8h.9M729.2 854.2h.9M717.7 858.1h.9M735.7 838.8h.9M742.3 844.8h.9M735.6 825.6h.9M732.0 825.1h.9M738.0 848.3h.9M725.3 831.6h.9M738.3 832.4h.9M723.3 830.8h.9M739.6 858.8h.9M714.3 841.4h.9M723.5 821.8h.9M718.4 859.6h.9M737.8 861.5h.9M729.4 860.8h.9M712.1 823.1h.9M736.1 820.6h.9M723.0 824.9h.9M730.3 824.6h.9M729.6 836.1h.9M746.7 831.2h.9M741.0 854.9h.9M730.3 825.3h.9M729.0 838.3h.9M722.9 849.1h.9M735.5 831.6h.9M722.8 847.9h.9M805.8 808.3h.9M767.0 831.2h.9M798.3 813.4h.9M774.3 816.7h.9M784.8 819.1h.9M793.8 803.6h.9M790.1 804.8h.9M762.3 822.3h.9M791.0 805.0h.9M767.4 797.9h.9M802.3 780.4h.9M791.5 800.5h.9M763.8 799.2h.9M831.3 778.8h.9M764.4 810.9h.9M811.9 781.7h.9M770.9 791.9h.9M808.9 782.0h.9M805.2 782.6h.9M756.9 802.4h.9M776.1 794.9h.9M834.8 778.7h.9M776.4 805.1h.9M822.3 779.1h.9M806.2 783.0h.9M769.8 796.6h.9M780.9 791.8h.9M781.4 808.6h.9M801.4 783.1h.9M795.0 796.5h.9M778.5 807.0h.9M797.9 797.7h.9M825.6 776.7h.9M830.1 786.2h.9M756.5 810.7h.9M802.4 796.2h.9M832.4 780.2h.9M754.9 804.5h.9M827.3 794.2h.9M786.7 787.7h.9M797.8 785.4h.9M833.2 786.1h.9M803.6 794.5h.9M830.3 792.6h.9M815.1 781.7h.9M809.1 783.9h.9M805.6 784.5h.9M758.3 809.4h.9M825.8 777.6h.9M811.8 782.4h.9M783.0 790.2h.9M834.5 788.3h.9M779.8 803.3h.9M827.4 794.3h.9M833.5 784.2h.9M755.7 809.1h.9M828.3 776.1h.9M835.5 783.0h.9M806.3 796.5h.9M817.6 780.1h.9M775.0 793.2h.9M753.1 804.7h.9M801.1 798.9h.9M777.8 826.8h.9M796.2 833.4h.9M795.3 830.3h.9M794.5 820.1h.9M775.2 792.2h.9M817.3 793.7h.9M787.1 818.1h.9M810.6 800.9h.9M831.0 830.6h.9M770.8 787.9h.9M794.3 821.5h.9M820.6 835.1h.9M768.2 809.6h.9M787.4 832.1h.9M829.8 815.2h.9M789.8 817.1h.9M812.6 834.7h.9M829.5 820.9h.9M765.0 807.9h.9M824.0 834.2h.9M827.7 820.1h.9M773.1 815.4h.9M825.3 827.2h.9M834.2 830.5h.9M800.9 831.5h.9M832.9 803.0h.9M814.7 822.9h.9M820.1 815.9h.9M778.4 791.9h.9M823.9 797.4h.9M808.0 838.2h.9M748.8 847.1h.9M754.5 816.6h.9M752.3 819.8h.9M750.5 800.3h.9M756.4 850.1h.9M752.0 850.9h.9M757.3 816.7h.9M748.3 814.2h.9M752.4 840.7h.9M754.7 807.2h.9M755.8 852.4h.9M747.3 806.6h.9M752.5 813.1h.9M754.0 809.3h.9M758.4 812.4h.9" stroke="#7c80dc" stroke-width="1.15" stroke-opacity="0.7" fill="none"/>
<path d="M736.2 795.6h.9M738.6 795.9h.9M730.5 804.7h.9M703.3 805.9h.9M711.3 810.2h.9M736.8 797.8h.9M733.6 794.0h.9M720.8 808.9h.9M703.8 808.8h.9M735.7 795.4h.9M738.2 794.0h.9M736.9 798.0h.9M726.8 796.9h.9M708.3 803.7h.9M738.5 800.1h.9M725.7 795.9h.9M711.2 802.7h.9M730.2 805.0h.9M738.2 799.5h.9M743.0 795.1h.9M718.6 810.1h.9M725.5 795.4h.9M735.7 802.2h.9M738.2 797.4h.9M741.0 799.7h.9M739.5 798.4h.9M704.1 808.3h.9M736.2 794.4h.9M739.8 797.1h.9M732.0 803.3h.9M736.6 801.7h.9M719.4 798.7h.9M743.6 797.5h.9M705.6 803.9h.9M735.5 802.6h.9M729.4 805.3h.9M713.9 812.5h.9M741.3 797.9h.9M742.9 797.5h.9M740.6 798.6h.9M704.4 804.3h.9M737.0 793.1h.9M705.6 812.4h.9M741.7 797.4h.9M738.2 797.5h.9M706.5 813.2h.9M719.5 809.8h.9M704.8 804.6h.9M721.7 798.2h.9M737.0 801.9h.9M727.6 796.3h.9M734.5 803.5h.9M726.5 794.9h.9M736.6 794.5h.9M714.8 810.7h.9M716.7 800.7h.9M742.7 796.3h.9M742.3 797.0h.9M734.8 802.4h.9M720.9 808.0h.9M742.0 798.8h.9M737.7 797.6h.9M741.0 794.2h.9M737.3 794.5h.9M732.8 803.2h.9M703.2 808.3h.9M728.7 805.6h.9M709.5 811.6h.9M713.6 848.2h.9M712.9 849.0h.9M703.2 863.6h.9M713.6 843.9h.9M713.5 853.6h.9M713.5 853.9h.9M714.0 850.5h.9M704.8 864.4h.9M713.6 864.2h.9M713.5 843.9h.9M713.8 852.0h.9M714.0 845.3h.9M713.9 850.4h.9M709.0 812.7h.9M712.6 835.4h.9M710.9 829.1h.9M703.6 819.4h.9M708.2 814.6h.9M704.1 840.8h.9M712.7 832.5h.9M711.5 838.2h.9M705.1 817.4h.9M710.4 841.7h.9M704.8 813.8h.9M708.5 828.1h.9M706.0 812.9h.9M704.2 812.1h.9M703.3 818.5h.9M712.7 839.5h.9M709.7 828.1h.9M703.0 838.0h.9M705.6 825.7h.9M708.5 836.1h.9M712.1 836.6h.9M711.8 835.5h.9M710.2 827.2h.9M703.7 836.6h.9M710.0 813.9h.9M708.5 836.8h.9M712.0 831.7h.9M705.3 814.2h.9M706.7 836.0h.9M704.6 818.0h.9M706.7 825.4h.9M708.0 840.9h.9M712.2 828.4h.9M704.8 814.0h.9M704.5 819.5h.9M711.5 837.2h.9M708.1 827.5h.9M711.4 841.1h.9M709.2 831.2h.9M704.0 819.4h.9M711.4 833.2h.9M705.3 835.0h.9M703.5 813.5h.9M707.2 839.6h.9M703.8 817.5h.9M704.6 824.5h.9M712.6 828.1h.9M703.9 835.9h.9M711.5 841.9h.9M703.8 834.8h.9M711.1 831.3h.9M702.8 813.4h.9M712.4 812.5h.9M707.1 828.8h.9M704.0 821.9h.9M702.9 827.5h.9M704.7 812.1h.9M705.8 835.8h.9M705.1 838.8h.9M702.8 832.6h.9M702.9 815.8h.9M709.9 838.8h.9M709.5 827.6h.9M712.7 828.4h.9M706.2 835.0h.9M712.2 841.4h.9M706.4 826.1h.9M704.5 820.7h.9M702.8 817.0h.9M708.2 824.5h.9M703.0 819.3h.9M708.6 812.1h.9M705.2 826.7h.9M705.2 825.0h.9M702.8 834.8h.9M705.1 814.6h.9M708.4 837.2h.9M710.3 832.0h.9M711.6 828.3h.9M704.6 821.9h.9M703.1 826.6h.9M706.7 827.9h.9M711.2 837.3h.9M704.6 816.8h.9M703.0 813.3h.9M703.9 834.9h.9M713.5 847.5h.9M710.6 831.8h.9M711.5 826.8h.9M713.5 812.8h.9M710.1 832.8h.9M713.2 829.8h.9M703.3 833.7h.9M703.3 838.5h.9M703.3 835.2h.9M703.3 839.7h.9M703.3 840.0h.9M703.3 838.7h.9M703.3 838.3h.9M703.3 839.5h.9M782.3 816.8h.9M768.7 821.5h.9M793.2 809.1h.9M765.6 828.8h.9M780.4 820.7h.9M787.9 816.5h.9M767.7 828.9h.9M791.4 814.5h.9M757.8 828.7h.9M789.8 808.9h.9M779.9 814.4h.9M782.7 817.1h.9M803.0 806.4h.9M795.7 805.3h.9M786.7 810.8h.9M803.0 805.5h.9M784.3 813.0h.9M797.9 810.5h.9M801.2 804.7h.9M781.9 817.7h.9M783.2 813.3h.9M772.6 824.2h.9M783.0 817.9h.9M790.3 809.8h.9M759.0 830.0h.9M776.3 822.2h.9M763.4 830.5h.9M758.9 828.5h.9M760.8 830.5h.9M794.6 813.7h.9M781.0 814.0h.9M779.5 817.3h.9M782.4 815.9h.9M766.4 822.2h.9M764.8 824.2h.9M796.5 810.9h.9M793.8 811.3h.9M779.8 817.7h.9M782.8 813.6h.9M802.9 803.9h.9M775.7 818.8h.9M777.3 818.4h.9M778.3 821.4h.9M792.5 810.8h.9M789.4 814.7h.9M793.3 805.6h.9M790.6 808.2h.9M771.0 820.9h.9M793.1 807.6h.9M785.2 811.8h.9M800.3 804.9h.9M758.4 828.8h.9M759.8 826.0h.9M783.4 818.8h.9M783.3 812.1h.9M778.4 816.8h.9M769.4 820.0h.9M787.5 810.7h.9M797.8 810.2h.9M769.5 827.5h.9M792.6 811.4h.9M787.3 810.5h.9M804.0 803.6h.9M772.0 820.5h.9M794.7 810.8h.9M775.7 822.6h.9M763.2 830.0h.9M760.3 826.2h.9M780.1 814.5h.9M802.9 803.4h.9M780.8 813.6h.9M778.1 818.1h.9M791.3 809.7h.9M767.5 828.2h.9M773.4 823.7h.9M780.5 813.9h.9M783.5 816.4h.9M758.8 830.7h.9M791.2 809.6h.9M793.5 813.7h.9M795.3 805.9h.9M796.2 811.7h.9M772.9 825.5h.9M804.9 804.3h.9M794.0 812.2h.9M791.6 810.0h.9M794.4 806.6h.9M782.9 817.2h.9M779.3 816.8h.9M780.7 819.7h.9M800.4 810.9h.9M760.6 831.2h.9M766.2 822.2h.9M801.3 804.2h.9M802.2 805.0h.9M803.7 804.7h.9M800.9 803.5h.9M800.8 809.5h.9M788.9 792.9h.9M759.5 805.4h.9M810.9 789.2h.9M801.0 788.3h.9M825.2 780.3h.9M788.4 792.8h.9M792.4 792.9h.9M760.0 804.7h.9M768.0 806.4h.9M774.6 799.6h.9M803.0 792.4h.9M756.7 806.6h.9M781.1 794.1h.9M822.3 787.4h.9M823.6 783.3h.9M789.1 795.4h.9M780.3 800.3h.9M825.8 781.5h.9M827.9 778.8h.9M810.4 785.7h.9M797.2 790.1h.9M816.8 782.6h.9M766.9 801.6h.9M773.6 798.3h.9M784.0 801.6h.9M812.0 790.7h.9M812.2 790.6h.9M825.5 786.3h.9M824.1 784.2h.9M822.1 786.5h.9M802.0 791.1h.9M783.0 798.7h.9M773.9 805.1h.9M830.9 782.5h.9M816.1 789.1h.9M823.8 780.2h.9M820.5 789.0h.9M775.2 799.5h.9M803.7 788.1h.9M820.8 784.1h.9M824.1 784.8h.9M786.6 793.6h.9M790.6 791.7h.9M757.3 806.3h.9M811.9 789.0h.9M812.6 785.2h.9M770.1 804.7h.9M823.5 789.0h.9M798.0 793.3h.9M825.1 782.4h.9M760.4 806.5h.9M826.9 779.8h.9M835.1 782.9h.9M825.6 782.5h.9M772.7 802.2h.9M800.8 792.0h.9M788.8 796.4h.9M812.7 789.1h.9M769.7 804.4h.9M804.2 786.1h.9M781.0 793.3h.9M804.3 787.7h.9M791.0 793.9h.9M775.2 803.0h.9M774.5 797.6h.9M777.2 802.7h.9M758.7 805.9h.9M803.6 791.5h.9M779.0 802.1h.9M802.7 788.7h.9M833.8 782.9h.9M822.9 786.4h.9M789.6 795.0h.9M809.8 792.6h.9M812.6 788.6h.9M809.0 788.7h.9M785.9 795.3h.9M785.3 799.0h.9M772.1 805.2h.9M794.9 790.6h.9M773.1 804.3h.9M761.8 806.2h.9M819.1 782.2h.9M822.1 784.3h.9M776.9 799.8h.9M822.9 782.7h.9M795.2 792.0h.9M806.6 792.7h.9M762.6 803.2h.9M831.1 784.9h.9M776.4 796.8h.9M817.9 788.2h.9M768.2 801.3h.9M802.9 787.5h.9M828.3 784.2h.9M802.5 787.7h.9M800.0 793.1h.9M822.6 782.8h.9M790.3 788.8h.9M778.1 802.4h.9M808.0 785.2h.9M795.4 791.3h.9M811.3 789.3h.9M771.7 801.6h.9M810.4 786.6h.9M780.3 792.4h.9M827.1 787.0h.9M796.7 791.9h.9M760.9 803.5h.9M790.0 798.2h.9M791.9 797.0h.9M787.6 799.3h.9M760.6 801.8h.9M812.1 787.5h.9M778.3 801.9h.9M784.6 802.0h.9M798.7 787.0h.9M772.6 806.2h.9M763.8 803.9h.9M824.1 786.5h.9M827.8 781.4h.9M820.5 790.3h.9M798.7 795.9h.9M762.3 806.2h.9M791.2 789.7h.9M779.9 798.8h.9M763.0 804.0h.9M797.2 795.1h.9M783.8 800.4h.9M816.4 787.4h.9M783.9 796.3h.9M773.1 799.1h.9M817.2 782.0h.9M777.5 798.5h.9M765.9 799.9h.9M790.9 793.4h.9M758.5 802.4h.9M815.0 785.6h.9M823.4 784.2h.9M765.1 805.2h.9M773.6 801.0h.9M806.7 791.1h.9M817.6 789.3h.9M786.1 793.0h.9M800.8 790.0h.9M786.8 790.2h.9M762.9 803.9h.9M826.1 781.0h.9M790.4 787.5h.9M759.3 805.6h.9M814.9 790.6h.9M788.7 798.1h.9M798.1 792.9h.9M790.3 794.9h.9M773.9 802.2h.9M762.1 802.5h.9M813.5 788.0h.9M791.5 788.6h.9M771.9 803.3h.9M808.4 792.3h.9M800.3 793.9h.9M797.9 790.5h.9M784.5 796.1h.9M792.6 794.3h.9M808.9 791.9h.9M760.4 803.2h.9M797.3 791.2h.9M772.6 798.6h.9M788.2 796.4h.9M789.0 797.6h.9M791.2 789.7h.9M826.5 780.5h.9M777.1 797.3h.9M803.3 790.3h.9M826.2 784.2h.9M766.4 801.9h.9M791.0 788.4h.9M771.8 796.1h.9M760.8 806.7h.9M788.5 795.2h.9M814.5 789.1h.9M801.1 786.7h.9M773.1 797.1h.9M782.9 801.6h.9M802.9 789.5h.9M771.2 798.8h.9M806.7 787.8h.9M816.6 782.0h.9M822.3 789.5h.9M781.6 799.5h.9M828.8 779.5h.9M789.0 795.0h.9M826.8 783.5h.9M764.9 803.6h.9M795.8 792.9h.9M785.1 800.1h.9M757.0 805.7h.9M792.4 797.0h.9M796.9 796.3h.9M829.3 780.7h.9M773.4 798.1h.9M800.2 796.7h.9M786.6 797.7h.9M774.6 804.8h.9M825.6 786.0h.9M817.4 785.3h.9M785.4 794.6h.9M794.3 792.3h.9M762.6 800.4h.9M766.3 806.1h.9M821.2 789.2h.9M796.7 793.5h.9M800.4 796.5h.9M764.2 802.5h.9M811.4 791.0h.9M757.5 807.5h.9M806.3 789.5h.9M778.5 801.7h.9M767.3 801.3h.9M787.6 791.4h.9M772.0 801.2h.9M808.5 789.0h.9M760.7 803.2h.9M797.2 790.0h.9M799.2 789.1h.9M821.1 782.5h.9M780.5 795.6h.9M786.4 797.7h.9M774.7 801.0h.9M795.8 790.8h.9M812.8 785.6h.9M798.8 790.8h.9M817.3 788.6h.9M821.1 783.6h.9M812.2 790.4h.9M802.9 785.7h.9M765.5 804.6h.9M829.8 780.0h.9M784.9 796.1h.9M773.3 799.7h.9M830.9 783.6h.9M818.2 790.2h.9M814.0 791.1h.9M813.2 785.1h.9M825.8 786.3h.9M832.4 783.4h.9M820.6 790.6h.9M798.7 789.3h.9M828.3 783.0h.9M829.1 780.6h.9M759.1 802.3h.9M777.1 797.1h.9M809.1 789.2h.9M826.8 787.8h.9M787.4 790.7h.9M801.6 793.1h.9M768.5 805.0h.9M782.2 798.7h.9M824.6 784.1h.9M778.1 801.7h.9M789.1 796.2h.9M787.8 792.2h.9M834.5 781.9h.9M780.8 795.6h.9M792.6 788.9h.9M765.3 802.0h.9M763.4 804.9h.9M791.3 799.2h.9M775.5 798.9h.9M815.5 785.0h.9M808.6 790.9h.9M819.9 786.6h.9M816.9 782.7h.9M824.5 782.0h.9M791.4 789.4h.9M821.7 785.1h.9M785.8 791.3h.9M800.7 797.5h.9M789.2 790.6h.9M798.8 810.3h.9M790.9 798.4h.9M801.4 785.5h.9M808.7 785.9h.9M794.8 805.0h.9M793.4 808.6h.9M767.3 806.8h.9M768.3 801.1h.9" stroke="#4a55e0" stroke-width="1.15" stroke-opacity="1" fill="none"/>
<path d="M734.0 797.1h.9M709.8 808.8h.9M729.7 795.5h.9M714.5 808.5h.9M705.8 808.1h.9M730.8 797.3h.9M734.5 798.0h.9M707.4 811.0h.9M726.0 804.1h.9M707.8 810.0h.9M728.0 804.9h.9M729.5 796.6h.9M734.4 797.4h.9M710.7 810.1h.9M713.5 803.7h.9M735.2 801.4h.9M734.0 796.1h.9M732.5 797.2h.9M730.9 796.2h.9M729.3 802.2h.9M708.6 809.6h.9M728.3 798.1h.9M709.8 808.1h.9M706.6 805.0h.9M725.3 799.8h.9M732.9 802.8h.9M732.1 796.6h.9M734.8 800.9h.9M707.8 809.7h.9M726.4 804.8h.9M734.5 797.2h.9M713.5 808.7h.9M726.6 799.6h.9M727.2 797.2h.9M726.9 803.0h.9M711.2 806.0h.9M704.8 808.7h.9M729.1 798.4h.9M715.3 809.1h.9M713.3 808.4h.9M718.7 801.8h.9M734.0 795.6h.9M732.4 796.5h.9M733.8 797.1h.9M713.6 803.2h.9M723.3 799.8h.9M722.7 799.4h.9M716.7 801.9h.9M706.1 807.3h.9M710.1 804.2h.9M712.3 808.0h.9M733.7 795.9h.9M733.4 800.3h.9M729.7 798.0h.9M721.0 799.4h.9M714.1 802.9h.9M709.7 804.0h.9M713.4 810.0h.9M717.7 800.6h.9M723.8 806.6h.9M706.3 805.3h.9M706.9 805.8h.9M730.3 802.3h.9M726.6 803.3h.9M707.8 806.0h.9M705.8 806.2h.9M706.9 810.3h.9M718.8 801.5h.9M705.5 806.7h.9M732.0 796.9h.9M723.0 806.8h.9M719.2 807.8h.9M722.9 799.2h.9M716.2 808.2h.9M709.2 810.0h.9M733.2 796.8h.9M704.7 810.0h.9M712.0 803.5h.9M722.4 806.3h.9M729.3 797.1h.9M712.8 809.7h.9M731.0 796.8h.9M705.2 806.4h.9M716.8 808.1h.9M734.7 801.6h.9M707.3 807.0h.9M729.4 796.7h.9M731.1 795.1h.9M706.8 810.6h.9M708.5 808.8h.9M725.7 804.7h.9M723.8 799.8h.9M729.9 797.7h.9M705.3 808.9h.9M712.9 808.1h.9M709.7 806.8h.9M734.9 799.8h.9M713.5 802.6h.9M707.0 806.6h.9M710.6 803.4h.9M710.0 808.4h.9M710.5 807.2h.9M725.0 799.2h.9M713.2 803.1h.9M731.8 795.4h.9M725.5 799.8h.9M711.6 803.5h.9M708.9 806.8h.9M706.1 808.7h.9M709.5 809.4h.9M715.3 808.2h.9M705.2 809.1h.9M718.5 800.1h.9M710.0 805.8h.9M708.8 805.6h.9M710.0 805.1h.9M707.1 811.5h.9M711.6 808.8h.9M710.2 809.9h.9M710.9 808.5h.9M714.6 802.7h.9M708.5 804.5h.9M726.6 803.2h.9M709.6 805.6h.9M723.7 799.3h.9M731.3 797.8h.9M727.7 803.9h.9M713.2 803.7h.9M726.8 798.1h.9M725.2 799.8h.9M714.9 809.8h.9M722.6 799.0h.9M727.5 803.8h.9M730.3 798.0h.9M710.2 809.1h.9M711.1 806.2h.9M710.7 857.1h.9M702.9 847.2h.9M709.0 858.4h.9M713.0 843.4h.9M708.0 854.9h.9M703.9 862.7h.9M712.7 844.4h.9M708.3 845.5h.9M708.9 851.3h.9M714.0 862.9h.9M709.4 864.6h.9M711.8 843.4h.9M713.6 858.0h.9M708.3 859.2h.9M713.4 857.8h.9M708.7 852.7h.9M712.6 860.1h.9M709.3 864.0h.9M712.5 862.9h.9M711.3 863.1h.9M709.9 847.1h.9M710.2 855.9h.9M712.2 864.3h.9M712.0 855.1h.9M710.3 848.4h.9M706.5 860.2h.9M712.7 845.7h.9M712.9 861.1h.9M713.6 855.7h.9M711.4 846.0h.9M710.8 848.4h.9M709.3 847.5h.9M712.0 847.7h.9M711.7 855.7h.9M709.6 855.9h.9M703.9 863.4h.9M712.5 857.3h.9M709.1 858.2h.9M713.4 863.8h.9M711.8 850.1h.9M708.0 863.4h.9M712.0 853.6h.9M713.4 855.9h.9M712.0 856.5h.9M710.2 854.6h.9M703.8 862.0h.9M710.7 844.5h.9M711.3 852.4h.9M703.1 856.7h.9M708.3 854.0h.9M709.9 851.9h.9M712.5 861.5h.9M707.9 853.1h.9M709.3 847.7h.9M713.2 843.8h.9M706.9 863.3h.9M713.7 861.2h.9M707.1 861.4h.9M706.9 844.6h.9M710.0 844.7h.9M708.9 848.2h.9M702.9 852.8h.9M708.5 864.6h.9M712.8 862.1h.9M708.2 846.2h.9M711.3 847.4h.9M708.0 861.9h.9M712.8 859.2h.9M710.6 857.7h.9M703.0 858.4h.9M702.9 843.4h.9M702.9 854.6h.9M712.0 845.5h.9M709.7 849.1h.9M708.6 843.6h.9M711.0 855.9h.9M706.6 843.5h.9M706.9 853.2h.9M710.8 853.2h.9M702.8 848.7h.9M712.0 856.2h.9M711.3 851.8h.9M713.5 858.1h.9M712.3 846.2h.9M708.6 864.4h.9M707.7 854.5h.9M707.5 857.2h.9M707.1 854.2h.9M709.9 865.0h.9M711.4 853.8h.9M712.5 852.4h.9M713.3 861.4h.9M708.4 845.1h.9M710.8 850.9h.9M714.3 857.0h.9M710.1 852.9h.9M703.3 845.7h.9M702.8 861.5h.9M714.1 858.9h.9M711.8 846.4h.9M712.4 847.8h.9M702.9 855.7h.9M709.1 848.0h.9M711.7 862.2h.9M705.5 854.0h.9M706.7 864.7h.9M706.5 843.5h.9M708.9 856.7h.9M712.9 857.1h.9M708.6 852.3h.9M703.1 855.5h.9M707.4 855.2h.9M713.7 863.7h.9M710.6 849.7h.9M711.0 849.0h.9M702.8 852.1h.9M703.3 845.0h.9M710.8 863.9h.9M709.8 844.5h.9M710.3 850.6h.9M712.3 855.5h.9M703.2 851.1h.9M703.3 858.3h.9M710.0 846.5h.9M712.4 860.7h.9M706.6 862.6h.9M712.8 863.2h.9M706.5 863.8h.9M708.5 851.0h.9M713.6 858.2h.9M711.1 843.6h.9M704.1 863.0h.9M709.5 864.6h.9M711.8 843.1h.9M711.7 864.9h.9M706.8 843.7h.9M703.2 853.3h.9M712.4 855.7h.9M706.8 864.1h.9M706.4 843.1h.9M709.2 859.1h.9M705.5 863.0h.9M711.0 846.5h.9M703.0 854.2h.9M712.4 860.9h.9M709.3 847.2h.9M703.0 861.4h.9M711.4 863.8h.9M711.3 854.5h.9M707.3 861.1h.9M710.9 850.5h.9M710.5 856.1h.9M713.4 859.9h.9M713.7 855.1h.9M707.0 843.9h.9M703.2 848.4h.9M711.1 845.0h.9M711.6 854.2h.9M710.0 851.2h.9M706.7 844.0h.9M712.5 844.8h.9M709.0 858.9h.9M704.2 829.5h.9M707.1 842.8h.9M703.6 829.9h.9M702.9 843.0h.9M704.5 828.3h.9M705.8 830.0h.9M706.3 827.8h.9M703.0 843.0h.9M705.9 828.6h.9M706.9 842.3h.9M706.0 826.3h.9M703.1 830.3h.9M706.1 826.9h.9M702.9 831.9h.9M704.5 830.0h.9M703.3 831.0h.9M703.3 841.9h.9M703.3 829.2h.9M703.3 842.4h.9M703.3 829.6h.9M703.3 828.5h.9M703.3 829.6h.9M703.3 830.0h.9M703.3 830.9h.9M703.3 832.5h.9M703.3 832.9h.9M703.3 829.1h.9M703.3 830.0h.9M762.5 827.7h.9M795.7 807.3h.9M768.1 824.7h.9M764.6 826.3h.9M769.6 826.5h.9M764.5 826.8h.9M762.8 828.5h.9M778.6 820.8h.9M799.1 806.3h.9M763.5 827.5h.9M790.2 810.6h.9M765.5 826.5h.9M769.7 825.7h.9M762.5 828.0h.9M786.2 815.2h.9M800.4 806.4h.9M785.9 813.0h.9M766.9 825.7h.9M760.0 829.3h.9M788.3 813.0h.9M769.6 826.5h.9M766.4 824.4h.9M767.4 824.6h.9M760.4 829.7h.9M768.4 822.2h.9M766.7 824.6h.9M768.9 822.2h.9M773.1 822.2h.9M772.7 823.5h.9M798.9 807.7h.9M785.8 813.0h.9M762.9 826.1h.9M788.1 813.1h.9M783.8 814.3h.9M769.9 826.4h.9M799.0 805.6h.9M785.9 815.4h.9M790.8 812.6h.9M800.0 806.6h.9M764.2 828.5h.9M800.9 807.5h.9M786.0 815.5h.9M770.9 822.2h.9M762.3 827.0h.9M768.0 826.1h.9M800.0 805.4h.9M775.5 820.2h.9M771.2 824.3h.9M800.5 807.8h.9M773.3 820.5h.9M774.3 820.4h.9M764.3 828.5h.9M790.5 812.4h.9M786.7 813.1h.9M773.9 820.2h.9M788.4 812.9h.9M785.1 813.1h.9M769.7 825.7h.9M799.2 806.8h.9M765.4 826.0h.9M795.9 809.5h.9M779.8 820.8h.9M780.3 819.6h.9M788.5 812.4h.9M786.0 812.2h.9M785.4 815.2h.9M797.2 808.9h.9M784.1 814.5h.9M762.0 829.5h.9M763.3 827.3h.9M759.7 828.5h.9M785.6 813.5h.9M795.4 806.0h.9M767.4 824.3h.9M786.5 814.1h.9M767.8 825.3h.9M787.8 813.4h.9M763.9 829.1h.9M772.6 821.3h.9M775.5 820.3h.9M776.2 820.8h.9M769.0 825.3h.9M760.0 827.3h.9M785.1 815.1h.9M788.6 812.5h.9M772.5 821.4h.9M766.1 826.7h.9M771.0 823.1h.9M790.6 811.9h.9M760.5 827.5h.9M779.4 819.2h.9M798.0 809.4h.9M760.7 829.5h.9M769.9 822.3h.9M764.9 828.9h.9M795.9 809.4h.9M768.7 823.7h.9M773.0 823.4h.9M763.1 826.5h.9M789.1 811.7h.9M799.2 809.8h.9M789.5 812.1h.9M774.3 821.0h.9M769.6 822.5h.9M767.3 827.9h.9M784.4 813.2h.9M768.4 826.7h.9M798.8 809.8h.9M800.0 807.8h.9M767.3 825.8h.9M771.9 822.1h.9M779.5 819.8h.9M799.1 806.2h.9M787.2 813.7h.9M791.2 812.3h.9M785.7 812.8h.9M768.9 824.8h.9M779.4 819.3h.9M799.0 805.1h.9M765.9 826.5h.9M789.4 811.9h.9M786.9 814.6h.9M795.9 807.3h.9M774.9 821.7h.9M788.2 813.8h.9M797.8 808.4h.9M775.0 821.2h.9M788.7 813.5h.9M796.2 806.8h.9M799.2 806.5h.9M770.3 823.4h.9M775.1 819.7h.9M797.8 807.8h.9M774.7 821.7h.9M777.3 820.3h.9M762.0 827.8h.9M778.6 819.6h.9M788.9 813.4h.9M800.5 806.5h.9M768.1 826.4h.9M786.9 814.2h.9M762.5 829.7h.9M770.8 823.9h.9M794.5 807.2h.9M770.9 822.3h.9M762.5 828.4h.9M775.6 821.3h.9M761.0 827.2h.9M779.0 820.8h.9M795.2 808.5h.9M790.3 812.0h.9M777.8 819.5h.9M788.8 811.9h.9M770.4 801.7h.9M768.7 802.7h.9M768.9 802.1h.9M770.6 803.1h.9M770.1 801.5h.9M770.9 801.8h.9M770.1 803.4h.9M771.2 803.8h.9M767.6 803.7h.9M767.9 803.4h.9M768.8 802.8h.9M770.1 801.5h.9M769.6 802.9h.9" stroke="#1f3fe6" stroke-width="1.15" stroke-opacity="1" fill="none"/>
<path d="M732.6 799.6h.9M729.7 800.4h.9M728.0 802.6h.9M706.7 807.3h.9M708.2 807.9h.9M714.7 803.8h.9M726.8 800.6h.9M725.9 800.7h.9M733.9 799.1h.9M730.2 801.5h.9M712.3 807.0h.9M714.5 806.6h.9M722.4 804.0h.9M734.0 799.8h.9M720.2 801.6h.9M722.3 806.4h.9M724.7 803.7h.9M713.8 805.2h.9M717.5 807.6h.9M729.7 801.2h.9M728.4 801.6h.9M732.0 800.5h.9M726.1 800.4h.9M728.7 801.2h.9M729.9 801.4h.9M728.0 800.6h.9M730.7 799.9h.9M711.6 806.0h.9M733.0 799.2h.9M729.2 801.0h.9M724.4 801.4h.9M716.3 807.7h.9M726.7 801.1h.9M707.2 807.5h.9M717.3 807.1h.9M707.8 807.8h.9M727.6 801.4h.9M732.5 800.4h.9M707.1 807.7h.9M718.4 806.2h.9M715.2 807.9h.9M714.8 803.7h.9M719.3 801.5h.9M714.8 805.2h.9M732.6 799.2h.9M724.1 801.5h.9M707.5 808.2h.9M731.3 799.4h.9M717.4 807.6h.9M732.9 798.8h.9M720.8 801.9h.9M726.6 801.3h.9M714.9 806.2h.9M706.3 808.6h.9M712.9 805.3h.9M706.8 807.1h.9M713.2 805.8h.9M729.0 802.4h.9M733.8 799.5h.9M706.7 809.0h.9M728.8 799.9h.9M714.5 804.8h.9M713.2 807.5h.9M733.0 800.7h.9M712.0 805.1h.9M732.0 800.4h.9M722.0 805.4h.9M733.4 799.1h.9M723.5 801.1h.9M728.9 799.1h.9M728.7 802.8h.9M732.4 800.3h.9M734.3 800.0h.9M719.7 806.5h.9M732.0 800.0h.9M708.0 808.2h.9M717.0 803.3h.9M725.3 801.2h.9M714.8 803.9h.9M729.2 801.8h.9M715.8 807.0h.9M721.7 800.9h.9M729.3 801.5h.9M713.9 805.9h.9M718.2 803.0h.9M729.1 800.3h.9M706.5 807.4h.9M721.5 800.3h.9M728.6 799.1h.9M716.9 803.8h.9M728.8 802.8h.9M722.7 805.9h.9M733.5 799.9h.9M728.1 800.9h.9M712.5 806.5h.9M729.3 800.9h.9M714.4 806.9h.9M731.6 799.7h.9M711.4 805.2h.9M718.7 802.8h.9M717.1 803.1h.9M712.2 807.2h.9M721.4 800.0h.9M720.9 801.7h.9M718.7 802.7h.9M722.4 804.9h.9M717.7 803.3h.9M722.4 800.5h.9M723.8 804.7h.9M725.1 801.4h.9M724.8 803.9h.9M724.6 802.8h.9M728.1 802.7h.9M726.2 803.7h.9M721.5 806.9h.9M724.3 803.4h.9M712.3 806.3h.9M724.8 800.4h.9M717.2 807.4h.9M727.3 802.0h.9M720.9 801.1h.9M720.3 806.9h.9M732.4 799.2h.9M715.8 806.3h.9M724.5 802.6h.9M719.5 802.1h.9M716.3 803.9h.9M717.1 807.3h.9M726.0 800.2h.9M713.4 806.2h.9M720.9 805.9h.9M713.5 806.1h.9M723.2 805.2h.9M723.3 804.9h.9M720.3 805.1h.9M719.7 806.2h.9M723.6 803.2h.9M721.3 802.0h.9M727.6 801.0h.9M721.9 805.3h.9M717.9 803.9h.9M714.3 805.7h.9M721.6 805.5h.9M713.5 807.3h.9M715.9 807.1h.9M728.0 801.5h.9M717.9 802.9h.9M716.1 806.1h.9M722.3 805.1h.9M713.8 804.7h.9M717.2 803.9h.9M714.3 804.5h.9M703.5 861.8h.9M703.6 846.4h.9M704.4 856.5h.9M709.7 860.6h.9M706.5 855.5h.9M705.3 845.2h.9M703.6 843.2h.9M704.5 856.0h.9M703.7 851.0h.9M706.3 854.3h.9M703.6 857.0h.9M704.2 857.9h.9M704.2 855.7h.9M705.9 846.4h.9M704.6 862.4h.9M704.1 845.1h.9M706.8 847.8h.9M705.8 848.8h.9M707.2 849.4h.9M711.0 862.5h.9M709.1 863.9h.9M704.5 845.4h.9M710.0 860.7h.9M705.5 849.9h.9M706.0 861.1h.9M709.7 859.6h.9M705.3 859.6h.9M707.6 851.3h.9M708.9 861.7h.9M706.8 846.3h.9M710.7 859.0h.9M703.5 860.0h.9M706.1 844.1h.9M704.2 851.7h.9M704.3 847.6h.9M704.9 847.7h.9M711.5 860.8h.9M703.4 858.7h.9M709.6 861.2h.9M709.5 863.9h.9M704.0 859.2h.9M708.7 862.1h.9M706.1 851.2h.9M704.0 845.2h.9M708.3 850.5h.9M706.9 850.9h.9M703.8 843.3h.9M704.1 856.4h.9M704.5 850.9h.9M706.4 855.6h.9M706.1 862.8h.9M705.8 858.8h.9M704.7 855.4h.9M703.6 852.6h.9M707.2 858.0h.9M708.3 862.4h.9M705.5 845.0h.9M703.3 852.7h.9M710.6 858.5h.9M704.0 843.7h.9M708.0 849.4h.9M711.0 859.6h.9M706.0 848.7h.9M705.0 849.6h.9M711.3 858.4h.9M707.2 846.5h.9M703.9 851.3h.9M706.6 850.7h.9M705.1 853.1h.9M705.8 857.8h.9M704.1 843.2h.9M705.7 855.3h.9M709.0 863.1h.9M703.7 855.2h.9M704.7 858.5h.9M704.8 858.8h.9M706.2 862.5h.9M704.5 845.2h.9M705.9 846.6h.9M706.8 848.1h.9M707.3 855.4h.9M706.5 858.4h.9M706.9 849.1h.9M706.3 855.2h.9M704.3 860.0h.9M705.0 845.8h.9M706.9 848.3h.9M707.1 847.6h.9M707.3 858.1h.9M706.7 850.4h.9M705.7 851.2h.9M703.5 845.1h.9M705.9 850.5h.9M705.4 847.9h.9M704.3 860.1h.9M705.3 851.6h.9M707.5 849.2h.9M703.8 854.4h.9M704.8 850.0h.9M705.4 858.8h.9M711.7 859.6h.9M706.9 846.6h.9M704.5 851.2h.9M706.0 847.7h.9M706.6 850.6h.9M704.9 856.2h.9M704.7 854.4h.9M703.7 857.9h.9M705.8 849.7h.9M704.3 860.4h.9M705.1 862.6h.9M703.9 844.1h.9M703.9 861.1h.9M712.0 859.4h.9M704.9 862.1h.9M704.4 856.0h.9M712.2 857.3h.9M703.9 843.1h.9M703.8 860.3h.9M709.9 862.8h.9M705.3 846.7h.9M710.7 858.8h.9M706.6 851.8h.9M706.5 857.7h.9M705.1 845.1h.9M704.4 860.0h.9M704.6 858.0h.9M705.5 857.7h.9M704.6 861.5h.9M705.0 855.6h.9M704.9 845.4h.9M709.3 860.6h.9M706.3 857.8h.9M706.3 849.1h.9M710.0 862.0h.9M704.8 858.2h.9M709.5 861.8h.9M705.2 858.2h.9M709.3 863.6h.9M704.5 853.0h.9M706.4 857.0h.9M709.6 858.6h.9M703.6 849.2h.9M703.4 858.6h.9M709.6 863.9h.9M707.9 851.5h.9M709.2 863.4h.9M704.8 843.1h.9M703.5 843.9h.9M711.6 860.7h.9M710.3 858.6h.9M706.9 855.1h.9M703.9 860.8h.9M707.7 850.9h.9M705.1 860.8h.9M711.0 859.2h.9M703.3 845.2h.9M703.3 849.0h.9M703.3 845.7h.9M703.3 851.0h.9M703.3 846.5h.9M703.3 850.4h.9M703.3 846.8h.9M703.3 850.7h.9M703.3 858.8h.9M703.3 845.9h.9M703.3 851.0h.9M703.3 855.6h.9M703.3 843.3h.9M703.3 861.4h.9M703.3 859.2h.9M703.3 850.1h.9M703.3 860.0h.9M703.3 852.5h.9M703.3 854.2h.9" stroke="#2a7cf2" stroke-width="1.15" stroke-opacity="1" fill="none"/>
<path d="M722.2 801.2h.9M719.3 805.6h.9M721.9 801.9h.9M720.6 804.8h.9M716.8 804.0h.9M716.1 805.9h.9M722.2 804.2h.9M718.3 804.2h.9M722.6 802.0h.9M718.3 803.3h.9M722.4 802.5h.9M716.3 805.7h.9M717.0 804.9h.9M721.3 804.2h.9M719.2 805.0h.9M722.2 804.8h.9M716.2 805.3h.9M720.0 804.7h.9M715.8 805.5h.9M717.0 805.5h.9M717.6 804.8h.9M719.4 803.8h.9M718.6 805.5h.9M715.9 805.2h.9M720.6 804.5h.9M717.8 804.9h.9M722.9 801.8h.9M718.5 806.0h.9M722.2 804.8h.9M717.9 805.8h.9M721.5 804.2h.9M719.0 804.7h.9M722.3 802.8h.9M723.0 803.0h.9M722.7 803.5h.9M718.1 805.3h.9M721.5 804.0h.9M722.9 802.1h.9M719.9 804.5h.9M716.3 805.8h.9M719.8 804.1h.9M717.2 804.5h.9M722.4 803.9h.9M716.7 805.9h.9M722.0 801.9h.9M716.8 805.6h.9M718.2 804.9h.9M717.4 805.7h.9M719.9 804.0h.9M722.1 801.3h.9M717.7 805.2h.9M719.0 804.3h.9" stroke="#45cdf3" stroke-width="1.15" stroke-opacity="1" fill="none"/>
<path d="M721.8 802.2h.9M720.7 803.2h.9M721.3 803.4h.9M722.0 802.7h.9M721.6 802.8h.9M721.7 802.0h.9M721.6 802.1h.9M721.4 802.7h.9M722.0 803.3h.9M721.4 802.5h.9" stroke="#62ee9a" stroke-width="1.15" stroke-opacity="1" fill="none"/>
<rect x="748.6" y="750" width="113.7" height="119.1" fill="none" stroke="#333" stroke-width="1.5"/>
<text x="766.3" y="768" font-size="14" fill="#222" textLength="78.8" lengthAdjust="spacingAndGlyphs">Spike beads</text>
<path d="M698 750H702.3M698 774.3H702.3M698 797.7H702.3M698 821.4H702.3M698 845.7H702.3M698 880.6H702.3M700 757.6H702.3M700 763.2H702.3M700 767.4H702.3M700 781.9H702.3M700 787.5H702.3M700 791.7H702.3M700 805.3H702.3M700 810.9H702.3M700 815.1H702.3M700 829H702.3M700 834.6H702.3M700 838.8H702.3M700 853.3H702.3M700 858.9H702.3M700 863.1H702.3M700 873H702.3M700 876H702.3M700 885H702.3M700 888H702.3M708.6 892.9V897M735.7 892.9V897M767.1 892.9V897M797.1 892.9V897M828.6 892.9V897M860 892.9V897" stroke="#444" stroke-width="1" fill="none"/>
<text x="695" y="751.8" font-size="5.8" fill="#666" text-anchor="end">10<tspan dy="-3" font-size="4.5">8</tspan></text>
<text x="695" y="776.1" font-size="5.8" fill="#666" text-anchor="end">10<tspan dy="-3" font-size="4.5">7</tspan></text>
<text x="695" y="799.5" font-size="5.8" fill="#666" text-anchor="end">10<tspan dy="-3" font-size="4.5">6</tspan></text>
<text x="695" y="823.2" font-size="5.8" fill="#666" text-anchor="end">10<tspan dy="-3" font-size="4.5">5</tspan></text>
<text x="695" y="847.5" font-size="5.8" fill="#666" text-anchor="end">10<tspan dy="-3" font-size="4.5">4</tspan></text>
<text x="692" y="882.4" font-size="5.8" fill="#666" text-anchor="end">0</text>
<text x="708.6" y="906" font-size="5.8" fill="#666" text-anchor="middle">10<tspan dy="-3" font-size="4.5">2</tspan></text>
<text x="735.7" y="906" font-size="5.8" fill="#666" text-anchor="middle">10<tspan dy="-3" font-size="4.5">3</tspan></text>
<text x="767.1" y="906" font-size="5.8" fill="#666" text-anchor="middle">10<tspan dy="-3" font-size="4.5">4</tspan></text>
<text x="797.1" y="906" font-size="5.8" fill="#666" text-anchor="middle">10<tspan dy="-3" font-size="4.5">5</tspan></text>
<text x="828.6" y="906" font-size="5.8" fill="#666" text-anchor="middle">10<tspan dy="-3" font-size="4.5">6</tspan></text>
<text x="860" y="906" font-size="5.8" fill="#666" text-anchor="middle">10<tspan dy="-3" font-size="4.5">7</tspan></text>
<text transform="translate(680 821.4) rotate(-90)" font-size="12.5" fill="#333" textLength="24.4" lengthAdjust="spacingAndGlyphs">SSC</text>
<text x="768.6" y="922.9" font-size="12.5" fill="#333" textLength="24.3" lengthAdjust="spacingAndGlyphs">APC</text>
<path d="M920.9 791.0h.9M923.5 795.6h.9M922.3 797.3h.9M904.0 808.2h.9M916.8 804.9h.9M919.2 792.7h.9M911.8 806.9h.9M905.4 792.8h.9M887.8 821.1h.9M889.4 821.1h.9M891.5 817.2h.9M890.5 828.4h.9M887.7 824.1h.9M887.5 825.2h.9M885.7 823.1h.9M891.0 820.5h.9M890.6 838.4h.9M886.7 826.0h.9M888.8 827.4h.9M890.5 818.1h.9M906.6 851.4h.9M910.7 848.0h.9M898.0 846.1h.9M904.9 820.3h.9M926.3 836.3h.9M924.3 857.3h.9M923.2 819.2h.9M925.1 815.6h.9M922.7 824.5h.9M909.8 853.0h.9M909.8 832.3h.9M910.6 825.0h.9M890.2 814.5h.9M915.9 859.1h.9M904.2 819.0h.9M899.9 848.1h.9M899.7 824.0h.9M923.6 824.7h.9M906.4 820.9h.9M896.3 818.3h.9M909.9 852.1h.9M910.6 859.3h.9M923.3 823.1h.9M893.9 832.0h.9M911.2 858.6h.9M918.8 842.7h.9M921.6 817.9h.9M919.3 831.6h.9M906.0 859.7h.9M900.8 812.0h.9M898.2 817.9h.9M909.6 834.7h.9M907.2 826.6h.9M919.2 856.0h.9M910.3 831.0h.9M906.6 836.8h.9M924.0 856.0h.9M906.3 814.6h.9M900.6 815.5h.9M918.0 829.0h.9M918.9 831.1h.9M912.0 857.5h.9M900.0 813.9h.9M921.2 833.5h.9M912.5 850.2h.9M925.1 824.5h.9M895.6 837.9h.9M901.2 852.4h.9M920.7 836.7h.9M919.6 832.7h.9M995.4 808.3h.9M975.4 808.9h.9M998.3 799.8h.9M998.6 803.2h.9M999.3 799.4h.9M966.3 823.2h.9M998.0 800.0h.9M994.7 799.9h.9M998.7 802.6h.9M958.7 796.3h.9M1033.5 777.6h.9M1013.2 794.9h.9M941.1 806.3h.9M975.1 787.5h.9M1028.6 787.4h.9M943.7 802.7h.9M1025.5 789.0h.9M960.5 809.6h.9M952.4 799.4h.9M996.2 785.1h.9M952.1 800.3h.9M1010.4 779.4h.9M1020.4 792.3h.9M943.1 802.0h.9M974.0 787.6h.9M955.0 809.1h.9M976.8 786.7h.9M1011.7 792.5h.9M1022.6 780.0h.9M959.2 808.5h.9M1014.6 779.5h.9M1029.7 782.1h.9M999.1 784.6h.9M1019.2 780.0h.9M944.0 811.7h.9M939.3 805.4h.9M946.7 799.1h.9M964.3 807.2h.9M976.6 790.5h.9M994.9 785.2h.9M1014.6 793.0h.9M961.7 792.4h.9M1026.9 790.2h.9M994.7 797.6h.9M1017.6 781.0h.9M953.5 810.3h.9M986.8 787.6h.9M998.8 783.9h.9M967.4 794.5h.9M978.6 790.5h.9M984.2 802.5h.9M1002.4 782.1h.9M988.4 785.8h.9M998.1 786.0h.9M1031.5 781.5h.9M1020.3 777.8h.9M974.9 805.4h.9M982.9 791.7h.9M993.8 784.7h.9M971.4 792.8h.9M1008.7 794.2h.9M978.5 804.0h.9M943.0 810.1h.9M1001.8 785.6h.9M1028.0 790.7h.9M973.7 789.4h.9M1004.7 795.0h.9M1029.2 785.6h.9M993.5 788.5h.9M928.5 843.6h.9M921.1 851.0h.9M915.6 838.6h.9M917.0 826.5h.9M951.2 821.0h.9M950.4 811.7h.9M913.2 830.5h.9M900.0 818.7h.9M920.8 845.3h.9M926.8 842.7h.9M944.2 830.0h.9M935.0 834.3h.9M903.1 827.6h.9M957.2 833.9h.9M930.1 805.9h.9M909.4 838.2h.9M917.2 833.1h.9M910.4 854.1h.9M913.2 819.6h.9M957.1 812.6h.9M937.9 853.6h.9M954.5 812.3h.9M953.7 841.8h.9M914.9 841.4h.9M955.8 807.6h.9M910.7 858.1h.9M955.6 811.1h.9M947.5 837.9h.9M948.8 859.4h.9M924.4 828.9h.9M934.3 845.5h.9M916.4 815.2h.9M944.2 848.1h.9M906.8 846.3h.9M948.7 846.9h.9M938.0 800.1h.9M940.6 829.0h.9M910.6 823.0h.9M951.2 823.0h.9M936.8 847.0h.9M931.5 802.3h.9M916.7 831.8h.9M945.7 811.2h.9M946.5 851.2h.9M935.6 826.5h.9M944.7 822.9h.9M902.8 826.9h.9M916.7 821.5h.9M900.4 853.1h.9M933.4 800.6h.9M934.0 850.3h.9M912.6 805.0h.9M903.0 817.5h.9M950.5 811.7h.9M932.7 802.2h.9M954.0 836.2h.9M928.5 814.3h.9M933.8 812.3h.9M917.9 811.1h.9M938.0 833.6h.9M947.5 818.0h.9M947.6 834.2h.9M902.4 849.9h.9M933.0 859.9h.9M918.0 824.4h.9M958.1 835.2h.9M998.4 828.5h.9M962.5 783.7h.9M986.0 788.6h.9M986.7 825.3h.9M1020.8 828.6h.9M967.9 810.1h.9M1029.5 812.6h.9M1023.4 795.0h.9M968.5 786.2h.9M971.7 809.6h.9M1007.3 813.3h.9M1011.8 802.7h.9M1028.3 796.9h.9M962.3 793.4h.9M971.1 807.5h.9M1027.5 820.4h.9M960.3 788.7h.9M1008.2 795.8h.9M1021.5 813.2h.9M979.7 786.5h.9M1025.2 791.5h.9M964.5 826.1h.9M971.8 786.7h.9M1018.7 828.5h.9M962.1 792.3h.9M1022.4 807.5h.9M969.6 788.5h.9M1027.5 793.4h.9M977.2 820.1h.9M961.5 812.2h.9" stroke="#7c80dc" stroke-width="1.15" stroke-opacity="0.7" fill="none"/>
<path d="M907.4 794.2h.9M921.3 798.4h.9M911.1 794.0h.9M915.6 794.4h.9M911.6 795.9h.9M919.9 801.5h.9M920.7 798.8h.9M908.8 793.8h.9M909.3 805.5h.9M898.7 808.3h.9M889.2 801.5h.9M906.3 795.4h.9M882.0 807.1h.9M883.3 810.9h.9M886.5 811.4h.9M881.6 806.1h.9M918.7 801.6h.9M883.4 810.4h.9M913.8 794.2h.9M899.7 798.1h.9M909.2 794.9h.9M889.0 802.0h.9M907.6 795.0h.9M888.7 801.8h.9M918.8 797.7h.9M882.9 805.6h.9M883.7 810.5h.9M882.4 809.3h.9M891.4 800.5h.9M910.7 796.0h.9M882.3 808.7h.9M918.7 800.5h.9M892.8 799.5h.9M882.8 807.9h.9M895.8 809.5h.9M891.8 811.5h.9M881.9 811.6h.9M883.7 806.4h.9M894.1 799.8h.9M895.3 800.9h.9M895.9 799.3h.9M887.6 810.1h.9M918.8 797.8h.9M908.5 795.9h.9M918.4 801.0h.9M915.6 801.9h.9M916.2 794.3h.9M909.2 803.8h.9M902.2 798.7h.9M891.7 811.6h.9M889.8 802.2h.9M886.3 803.5h.9M916.4 801.0h.9M921.8 797.7h.9M916.9 795.0h.9M885.1 804.9h.9M897.0 799.0h.9M884.8 810.4h.9M893.1 810.4h.9M895.7 800.0h.9M893.0 811.1h.9M893.8 801.4h.9M910.4 805.0h.9M905.8 797.7h.9M893.0 844.7h.9M892.1 844.9h.9M892.1 864.1h.9M892.6 844.9h.9M888.0 864.6h.9M889.7 843.1h.9M892.6 845.4h.9M885.4 864.6h.9M886.7 864.2h.9M886.8 864.6h.9M892.5 845.4h.9M889.7 864.3h.9M887.2 813.2h.9M885.4 833.4h.9M882.6 817.1h.9M883.2 820.5h.9M887.7 815.3h.9M882.6 820.0h.9M882.0 814.6h.9M886.5 816.7h.9M887.7 815.9h.9M886.8 813.5h.9M886.9 837.3h.9M884.4 831.3h.9M883.3 826.8h.9M886.5 817.4h.9M883.5 838.1h.9M884.3 820.6h.9M884.1 838.1h.9M883.4 813.5h.9M890.1 834.2h.9M883.0 828.8h.9M889.6 834.4h.9M882.4 814.6h.9M882.6 825.7h.9M889.1 830.5h.9M887.6 829.2h.9M887.8 835.6h.9M889.2 832.1h.9M885.2 829.4h.9M882.1 818.5h.9M888.5 833.7h.9M881.9 827.8h.9M890.0 831.2h.9M885.2 841.6h.9M883.1 821.9h.9M884.9 814.0h.9M886.7 833.4h.9M887.0 818.2h.9M881.6 819.0h.9M889.8 834.4h.9M889.4 839.2h.9M886.8 833.2h.9M882.8 818.2h.9M885.6 837.0h.9M883.1 818.4h.9M885.4 822.3h.9M881.9 828.7h.9M886.7 813.9h.9M890.3 840.7h.9M884.6 816.5h.9M881.8 827.5h.9M882.1 816.6h.9M884.5 828.0h.9M886.7 836.0h.9M885.1 818.2h.9M886.5 839.5h.9M887.2 838.1h.9M881.8 829.0h.9M887.7 816.6h.9M886.3 831.0h.9M882.6 819.4h.9M881.6 829.4h.9M883.4 829.3h.9M885.0 840.9h.9M890.3 836.4h.9M887.2 832.0h.9M881.8 841.8h.9M883.0 829.5h.9M889.3 840.3h.9M889.7 833.6h.9M881.6 825.6h.9M887.6 819.2h.9M883.0 826.5h.9M889.6 815.4h.9M891.3 832.4h.9M887.9 833.3h.9M884.0 836.9h.9M883.7 839.8h.9M889.0 831.0h.9M883.9 840.2h.9M882.4 841.7h.9M888.3 817.6h.9M887.1 812.8h.9M882.4 813.8h.9M886.2 842.7h.9M885.0 835.6h.9M882.3 816.8h.9M881.5 813.4h.9M881.9 815.8h.9M889.4 812.5h.9M893.8 851.4h.9M889.4 834.4h.9M890.4 842.6h.9M889.7 820.3h.9M894.1 852.0h.9M881.8 839.3h.9M881.8 838.9h.9M881.8 834.5h.9M881.8 829.9h.9M881.8 838.9h.9M881.8 840.6h.9M881.8 836.0h.9M881.8 838.4h.9M881.8 828.1h.9M881.8 831.6h.9M881.8 831.4h.9M952.3 824.9h.9M950.0 828.6h.9M974.6 812.2h.9M953.5 830.5h.9M973.3 817.3h.9M948.9 828.0h.9M990.0 808.2h.9M966.9 815.6h.9M993.0 808.6h.9M973.6 812.5h.9M974.0 816.8h.9M979.2 807.8h.9M977.5 814.8h.9M974.8 811.2h.9M972.2 811.7h.9M983.3 811.5h.9M962.0 818.4h.9M978.3 816.5h.9M994.9 803.7h.9M951.0 830.1h.9M954.9 828.6h.9M991.9 802.1h.9M954.2 828.2h.9M971.9 811.2h.9M972.3 812.8h.9M989.7 808.1h.9M950.6 827.2h.9M962.4 825.5h.9M969.7 813.9h.9M993.2 801.9h.9M991.3 806.5h.9M993.7 806.0h.9M958.1 827.1h.9M994.2 806.3h.9M949.0 829.0h.9M994.7 802.6h.9M973.3 817.5h.9M971.8 812.8h.9M992.8 805.9h.9M994.6 803.6h.9M985.7 805.4h.9M990.4 807.6h.9M985.3 805.0h.9M977.8 814.1h.9M961.7 818.3h.9M960.8 820.6h.9M963.0 824.3h.9M994.2 805.1h.9M989.0 800.9h.9M952.7 824.6h.9M949.5 829.3h.9M975.7 814.5h.9M950.3 826.8h.9M990.9 801.8h.9M950.4 826.5h.9M974.7 811.3h.9M962.3 819.7h.9M978.8 814.6h.9M978.2 816.0h.9M952.6 826.0h.9M955.4 828.6h.9M980.5 806.4h.9M949.9 830.6h.9M992.9 802.5h.9M991.8 802.4h.9M975.7 813.8h.9M969.3 820.3h.9M966.4 822.9h.9M991.2 808.0h.9M990.5 800.2h.9M980.3 812.0h.9M951.3 829.5h.9M990.3 801.3h.9M975.8 814.4h.9M984.4 804.4h.9M994.7 805.3h.9M995.8 801.3h.9M976.8 815.9h.9M958.4 825.0h.9M961.5 825.6h.9M963.6 817.9h.9M995.7 804.6h.9M956.3 822.2h.9M994.2 789.0h.9M995.7 792.4h.9M1002.4 794.7h.9M970.7 804.2h.9M986.3 804.7h.9M974.7 794.0h.9M1014.2 786.5h.9M1028.1 784.5h.9M991.5 792.5h.9M959.9 798.8h.9M1026.8 786.8h.9M1018.3 784.5h.9M1012.4 781.8h.9M953.5 805.2h.9M997.2 793.7h.9M950.6 807.6h.9M1011.6 783.5h.9M1012.2 787.7h.9M968.2 802.1h.9M1012.5 787.9h.9M1009.3 790.6h.9M986.3 794.7h.9M962.9 798.1h.9M993.8 790.3h.9M944.6 807.0h.9M969.4 802.7h.9M1009.4 788.2h.9M979.9 797.7h.9M951.4 807.8h.9M1015.8 788.5h.9M983.0 792.9h.9M961.5 801.3h.9M949.7 805.2h.9M995.7 794.0h.9M989.0 799.5h.9M975.3 794.1h.9M986.9 792.3h.9M986.4 791.5h.9M961.2 803.9h.9M976.5 799.6h.9M982.5 796.7h.9M996.0 787.8h.9M1001.4 794.3h.9M949.7 807.0h.9M1007.2 787.6h.9M1012.8 790.2h.9M944.5 807.3h.9M948.4 804.3h.9M989.1 794.0h.9M952.7 802.6h.9M960.7 800.3h.9M1026.9 780.0h.9M1012.3 791.0h.9M962.4 802.4h.9M964.2 804.5h.9M958.8 798.6h.9M964.4 800.2h.9M1017.2 784.7h.9M964.2 802.6h.9M966.5 797.8h.9M956.5 803.3h.9M991.8 796.0h.9M974.5 798.3h.9M952.8 803.1h.9M990.8 793.1h.9M1007.5 784.0h.9M1005.3 791.3h.9M964.9 797.1h.9M960.9 803.2h.9M979.7 794.1h.9M998.4 795.1h.9M945.9 804.2h.9M1008.7 789.0h.9M953.1 807.7h.9M965.3 797.8h.9M956.9 801.2h.9M976.7 797.5h.9M972.0 794.7h.9M996.6 792.7h.9M964.6 802.8h.9M990.7 795.4h.9M1006.1 786.3h.9M974.4 800.5h.9M985.4 797.4h.9M989.8 797.0h.9M960.5 799.7h.9M1026.8 780.7h.9M1023.8 787.0h.9M945.9 805.8h.9M1008.7 791.9h.9M981.6 793.5h.9M956.1 805.7h.9M1006.4 790.8h.9M959.9 799.8h.9M963.0 806.4h.9M986.9 799.1h.9M1020.5 784.7h.9M971.7 796.5h.9M988.6 801.4h.9M955.2 800.1h.9M1028.4 783.3h.9M1014.8 782.4h.9M1024.6 784.2h.9M951.3 806.8h.9M963.1 805.1h.9M943.8 803.7h.9M957.7 799.5h.9M963.1 799.7h.9M1015.9 787.8h.9M1010.2 786.3h.9M1018.9 790.5h.9M955.0 802.5h.9M979.8 797.7h.9M970.9 802.9h.9M987.0 796.3h.9M972.0 800.2h.9M1019.0 789.7h.9M1000.8 791.8h.9M962.0 801.1h.9M986.5 794.4h.9M969.6 800.2h.9M1004.4 787.8h.9M1019.3 791.2h.9M968.7 795.1h.9M981.2 798.9h.9M976.7 795.5h.9M983.7 792.1h.9M1005.0 792.7h.9M1022.4 784.4h.9M978.0 792.8h.9M988.7 802.4h.9M973.4 798.6h.9M1007.3 788.1h.9M978.2 793.1h.9M950.6 803.7h.9M1023.5 784.6h.9M949.0 807.0h.9M978.9 795.0h.9M1011.5 783.4h.9M1002.3 794.6h.9M979.6 799.4h.9M959.4 805.3h.9M1023.9 786.6h.9M948.8 804.7h.9M1015.9 781.8h.9M995.9 793.5h.9M1021.4 782.6h.9M976.6 802.1h.9M986.4 803.9h.9M968.1 798.4h.9M1000.4 794.2h.9M1007.5 786.9h.9M1023.6 783.4h.9M987.4 790.6h.9M1011.7 784.3h.9M952.1 805.2h.9M983.2 795.3h.9M970.1 794.2h.9M947.8 804.4h.9M966.4 799.8h.9M982.9 794.4h.9M1008.1 784.8h.9M1009.4 787.3h.9M1008.9 782.4h.9M961.7 798.8h.9M1010.3 782.0h.9M954.3 803.5h.9M1010.2 782.5h.9M969.0 797.9h.9M1008.1 786.3h.9M961.2 799.8h.9M970.1 798.9h.9M984.9 795.9h.9M977.5 796.6h.9M989.9 797.4h.9M992.4 791.0h.9M975.2 792.7h.9M1013.8 790.6h.9M945.6 809.5h.9M985.7 792.0h.9M1027.8 787.3h.9M1013.7 785.3h.9M992.6 792.6h.9M961.1 802.6h.9M961.0 802.8h.9M985.7 795.5h.9M1001.9 789.6h.9M986.4 797.3h.9M950.3 802.5h.9M944.5 804.8h.9M1002.7 790.1h.9M1000.3 790.9h.9M969.2 803.3h.9M1012.7 781.8h.9M1023.3 786.6h.9M1007.0 787.0h.9M997.9 793.8h.9M966.8 800.4h.9M969.1 800.3h.9M946.4 803.2h.9M1008.7 792.0h.9M1014.9 787.1h.9M958.2 803.2h.9M948.0 808.8h.9M1015.0 785.0h.9M944.6 807.7h.9M966.9 803.7h.9M1025.5 783.6h.9M972.5 798.9h.9M1022.1 782.6h.9M973.9 801.8h.9M1012.3 788.0h.9M993.8 792.3h.9M1014.4 787.6h.9M1022.7 782.4h.9M995.8 791.4h.9M1011.4 785.9h.9M976.1 799.1h.9M1024.6 780.7h.9M986.8 795.5h.9M1016.0 789.3h.9M958.9 802.4h.9M988.8 797.1h.9M990.7 794.3h.9M973.8 796.4h.9M1016.2 789.0h.9M998.8 790.6h.9M1006.0 785.3h.9M965.0 800.3h.9M969.1 803.6h.9M995.4 795.6h.9M988.5 792.3h.9M963.7 805.2h.9M1024.9 783.8h.9M1012.7 786.5h.9M1007.7 787.2h.9M949.5 807.1h.9M1001.9 791.8h.9M959.4 801.0h.9M1006.4 786.6h.9M963.4 804.9h.9M967.6 798.3h.9M993.2 796.5h.9M960.5 804.7h.9M980.4 798.6h.9M1019.8 784.7h.9M982.6 795.9h.9M968.4 797.2h.9M1005.7 789.3h.9M971.4 798.6h.9M950.9 806.9h.9M1020.6 789.8h.9M1021.5 787.0h.9M966.2 803.0h.9M942.9 806.2h.9M967.3 796.1h.9M975.2 799.7h.9M1001.6 787.3h.9M974.3 802.3h.9M951.7 805.6h.9M1026.3 780.3h.9M1002.6 788.5h.9M999.0 789.4h.9M1025.6 783.9h.9M1020.5 785.6h.9M954.7 803.3h.9M998.9 794.4h.9M979.8 797.5h.9M990.0 790.2h.9M968.4 799.5h.9M947.2 802.3h.9M994.8 794.2h.9M976.4 801.1h.9M980.7 793.7h.9M950.4 806.0h.9M973.7 798.4h.9M976.5 793.1h.9M963.6 796.5h.9M985.6 794.2h.9M960.7 805.7h.9M1001.9 795.3h.9M1027.9 782.6h.9M1000.7 787.3h.9M964.0 803.4h.9M945.7 808.0h.9M997.4 791.5h.9M1019.4 783.1h.9M1024.3 783.8h.9M1026.1 785.0h.9M980.7 794.7h.9M961.8 797.2h.9M1006.0 789.9h.9M977.2 799.9h.9M977.0 795.3h.9M974.7 800.6h.9M987.0 799.9h.9M1024.1 780.0h.9M1002.6 787.5h.9M1016.3 785.0h.9M1024.9 786.4h.9M974.8 802.1h.9M953.0 804.0h.9M979.9 800.9h.9M955.5 805.7h.9M954.1 801.5h.9M1008.3 793.6h.9M988.3 792.4h.9M965.7 797.9h.9M968.7 798.6h.9M988.4 790.5h.9M1010.3 789.3h.9M995.7 790.4h.9M958.4 799.2h.9M970.0 795.9h.9M963.1 798.0h.9M1009.6 788.0h.9M966.1 803.2h.9M986.2 794.6h.9M1000.6 793.5h.9M970.5 800.9h.9M988.5 798.1h.9M1012.3 784.1h.9M971.3 796.1h.9M999.6 790.3h.9M1010.8 787.9h.9M1005.8 789.2h.9M1021.1 783.4h.9M996.6 787.2h.9M982.2 796.9h.9M966.6 800.8h.9M1014.8 783.5h.9M1006.8 790.3h.9M1001.0 791.2h.9M911.3 805.3h.9M949.5 809.1h.9M958.3 805.1h.9M913.8 802.7h.9M1023.0 788.2h.9M1027.2 783.9h.9M1015.2 780.8h.9M1011.8 785.6h.9M991.2 797.8h.9M975.2 797.4h.9M987.0 795.4h.9" stroke="#4a55e0" stroke-width="1.15" stroke-opacity="1" fill="none"/>
<path d="M887.0 804.6h.9M907.3 803.5h.9M893.2 803.6h.9M888.9 804.7h.9M907.7 804.8h.9M892.3 804.5h.9M916.3 799.0h.9M908.6 799.8h.9M908.0 798.8h.9M912.9 796.4h.9M910.3 800.2h.9M884.8 808.6h.9M903.3 799.4h.9M915.1 799.3h.9M915.5 796.9h.9M888.6 803.3h.9M917.1 798.0h.9M907.2 797.4h.9M885.9 806.4h.9M898.1 808.0h.9M885.6 806.3h.9M916.2 796.3h.9M892.5 808.6h.9M910.9 800.9h.9M890.7 805.3h.9M901.9 799.8h.9M891.5 803.8h.9M910.4 796.4h.9M887.8 805.7h.9M906.2 798.7h.9M901.2 807.0h.9M883.1 808.8h.9M917.3 800.2h.9M903.7 806.5h.9M917.0 796.6h.9M915.3 798.4h.9M907.6 799.6h.9M910.7 800.7h.9M912.0 799.5h.9M890.0 805.9h.9M916.6 798.6h.9M891.3 809.8h.9M903.2 805.3h.9M914.8 795.1h.9M887.3 805.4h.9M912.6 799.8h.9M893.7 808.5h.9M887.4 804.9h.9M909.8 798.9h.9M913.6 795.2h.9M906.7 798.6h.9M904.4 798.0h.9M912.0 798.5h.9M891.4 803.6h.9M884.8 806.8h.9M912.8 800.5h.9M917.6 797.1h.9M913.5 796.1h.9M913.6 798.1h.9M891.2 809.1h.9M915.4 799.4h.9M910.3 797.8h.9M913.9 798.6h.9M886.3 805.8h.9M912.2 799.3h.9M918.2 798.3h.9M892.5 809.6h.9M883.3 808.7h.9M884.9 808.0h.9M894.1 809.8h.9M898.3 800.7h.9M894.1 808.1h.9M916.7 799.5h.9M891.5 802.7h.9M908.1 798.8h.9M908.3 803.3h.9M917.4 798.7h.9M900.4 800.3h.9M911.6 800.9h.9M911.5 796.3h.9M914.7 798.7h.9M913.5 801.1h.9M886.6 809.5h.9M917.9 796.5h.9M908.2 800.5h.9M910.1 801.3h.9M885.9 808.3h.9M913.9 800.5h.9M912.5 801.7h.9M886.4 808.1h.9M914.7 797.7h.9M907.9 799.0h.9M917.2 799.1h.9M909.3 798.9h.9M884.8 809.1h.9M915.1 799.5h.9M891.2 803.2h.9M909.6 797.2h.9M910.7 797.3h.9M885.3 808.4h.9M911.0 801.7h.9M890.5 802.0h.9M912.3 798.5h.9M915.8 796.6h.9M910.1 800.5h.9M905.4 805.3h.9M914.4 796.8h.9M908.4 801.4h.9M886.0 804.9h.9M916.5 797.4h.9M915.4 799.5h.9M903.3 805.8h.9M914.6 801.2h.9M915.7 797.4h.9M897.4 800.8h.9M914.8 798.0h.9M905.1 806.0h.9M906.5 804.9h.9M913.5 797.6h.9M896.3 807.0h.9M905.6 805.6h.9M893.5 809.0h.9M895.9 802.9h.9M892.5 808.5h.9M891.5 804.0h.9M912.3 800.6h.9M895.8 802.6h.9M901.9 800.3h.9M895.4 802.6h.9M898.8 800.8h.9M895.4 808.5h.9M900.1 807.4h.9M913.0 799.8h.9M891.2 808.4h.9M889.3 803.7h.9M899.4 807.4h.9M909.8 801.8h.9M907.8 798.0h.9M892.1 809.7h.9M903.7 806.1h.9M892.3 804.7h.9M894.3 802.9h.9M893.9 802.2h.9M890.6 852.3h.9M891.3 850.3h.9M892.0 864.0h.9M891.5 854.7h.9M890.7 844.3h.9M889.1 852.1h.9M888.5 861.1h.9M891.8 861.8h.9M882.0 846.1h.9M885.9 862.5h.9M881.8 862.0h.9M881.8 852.0h.9M885.8 860.6h.9M887.3 850.1h.9M884.7 862.1h.9M886.1 844.4h.9M888.6 852.5h.9M881.8 861.9h.9M892.6 851.2h.9M890.8 864.0h.9M882.0 863.2h.9M882.8 864.3h.9M881.8 851.0h.9M891.8 856.8h.9M886.9 859.0h.9M891.2 850.9h.9M891.2 859.2h.9M884.3 861.8h.9M891.1 862.6h.9M892.7 850.5h.9M884.5 861.5h.9M892.4 856.6h.9M890.0 845.6h.9M887.9 844.5h.9M889.6 861.0h.9M885.4 860.2h.9M890.4 848.1h.9M881.6 851.5h.9M890.9 852.3h.9M883.6 864.4h.9M891.1 860.1h.9M887.2 852.2h.9M890.8 848.7h.9M882.0 861.2h.9M884.6 862.7h.9M889.6 860.8h.9M892.0 847.5h.9M890.3 851.1h.9M883.7 863.9h.9M888.3 860.4h.9M890.1 859.8h.9M892.0 853.5h.9M890.3 862.3h.9M892.7 861.9h.9M891.8 848.0h.9M892.7 852.2h.9M881.6 864.7h.9M885.4 844.9h.9M892.7 857.0h.9M892.4 859.0h.9M892.5 860.4h.9M882.2 845.1h.9M889.3 844.3h.9M887.2 863.3h.9M885.7 863.3h.9M891.5 858.5h.9M881.9 846.4h.9M891.7 861.9h.9M890.2 848.1h.9M884.8 844.0h.9M888.6 863.5h.9M892.2 852.5h.9M891.3 854.3h.9M881.5 850.1h.9M892.2 854.2h.9M890.7 855.8h.9M886.1 845.0h.9M891.2 850.0h.9M881.7 850.3h.9M881.6 860.3h.9M890.7 848.3h.9M886.8 854.1h.9M891.2 847.3h.9M881.8 860.8h.9M892.6 850.6h.9M889.6 860.9h.9M887.3 862.7h.9M884.6 862.7h.9M890.9 861.8h.9M892.7 848.3h.9M891.0 850.8h.9M890.3 849.4h.9M888.3 849.8h.9M890.3 854.0h.9M891.0 855.3h.9M890.4 856.2h.9M884.3 845.0h.9M884.1 861.7h.9M887.1 853.6h.9M884.6 861.5h.9M883.7 862.9h.9M884.0 844.4h.9M892.2 855.8h.9M891.2 860.9h.9M884.7 843.1h.9M887.9 854.0h.9M885.4 843.5h.9M890.7 846.2h.9M891.9 845.2h.9M890.4 851.1h.9M886.0 845.9h.9M891.2 862.3h.9M890.2 853.2h.9M887.0 860.5h.9M881.8 864.0h.9M887.2 863.3h.9M886.2 854.5h.9M892.1 864.0h.9M891.9 864.5h.9M881.7 859.2h.9M881.8 859.8h.9M892.6 863.8h.9M881.8 863.4h.9M890.7 848.0h.9M892.6 849.6h.9M890.0 854.8h.9M890.8 863.2h.9M883.6 862.1h.9M889.8 855.4h.9M892.6 856.4h.9M890.3 859.7h.9M892.1 851.5h.9M891.8 864.1h.9M887.3 850.2h.9M881.6 850.8h.9M887.1 854.5h.9M888.1 863.4h.9M892.2 847.1h.9M890.9 849.5h.9M885.6 853.3h.9M886.9 859.8h.9M881.9 843.5h.9M890.9 850.5h.9M891.0 854.7h.9M891.9 856.9h.9M887.0 863.0h.9M890.1 851.2h.9M882.8 845.1h.9M886.7 861.3h.9M890.5 855.9h.9M892.7 847.1h.9M890.8 846.0h.9M882.2 863.9h.9M891.3 864.3h.9M887.3 850.8h.9M881.7 848.0h.9M889.3 844.8h.9M884.1 844.9h.9M891.6 863.7h.9M891.2 864.4h.9M881.6 844.9h.9M883.7 835.1h.9M883.9 836.9h.9M883.8 835.2h.9M882.8 832.6h.9M881.6 842.6h.9M883.3 836.9h.9M883.8 835.3h.9M882.9 839.9h.9M883.0 833.1h.9M882.0 835.2h.9M889.7 851.1h.9M892.8 860.5h.9M889.5 852.1h.9M889.3 852.1h.9M881.8 859.5h.9M881.8 837.9h.9M881.8 864.5h.9M881.8 863.2h.9M881.8 842.7h.9M881.8 832.5h.9M881.8 862.9h.9M881.8 844.3h.9M881.8 864.0h.9M881.8 836.2h.9M881.8 850.8h.9M881.8 859.7h.9M881.8 845.1h.9M881.8 833.8h.9M881.8 846.0h.9M881.8 836.9h.9M881.8 863.9h.9M881.8 843.2h.9M881.8 846.3h.9M881.8 849.1h.9M881.8 832.4h.9M881.8 854.4h.9M881.8 832.7h.9M881.8 845.5h.9M881.8 844.2h.9M881.8 837.9h.9M881.8 859.7h.9M881.8 852.3h.9M881.8 842.0h.9M881.8 833.0h.9M881.8 853.8h.9M881.8 833.0h.9M881.8 849.0h.9M881.8 853.9h.9M881.8 843.4h.9M881.8 864.9h.9M881.8 853.5h.9M990.0 807.3h.9M983.1 808.5h.9M977.3 813.7h.9M989.1 804.6h.9M953.6 827.4h.9M988.7 807.1h.9M953.2 825.4h.9M963.6 821.3h.9M983.2 810.2h.9M956.3 825.0h.9M979.4 811.6h.9M988.2 804.2h.9M969.8 818.1h.9M970.0 814.7h.9M984.5 806.2h.9M983.8 807.3h.9M967.7 819.9h.9M990.8 804.7h.9M982.2 809.9h.9M972.3 815.1h.9M966.3 817.8h.9M989.2 804.2h.9M968.3 815.2h.9M994.8 804.7h.9M981.6 807.5h.9M978.5 811.8h.9M962.0 821.8h.9M955.6 825.8h.9M989.6 807.8h.9M954.8 825.0h.9M980.4 811.9h.9M981.4 811.2h.9M973.6 814.8h.9M983.0 808.3h.9M983.5 808.4h.9M981.4 808.8h.9M976.3 811.0h.9M964.0 821.6h.9M968.3 814.2h.9M972.4 814.7h.9M960.4 823.2h.9M956.3 823.5h.9M959.8 822.0h.9M966.6 817.5h.9M992.9 803.6h.9M970.4 817.3h.9M969.9 818.6h.9M966.6 816.1h.9M963.1 821.3h.9M981.5 809.7h.9M950.9 829.2h.9M954.0 828.0h.9M989.7 805.5h.9M979.4 811.8h.9M968.2 819.4h.9M958.5 823.1h.9M961.3 822.4h.9M983.5 808.6h.9M988.3 808.9h.9M961.2 823.0h.9M986.6 808.7h.9M977.8 812.3h.9M985.2 808.5h.9M960.1 823.5h.9M971.9 814.1h.9M971.0 816.3h.9M978.4 812.8h.9M994.2 804.7h.9M950.9 829.8h.9M984.4 808.0h.9M991.9 804.5h.9M959.6 822.2h.9M977.8 812.2h.9M981.0 810.7h.9M978.5 809.1h.9M959.0 824.0h.9M955.8 826.9h.9M966.3 818.6h.9M988.6 806.4h.9M968.0 819.2h.9M970.4 817.5h.9M962.5 823.0h.9M970.5 815.7h.9M970.2 818.8h.9M972.1 816.5h.9M981.4 808.3h.9M956.4 824.0h.9M990.8 804.4h.9M987.6 806.3h.9M959.4 821.4h.9M956.9 826.0h.9M969.8 818.2h.9M987.1 808.3h.9M988.9 808.9h.9M971.8 815.3h.9M971.4 818.3h.9M954.8 826.2h.9M950.7 829.6h.9M954.9 826.1h.9M982.8 810.0h.9M968.8 815.8h.9M964.0 819.1h.9M988.5 804.9h.9M961.7 821.2h.9M966.8 820.9h.9M967.8 816.2h.9M959.9 821.3h.9M951.9 828.2h.9M986.7 808.3h.9M963.3 819.6h.9M994.0 804.7h.9M963.6 820.6h.9M984.5 806.7h.9M956.0 825.7h.9M966.2 818.5h.9M956.3 825.4h.9M953.1 828.5h.9M962.9 822.3h.9M955.6 826.9h.9M978.5 810.7h.9M952.4 826.9h.9M978.4 809.6h.9M952.3 828.9h.9M979.4 809.8h.9M970.4 816.1h.9M984.2 806.5h.9M955.3 825.3h.9M954.7 826.6h.9M966.8 820.5h.9M955.4 824.4h.9M987.5 807.1h.9M978.4 812.5h.9M981.9 809.4h.9M957.3 824.9h.9M971.4 816.3h.9M983.4 810.0h.9M959.6 822.0h.9M961.8 821.6h.9M985.4 808.4h.9M978.8 809.7h.9M961.6 823.3h.9M978.0 810.4h.9M985.7 808.3h.9M970.7 815.2h.9M957.5 825.0h.9M970.8 817.6h.9M972.4 816.3h.9M963.8 819.1h.9M972.3 814.3h.9M977.8 812.4h.9M971.2 814.7h.9M968.2 814.3h.9M981.8 808.4h.9M990.6 805.7h.9M958.0 824.9h.9M957.7 824.8h.9M984.4 806.3h.9M966.7 819.4h.9M982.1 808.9h.9M977.3 812.9h.9M963.3 820.7h.9M993.8 803.8h.9M981.9 809.2h.9M985.6 807.0h.9M962.4 822.2h.9M950.1 828.7h.9M977.6 811.9h.9M953.0 826.3h.9M959.7 823.2h.9M960.3 822.5h.9M987.4 806.8h.9M989.6 804.1h.9M998.8 791.4h.9M1018.8 786.4h.9M999.0 791.9h.9M1017.7 788.2h.9M978.2 798.5h.9M976.2 798.4h.9M1018.0 788.4h.9M1018.3 786.3h.9M1018.9 787.1h.9M965.3 802.5h.9M1018.0 787.7h.9M1016.3 786.3h.9M1018.2 788.8h.9M978.7 798.3h.9M965.1 801.9h.9M1018.5 785.7h.9M998.8 791.8h.9M999.2 792.5h.9M978.6 798.6h.9M1017.5 786.4h.9M999.7 792.8h.9M1018.3 786.3h.9M965.9 800.0h.9M966.0 801.4h.9M1017.6 788.5h.9M976.2 798.5h.9M1017.9 786.3h.9M982.2 808.8h.9M972.2 817.6h.9M980.5 811.5h.9" stroke="#1f3fe6" stroke-width="1.15" stroke-opacity="1" fill="none"/>
<path d="M905.0 803.9h.9M900.3 805.0h.9M894.5 806.1h.9M895.0 806.8h.9M886.8 806.3h.9M892.5 805.1h.9M887.7 808.8h.9M890.0 806.2h.9M903.2 800.4h.9M886.2 806.8h.9M906.1 803.7h.9M902.9 804.8h.9M898.8 802.3h.9M906.2 802.4h.9M911.9 799.8h.9M900.1 801.5h.9M887.7 807.0h.9M890.8 807.1h.9M887.2 806.1h.9M889.9 806.5h.9M898.1 806.5h.9M898.6 802.7h.9M895.7 806.9h.9M895.9 806.3h.9M905.3 804.0h.9M905.9 799.4h.9M889.3 808.4h.9M890.9 806.7h.9M907.5 802.8h.9M887.8 807.8h.9M894.3 804.5h.9M904.7 799.8h.9M894.9 807.0h.9M907.1 800.9h.9M910.5 799.5h.9M898.6 806.7h.9M889.0 806.7h.9M892.0 805.1h.9M890.2 808.9h.9M895.4 806.6h.9M889.1 807.7h.9M887.0 808.2h.9M889.1 808.8h.9M887.1 806.9h.9M903.8 801.4h.9M904.4 800.1h.9M889.4 807.4h.9M899.8 805.6h.9M886.5 806.9h.9M907.5 801.4h.9M901.0 801.7h.9M895.5 808.0h.9M888.2 807.2h.9M901.9 801.3h.9M905.8 801.0h.9M903.7 804.2h.9M889.3 806.0h.9M901.2 801.1h.9M889.1 806.9h.9M907.6 802.1h.9M910.3 799.3h.9M900.2 801.6h.9M906.8 802.5h.9M895.1 806.7h.9M895.5 807.4h.9M896.6 803.4h.9M911.3 799.1h.9M910.6 799.4h.9M905.3 804.8h.9M888.6 808.4h.9M894.2 805.9h.9M902.8 804.2h.9M904.9 800.2h.9M894.9 803.9h.9M891.9 807.5h.9M893.0 805.9h.9M886.9 807.4h.9M899.0 802.3h.9M889.7 808.3h.9M900.5 805.3h.9M903.9 801.5h.9M905.8 804.7h.9M904.6 804.3h.9M894.8 806.9h.9M906.2 803.7h.9M905.7 800.7h.9M888.3 808.6h.9M892.1 805.1h.9M891.5 805.5h.9M890.2 807.7h.9M897.9 806.9h.9M905.7 799.3h.9M886.1 806.7h.9M905.2 799.3h.9M889.3 807.8h.9M890.1 807.1h.9M888.7 808.2h.9M886.1 807.7h.9M904.1 800.9h.9M889.1 808.8h.9M888.4 807.5h.9M897.7 806.5h.9M907.5 800.7h.9M888.6 807.9h.9M900.3 805.2h.9M910.6 799.0h.9M898.2 802.7h.9M895.2 806.8h.9M895.7 803.9h.9M899.5 806.5h.9M904.3 800.1h.9M894.2 804.0h.9M896.3 803.9h.9M898.9 802.4h.9M905.5 799.1h.9M898.7 806.2h.9M900.7 805.5h.9M901.6 801.5h.9M906.9 801.0h.9M896.6 803.6h.9M906.6 802.7h.9M906.1 800.7h.9M893.4 807.0h.9M894.0 806.9h.9M894.3 807.5h.9M894.1 803.2h.9M902.4 804.9h.9M906.0 803.5h.9M903.8 800.2h.9M893.2 807.5h.9M903.2 800.9h.9M900.6 805.1h.9M898.6 803.0h.9M899.4 805.2h.9M891.0 806.2h.9M899.1 805.3h.9M894.0 804.1h.9M905.7 803.8h.9M898.8 805.8h.9M902.9 805.5h.9M904.5 803.5h.9M905.7 800.1h.9M901.3 801.9h.9M901.6 801.5h.9M904.3 803.6h.9M894.5 805.4h.9M896.9 803.6h.9M899.2 801.9h.9M883.2 852.3h.9M886.1 852.6h.9M883.6 858.5h.9M883.7 858.4h.9M885.9 857.4h.9M886.3 851.6h.9M883.9 846.1h.9M884.6 856.6h.9M886.6 845.2h.9M883.0 853.7h.9M884.3 854.7h.9M884.5 851.7h.9M887.3 855.9h.9M889.3 857.8h.9M889.8 857.9h.9M888.1 849.0h.9M886.5 853.3h.9M886.5 858.3h.9M885.7 848.3h.9M884.4 847.6h.9M886.3 845.0h.9M884.7 856.4h.9M887.4 856.1h.9M882.6 856.4h.9M882.2 859.1h.9M885.4 848.2h.9M885.5 849.7h.9M884.0 849.1h.9M887.6 847.6h.9M883.5 856.3h.9M889.8 860.0h.9M886.3 847.1h.9M887.0 850.3h.9M885.7 858.4h.9M885.5 859.4h.9M882.3 854.4h.9M886.0 850.9h.9M884.7 847.0h.9M885.2 856.5h.9M889.5 858.0h.9M883.0 848.3h.9M889.3 846.4h.9M888.0 845.9h.9M885.4 859.1h.9M889.6 859.3h.9M888.6 847.9h.9M887.6 848.8h.9M888.3 846.1h.9M888.3 856.1h.9M884.3 847.9h.9M888.3 858.4h.9M883.9 846.3h.9M885.8 852.7h.9M882.4 848.5h.9M887.8 845.1h.9M882.7 853.1h.9M883.8 855.4h.9M882.8 855.0h.9M882.4 855.7h.9M888.2 858.3h.9M888.1 847.0h.9M884.0 852.7h.9M883.2 857.6h.9M882.7 852.4h.9M884.8 849.1h.9M887.4 845.8h.9M887.6 848.0h.9M882.7 854.3h.9M883.0 856.3h.9M885.5 855.4h.9M883.3 848.3h.9M883.8 857.6h.9M886.6 849.9h.9M889.5 857.0h.9M883.9 845.5h.9M886.3 848.6h.9M883.5 847.0h.9M889.5 856.4h.9M889.4 859.7h.9M883.9 856.8h.9M886.2 848.8h.9M883.3 848.6h.9M883.8 852.9h.9M886.6 852.4h.9M887.3 858.7h.9M882.9 854.1h.9M887.6 849.4h.9M889.8 857.1h.9M887.3 856.5h.9M886.9 845.7h.9M889.5 846.5h.9M884.7 859.7h.9M887.8 856.0h.9M885.7 858.7h.9M882.1 857.1h.9M887.5 855.7h.9M883.3 847.2h.9M884.8 847.7h.9M889.4 846.5h.9M887.1 857.4h.9M890.2 858.6h.9M887.4 856.5h.9M882.2 850.7h.9M887.6 847.8h.9M881.8 856.7h.9M886.1 852.2h.9M884.1 852.2h.9M885.7 848.7h.9M881.7 856.1h.9M883.7 852.8h.9M886.3 856.7h.9M883.7 849.6h.9M883.5 850.6h.9M886.8 857.7h.9M884.0 855.0h.9M882.1 849.1h.9M887.0 852.1h.9M884.0 845.7h.9M888.6 845.6h.9M884.9 852.3h.9M883.3 859.5h.9M882.1 860.8h.9M885.3 849.9h.9M886.3 848.0h.9M883.5 860.0h.9M885.3 859.0h.9M886.9 855.9h.9M883.2 845.3h.9M884.7 848.6h.9M886.8 847.6h.9M885.0 850.1h.9M883.2 848.3h.9M886.8 852.1h.9M882.9 851.9h.9M883.6 856.5h.9M882.8 856.1h.9M884.3 859.7h.9M882.7 851.9h.9M881.8 858.8h.9M882.3 858.5h.9M889.3 858.3h.9M889.8 847.2h.9M886.0 851.5h.9M885.1 856.5h.9M887.8 845.5h.9M884.1 860.7h.9M888.9 845.3h.9M881.7 857.7h.9M882.7 848.2h.9M883.1 847.1h.9M888.3 858.0h.9M887.3 845.0h.9M885.2 849.8h.9M887.9 855.8h.9M890.9 857.1h.9M890.0 858.4h.9M883.9 848.6h.9M881.8 857.7h.9M881.8 856.1h.9M881.8 855.9h.9M881.8 857.6h.9M881.8 857.5h.9M881.8 858.2h.9M881.8 858.9h.9M881.8 855.4h.9M881.8 857.5h.9M881.8 857.0h.9M881.8 855.4h.9M881.8 856.8h.9M967.3 818.3h.9M967.8 817.3h.9M968.9 817.8h.9M968.7 817.0h.9M969.6 816.7h.9M968.3 817.3h.9M968.4 818.5h.9M969.6 816.9h.9M967.8 817.6h.9M969.5 817.7h.9M969.0 817.0h.9M968.0 818.6h.9M967.2 818.7h.9M968.2 818.1h.9M967.5 818.7h.9M968.9 817.3h.9" stroke="#2a7cf2" stroke-width="1.15" stroke-opacity="1" fill="none"/>
<path d="M902.9 802.6h.9M905.6 802.1h.9M901.2 804.9h.9M903.6 802.8h.9M901.2 802.2h.9M905.1 802.8h.9M900.7 804.4h.9M898.0 803.5h.9M904.1 801.3h.9M904.8 802.6h.9M895.6 805.0h.9M901.0 804.9h.9M901.6 803.3h.9M904.2 802.4h.9M901.2 804.4h.9M903.3 803.0h.9M906.0 802.9h.9M895.7 805.1h.9M900.6 804.3h.9M898.3 803.3h.9M897.5 805.6h.9M898.0 804.5h.9M902.7 802.2h.9M898.5 804.8h.9M895.8 804.4h.9M901.2 803.7h.9M905.8 802.0h.9M901.1 803.3h.9M895.6 804.3h.9M896.9 805.1h.9M900.2 804.3h.9M900.4 804.5h.9M903.8 804.0h.9M901.0 803.0h.9M895.7 805.6h.9M905.4 802.9h.9M897.5 804.3h.9M895.0 805.1h.9M898.8 804.2h.9M897.2 803.4h.9M903.4 803.7h.9M902.4 803.5h.9M897.5 805.4h.9M899.8 802.7h.9M895.5 804.5h.9M904.8 802.5h.9M896.5 805.5h.9M905.9 802.3h.9M898.2 803.1h.9M897.9 805.5h.9M897.7 803.6h.9M896.7 804.8h.9M899.3 803.0h.9M905.5 801.3h.9M904.9 801.3h.9M900.1 802.9h.9M903.6 802.4h.9M895.4 805.5h.9M901.7 802.9h.9M899.9 802.3h.9M895.2 804.6h.9" stroke="#45cdf3" stroke-width="1.15" stroke-opacity="1" fill="none"/>
<path d="M899.2 803.7h.9M900.7 803.2h.9M899.6 803.1h.9M899.8 804.0h.9M899.8 803.5h.9M901.0 803.7h.9M899.4 803.4h.9M899.1 804.7h.9M899.3 804.1h.9" stroke="#62ee9a" stroke-width="1.15" stroke-opacity="1" fill="none"/>
<ellipse cx="965.7" cy="800.6" rx="27" ry="12.5" transform="rotate(-8 965.7 800.6)" fill="none" stroke="#333" stroke-width="1.5"/>
<ellipse cx="987.7" cy="808" rx="50" ry="15.5" transform="rotate(-31 987.7 808)" fill="none" stroke="#333" stroke-width="1.5"/>
<text x="902.3" y="769.1" font-size="11.5" fill="#222" textLength="93.4" lengthAdjust="spacingAndGlyphs">Beads associated</text>
<text x="924.3" y="780" font-size="11.5" fill="#222" textLength="48.6" lengthAdjust="spacingAndGlyphs">with cells</text>
<text x="970" y="843.4" font-size="11.5" fill="#222" textLength="60" lengthAdjust="spacingAndGlyphs">Free beads</text>
<rect x="1083.2" y="728.6" width="163.9" height="164.2" fill="#fff" stroke="#c4c4c4" stroke-width="1"/>
<path d="M1084.0 892.1L1084.0 892.1L1084.5 892.1L1085.0 892.1L1085.5 892.1L1086.0 892.1L1086.5 892.1L1087.0 892.1L1087.5 892.1L1088.0 892.1L1088.5 892.1L1089.0 892.1L1089.5 892.1L1090.0 892.1L1090.5 892.1L1091.0 892.1L1091.5 892.1L1092.0 892.1L1092.5 892.1L1093.0 892.1L1093.5 892.1L1094.0 892.1L1094.5 892.1L1095.0 892.1L1095.5 892.1L1096.0 892.1L1096.5 892.1L1097.0 892.1L1097.5 892.1L1098.0 892.1L1098.5 892.1L1099.0 892.1L1099.5 892.1L1100.0 892.1L1100.5 892.1L1101.0 892.1L1101.5 892.1L1102.0 892.1L1102.5 892.1L1103.0 892.1L1103.5 892.1L1104.0 892.1L1104.5 892.1L1105.0 892.1L1105.5 892.1L1106.0 892.1L1106.5 892.1L1107.0 892.1L1107.5 892.1L1108.0 892.1L1108.5 892.1L1109.0 892.1L1109.5 892.1L1110.0 892.1L1110.5 892.1L1111.0 892.1L1111.5 892.1L1112.0 892.1L1112.5 892.1L1113.0 892.1L1113.5 892.1L1114.0 892.1L1114.5 892.1L1115.0 892.1L1115.5 892.1L1116.0 892.1L1116.5 892.1L1117.0 892.1L1117.5 892.1L1118.0 892.1L1118.5 892.1L1119.0 892.1L1119.5 892.1L1120.0 892.1L1120.5 891.7L1121.0 891.2L1121.5 890.8L1122.0 890.4L1122.5 889.9L1123.0 889.5L1123.5 890.0L1124.0 890.5L1124.5 891.0L1125.0 891.5L1125.5 891.1L1126.0 890.7L1126.5 890.2L1127.0 889.8L1127.5 889.4L1128.0 889.0L1128.5 889.5L1129.0 889.9L1129.5 890.4L1130.0 890.9L1130.5 891.3L1131.0 891.8L1131.5 891.0L1132.0 890.1L1132.5 889.3L1133.0 888.5L1133.5 889.3L1134.0 890.2L1134.5 891.0L1135.0 890.6L1135.5 890.2L1136.0 889.8L1136.5 889.4L1137.0 889.0L1137.5 889.4L1138.0 889.8L1138.5 890.2L1139.0 890.7L1139.5 891.1L1140.0 891.5L1140.5 890.6L1141.0 889.8L1141.5 888.9L1142.0 888.0L1142.5 888.8L1143.0 889.5L1143.5 890.2L1144.0 891.0L1144.5 890.4L1145.0 889.8L1145.5 889.2L1146.0 888.7L1146.5 888.1L1147.0 887.5L1147.5 888.1L1148.0 888.8L1148.5 889.4L1149.0 890.0L1149.5 889.1L1150.0 888.3L1150.5 885.4L1151.0 886.0L1151.5 884.8L1152.0 880.8L1152.5 877.0L1153.0 882.6L1153.5 882.0L1154.0 886.6L1154.5 886.7L1155.0 881.2L1155.5 881.2L1156.0 883.7L1156.5 885.1L1157.0 885.6L1157.5 883.8L1158.0 886.8L1158.5 886.3L1159.0 888.9L1159.5 879.1L1160.0 872.4L1160.5 877.8L1161.0 879.5L1161.5 884.7L1162.0 884.1L1162.5 881.7L1163.0 877.9L1163.5 876.2L1164.0 872.7L1164.5 871.5L1165.0 871.7L1165.5 864.8L1166.0 855.6L1166.5 848.2L1167.0 835.5L1167.5 822.8L1168.0 810.1L1168.6 789.8L1169.2 769.5L1169.9 789.8L1170.6 810.1L1171.1 830.2L1171.6 850.2L1172.1 858.9L1172.6 867.6L1173.1 876.3L1173.6 871.0L1174.1 865.6L1174.6 860.3L1175.2 842.1L1175.7 823.8L1176.3 805.6L1176.8 822.9L1177.3 840.2L1177.9 850.2L1178.6 858.8L1179.1 857.4L1179.6 857.7L1180.1 851.4L1180.6 845.8L1181.1 842.8L1181.6 847.3L1182.1 856.4L1182.6 858.6L1183.1 852.7L1183.6 843.5L1184.1 842.1L1184.6 833.8L1185.1 839.3L1185.6 842.1L1186.1 844.4L1186.6 842.9L1187.1 837.8L1187.6 839.2L1188.1 837.5L1188.6 837.1L1189.1 837.0L1189.6 851.4L1190.1 862.9L1190.6 858.4L1191.1 851.4L1191.6 858.9L1192.1 870.5L1192.6 859.1L1193.1 855.4L1193.6 856.8L1194.1 855.5L1194.6 865.9L1195.1 848.0L1195.6 832.6L1196.1 847.8L1196.6 858.5L1197.1 871.9L1197.6 883.9L1198.1 873.3L1198.6 872.5L1199.1 870.0L1199.6 871.5L1200.1 866.2L1200.6 859.3L1201.1 858.8L1201.6 861.6L1202.1 860.8L1202.6 867.5L1203.1 867.0L1203.6 871.2L1204.1 880.8L1204.6 891.8L1205.1 883.7L1205.6 879.2L1206.1 874.6L1206.6 872.1L1207.1 875.4L1207.6 880.3L1208.1 876.8L1208.6 887.6L1209.1 883.6L1209.6 886.8L1210.1 884.7L1210.7 887.5L1211.2 887.6L1211.7 886.5L1212.2 886.4L1212.7 885.6L1213.2 888.1L1213.7 888.3L1214.2 889.8L1214.7 889.7L1215.2 888.4L1215.7 887.5L1216.2 888.8L1216.7 890.3L1217.2 888.3L1217.7 890.7L1218.2 891.3L1218.7 891.5L1219.2 891.8L1219.7 892.0L1220.2 892.1L1220.7 892.1L1221.2 892.1L1221.7 892.1L1222.2 892.1L1222.7 892.1L1223.2 892.1L1223.7 892.1L1224.2 892.1L1224.8 892.1L1225.3 892.1L1225.8 892.1L1226.3 892.1L1226.8 892.1L1227.3 892.1L1227.8 892.1L1228.3 892.1L1228.8 892.1L1229.3 892.1L1229.8 892.1L1230.3 892.1L1230.8 892.1L1231.3 892.1L1231.8 892.1L1232.3 892.1L1232.8 892.1L1233.4 892.1L1233.9 892.1L1234.4 892.1L1234.9 892.1L1235.4 892.1L1235.9 892.1L1236.4 892.1L1236.9 892.1L1237.4 892.1L1237.9 892.1L1238.4 892.1L1238.9 892.1L1239.4 892.1L1239.9 892.1L1240.4 892.1L1240.9 892.1L1241.4 892.1L1242.0 892.1L1242.5 892.1L1243.0 892.1L1243.5 892.1L1244.0 892.1L1244.5 892.1L1245.0 892.1L1245.5 892.1L1245.5 892.1Z" fill="#9a9a9a" stroke="#111" stroke-width="1.1" stroke-linejoin="round"/>
<path d="M1077.8 743.3H1083.2M1077.8 792.8H1083.2M1077.8 843H1083.2M1077.8 892.1H1083.2M1080.5 892.1H1083.2M1080.5 879.7H1083.2M1080.5 867.3H1083.2M1080.5 854.9H1083.2M1080.5 842.5H1083.2M1080.5 830.1H1083.2M1080.5 817.7H1083.2M1080.5 805.3H1083.2M1080.5 792.9H1083.2M1080.5 780.5H1083.2M1080.5 768.1H1083.2M1080.5 755.7H1083.2M1080.5 743.3H1083.2M1090.3 892.8V897.5M1132.7 892.8V897.5M1176.7 892.8V897.5M1222.3 892.8V897.5M1085.0 892.8V895M1090.3 892.8V895M1095.6 892.8V895M1100.9 892.8V895M1106.2 892.8V895M1111.5 892.8V895M1116.8 892.8V895M1122.1 892.8V895M1127.4 892.8V895M1132.7 892.8V895M1138.0 892.8V895M1143.3 892.8V895M1148.6 892.8V895M1153.9 892.8V895M1159.2 892.8V895M1164.5 892.8V895M1169.8 892.8V895M1175.1 892.8V895M1180.4 892.8V895M1185.7 892.8V895M1191.0 892.8V895M1196.3 892.8V895M1201.6 892.8V895M1206.9 892.8V895M1212.2 892.8V895M1217.5 892.8V895M1222.8 892.8V895M1228.1 892.8V895M1233.4 892.8V895M1238.7 892.8V895M1244.0 892.8V895" stroke="#444" stroke-width="1" fill="none"/>
<text x="1076" y="745.1" font-size="5.8" fill="#666" text-anchor="end">60</text>
<text x="1076" y="794.6" font-size="5.8" fill="#666" text-anchor="end">40</text>
<text x="1076" y="844.8" font-size="5.8" fill="#666" text-anchor="end">20</text>
<text x="1076" y="893.9" font-size="5.8" fill="#666" text-anchor="end">0</text>
<text x="1090.3" y="906" font-size="5.8" fill="#666" text-anchor="middle">10<tspan dy="-3" font-size="4.5">0</tspan></text>
<text x="1132.7" y="906" font-size="5.8" fill="#666" text-anchor="middle">10<tspan dy="-3" font-size="4.5">2</tspan></text>
<text x="1176.7" y="906" font-size="5.8" fill="#666" text-anchor="middle">10<tspan dy="-3" font-size="4.5">4</tspan></text>
<text x="1222.3" y="906" font-size="5.8" fill="#666" text-anchor="middle">10<tspan dy="-3" font-size="4.5">6</tspan></text>
<text transform="translate(1062 829.2) rotate(-90)" font-size="12.5" fill="#333" textLength="31.4" lengthAdjust="spacingAndGlyphs">Count</text>
<text x="1149.2" y="922.7" font-size="12.5" fill="#333" textLength="25.9" lengthAdjust="spacingAndGlyphs">FITC</text>
<text x="1131.6" y="764.3" font-size="14" fill="#222" textLength="78.9" lengthAdjust="spacingAndGlyphs">Spike beads</text>
<path d="M1169.6 736.5V749.1" stroke="#333" stroke-width="1.3"/>
<defs><filter id="glow" x="-50%" y="-50%" width="200%" height="200%"><feGaussianBlur stdDeviation="0.8"/></filter><filter id="glow2" x="-50%" y="-50%" width="200%" height="200%"><feGaussianBlur stdDeviation="2"/></filter><filter id="bl3" x="-50%" y="-50%" width="200%" height="200%"><feGaussianBlur stdDeviation="2.5"/></filter><filter id="bl2" x="-50%" y="-50%" width="200%" height="200%"><feGaussianBlur stdDeviation="1.5"/></filter></defs>
</svg></body></html>
